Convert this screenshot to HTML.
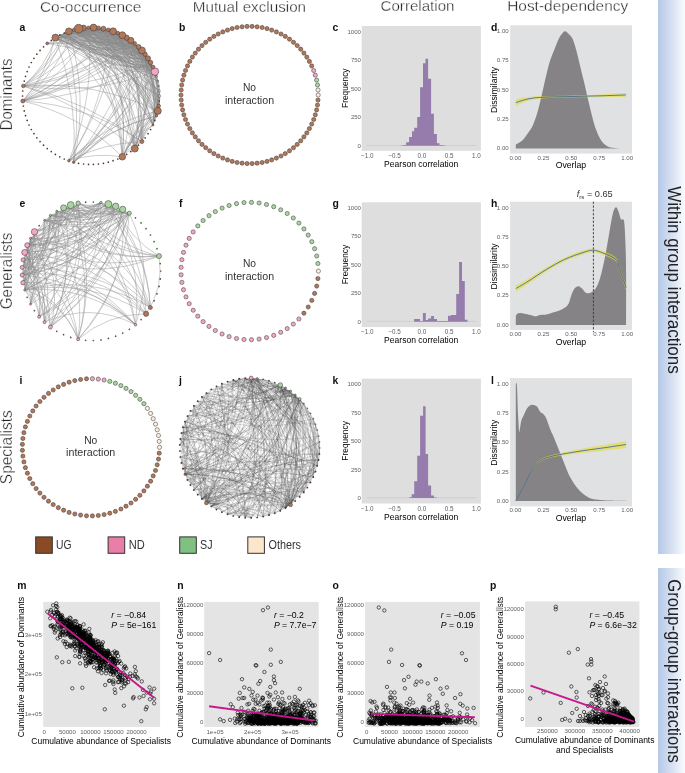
<!DOCTYPE html>
<html><head><meta charset="utf-8"><title>Figure</title><style>html,body{margin:0;padding:0;background:#fff;width:685px;height:773px;overflow:hidden}svg{display:block}text{font-family:"Liberation Sans",Arial,sans-serif}</style></head><body>
<svg width="685" height="773" viewBox="0 0 685 773">
<defs><linearGradient id="bg" x1="0" x2="1" y1="0" y2="0"><stop offset="0" stop-color="#b5c9e8"/><stop offset="0.5" stop-color="#d6e0f2"/><stop offset="1" stop-color="#f9fbfe"/></linearGradient></defs>
<rect x="658" y="0" width="27" height="554" fill="url(#bg)"/>
<rect x="658" y="568" width="27" height="205" fill="url(#bg)"/>
<text x="668" y="280" font-size="17.5" text-anchor="middle" fill="#222" textLength="187.6" lengthAdjust="spacingAndGlyphs" transform="rotate(90 668 280)">Within group interactions</text>
<text x="668" y="671" font-size="17.5" text-anchor="middle" fill="#222" textLength="183.4" lengthAdjust="spacingAndGlyphs" transform="rotate(90 668 671)">Group-group interactions</text>
<text x="90.7" y="11.6" font-size="15.3" text-anchor="middle" fill="#222" textLength="101.6" lengthAdjust="spacingAndGlyphs" stroke="#fff" stroke-width="0.35">Co-occurrence</text>
<text x="249.4" y="11.6" font-size="15.3" text-anchor="middle" fill="#222" textLength="113.3" lengthAdjust="spacingAndGlyphs" stroke="#fff" stroke-width="0.35">Mutual exclusion</text>
<text x="417.5" y="11.4" font-size="15.3" text-anchor="middle" fill="#222" textLength="73.9" lengthAdjust="spacingAndGlyphs" stroke="#fff" stroke-width="0.35">Correlation</text>
<text x="567.7" y="11.3" font-size="15.3" text-anchor="middle" fill="#222" textLength="121.1" lengthAdjust="spacingAndGlyphs" stroke="#fff" stroke-width="0.35">Host-dependency</text>
<text x="11.8" y="94.5" font-size="16.3" text-anchor="middle" fill="#222" textLength="72" lengthAdjust="spacingAndGlyphs" transform="rotate(-90 11.8 94.5)" stroke="#fff" stroke-width="0.35">Dominants</text>
<text x="11.8" y="271" font-size="16.3" text-anchor="middle" fill="#222" textLength="76.5" lengthAdjust="spacingAndGlyphs" transform="rotate(-90 11.8 271)" stroke="#fff" stroke-width="0.35">Generalists</text>
<text x="11.8" y="447.2" font-size="16.3" text-anchor="middle" fill="#222" textLength="74" lengthAdjust="spacingAndGlyphs" transform="rotate(-90 11.8 447.2)" stroke="#fff" stroke-width="0.35">Specialists</text>
<text x="19.4" y="30.8" font-size="10.4" fill="#111" font-weight="bold">a</text>
<text x="178.9" y="30.8" font-size="10.4" fill="#111" font-weight="bold">b</text>
<text x="332.4" y="30.8" font-size="10.4" fill="#111" font-weight="bold">c</text>
<text x="491" y="30.8" font-size="10.4" fill="#111" font-weight="bold">d</text>
<text x="19.4" y="207.2" font-size="10.4" fill="#111" font-weight="bold">e</text>
<text x="178.9" y="207.2" font-size="10.4" fill="#111" font-weight="bold">f</text>
<text x="332.4" y="207.2" font-size="10.4" fill="#111" font-weight="bold">g</text>
<text x="491" y="207.2" font-size="10.4" fill="#111" font-weight="bold">h</text>
<text x="19.4" y="383.6" font-size="10.4" fill="#111" font-weight="bold">i</text>
<text x="178.9" y="383.6" font-size="10.4" fill="#111" font-weight="bold">j</text>
<text x="332.4" y="383.6" font-size="10.4" fill="#111" font-weight="bold">k</text>
<text x="491" y="383.6" font-size="10.4" fill="#111" font-weight="bold">l</text>
<text x="17.2" y="589.3" font-size="10.4" fill="#111" font-weight="bold">m</text>
<text x="177.3" y="589.3" font-size="10.4" fill="#111" font-weight="bold">n</text>
<text x="332.4" y="589.3" font-size="10.4" fill="#111" font-weight="bold">o</text>
<text x="490" y="589.3" font-size="10.4" fill="#111" font-weight="bold">p</text>
<rect x="35.7" y="536.9" width="16.6" height="16.4" fill="#8b4a26" stroke="#333" stroke-width="1"/>
<rect x="108.1" y="536.9" width="16.6" height="16.4" fill="#e97fa8" stroke="#333" stroke-width="1"/>
<rect x="179.7" y="536.9" width="16.6" height="16.4" fill="#80c080" stroke="#333" stroke-width="1"/>
<rect x="247.8" y="536.9" width="16.6" height="16.4" fill="#fce6cc" stroke="#333" stroke-width="1"/>
<text x="56.1" y="549.3" font-size="12" fill="#333" textLength="15.5" lengthAdjust="spacingAndGlyphs">UG</text>
<text x="128.8" y="549.3" font-size="12" fill="#333" textLength="16" lengthAdjust="spacingAndGlyphs">ND</text>
<text x="200" y="549.3" font-size="12" fill="#333" textLength="12.5" lengthAdjust="spacingAndGlyphs">SJ</text>
<text x="268.5" y="549.3" font-size="12" fill="#333" textLength="32.5" lengthAdjust="spacingAndGlyphs">Others</text>
<rect x="361.7" y="26" width="119.2" height="124.8" fill="#dedede"/>
<line x1="367" y1="145.5" x2="476.5" y2="145.5" stroke="#c4b8d0" stroke-width="0.5"/>
<path d="M402.8 145.8V145.1H406.1V145.8ZM406.1 145.8V142.2H409.1V145.8ZM409.1 145.8V137.1H412V145.8ZM412 145.8V131.2H414.2V145.8ZM414.2 145.8V127.7H417.2V145.8ZM417.2 145.8V116.9H420.1V145.8ZM420.1 145.8V87.2H423V145.8ZM423 145.8V63.2H425.5V145.8ZM425.5 145.8V58.8H428.1V145.8ZM428.1 145.8V78.7H431.1V145.8ZM431.1 145.8V113.8H433.9V145.8ZM433.9 145.8V134.1H436.9V145.8ZM436.9 145.8V143.2H439.5V145.8ZM439.5 145.8V144.9H442.3V145.8ZM442.3 145.8V145.3H445.1V145.8ZM400 145.8V145.5H402.8V145.8Z" fill="#967cad"/>
<text x="360.9" y="33.8" font-size="6.0" text-anchor="end" fill="#606060">1000</text>
<text x="360.9" y="62.3" font-size="6.0" text-anchor="end" fill="#606060">750</text>
<text x="360.9" y="90.9" font-size="6.0" text-anchor="end" fill="#606060">500</text>
<text x="360.9" y="119.4" font-size="6.0" text-anchor="end" fill="#606060">250</text>
<text x="360.9" y="147.9" font-size="6.0" text-anchor="end" fill="#606060">0</text>
<text x="367.2" y="158" font-size="6.3" text-anchor="middle" fill="#606060">−1.0</text>
<text x="394.6" y="158" font-size="6.3" text-anchor="middle" fill="#606060">−0.5</text>
<text x="422" y="158" font-size="6.3" text-anchor="middle" fill="#606060">0.0</text>
<text x="449.2" y="158" font-size="6.3" text-anchor="middle" fill="#606060">0.5</text>
<text x="476.3" y="158" font-size="6.3" text-anchor="middle" fill="#606060">1.0</text>
<text x="348.1" y="88.2" font-size="9.2" text-anchor="middle" textLength="39.5" lengthAdjust="spacingAndGlyphs" transform="rotate(-90 348.1 88.2)">Frequency</text>
<text x="421.2" y="166.8" font-size="9.2" text-anchor="middle" textLength="74.2" lengthAdjust="spacingAndGlyphs">Pearson correlation</text>
<rect x="361.7" y="202.3" width="119.2" height="124.8" fill="#dedede"/>
<line x1="367" y1="321.4" x2="476.5" y2="321.4" stroke="#c4b8d0" stroke-width="0.5"/>
<path d="M414.1 321.7V319H420V321.7ZM420 321.7V321.1H422.9V321.7ZM422.9 321.7V313.1H425.8V321.7ZM425.8 321.7V320H428.1V321.7ZM428.1 321.7V318.6H431.1V321.7ZM431.1 321.7V315.9H434V321.7ZM434 321.7V319.1H437V321.7ZM437 321.7V321.1H445.1V321.7ZM445.1 321.7V320.9H448V321.7ZM448 321.7V315.8H451V321.7ZM451 321.7V315H456.2V321.7ZM456.2 321.7V293.9H459.1V321.7ZM459.1 321.7V262H462V321.7ZM462 321.7V281.1H464.8V321.7ZM464.8 321.7V319.7H467.5V321.7Z" fill="#967cad"/>
<text x="360.9" y="209.7" font-size="6.0" text-anchor="end" fill="#606060">1000</text>
<text x="360.9" y="238.2" font-size="6.0" text-anchor="end" fill="#606060">750</text>
<text x="360.9" y="266.8" font-size="6.0" text-anchor="end" fill="#606060">500</text>
<text x="360.9" y="295.3" font-size="6.0" text-anchor="end" fill="#606060">250</text>
<text x="360.9" y="323.8" font-size="6.0" text-anchor="end" fill="#606060">0</text>
<text x="367.2" y="334.3" font-size="6.3" text-anchor="middle" fill="#606060">−1.0</text>
<text x="394.6" y="334.3" font-size="6.3" text-anchor="middle" fill="#606060">−0.5</text>
<text x="422" y="334.3" font-size="6.3" text-anchor="middle" fill="#606060">0.0</text>
<text x="449.2" y="334.3" font-size="6.3" text-anchor="middle" fill="#606060">0.5</text>
<text x="476.3" y="334.3" font-size="6.3" text-anchor="middle" fill="#606060">1.0</text>
<text x="348.1" y="264.5" font-size="9.2" text-anchor="middle" textLength="39.5" lengthAdjust="spacingAndGlyphs" transform="rotate(-90 348.1 264.5)">Frequency</text>
<text x="421.2" y="343.1" font-size="9.2" text-anchor="middle" textLength="74.2" lengthAdjust="spacingAndGlyphs">Pearson correlation</text>
<rect x="361.7" y="378.7" width="119.2" height="124.8" fill="#dedede"/>
<line x1="367" y1="497.8" x2="476.5" y2="497.8" stroke="#c4b8d0" stroke-width="0.5"/>
<path d="M409.2 498.1V497.3H411.7V498.1ZM411.7 498.1V494.2H414.2V498.1ZM414.2 498.1V481.2H417.2V498.1ZM417.2 498.1V455.7H420.1V498.1ZM420.1 498.1V415.8H423.1V498.1ZM423.1 498.1V406.2H425.6V498.1ZM425.6 498.1V454.1H428.1V498.1ZM428.1 498.1V485.5H431.1V498.1ZM431.1 498.1V495.5H433.9V498.1ZM433.9 498.1V497.4H436.7V498.1Z" fill="#967cad"/>
<text x="360.9" y="386.1" font-size="6.0" text-anchor="end" fill="#606060">1000</text>
<text x="360.9" y="414.6" font-size="6.0" text-anchor="end" fill="#606060">750</text>
<text x="360.9" y="443.2" font-size="6.0" text-anchor="end" fill="#606060">500</text>
<text x="360.9" y="471.7" font-size="6.0" text-anchor="end" fill="#606060">250</text>
<text x="360.9" y="500.2" font-size="6.0" text-anchor="end" fill="#606060">0</text>
<text x="367.2" y="510.7" font-size="6.3" text-anchor="middle" fill="#606060">−1.0</text>
<text x="394.6" y="510.7" font-size="6.3" text-anchor="middle" fill="#606060">−0.5</text>
<text x="422" y="510.7" font-size="6.3" text-anchor="middle" fill="#606060">0.0</text>
<text x="449.2" y="510.7" font-size="6.3" text-anchor="middle" fill="#606060">0.5</text>
<text x="476.3" y="510.7" font-size="6.3" text-anchor="middle" fill="#606060">1.0</text>
<text x="348.1" y="440.9" font-size="9.2" text-anchor="middle" textLength="39.5" lengthAdjust="spacingAndGlyphs" transform="rotate(-90 348.1 440.9)">Frequency</text>
<text x="421.2" y="519.5" font-size="9.2" text-anchor="middle" textLength="74.2" lengthAdjust="spacingAndGlyphs">Pearson correlation</text>
<rect x="510.1" y="25.3" width="121.9" height="128.3" fill="#e0e1e3"/>
<path d="M515.8 144.5C516.3 144.2 517.8 143.6 519.1 142.7C520.4 141.8 522.2 140.7 523.7 139C525.2 137.3 526.7 135 528.2 132.7C529.7 130.4 531.3 128.8 532.8 125.4C534.3 122.1 535.9 117.8 537.4 112.6C538.9 107.4 540.4 100.7 541.9 94.3C543.4 87.9 545.1 79.9 546.5 74.3C547.9 68.7 548.7 64.9 550.1 60.6C551.5 56.3 553.2 52.5 554.7 48.7C556.2 44.9 557.9 40.5 559.3 37.8C560.7 35.1 561.8 33.8 562.9 32.7C564 31.6 564.8 31.2 565.7 31.4C566.6 31.6 567.4 32.7 568.4 33.8C569.4 34.9 570.9 35.9 572 37.8C573.1 39.7 573.9 42.2 574.8 45.1C575.7 48 576.4 50.9 577.5 55.1C578.6 59.4 580 65.6 581.2 70.6C582.4 75.6 583.6 80 584.8 85.2C586 90.4 587.3 96.4 588.5 101.6C589.7 106.8 590.9 111.6 592.1 116.2C593.3 120.8 594.4 125.2 595.8 129C597.2 132.8 598.8 136.4 600.3 139C601.8 141.6 603.2 143.1 604.9 144.5C606.6 145.9 608 146.9 610.4 147.6C612.8 148.2 616.9 148.2 619.5 148.4C622.1 148.6 624.8 148.5 625.9 148.5L625.9 148.6L515.8 148.6Z" fill="#858385"/>
<path d="M515.8 99.4C517.3 99.1 521.6 98.1 524.6 97.6C527.6 97.1 530.1 96.8 533.7 96.5C537.4 96.2 541.3 96.1 546.5 96C551.7 95.9 558.6 95.8 564.7 95.7C570.8 95.6 576.9 95.3 583 95.1C589.1 94.9 594.1 94.8 601.2 94.4C608.4 94 621.8 93.2 625.9 93L625.9 96.8C621.8 96.9 608.4 97.1 601.2 97.2C594.1 97.3 589.1 97.2 583 97.3C576.9 97.4 570.8 97.6 564.7 97.7C558.6 97.8 551.7 97.9 546.5 98.2C541.3 98.5 537.4 98.9 533.7 99.5C530.1 100.1 527.6 101 524.6 102C521.6 103 517.3 105.2 515.8 105.8Z" fill="#e4da30" fill-opacity="0.6"/>
<path d="M515.8 102.6C517.3 102.1 521.6 100.6 524.6 99.8C527.6 99 530.1 98.5 533.7 98C537.4 97.5 541.3 97.3 546.5 97.1C551.7 96.9 558.6 96.8 564.7 96.7C570.8 96.6 576.9 96.4 583 96.2C589.1 96 594.1 96 601.2 95.8C608.4 95.6 621.8 95.1 625.9 94.9" fill="none" stroke="#36609c" stroke-width="0.8"/>
<text x="508.7" y="33.1" font-size="6.1" text-anchor="end" fill="#606060">1.00</text>
<text x="508.7" y="62.4" font-size="6.1" text-anchor="end" fill="#606060">0.75</text>
<text x="508.7" y="91.6" font-size="6.1" text-anchor="end" fill="#606060">0.50</text>
<text x="508.7" y="120.8" font-size="6.1" text-anchor="end" fill="#606060">0.25</text>
<text x="508.7" y="150.1" font-size="6.1" text-anchor="end" fill="#606060">0.00</text>
<text x="515.4" y="159.5" font-size="6.1" text-anchor="middle" fill="#606060">0.00</text>
<text x="543.4" y="159.5" font-size="6.1" text-anchor="middle" fill="#606060">0.25</text>
<text x="571.3" y="159.5" font-size="6.1" text-anchor="middle" fill="#606060">0.50</text>
<text x="599.2" y="159.5" font-size="6.1" text-anchor="middle" fill="#606060">0.75</text>
<text x="627.2" y="159.5" font-size="6.1" text-anchor="middle" fill="#606060">1.00</text>
<text x="497.3" y="90" font-size="9.2" text-anchor="middle" textLength="46" lengthAdjust="spacingAndGlyphs" transform="rotate(-90 497.3 90)">Dissimilarity</text>
<text x="570.9" y="168.3" font-size="9.2" text-anchor="middle" textLength="30.5" lengthAdjust="spacingAndGlyphs">Overlap</text>
<rect x="510.1" y="201.7" width="121.9" height="128.3" fill="#e0e1e3"/>
<path d="M515.8 316C516 315.6 516.6 314.3 517.3 313.8C518 313.3 518.8 312.9 520 312.9C521.2 312.9 522.9 313.4 524.6 313.8C526.3 314.2 528.3 314.6 530.1 315C531.9 315.4 533.8 316.3 535.5 316.3C537.2 316.3 538.3 315.3 540.1 315C541.9 314.7 544.2 314.9 546.5 314.5C548.8 314.1 551.7 313 553.8 312.3C555.9 311.6 557.5 311.2 559.3 310.5C561.1 309.8 563.2 308.9 564.7 307.8C566.2 306.7 567.3 306.1 568.4 304.1C569.5 302.1 570.2 298.3 571.1 295.9C572 293.5 573 291 573.9 289.5C574.8 288 575.7 287.3 576.6 286.8C577.5 286.3 578.4 286.1 579.3 286.4C580.2 286.7 581.2 287.7 582.1 288.6C583 289.5 583.9 291.1 584.8 291.9C585.7 292.7 586.7 293 587.6 293.2C588.5 293.4 589.2 293.3 590.3 292.8C591.4 292.3 592.8 291.7 594 290.4C595.2 289.1 596.4 287.6 597.6 284.9C598.8 282.2 600 278.6 601.2 274C602.4 269.4 603.7 263.7 604.9 257.6C606.1 251.5 607.4 243.6 608.5 237.5C609.6 231.4 610.4 225.7 611.3 221.1C612.2 216.5 613 212.4 613.9 210.1C614.8 207.8 615.6 207.1 616.4 207.4C617.2 207.7 617.9 210 618.6 212C619.4 214 620.1 217.9 620.9 219.2C621.7 220.5 622.9 218.4 623.5 219.6C624.1 220.8 624.3 222.3 624.6 226.5C624.9 230.7 625.2 236.9 625.5 244.8C625.8 252.7 626 260.7 626.1 274C626.2 287.3 626.1 316.1 626.1 324.5L626.1 324.9L515.8 324.9Z" fill="#858385"/>
<path d="M515.8 285.6C517.9 284.5 523.1 281.9 528.2 278.8C533.3 275.8 540.4 270.8 546.5 267.3C552.6 263.7 558.6 260.3 564.7 257.5C570.8 254.7 578.3 252.1 583 250.6C587.7 249.1 589.6 248.3 593 248.4C596.4 248.5 599.3 249.6 603.1 251.1C606.9 252.6 613.1 254.9 615.8 257.4C618.5 259.9 617.8 261.7 619.5 266.3C621.2 270.9 625 281.8 626.1 284.9L626.1 290.5C625 287.2 621.2 275.6 619.5 270.7C617.8 265.8 618.5 264 615.8 261.4C613.1 258.8 606.9 256.4 603.1 254.9C599.3 253.4 596.4 252.3 593 252.2C589.6 252.1 587.7 252.9 583 254.4C578.3 255.9 570.8 258.4 564.7 261.3C558.6 264.1 552.6 267.8 546.5 271.5C540.4 275.2 533.3 280.4 528.2 283.8C523.1 287.2 517.9 290.3 515.8 291.6Z" fill="#e4da30" fill-opacity="0.6"/>
<path d="M515.8 288.6C517.9 287.4 523.1 284.5 528.2 281.3C533.3 278.1 540.4 273 546.5 269.4C552.6 265.8 558.6 262.2 564.7 259.4C570.8 256.6 578.3 254 583 252.5C587.7 251 589.6 250.2 593 250.3C596.4 250.4 599.3 251.5 603.1 253C606.9 254.5 613.1 256.8 615.8 259.4C618.5 262 617.8 263.8 619.5 268.5C621.2 273.2 625 284.5 626.1 287.7" fill="none" stroke="#36609c" stroke-width="0.8"/>
<line x1="593.4" y1="201.7" x2="593.4" y2="332" stroke="#333" stroke-width="0.9" stroke-dasharray="2.2 1.6"/>
<text x="508.7" y="209.5" font-size="6.1" text-anchor="end" fill="#606060">1.00</text>
<text x="508.7" y="238.8" font-size="6.1" text-anchor="end" fill="#606060">0.75</text>
<text x="508.7" y="268" font-size="6.1" text-anchor="end" fill="#606060">0.50</text>
<text x="508.7" y="297.2" font-size="6.1" text-anchor="end" fill="#606060">0.25</text>
<text x="508.7" y="326.5" font-size="6.1" text-anchor="end" fill="#606060">0.00</text>
<text x="515.4" y="335.9" font-size="6.1" text-anchor="middle" fill="#606060">0.00</text>
<text x="543.4" y="335.9" font-size="6.1" text-anchor="middle" fill="#606060">0.25</text>
<text x="571.3" y="335.9" font-size="6.1" text-anchor="middle" fill="#606060">0.50</text>
<text x="599.2" y="335.9" font-size="6.1" text-anchor="middle" fill="#606060">0.75</text>
<text x="627.2" y="335.9" font-size="6.1" text-anchor="middle" fill="#606060">1.00</text>
<text x="497.3" y="266.4" font-size="9.2" text-anchor="middle" textLength="46" lengthAdjust="spacingAndGlyphs" transform="rotate(-90 497.3 266.4)">Dissimilarity</text>
<text x="570.9" y="344.7" font-size="9.2" text-anchor="middle" textLength="30.5" lengthAdjust="spacingAndGlyphs">Overlap</text>
<text x="576.8" y="197.3" font-size="9.2" fill="#333"><tspan font-style="italic">f</tspan><tspan font-size="6" dy="2">rs</tspan><tspan dy="-2"> = 0.65</tspan></text>
<rect x="510.1" y="378.1" width="121.9" height="128.3" fill="#e0e1e3"/>
<path d="M515.8 384.3C516 384.4 516.5 380.3 516.9 385.2C517.3 390.1 517.6 405.8 518 413.5C518.4 421.2 518.8 429.3 519.1 431.7C519.4 434.1 519.6 429.9 520 428.1C520.4 426.3 520.7 422.9 521.3 420.8C521.9 418.7 522.7 417.4 523.7 415.3C524.7 413.2 526.1 409.7 527.3 408C528.5 406.3 529.8 405.3 531 404.9C532.2 404.4 533.5 404.9 534.6 405.3C535.7 405.7 536.5 406 537.4 407.1C538.3 408.2 539 410.5 540.1 411.7C541.2 412.9 542.7 413.2 543.8 414.4C544.9 415.6 545.5 416.6 546.5 419C547.5 421.4 548.9 426 550.1 429C551.3 432 552.6 434.3 553.8 437.2C555 440.1 556.2 443.2 557.4 446.3C558.6 449.4 559.9 452.4 561.1 455.5C562.3 458.6 563.5 461.6 564.7 464.6C565.9 467.6 567 470.8 568.4 473.7C569.8 476.6 571.5 479.5 573 481.9C574.5 484.3 575.8 486.3 577.5 488.3C579.2 490.3 581.2 492.3 583 493.8C584.8 495.3 586.4 496.4 588.5 497.4C590.6 498.4 592.8 499.1 595.8 499.6C598.8 500.1 601.7 500.3 606.7 500.5C611.8 500.7 622.9 500.7 626.1 500.7L626.1 501L515.8 501Z" fill="#858385"/>
<path d="M515.8 500.6C516.6 499 519.4 493.8 520.9 491C522.4 488.2 523.4 486.5 524.6 484C525.8 481.5 527 478.7 528.2 476.2C529.4 473.7 530.7 471.2 531.9 469.2C533.1 467.2 534.3 465.4 535.5 464C536.7 462.6 538 461.5 539.2 460.5C540.4 459.5 541.3 458.7 542.8 458C544.3 457.3 546.5 456.7 548.3 456.1C550.1 455.5 551.4 455.1 553.8 454.5C556.2 453.9 558 453.5 562.9 452.5C567.8 451.5 576.6 449.8 583 448.6C589.4 447.4 594 446.8 601.2 445.5C608.4 444.2 622 441.7 626.1 440.9L626.1 448.1C622 448.6 608.4 450.1 601.2 450.9C594 451.7 589.4 452 583 452.8C576.6 453.6 567.8 454.8 562.9 455.5C558 456.2 556.2 456.6 553.8 457.1C551.4 457.6 550.1 458 548.3 458.5C546.5 459 544.3 459.5 542.8 460.2C541.3 460.9 540.4 461.5 539.2 462.5C538 463.5 536.7 464.6 535.5 466C534.3 467.4 533.1 469 531.9 471C530.7 473 529.4 475.4 528.2 477.8C527 480.2 525.8 483 524.6 485.4C523.4 487.8 522.4 489.5 520.9 492.2C519.4 494.9 516.6 500 515.8 501.6Z" fill="#e4da30" fill-opacity="0.6"/>
<path d="M515.8 501.1C516.6 499.5 519.4 494.3 520.9 491.6C522.4 488.9 523.4 487.1 524.6 484.7C525.8 482.3 527 479.4 528.2 477C529.4 474.6 530.7 472.1 531.9 470.1C533.1 468.1 534.3 466.4 535.5 465C536.7 463.6 538 462.5 539.2 461.5C540.4 460.5 541.3 459.8 542.8 459.1C544.3 458.4 546.5 457.9 548.3 457.3C550.1 456.8 551.4 456.4 553.8 455.8C556.2 455.2 558 454.9 562.9 454C567.8 453.1 576.6 451.7 583 450.7C589.4 449.7 594 449.2 601.2 448.2C608.4 447.2 622 445.1 626.1 444.5" fill="none" stroke="#36609c" stroke-width="0.8"/>
<text x="508.7" y="385.9" font-size="6.1" text-anchor="end" fill="#606060">1.00</text>
<text x="508.7" y="415.2" font-size="6.1" text-anchor="end" fill="#606060">0.75</text>
<text x="508.7" y="444.4" font-size="6.1" text-anchor="end" fill="#606060">0.50</text>
<text x="508.7" y="473.7" font-size="6.1" text-anchor="end" fill="#606060">0.25</text>
<text x="508.7" y="502.9" font-size="6.1" text-anchor="end" fill="#606060">0.00</text>
<text x="515.4" y="512.3" font-size="6.1" text-anchor="middle" fill="#606060">0.00</text>
<text x="543.4" y="512.3" font-size="6.1" text-anchor="middle" fill="#606060">0.25</text>
<text x="571.3" y="512.3" font-size="6.1" text-anchor="middle" fill="#606060">0.50</text>
<text x="599.2" y="512.3" font-size="6.1" text-anchor="middle" fill="#606060">0.75</text>
<text x="627.2" y="512.3" font-size="6.1" text-anchor="middle" fill="#606060">1.00</text>
<text x="497.3" y="442.8" font-size="9.2" text-anchor="middle" textLength="46" lengthAdjust="spacingAndGlyphs" transform="rotate(-90 497.3 442.8)">Dissimilarity</text>
<text x="570.9" y="521.1" font-size="9.2" text-anchor="middle" textLength="30.5" lengthAdjust="spacingAndGlyphs">Overlap</text>
<rect x="43.2" y="601.9" width="116.9" height="125" fill="#e4e4e4"/>
<path d="M61 622a1.7 1.7 0 1 0 3.4 0a1.7 1.7 0 1 0 -3.4 0M62.2 622.4a1.7 1.7 0 1 0 3.4 0a1.7 1.7 0 1 0 -3.4 0M93.4 650.6a1.7 1.7 0 1 0 3.4 0a1.7 1.7 0 1 0 -3.4 0M86.6 662.4a1.7 1.7 0 1 0 3.4 0a1.7 1.7 0 1 0 -3.4 0M103 653.2a1.7 1.7 0 1 0 3.4 0a1.7 1.7 0 1 0 -3.4 0M79.1 640.7a1.7 1.7 0 1 0 3.4 0a1.7 1.7 0 1 0 -3.4 0M78.2 634.4a1.7 1.7 0 1 0 3.4 0a1.7 1.7 0 1 0 -3.4 0M87.1 651.2a1.7 1.7 0 1 0 3.4 0a1.7 1.7 0 1 0 -3.4 0M105.1 656.2a1.7 1.7 0 1 0 3.4 0a1.7 1.7 0 1 0 -3.4 0M96.9 644.6a1.7 1.7 0 1 0 3.4 0a1.7 1.7 0 1 0 -3.4 0M56.3 616.7a1.7 1.7 0 1 0 3.4 0a1.7 1.7 0 1 0 -3.4 0M72.7 644a1.7 1.7 0 1 0 3.4 0a1.7 1.7 0 1 0 -3.4 0M100.3 660.5a1.7 1.7 0 1 0 3.4 0a1.7 1.7 0 1 0 -3.4 0M99.9 657.6a1.7 1.7 0 1 0 3.4 0a1.7 1.7 0 1 0 -3.4 0M98.1 652.2a1.7 1.7 0 1 0 3.4 0a1.7 1.7 0 1 0 -3.4 0M68.9 634.4a1.7 1.7 0 1 0 3.4 0a1.7 1.7 0 1 0 -3.4 0M102.4 650.6a1.7 1.7 0 1 0 3.4 0a1.7 1.7 0 1 0 -3.4 0M78.4 635.1a1.7 1.7 0 1 0 3.4 0a1.7 1.7 0 1 0 -3.4 0M87 654.5a1.7 1.7 0 1 0 3.4 0a1.7 1.7 0 1 0 -3.4 0M126.9 679a1.7 1.7 0 1 0 3.4 0a1.7 1.7 0 1 0 -3.4 0M89.7 644a1.7 1.7 0 1 0 3.4 0a1.7 1.7 0 1 0 -3.4 0M95 652.1a1.7 1.7 0 1 0 3.4 0a1.7 1.7 0 1 0 -3.4 0M95.5 652.9a1.7 1.7 0 1 0 3.4 0a1.7 1.7 0 1 0 -3.4 0M76.9 643.9a1.7 1.7 0 1 0 3.4 0a1.7 1.7 0 1 0 -3.4 0M118 678.2a1.7 1.7 0 1 0 3.4 0a1.7 1.7 0 1 0 -3.4 0M75.6 625.5a1.7 1.7 0 1 0 3.4 0a1.7 1.7 0 1 0 -3.4 0M107.3 681a1.7 1.7 0 1 0 3.4 0a1.7 1.7 0 1 0 -3.4 0M82.6 644.5a1.7 1.7 0 1 0 3.4 0a1.7 1.7 0 1 0 -3.4 0M91.4 658.8a1.7 1.7 0 1 0 3.4 0a1.7 1.7 0 1 0 -3.4 0M69.6 624.8a1.7 1.7 0 1 0 3.4 0a1.7 1.7 0 1 0 -3.4 0M105.4 654.3a1.7 1.7 0 1 0 3.4 0a1.7 1.7 0 1 0 -3.4 0M92.4 667.2a1.7 1.7 0 1 0 3.4 0a1.7 1.7 0 1 0 -3.4 0M65.2 623.7a1.7 1.7 0 1 0 3.4 0a1.7 1.7 0 1 0 -3.4 0M96.6 651.2a1.7 1.7 0 1 0 3.4 0a1.7 1.7 0 1 0 -3.4 0M79.7 639.4a1.7 1.7 0 1 0 3.4 0a1.7 1.7 0 1 0 -3.4 0M66.9 626a1.7 1.7 0 1 0 3.4 0a1.7 1.7 0 1 0 -3.4 0M87.5 663.4a1.7 1.7 0 1 0 3.4 0a1.7 1.7 0 1 0 -3.4 0M95.7 662.4a1.7 1.7 0 1 0 3.4 0a1.7 1.7 0 1 0 -3.4 0M111.4 663a1.7 1.7 0 1 0 3.4 0a1.7 1.7 0 1 0 -3.4 0M90 655.3a1.7 1.7 0 1 0 3.4 0a1.7 1.7 0 1 0 -3.4 0M95.4 654.5a1.7 1.7 0 1 0 3.4 0a1.7 1.7 0 1 0 -3.4 0M104.8 657.5a1.7 1.7 0 1 0 3.4 0a1.7 1.7 0 1 0 -3.4 0M88.7 640.3a1.7 1.7 0 1 0 3.4 0a1.7 1.7 0 1 0 -3.4 0M79.9 644.5a1.7 1.7 0 1 0 3.4 0a1.7 1.7 0 1 0 -3.4 0M50.6 625.2a1.7 1.7 0 1 0 3.4 0a1.7 1.7 0 1 0 -3.4 0M87.8 641.8a1.7 1.7 0 1 0 3.4 0a1.7 1.7 0 1 0 -3.4 0M69.5 635.9a1.7 1.7 0 1 0 3.4 0a1.7 1.7 0 1 0 -3.4 0M67.8 625.3a1.7 1.7 0 1 0 3.4 0a1.7 1.7 0 1 0 -3.4 0M67.8 630.4a1.7 1.7 0 1 0 3.4 0a1.7 1.7 0 1 0 -3.4 0M95.2 653a1.7 1.7 0 1 0 3.4 0a1.7 1.7 0 1 0 -3.4 0M66.1 626.9a1.7 1.7 0 1 0 3.4 0a1.7 1.7 0 1 0 -3.4 0M68.1 617.7a1.7 1.7 0 1 0 3.4 0a1.7 1.7 0 1 0 -3.4 0M55.2 619.4a1.7 1.7 0 1 0 3.4 0a1.7 1.7 0 1 0 -3.4 0M60.4 617.3a1.7 1.7 0 1 0 3.4 0a1.7 1.7 0 1 0 -3.4 0M61.7 641.2a1.7 1.7 0 1 0 3.4 0a1.7 1.7 0 1 0 -3.4 0M106.6 651.9a1.7 1.7 0 1 0 3.4 0a1.7 1.7 0 1 0 -3.4 0M81.9 631.5a1.7 1.7 0 1 0 3.4 0a1.7 1.7 0 1 0 -3.4 0M88.5 640.7a1.7 1.7 0 1 0 3.4 0a1.7 1.7 0 1 0 -3.4 0M109.6 659.9a1.7 1.7 0 1 0 3.4 0a1.7 1.7 0 1 0 -3.4 0M87.9 648.2a1.7 1.7 0 1 0 3.4 0a1.7 1.7 0 1 0 -3.4 0M52.1 629a1.7 1.7 0 1 0 3.4 0a1.7 1.7 0 1 0 -3.4 0M85.4 647.2a1.7 1.7 0 1 0 3.4 0a1.7 1.7 0 1 0 -3.4 0M107.5 653.7a1.7 1.7 0 1 0 3.4 0a1.7 1.7 0 1 0 -3.4 0M97.4 646.9a1.7 1.7 0 1 0 3.4 0a1.7 1.7 0 1 0 -3.4 0M90.7 648.1a1.7 1.7 0 1 0 3.4 0a1.7 1.7 0 1 0 -3.4 0M117.9 661a1.7 1.7 0 1 0 3.4 0a1.7 1.7 0 1 0 -3.4 0M69.9 646.6a1.7 1.7 0 1 0 3.4 0a1.7 1.7 0 1 0 -3.4 0M85.1 643.3a1.7 1.7 0 1 0 3.4 0a1.7 1.7 0 1 0 -3.4 0M59.9 619.1a1.7 1.7 0 1 0 3.4 0a1.7 1.7 0 1 0 -3.4 0M95.7 647.4a1.7 1.7 0 1 0 3.4 0a1.7 1.7 0 1 0 -3.4 0M97.3 658.6a1.7 1.7 0 1 0 3.4 0a1.7 1.7 0 1 0 -3.4 0M112.9 651.4a1.7 1.7 0 1 0 3.4 0a1.7 1.7 0 1 0 -3.4 0M88.6 642.7a1.7 1.7 0 1 0 3.4 0a1.7 1.7 0 1 0 -3.4 0M113.1 663.4a1.7 1.7 0 1 0 3.4 0a1.7 1.7 0 1 0 -3.4 0M72.1 643.7a1.7 1.7 0 1 0 3.4 0a1.7 1.7 0 1 0 -3.4 0M100.1 661.9a1.7 1.7 0 1 0 3.4 0a1.7 1.7 0 1 0 -3.4 0M88 642.8a1.7 1.7 0 1 0 3.4 0a1.7 1.7 0 1 0 -3.4 0M59 620.8a1.7 1.7 0 1 0 3.4 0a1.7 1.7 0 1 0 -3.4 0M101.2 642.3a1.7 1.7 0 1 0 3.4 0a1.7 1.7 0 1 0 -3.4 0M91.1 662.3a1.7 1.7 0 1 0 3.4 0a1.7 1.7 0 1 0 -3.4 0M85.8 647.5a1.7 1.7 0 1 0 3.4 0a1.7 1.7 0 1 0 -3.4 0M67.7 631a1.7 1.7 0 1 0 3.4 0a1.7 1.7 0 1 0 -3.4 0M60.3 615.2a1.7 1.7 0 1 0 3.4 0a1.7 1.7 0 1 0 -3.4 0M95.1 668.5a1.7 1.7 0 1 0 3.4 0a1.7 1.7 0 1 0 -3.4 0M71.8 632.1a1.7 1.7 0 1 0 3.4 0a1.7 1.7 0 1 0 -3.4 0M99.5 654.3a1.7 1.7 0 1 0 3.4 0a1.7 1.7 0 1 0 -3.4 0M74.4 636.4a1.7 1.7 0 1 0 3.4 0a1.7 1.7 0 1 0 -3.4 0M61 631.3a1.7 1.7 0 1 0 3.4 0a1.7 1.7 0 1 0 -3.4 0M78.1 626.3a1.7 1.7 0 1 0 3.4 0a1.7 1.7 0 1 0 -3.4 0M81.6 633.9a1.7 1.7 0 1 0 3.4 0a1.7 1.7 0 1 0 -3.4 0M136.2 678.5a1.7 1.7 0 1 0 3.4 0a1.7 1.7 0 1 0 -3.4 0M88.5 638.6a1.7 1.7 0 1 0 3.4 0a1.7 1.7 0 1 0 -3.4 0M95.1 660a1.7 1.7 0 1 0 3.4 0a1.7 1.7 0 1 0 -3.4 0M93 658.1a1.7 1.7 0 1 0 3.4 0a1.7 1.7 0 1 0 -3.4 0M86.8 639.4a1.7 1.7 0 1 0 3.4 0a1.7 1.7 0 1 0 -3.4 0M92.3 648.5a1.7 1.7 0 1 0 3.4 0a1.7 1.7 0 1 0 -3.4 0M91.1 646.1a1.7 1.7 0 1 0 3.4 0a1.7 1.7 0 1 0 -3.4 0M78.3 626.1a1.7 1.7 0 1 0 3.4 0a1.7 1.7 0 1 0 -3.4 0M105.2 653.7a1.7 1.7 0 1 0 3.4 0a1.7 1.7 0 1 0 -3.4 0M95.8 649.5a1.7 1.7 0 1 0 3.4 0a1.7 1.7 0 1 0 -3.4 0M76.6 639.3a1.7 1.7 0 1 0 3.4 0a1.7 1.7 0 1 0 -3.4 0M79.1 631.3a1.7 1.7 0 1 0 3.4 0a1.7 1.7 0 1 0 -3.4 0M78.3 652a1.7 1.7 0 1 0 3.4 0a1.7 1.7 0 1 0 -3.4 0M113.9 653.3a1.7 1.7 0 1 0 3.4 0a1.7 1.7 0 1 0 -3.4 0M72.9 628.5a1.7 1.7 0 1 0 3.4 0a1.7 1.7 0 1 0 -3.4 0M58.4 637a1.7 1.7 0 1 0 3.4 0a1.7 1.7 0 1 0 -3.4 0M79.9 629.2a1.7 1.7 0 1 0 3.4 0a1.7 1.7 0 1 0 -3.4 0M104.3 663.4a1.7 1.7 0 1 0 3.4 0a1.7 1.7 0 1 0 -3.4 0M65.2 622.7a1.7 1.7 0 1 0 3.4 0a1.7 1.7 0 1 0 -3.4 0M97.6 647.9a1.7 1.7 0 1 0 3.4 0a1.7 1.7 0 1 0 -3.4 0M98.4 653.2a1.7 1.7 0 1 0 3.4 0a1.7 1.7 0 1 0 -3.4 0M101.8 665.2a1.7 1.7 0 1 0 3.4 0a1.7 1.7 0 1 0 -3.4 0M108.9 660.3a1.7 1.7 0 1 0 3.4 0a1.7 1.7 0 1 0 -3.4 0M79.8 644.1a1.7 1.7 0 1 0 3.4 0a1.7 1.7 0 1 0 -3.4 0M77.8 630.3a1.7 1.7 0 1 0 3.4 0a1.7 1.7 0 1 0 -3.4 0M77.8 632.3a1.7 1.7 0 1 0 3.4 0a1.7 1.7 0 1 0 -3.4 0M100.6 663.3a1.7 1.7 0 1 0 3.4 0a1.7 1.7 0 1 0 -3.4 0M106.4 652.6a1.7 1.7 0 1 0 3.4 0a1.7 1.7 0 1 0 -3.4 0M91.4 651.5a1.7 1.7 0 1 0 3.4 0a1.7 1.7 0 1 0 -3.4 0M65.9 619.9a1.7 1.7 0 1 0 3.4 0a1.7 1.7 0 1 0 -3.4 0M99.8 646.5a1.7 1.7 0 1 0 3.4 0a1.7 1.7 0 1 0 -3.4 0M87.7 648.4a1.7 1.7 0 1 0 3.4 0a1.7 1.7 0 1 0 -3.4 0M97.9 663.2a1.7 1.7 0 1 0 3.4 0a1.7 1.7 0 1 0 -3.4 0M78.1 641.7a1.7 1.7 0 1 0 3.4 0a1.7 1.7 0 1 0 -3.4 0M86.3 662.4a1.7 1.7 0 1 0 3.4 0a1.7 1.7 0 1 0 -3.4 0M104.9 670.6a1.7 1.7 0 1 0 3.4 0a1.7 1.7 0 1 0 -3.4 0M60.6 632.2a1.7 1.7 0 1 0 3.4 0a1.7 1.7 0 1 0 -3.4 0M111.7 675a1.7 1.7 0 1 0 3.4 0a1.7 1.7 0 1 0 -3.4 0M52.3 613.2a1.7 1.7 0 1 0 3.4 0a1.7 1.7 0 1 0 -3.4 0M79.5 645a1.7 1.7 0 1 0 3.4 0a1.7 1.7 0 1 0 -3.4 0M87.5 636.6a1.7 1.7 0 1 0 3.4 0a1.7 1.7 0 1 0 -3.4 0M77 645.6a1.7 1.7 0 1 0 3.4 0a1.7 1.7 0 1 0 -3.4 0M115.4 652.6a1.7 1.7 0 1 0 3.4 0a1.7 1.7 0 1 0 -3.4 0M89.9 644.1a1.7 1.7 0 1 0 3.4 0a1.7 1.7 0 1 0 -3.4 0M52.9 626.6a1.7 1.7 0 1 0 3.4 0a1.7 1.7 0 1 0 -3.4 0M89 655.8a1.7 1.7 0 1 0 3.4 0a1.7 1.7 0 1 0 -3.4 0M73.2 646.2a1.7 1.7 0 1 0 3.4 0a1.7 1.7 0 1 0 -3.4 0M93.2 657.2a1.7 1.7 0 1 0 3.4 0a1.7 1.7 0 1 0 -3.4 0M81 636.1a1.7 1.7 0 1 0 3.4 0a1.7 1.7 0 1 0 -3.4 0M93.8 640.1a1.7 1.7 0 1 0 3.4 0a1.7 1.7 0 1 0 -3.4 0M71 625.2a1.7 1.7 0 1 0 3.4 0a1.7 1.7 0 1 0 -3.4 0M82.8 638.8a1.7 1.7 0 1 0 3.4 0a1.7 1.7 0 1 0 -3.4 0M70.5 627.6a1.7 1.7 0 1 0 3.4 0a1.7 1.7 0 1 0 -3.4 0M51.4 605.3a1.7 1.7 0 1 0 3.4 0a1.7 1.7 0 1 0 -3.4 0M106.9 654.3a1.7 1.7 0 1 0 3.4 0a1.7 1.7 0 1 0 -3.4 0M53.8 630.7a1.7 1.7 0 1 0 3.4 0a1.7 1.7 0 1 0 -3.4 0M72.7 639.5a1.7 1.7 0 1 0 3.4 0a1.7 1.7 0 1 0 -3.4 0M105.7 653.6a1.7 1.7 0 1 0 3.4 0a1.7 1.7 0 1 0 -3.4 0M74.6 629.2a1.7 1.7 0 1 0 3.4 0a1.7 1.7 0 1 0 -3.4 0M69.4 622.3a1.7 1.7 0 1 0 3.4 0a1.7 1.7 0 1 0 -3.4 0M74.4 637a1.7 1.7 0 1 0 3.4 0a1.7 1.7 0 1 0 -3.4 0M84.3 665.9a1.7 1.7 0 1 0 3.4 0a1.7 1.7 0 1 0 -3.4 0M61 626a1.7 1.7 0 1 0 3.4 0a1.7 1.7 0 1 0 -3.4 0M87.8 657.9a1.7 1.7 0 1 0 3.4 0a1.7 1.7 0 1 0 -3.4 0M84.1 647.8a1.7 1.7 0 1 0 3.4 0a1.7 1.7 0 1 0 -3.4 0M81.9 624.4a1.7 1.7 0 1 0 3.4 0a1.7 1.7 0 1 0 -3.4 0M58.6 619.1a1.7 1.7 0 1 0 3.4 0a1.7 1.7 0 1 0 -3.4 0M77.3 633.3a1.7 1.7 0 1 0 3.4 0a1.7 1.7 0 1 0 -3.4 0M78.5 650.8a1.7 1.7 0 1 0 3.4 0a1.7 1.7 0 1 0 -3.4 0M58.2 635a1.7 1.7 0 1 0 3.4 0a1.7 1.7 0 1 0 -3.4 0M77.6 627.9a1.7 1.7 0 1 0 3.4 0a1.7 1.7 0 1 0 -3.4 0M80 634.1a1.7 1.7 0 1 0 3.4 0a1.7 1.7 0 1 0 -3.4 0M111.3 682.2a1.7 1.7 0 1 0 3.4 0a1.7 1.7 0 1 0 -3.4 0M98.5 666.4a1.7 1.7 0 1 0 3.4 0a1.7 1.7 0 1 0 -3.4 0M110.8 652.9a1.7 1.7 0 1 0 3.4 0a1.7 1.7 0 1 0 -3.4 0M110.2 671.3a1.7 1.7 0 1 0 3.4 0a1.7 1.7 0 1 0 -3.4 0M101.9 661a1.7 1.7 0 1 0 3.4 0a1.7 1.7 0 1 0 -3.4 0M102.7 664.8a1.7 1.7 0 1 0 3.4 0a1.7 1.7 0 1 0 -3.4 0M77.8 632.8a1.7 1.7 0 1 0 3.4 0a1.7 1.7 0 1 0 -3.4 0M63.3 635.3a1.7 1.7 0 1 0 3.4 0a1.7 1.7 0 1 0 -3.4 0M69.4 645.5a1.7 1.7 0 1 0 3.4 0a1.7 1.7 0 1 0 -3.4 0M91.8 648a1.7 1.7 0 1 0 3.4 0a1.7 1.7 0 1 0 -3.4 0M98.8 647.1a1.7 1.7 0 1 0 3.4 0a1.7 1.7 0 1 0 -3.4 0M88.4 635.7a1.7 1.7 0 1 0 3.4 0a1.7 1.7 0 1 0 -3.4 0M100.3 661.8a1.7 1.7 0 1 0 3.4 0a1.7 1.7 0 1 0 -3.4 0M83.6 638.4a1.7 1.7 0 1 0 3.4 0a1.7 1.7 0 1 0 -3.4 0M93.6 647.5a1.7 1.7 0 1 0 3.4 0a1.7 1.7 0 1 0 -3.4 0M58.3 617.4a1.7 1.7 0 1 0 3.4 0a1.7 1.7 0 1 0 -3.4 0M112.9 656.5a1.7 1.7 0 1 0 3.4 0a1.7 1.7 0 1 0 -3.4 0M69.6 628.4a1.7 1.7 0 1 0 3.4 0a1.7 1.7 0 1 0 -3.4 0M97.7 660.8a1.7 1.7 0 1 0 3.4 0a1.7 1.7 0 1 0 -3.4 0M98.3 651.2a1.7 1.7 0 1 0 3.4 0a1.7 1.7 0 1 0 -3.4 0M78 632.5a1.7 1.7 0 1 0 3.4 0a1.7 1.7 0 1 0 -3.4 0M91.6 645.4a1.7 1.7 0 1 0 3.4 0a1.7 1.7 0 1 0 -3.4 0M58.8 616.8a1.7 1.7 0 1 0 3.4 0a1.7 1.7 0 1 0 -3.4 0M71.4 629a1.7 1.7 0 1 0 3.4 0a1.7 1.7 0 1 0 -3.4 0M83.1 657.9a1.7 1.7 0 1 0 3.4 0a1.7 1.7 0 1 0 -3.4 0M107.9 670.4a1.7 1.7 0 1 0 3.4 0a1.7 1.7 0 1 0 -3.4 0M71.2 630a1.7 1.7 0 1 0 3.4 0a1.7 1.7 0 1 0 -3.4 0M65.5 628.4a1.7 1.7 0 1 0 3.4 0a1.7 1.7 0 1 0 -3.4 0M73.4 634.9a1.7 1.7 0 1 0 3.4 0a1.7 1.7 0 1 0 -3.4 0M101.9 650.7a1.7 1.7 0 1 0 3.4 0a1.7 1.7 0 1 0 -3.4 0M116.1 682.1a1.7 1.7 0 1 0 3.4 0a1.7 1.7 0 1 0 -3.4 0M96.5 657.8a1.7 1.7 0 1 0 3.4 0a1.7 1.7 0 1 0 -3.4 0M85.5 645.8a1.7 1.7 0 1 0 3.4 0a1.7 1.7 0 1 0 -3.4 0M77.6 631.3a1.7 1.7 0 1 0 3.4 0a1.7 1.7 0 1 0 -3.4 0M113.1 661.2a1.7 1.7 0 1 0 3.4 0a1.7 1.7 0 1 0 -3.4 0M94.6 657.5a1.7 1.7 0 1 0 3.4 0a1.7 1.7 0 1 0 -3.4 0M78.1 628.6a1.7 1.7 0 1 0 3.4 0a1.7 1.7 0 1 0 -3.4 0M123.4 666.3a1.7 1.7 0 1 0 3.4 0a1.7 1.7 0 1 0 -3.4 0M89.6 662a1.7 1.7 0 1 0 3.4 0a1.7 1.7 0 1 0 -3.4 0M110.5 662.1a1.7 1.7 0 1 0 3.4 0a1.7 1.7 0 1 0 -3.4 0M75.5 629.2a1.7 1.7 0 1 0 3.4 0a1.7 1.7 0 1 0 -3.4 0M97.8 647.4a1.7 1.7 0 1 0 3.4 0a1.7 1.7 0 1 0 -3.4 0M92.4 646.8a1.7 1.7 0 1 0 3.4 0a1.7 1.7 0 1 0 -3.4 0M61.6 618.5a1.7 1.7 0 1 0 3.4 0a1.7 1.7 0 1 0 -3.4 0M79.7 642.2a1.7 1.7 0 1 0 3.4 0a1.7 1.7 0 1 0 -3.4 0M60.6 619.5a1.7 1.7 0 1 0 3.4 0a1.7 1.7 0 1 0 -3.4 0M111.3 658.9a1.7 1.7 0 1 0 3.4 0a1.7 1.7 0 1 0 -3.4 0M106.3 658.3a1.7 1.7 0 1 0 3.4 0a1.7 1.7 0 1 0 -3.4 0M91.1 645.1a1.7 1.7 0 1 0 3.4 0a1.7 1.7 0 1 0 -3.4 0M90.7 642.9a1.7 1.7 0 1 0 3.4 0a1.7 1.7 0 1 0 -3.4 0M103.7 659.7a1.7 1.7 0 1 0 3.4 0a1.7 1.7 0 1 0 -3.4 0M84.7 642.1a1.7 1.7 0 1 0 3.4 0a1.7 1.7 0 1 0 -3.4 0M52.3 612.5a1.7 1.7 0 1 0 3.4 0a1.7 1.7 0 1 0 -3.4 0M58.1 627.5a1.7 1.7 0 1 0 3.4 0a1.7 1.7 0 1 0 -3.4 0M60.7 620.4a1.7 1.7 0 1 0 3.4 0a1.7 1.7 0 1 0 -3.4 0M73.3 621.1a1.7 1.7 0 1 0 3.4 0a1.7 1.7 0 1 0 -3.4 0M97.3 643.6a1.7 1.7 0 1 0 3.4 0a1.7 1.7 0 1 0 -3.4 0M96.7 641.2a1.7 1.7 0 1 0 3.4 0a1.7 1.7 0 1 0 -3.4 0M110.5 658a1.7 1.7 0 1 0 3.4 0a1.7 1.7 0 1 0 -3.4 0M75.8 624.8a1.7 1.7 0 1 0 3.4 0a1.7 1.7 0 1 0 -3.4 0M74.9 632.5a1.7 1.7 0 1 0 3.4 0a1.7 1.7 0 1 0 -3.4 0M102.7 664.1a1.7 1.7 0 1 0 3.4 0a1.7 1.7 0 1 0 -3.4 0M103.5 685a1.7 1.7 0 1 0 3.4 0a1.7 1.7 0 1 0 -3.4 0M80.9 638.1a1.7 1.7 0 1 0 3.4 0a1.7 1.7 0 1 0 -3.4 0M86.2 653.9a1.7 1.7 0 1 0 3.4 0a1.7 1.7 0 1 0 -3.4 0M90.7 650.6a1.7 1.7 0 1 0 3.4 0a1.7 1.7 0 1 0 -3.4 0M89.6 648.6a1.7 1.7 0 1 0 3.4 0a1.7 1.7 0 1 0 -3.4 0M59.3 632.7a1.7 1.7 0 1 0 3.4 0a1.7 1.7 0 1 0 -3.4 0M99.3 668.5a1.7 1.7 0 1 0 3.4 0a1.7 1.7 0 1 0 -3.4 0M73.8 627.3a1.7 1.7 0 1 0 3.4 0a1.7 1.7 0 1 0 -3.4 0M86.2 643.6a1.7 1.7 0 1 0 3.4 0a1.7 1.7 0 1 0 -3.4 0M75.4 637a1.7 1.7 0 1 0 3.4 0a1.7 1.7 0 1 0 -3.4 0M128.2 676.7a1.7 1.7 0 1 0 3.4 0a1.7 1.7 0 1 0 -3.4 0M66.8 628.4a1.7 1.7 0 1 0 3.4 0a1.7 1.7 0 1 0 -3.4 0M75.4 644.4a1.7 1.7 0 1 0 3.4 0a1.7 1.7 0 1 0 -3.4 0M84.5 639.6a1.7 1.7 0 1 0 3.4 0a1.7 1.7 0 1 0 -3.4 0M60.8 625.7a1.7 1.7 0 1 0 3.4 0a1.7 1.7 0 1 0 -3.4 0M75.6 637a1.7 1.7 0 1 0 3.4 0a1.7 1.7 0 1 0 -3.4 0M97.6 652.8a1.7 1.7 0 1 0 3.4 0a1.7 1.7 0 1 0 -3.4 0M67.5 628.9a1.7 1.7 0 1 0 3.4 0a1.7 1.7 0 1 0 -3.4 0M83.7 658.8a1.7 1.7 0 1 0 3.4 0a1.7 1.7 0 1 0 -3.4 0M100.2 644.1a1.7 1.7 0 1 0 3.4 0a1.7 1.7 0 1 0 -3.4 0M97.4 650.9a1.7 1.7 0 1 0 3.4 0a1.7 1.7 0 1 0 -3.4 0M102.1 655.7a1.7 1.7 0 1 0 3.4 0a1.7 1.7 0 1 0 -3.4 0M108.6 656.5a1.7 1.7 0 1 0 3.4 0a1.7 1.7 0 1 0 -3.4 0M73.2 637.1a1.7 1.7 0 1 0 3.4 0a1.7 1.7 0 1 0 -3.4 0M91.5 643.6a1.7 1.7 0 1 0 3.4 0a1.7 1.7 0 1 0 -3.4 0M90.4 648.8a1.7 1.7 0 1 0 3.4 0a1.7 1.7 0 1 0 -3.4 0M104 661.1a1.7 1.7 0 1 0 3.4 0a1.7 1.7 0 1 0 -3.4 0M91.3 642.8a1.7 1.7 0 1 0 3.4 0a1.7 1.7 0 1 0 -3.4 0M104.3 673.3a1.7 1.7 0 1 0 3.4 0a1.7 1.7 0 1 0 -3.4 0M67.7 628.5a1.7 1.7 0 1 0 3.4 0a1.7 1.7 0 1 0 -3.4 0M97.6 661.5a1.7 1.7 0 1 0 3.4 0a1.7 1.7 0 1 0 -3.4 0M105.2 655.8a1.7 1.7 0 1 0 3.4 0a1.7 1.7 0 1 0 -3.4 0M108.7 671.1a1.7 1.7 0 1 0 3.4 0a1.7 1.7 0 1 0 -3.4 0M88.2 661.9a1.7 1.7 0 1 0 3.4 0a1.7 1.7 0 1 0 -3.4 0M67.5 632.2a1.7 1.7 0 1 0 3.4 0a1.7 1.7 0 1 0 -3.4 0M100.5 659.6a1.7 1.7 0 1 0 3.4 0a1.7 1.7 0 1 0 -3.4 0M82.3 633.5a1.7 1.7 0 1 0 3.4 0a1.7 1.7 0 1 0 -3.4 0M56.2 614a1.7 1.7 0 1 0 3.4 0a1.7 1.7 0 1 0 -3.4 0M88.2 661.1a1.7 1.7 0 1 0 3.4 0a1.7 1.7 0 1 0 -3.4 0M100.3 650.8a1.7 1.7 0 1 0 3.4 0a1.7 1.7 0 1 0 -3.4 0M72.7 642a1.7 1.7 0 1 0 3.4 0a1.7 1.7 0 1 0 -3.4 0M85.9 645.2a1.7 1.7 0 1 0 3.4 0a1.7 1.7 0 1 0 -3.4 0M88.4 646a1.7 1.7 0 1 0 3.4 0a1.7 1.7 0 1 0 -3.4 0M74.7 626.9a1.7 1.7 0 1 0 3.4 0a1.7 1.7 0 1 0 -3.4 0M58.4 615.5a1.7 1.7 0 1 0 3.4 0a1.7 1.7 0 1 0 -3.4 0M95.5 651.9a1.7 1.7 0 1 0 3.4 0a1.7 1.7 0 1 0 -3.4 0M86.2 647.7a1.7 1.7 0 1 0 3.4 0a1.7 1.7 0 1 0 -3.4 0M80.5 635.2a1.7 1.7 0 1 0 3.4 0a1.7 1.7 0 1 0 -3.4 0M82 655.9a1.7 1.7 0 1 0 3.4 0a1.7 1.7 0 1 0 -3.4 0M68 629.4a1.7 1.7 0 1 0 3.4 0a1.7 1.7 0 1 0 -3.4 0M96.2 658.3a1.7 1.7 0 1 0 3.4 0a1.7 1.7 0 1 0 -3.4 0M67.4 624.3a1.7 1.7 0 1 0 3.4 0a1.7 1.7 0 1 0 -3.4 0M103.2 659a1.7 1.7 0 1 0 3.4 0a1.7 1.7 0 1 0 -3.4 0M54.3 614.4a1.7 1.7 0 1 0 3.4 0a1.7 1.7 0 1 0 -3.4 0M99.2 660.2a1.7 1.7 0 1 0 3.4 0a1.7 1.7 0 1 0 -3.4 0M86.8 655.2a1.7 1.7 0 1 0 3.4 0a1.7 1.7 0 1 0 -3.4 0M70.7 623.5a1.7 1.7 0 1 0 3.4 0a1.7 1.7 0 1 0 -3.4 0M122.7 667.1a1.7 1.7 0 1 0 3.4 0a1.7 1.7 0 1 0 -3.4 0M86.6 646.6a1.7 1.7 0 1 0 3.4 0a1.7 1.7 0 1 0 -3.4 0M115.3 669.6a1.7 1.7 0 1 0 3.4 0a1.7 1.7 0 1 0 -3.4 0M134.1 671.2a1.7 1.7 0 1 0 3.4 0a1.7 1.7 0 1 0 -3.4 0M76.5 631.4a1.7 1.7 0 1 0 3.4 0a1.7 1.7 0 1 0 -3.4 0M74.6 648.3a1.7 1.7 0 1 0 3.4 0a1.7 1.7 0 1 0 -3.4 0M68.3 644.6a1.7 1.7 0 1 0 3.4 0a1.7 1.7 0 1 0 -3.4 0M96 648.7a1.7 1.7 0 1 0 3.4 0a1.7 1.7 0 1 0 -3.4 0M110.2 668.3a1.7 1.7 0 1 0 3.4 0a1.7 1.7 0 1 0 -3.4 0M56.9 613a1.7 1.7 0 1 0 3.4 0a1.7 1.7 0 1 0 -3.4 0M101.5 655.3a1.7 1.7 0 1 0 3.4 0a1.7 1.7 0 1 0 -3.4 0M85.6 642.4a1.7 1.7 0 1 0 3.4 0a1.7 1.7 0 1 0 -3.4 0M99 668.1a1.7 1.7 0 1 0 3.4 0a1.7 1.7 0 1 0 -3.4 0M68.8 625a1.7 1.7 0 1 0 3.4 0a1.7 1.7 0 1 0 -3.4 0M111.8 680.4a1.7 1.7 0 1 0 3.4 0a1.7 1.7 0 1 0 -3.4 0M77.8 629.4a1.7 1.7 0 1 0 3.4 0a1.7 1.7 0 1 0 -3.4 0M88 639.1a1.7 1.7 0 1 0 3.4 0a1.7 1.7 0 1 0 -3.4 0M54.6 603.4a1.7 1.7 0 1 0 3.4 0a1.7 1.7 0 1 0 -3.4 0M89.8 645.8a1.7 1.7 0 1 0 3.4 0a1.7 1.7 0 1 0 -3.4 0M68.9 618.3a1.7 1.7 0 1 0 3.4 0a1.7 1.7 0 1 0 -3.4 0M67.7 621.3a1.7 1.7 0 1 0 3.4 0a1.7 1.7 0 1 0 -3.4 0M81.1 635.7a1.7 1.7 0 1 0 3.4 0a1.7 1.7 0 1 0 -3.4 0M90.1 648.9a1.7 1.7 0 1 0 3.4 0a1.7 1.7 0 1 0 -3.4 0M66.2 624.5a1.7 1.7 0 1 0 3.4 0a1.7 1.7 0 1 0 -3.4 0M68.1 628a1.7 1.7 0 1 0 3.4 0a1.7 1.7 0 1 0 -3.4 0M88.5 650a1.7 1.7 0 1 0 3.4 0a1.7 1.7 0 1 0 -3.4 0M76.4 637.7a1.7 1.7 0 1 0 3.4 0a1.7 1.7 0 1 0 -3.4 0M102.2 653.1a1.7 1.7 0 1 0 3.4 0a1.7 1.7 0 1 0 -3.4 0M91.4 650.6a1.7 1.7 0 1 0 3.4 0a1.7 1.7 0 1 0 -3.4 0M78.4 649.9a1.7 1.7 0 1 0 3.4 0a1.7 1.7 0 1 0 -3.4 0M83.8 633a1.7 1.7 0 1 0 3.4 0a1.7 1.7 0 1 0 -3.4 0M111.7 684a1.7 1.7 0 1 0 3.4 0a1.7 1.7 0 1 0 -3.4 0M73.4 638.2a1.7 1.7 0 1 0 3.4 0a1.7 1.7 0 1 0 -3.4 0M81.2 637.7a1.7 1.7 0 1 0 3.4 0a1.7 1.7 0 1 0 -3.4 0M91.9 641a1.7 1.7 0 1 0 3.4 0a1.7 1.7 0 1 0 -3.4 0M79.3 649.1a1.7 1.7 0 1 0 3.4 0a1.7 1.7 0 1 0 -3.4 0M74.6 621.4a1.7 1.7 0 1 0 3.4 0a1.7 1.7 0 1 0 -3.4 0M84.7 648.2a1.7 1.7 0 1 0 3.4 0a1.7 1.7 0 1 0 -3.4 0M120.1 679.6a1.7 1.7 0 1 0 3.4 0a1.7 1.7 0 1 0 -3.4 0M69.2 624.3a1.7 1.7 0 1 0 3.4 0a1.7 1.7 0 1 0 -3.4 0M86.3 643.2a1.7 1.7 0 1 0 3.4 0a1.7 1.7 0 1 0 -3.4 0M83.9 663.8a1.7 1.7 0 1 0 3.4 0a1.7 1.7 0 1 0 -3.4 0M108.3 680.6a1.7 1.7 0 1 0 3.4 0a1.7 1.7 0 1 0 -3.4 0M61.8 620.5a1.7 1.7 0 1 0 3.4 0a1.7 1.7 0 1 0 -3.4 0M74.3 636.7a1.7 1.7 0 1 0 3.4 0a1.7 1.7 0 1 0 -3.4 0M87 644.5a1.7 1.7 0 1 0 3.4 0a1.7 1.7 0 1 0 -3.4 0M88.3 652.1a1.7 1.7 0 1 0 3.4 0a1.7 1.7 0 1 0 -3.4 0M55.4 611.7a1.7 1.7 0 1 0 3.4 0a1.7 1.7 0 1 0 -3.4 0M104.4 660.2a1.7 1.7 0 1 0 3.4 0a1.7 1.7 0 1 0 -3.4 0M109.5 664.3a1.7 1.7 0 1 0 3.4 0a1.7 1.7 0 1 0 -3.4 0M77.9 638.3a1.7 1.7 0 1 0 3.4 0a1.7 1.7 0 1 0 -3.4 0M82.1 635.9a1.7 1.7 0 1 0 3.4 0a1.7 1.7 0 1 0 -3.4 0M83.2 637.3a1.7 1.7 0 1 0 3.4 0a1.7 1.7 0 1 0 -3.4 0M98.4 652.9a1.7 1.7 0 1 0 3.4 0a1.7 1.7 0 1 0 -3.4 0M92.4 645.3a1.7 1.7 0 1 0 3.4 0a1.7 1.7 0 1 0 -3.4 0M99.7 654.5a1.7 1.7 0 1 0 3.4 0a1.7 1.7 0 1 0 -3.4 0M121.6 673a1.7 1.7 0 1 0 3.4 0a1.7 1.7 0 1 0 -3.4 0M88.7 635.1a1.7 1.7 0 1 0 3.4 0a1.7 1.7 0 1 0 -3.4 0M113.3 664.1a1.7 1.7 0 1 0 3.4 0a1.7 1.7 0 1 0 -3.4 0M106.2 652.3a1.7 1.7 0 1 0 3.4 0a1.7 1.7 0 1 0 -3.4 0M105.8 650.9a1.7 1.7 0 1 0 3.4 0a1.7 1.7 0 1 0 -3.4 0M81.9 634.9a1.7 1.7 0 1 0 3.4 0a1.7 1.7 0 1 0 -3.4 0M63.2 644a1.7 1.7 0 1 0 3.4 0a1.7 1.7 0 1 0 -3.4 0M73.5 628.3a1.7 1.7 0 1 0 3.4 0a1.7 1.7 0 1 0 -3.4 0M89.1 635.3a1.7 1.7 0 1 0 3.4 0a1.7 1.7 0 1 0 -3.4 0M86.2 651.6a1.7 1.7 0 1 0 3.4 0a1.7 1.7 0 1 0 -3.4 0M73.5 635.8a1.7 1.7 0 1 0 3.4 0a1.7 1.7 0 1 0 -3.4 0M89.9 653.4a1.7 1.7 0 1 0 3.4 0a1.7 1.7 0 1 0 -3.4 0M86.4 641.1a1.7 1.7 0 1 0 3.4 0a1.7 1.7 0 1 0 -3.4 0M65.5 633a1.7 1.7 0 1 0 3.4 0a1.7 1.7 0 1 0 -3.4 0M77.3 637.8a1.7 1.7 0 1 0 3.4 0a1.7 1.7 0 1 0 -3.4 0M70.7 636.5a1.7 1.7 0 1 0 3.4 0a1.7 1.7 0 1 0 -3.4 0M82.2 647.1a1.7 1.7 0 1 0 3.4 0a1.7 1.7 0 1 0 -3.4 0M68.3 646.1a1.7 1.7 0 1 0 3.4 0a1.7 1.7 0 1 0 -3.4 0M89.3 658.2a1.7 1.7 0 1 0 3.4 0a1.7 1.7 0 1 0 -3.4 0M108.9 674.1a1.7 1.7 0 1 0 3.4 0a1.7 1.7 0 1 0 -3.4 0M69 637.3a1.7 1.7 0 1 0 3.4 0a1.7 1.7 0 1 0 -3.4 0M83.3 630.9a1.7 1.7 0 1 0 3.4 0a1.7 1.7 0 1 0 -3.4 0M86.4 643.4a1.7 1.7 0 1 0 3.4 0a1.7 1.7 0 1 0 -3.4 0M100.8 654.9a1.7 1.7 0 1 0 3.4 0a1.7 1.7 0 1 0 -3.4 0M87.7 656.5a1.7 1.7 0 1 0 3.4 0a1.7 1.7 0 1 0 -3.4 0M77.6 656.8a1.7 1.7 0 1 0 3.4 0a1.7 1.7 0 1 0 -3.4 0M83.5 646.7a1.7 1.7 0 1 0 3.4 0a1.7 1.7 0 1 0 -3.4 0M70.9 627.2a1.7 1.7 0 1 0 3.4 0a1.7 1.7 0 1 0 -3.4 0M100.8 650.2a1.7 1.7 0 1 0 3.4 0a1.7 1.7 0 1 0 -3.4 0M110.2 672.1a1.7 1.7 0 1 0 3.4 0a1.7 1.7 0 1 0 -3.4 0M100 654.9a1.7 1.7 0 1 0 3.4 0a1.7 1.7 0 1 0 -3.4 0M90.6 647.5a1.7 1.7 0 1 0 3.4 0a1.7 1.7 0 1 0 -3.4 0M65.2 619.6a1.7 1.7 0 1 0 3.4 0a1.7 1.7 0 1 0 -3.4 0M88.7 661a1.7 1.7 0 1 0 3.4 0a1.7 1.7 0 1 0 -3.4 0M77.3 635.5a1.7 1.7 0 1 0 3.4 0a1.7 1.7 0 1 0 -3.4 0M90.9 653.6a1.7 1.7 0 1 0 3.4 0a1.7 1.7 0 1 0 -3.4 0M87.6 628.9a1.7 1.7 0 1 0 3.4 0a1.7 1.7 0 1 0 -3.4 0M103.9 656.2a1.7 1.7 0 1 0 3.4 0a1.7 1.7 0 1 0 -3.4 0M74.5 636.9a1.7 1.7 0 1 0 3.4 0a1.7 1.7 0 1 0 -3.4 0M97.2 658.7a1.7 1.7 0 1 0 3.4 0a1.7 1.7 0 1 0 -3.4 0M82.8 641.9a1.7 1.7 0 1 0 3.4 0a1.7 1.7 0 1 0 -3.4 0M81 633a1.7 1.7 0 1 0 3.4 0a1.7 1.7 0 1 0 -3.4 0M109.7 667.1a1.7 1.7 0 1 0 3.4 0a1.7 1.7 0 1 0 -3.4 0M87.3 634.5a1.7 1.7 0 1 0 3.4 0a1.7 1.7 0 1 0 -3.4 0M100.9 652.5a1.7 1.7 0 1 0 3.4 0a1.7 1.7 0 1 0 -3.4 0M118.4 675.2a1.7 1.7 0 1 0 3.4 0a1.7 1.7 0 1 0 -3.4 0M61.5 631.8a1.7 1.7 0 1 0 3.4 0a1.7 1.7 0 1 0 -3.4 0M94.8 647.8a1.7 1.7 0 1 0 3.4 0a1.7 1.7 0 1 0 -3.4 0M100.4 652.3a1.7 1.7 0 1 0 3.4 0a1.7 1.7 0 1 0 -3.4 0M74.4 630.4a1.7 1.7 0 1 0 3.4 0a1.7 1.7 0 1 0 -3.4 0M82.3 644a1.7 1.7 0 1 0 3.4 0a1.7 1.7 0 1 0 -3.4 0M92 650.8a1.7 1.7 0 1 0 3.4 0a1.7 1.7 0 1 0 -3.4 0M65.5 643.7a1.7 1.7 0 1 0 3.4 0a1.7 1.7 0 1 0 -3.4 0M79.7 645.2a1.7 1.7 0 1 0 3.4 0a1.7 1.7 0 1 0 -3.4 0M85.4 636a1.7 1.7 0 1 0 3.4 0a1.7 1.7 0 1 0 -3.4 0M66.4 628.1a1.7 1.7 0 1 0 3.4 0a1.7 1.7 0 1 0 -3.4 0M81.9 639.5a1.7 1.7 0 1 0 3.4 0a1.7 1.7 0 1 0 -3.4 0M77.8 628.5a1.7 1.7 0 1 0 3.4 0a1.7 1.7 0 1 0 -3.4 0M86.9 651a1.7 1.7 0 1 0 3.4 0a1.7 1.7 0 1 0 -3.4 0M92.6 656.7a1.7 1.7 0 1 0 3.4 0a1.7 1.7 0 1 0 -3.4 0M68.9 637a1.7 1.7 0 1 0 3.4 0a1.7 1.7 0 1 0 -3.4 0M96.7 668.2a1.7 1.7 0 1 0 3.4 0a1.7 1.7 0 1 0 -3.4 0M98.8 652.4a1.7 1.7 0 1 0 3.4 0a1.7 1.7 0 1 0 -3.4 0M99 655a1.7 1.7 0 1 0 3.4 0a1.7 1.7 0 1 0 -3.4 0M56.4 625.4a1.7 1.7 0 1 0 3.4 0a1.7 1.7 0 1 0 -3.4 0M95.7 659.4a1.7 1.7 0 1 0 3.4 0a1.7 1.7 0 1 0 -3.4 0M59.1 619a1.7 1.7 0 1 0 3.4 0a1.7 1.7 0 1 0 -3.4 0M77.7 646.4a1.7 1.7 0 1 0 3.4 0a1.7 1.7 0 1 0 -3.4 0M117.1 661.8a1.7 1.7 0 1 0 3.4 0a1.7 1.7 0 1 0 -3.4 0M78.4 636a1.7 1.7 0 1 0 3.4 0a1.7 1.7 0 1 0 -3.4 0M104 658.2a1.7 1.7 0 1 0 3.4 0a1.7 1.7 0 1 0 -3.4 0M79.2 641.6a1.7 1.7 0 1 0 3.4 0a1.7 1.7 0 1 0 -3.4 0M72.7 626.5a1.7 1.7 0 1 0 3.4 0a1.7 1.7 0 1 0 -3.4 0M70.8 626.9a1.7 1.7 0 1 0 3.4 0a1.7 1.7 0 1 0 -3.4 0M119.6 688.1a1.7 1.7 0 1 0 3.4 0a1.7 1.7 0 1 0 -3.4 0M99.2 668.4a1.7 1.7 0 1 0 3.4 0a1.7 1.7 0 1 0 -3.4 0M124.4 683.4a1.7 1.7 0 1 0 3.4 0a1.7 1.7 0 1 0 -3.4 0M78.4 644.8a1.7 1.7 0 1 0 3.4 0a1.7 1.7 0 1 0 -3.4 0M79.1 635.1a1.7 1.7 0 1 0 3.4 0a1.7 1.7 0 1 0 -3.4 0M106.4 650.7a1.7 1.7 0 1 0 3.4 0a1.7 1.7 0 1 0 -3.4 0M76.4 638a1.7 1.7 0 1 0 3.4 0a1.7 1.7 0 1 0 -3.4 0M61.7 626a1.7 1.7 0 1 0 3.4 0a1.7 1.7 0 1 0 -3.4 0M55.7 612a1.7 1.7 0 1 0 3.4 0a1.7 1.7 0 1 0 -3.4 0M98.6 655.1a1.7 1.7 0 1 0 3.4 0a1.7 1.7 0 1 0 -3.4 0M67.5 633.5a1.7 1.7 0 1 0 3.4 0a1.7 1.7 0 1 0 -3.4 0M60.8 635a1.7 1.7 0 1 0 3.4 0a1.7 1.7 0 1 0 -3.4 0M94.3 657.9a1.7 1.7 0 1 0 3.4 0a1.7 1.7 0 1 0 -3.4 0M87.1 657.4a1.7 1.7 0 1 0 3.4 0a1.7 1.7 0 1 0 -3.4 0M53.1 616.3a1.7 1.7 0 1 0 3.4 0a1.7 1.7 0 1 0 -3.4 0M104.2 661.8a1.7 1.7 0 1 0 3.4 0a1.7 1.7 0 1 0 -3.4 0M98 650.8a1.7 1.7 0 1 0 3.4 0a1.7 1.7 0 1 0 -3.4 0M89.8 639.1a1.7 1.7 0 1 0 3.4 0a1.7 1.7 0 1 0 -3.4 0M84 648.2a1.7 1.7 0 1 0 3.4 0a1.7 1.7 0 1 0 -3.4 0M112 665.1a1.7 1.7 0 1 0 3.4 0a1.7 1.7 0 1 0 -3.4 0M54.5 609.5a1.7 1.7 0 1 0 3.4 0a1.7 1.7 0 1 0 -3.4 0M98.5 666.2a1.7 1.7 0 1 0 3.4 0a1.7 1.7 0 1 0 -3.4 0M64.1 631.4a1.7 1.7 0 1 0 3.4 0a1.7 1.7 0 1 0 -3.4 0M87.2 632.5a1.7 1.7 0 1 0 3.4 0a1.7 1.7 0 1 0 -3.4 0M61.2 624.8a1.7 1.7 0 1 0 3.4 0a1.7 1.7 0 1 0 -3.4 0M105.9 653.1a1.7 1.7 0 1 0 3.4 0a1.7 1.7 0 1 0 -3.4 0M70.3 629a1.7 1.7 0 1 0 3.4 0a1.7 1.7 0 1 0 -3.4 0M83.9 648.3a1.7 1.7 0 1 0 3.4 0a1.7 1.7 0 1 0 -3.4 0M77.2 640.2a1.7 1.7 0 1 0 3.4 0a1.7 1.7 0 1 0 -3.4 0M88.2 637.2a1.7 1.7 0 1 0 3.4 0a1.7 1.7 0 1 0 -3.4 0M78.5 631.5a1.7 1.7 0 1 0 3.4 0a1.7 1.7 0 1 0 -3.4 0M116.1 663.1a1.7 1.7 0 1 0 3.4 0a1.7 1.7 0 1 0 -3.4 0M102.8 654.6a1.7 1.7 0 1 0 3.4 0a1.7 1.7 0 1 0 -3.4 0M76.1 627.4a1.7 1.7 0 1 0 3.4 0a1.7 1.7 0 1 0 -3.4 0M91.4 658.7a1.7 1.7 0 1 0 3.4 0a1.7 1.7 0 1 0 -3.4 0M78.4 642.5a1.7 1.7 0 1 0 3.4 0a1.7 1.7 0 1 0 -3.4 0M108.7 665.2a1.7 1.7 0 1 0 3.4 0a1.7 1.7 0 1 0 -3.4 0M73.5 631a1.7 1.7 0 1 0 3.4 0a1.7 1.7 0 1 0 -3.4 0M105.9 666.8a1.7 1.7 0 1 0 3.4 0a1.7 1.7 0 1 0 -3.4 0M97.1 661.2a1.7 1.7 0 1 0 3.4 0a1.7 1.7 0 1 0 -3.4 0M104.2 657.4a1.7 1.7 0 1 0 3.4 0a1.7 1.7 0 1 0 -3.4 0M84.1 634.3a1.7 1.7 0 1 0 3.4 0a1.7 1.7 0 1 0 -3.4 0M86.2 639.2a1.7 1.7 0 1 0 3.4 0a1.7 1.7 0 1 0 -3.4 0M88.3 654.5a1.7 1.7 0 1 0 3.4 0a1.7 1.7 0 1 0 -3.4 0M119.5 663.6a1.7 1.7 0 1 0 3.4 0a1.7 1.7 0 1 0 -3.4 0M50.6 614.9a1.7 1.7 0 1 0 3.4 0a1.7 1.7 0 1 0 -3.4 0M86.3 651a1.7 1.7 0 1 0 3.4 0a1.7 1.7 0 1 0 -3.4 0M89.4 662.5a1.7 1.7 0 1 0 3.4 0a1.7 1.7 0 1 0 -3.4 0M81.6 646a1.7 1.7 0 1 0 3.4 0a1.7 1.7 0 1 0 -3.4 0M83.6 630.7a1.7 1.7 0 1 0 3.4 0a1.7 1.7 0 1 0 -3.4 0M78.4 633.8a1.7 1.7 0 1 0 3.4 0a1.7 1.7 0 1 0 -3.4 0M65.2 627.1a1.7 1.7 0 1 0 3.4 0a1.7 1.7 0 1 0 -3.4 0M55.6 624.4a1.7 1.7 0 1 0 3.4 0a1.7 1.7 0 1 0 -3.4 0M111.9 659.8a1.7 1.7 0 1 0 3.4 0a1.7 1.7 0 1 0 -3.4 0M70.4 637.6a1.7 1.7 0 1 0 3.4 0a1.7 1.7 0 1 0 -3.4 0M70.4 630.4a1.7 1.7 0 1 0 3.4 0a1.7 1.7 0 1 0 -3.4 0M91 640.5a1.7 1.7 0 1 0 3.4 0a1.7 1.7 0 1 0 -3.4 0M74.9 634.1a1.7 1.7 0 1 0 3.4 0a1.7 1.7 0 1 0 -3.4 0M80.6 637.6a1.7 1.7 0 1 0 3.4 0a1.7 1.7 0 1 0 -3.4 0M83.6 635.4a1.7 1.7 0 1 0 3.4 0a1.7 1.7 0 1 0 -3.4 0M56.8 629a1.7 1.7 0 1 0 3.4 0a1.7 1.7 0 1 0 -3.4 0M90.8 659.7a1.7 1.7 0 1 0 3.4 0a1.7 1.7 0 1 0 -3.4 0M65 647.1a1.7 1.7 0 1 0 3.4 0a1.7 1.7 0 1 0 -3.4 0M73.5 656.1a1.7 1.7 0 1 0 3.4 0a1.7 1.7 0 1 0 -3.4 0M84.5 637a1.7 1.7 0 1 0 3.4 0a1.7 1.7 0 1 0 -3.4 0M105 656.1a1.7 1.7 0 1 0 3.4 0a1.7 1.7 0 1 0 -3.4 0M103.4 655.4a1.7 1.7 0 1 0 3.4 0a1.7 1.7 0 1 0 -3.4 0M97.9 655.1a1.7 1.7 0 1 0 3.4 0a1.7 1.7 0 1 0 -3.4 0M48.5 618.3a1.7 1.7 0 1 0 3.4 0a1.7 1.7 0 1 0 -3.4 0M70.4 626.1a1.7 1.7 0 1 0 3.4 0a1.7 1.7 0 1 0 -3.4 0M74 637a1.7 1.7 0 1 0 3.4 0a1.7 1.7 0 1 0 -3.4 0M60 627.2a1.7 1.7 0 1 0 3.4 0a1.7 1.7 0 1 0 -3.4 0M99.5 645.4a1.7 1.7 0 1 0 3.4 0a1.7 1.7 0 1 0 -3.4 0M74.3 627.1a1.7 1.7 0 1 0 3.4 0a1.7 1.7 0 1 0 -3.4 0M87.5 647a1.7 1.7 0 1 0 3.4 0a1.7 1.7 0 1 0 -3.4 0M79.5 634.9a1.7 1.7 0 1 0 3.4 0a1.7 1.7 0 1 0 -3.4 0M60.2 621.6a1.7 1.7 0 1 0 3.4 0a1.7 1.7 0 1 0 -3.4 0M94.2 645.7a1.7 1.7 0 1 0 3.4 0a1.7 1.7 0 1 0 -3.4 0M115.4 669.2a1.7 1.7 0 1 0 3.4 0a1.7 1.7 0 1 0 -3.4 0M53.1 632.6a1.7 1.7 0 1 0 3.4 0a1.7 1.7 0 1 0 -3.4 0M82.9 638.5a1.7 1.7 0 1 0 3.4 0a1.7 1.7 0 1 0 -3.4 0M120.5 674.8a1.7 1.7 0 1 0 3.4 0a1.7 1.7 0 1 0 -3.4 0M70.7 634a1.7 1.7 0 1 0 3.4 0a1.7 1.7 0 1 0 -3.4 0M104.8 666.6a1.7 1.7 0 1 0 3.4 0a1.7 1.7 0 1 0 -3.4 0M64.7 629.4a1.7 1.7 0 1 0 3.4 0a1.7 1.7 0 1 0 -3.4 0M79.2 651.7a1.7 1.7 0 1 0 3.4 0a1.7 1.7 0 1 0 -3.4 0M73 626.7a1.7 1.7 0 1 0 3.4 0a1.7 1.7 0 1 0 -3.4 0M85.1 643.9a1.7 1.7 0 1 0 3.4 0a1.7 1.7 0 1 0 -3.4 0M58.5 629.4a1.7 1.7 0 1 0 3.4 0a1.7 1.7 0 1 0 -3.4 0M78.5 646.4a1.7 1.7 0 1 0 3.4 0a1.7 1.7 0 1 0 -3.4 0M115.6 669.5a1.7 1.7 0 1 0 3.4 0a1.7 1.7 0 1 0 -3.4 0M56 621.7a1.7 1.7 0 1 0 3.4 0a1.7 1.7 0 1 0 -3.4 0M90.3 642.6a1.7 1.7 0 1 0 3.4 0a1.7 1.7 0 1 0 -3.4 0M91.5 650.2a1.7 1.7 0 1 0 3.4 0a1.7 1.7 0 1 0 -3.4 0M82.5 634.7a1.7 1.7 0 1 0 3.4 0a1.7 1.7 0 1 0 -3.4 0M81.3 636.7a1.7 1.7 0 1 0 3.4 0a1.7 1.7 0 1 0 -3.4 0M73.6 643.4a1.7 1.7 0 1 0 3.4 0a1.7 1.7 0 1 0 -3.4 0M66.6 625.8a1.7 1.7 0 1 0 3.4 0a1.7 1.7 0 1 0 -3.4 0M93.3 655a1.7 1.7 0 1 0 3.4 0a1.7 1.7 0 1 0 -3.4 0M108.6 656a1.7 1.7 0 1 0 3.4 0a1.7 1.7 0 1 0 -3.4 0M104.8 667.9a1.7 1.7 0 1 0 3.4 0a1.7 1.7 0 1 0 -3.4 0M82.8 643.8a1.7 1.7 0 1 0 3.4 0a1.7 1.7 0 1 0 -3.4 0M90.1 640.4a1.7 1.7 0 1 0 3.4 0a1.7 1.7 0 1 0 -3.4 0M69.6 623.3a1.7 1.7 0 1 0 3.4 0a1.7 1.7 0 1 0 -3.4 0M95.7 651.4a1.7 1.7 0 1 0 3.4 0a1.7 1.7 0 1 0 -3.4 0M78 653.6a1.7 1.7 0 1 0 3.4 0a1.7 1.7 0 1 0 -3.4 0M95.2 645a1.7 1.7 0 1 0 3.4 0a1.7 1.7 0 1 0 -3.4 0M75 627.3a1.7 1.7 0 1 0 3.4 0a1.7 1.7 0 1 0 -3.4 0M60.5 624.4a1.7 1.7 0 1 0 3.4 0a1.7 1.7 0 1 0 -3.4 0M77.7 634.1a1.7 1.7 0 1 0 3.4 0a1.7 1.7 0 1 0 -3.4 0M80.3 640.1a1.7 1.7 0 1 0 3.4 0a1.7 1.7 0 1 0 -3.4 0M76.5 638.9a1.7 1.7 0 1 0 3.4 0a1.7 1.7 0 1 0 -3.4 0M84.9 652.8a1.7 1.7 0 1 0 3.4 0a1.7 1.7 0 1 0 -3.4 0M75.5 628.5a1.7 1.7 0 1 0 3.4 0a1.7 1.7 0 1 0 -3.4 0M92.6 648.7a1.7 1.7 0 1 0 3.4 0a1.7 1.7 0 1 0 -3.4 0M63.8 641.8a1.7 1.7 0 1 0 3.4 0a1.7 1.7 0 1 0 -3.4 0M72.3 632.4a1.7 1.7 0 1 0 3.4 0a1.7 1.7 0 1 0 -3.4 0M75.8 628.7a1.7 1.7 0 1 0 3.4 0a1.7 1.7 0 1 0 -3.4 0M88.2 641.6a1.7 1.7 0 1 0 3.4 0a1.7 1.7 0 1 0 -3.4 0M66.6 625.6a1.7 1.7 0 1 0 3.4 0a1.7 1.7 0 1 0 -3.4 0M72.9 635.5a1.7 1.7 0 1 0 3.4 0a1.7 1.7 0 1 0 -3.4 0M135.4 677.2a1.7 1.7 0 1 0 3.4 0a1.7 1.7 0 1 0 -3.4 0M56.1 621.3a1.7 1.7 0 1 0 3.4 0a1.7 1.7 0 1 0 -3.4 0M64.3 633.9a1.7 1.7 0 1 0 3.4 0a1.7 1.7 0 1 0 -3.4 0M88.8 640.8a1.7 1.7 0 1 0 3.4 0a1.7 1.7 0 1 0 -3.4 0M73.2 646.4a1.7 1.7 0 1 0 3.4 0a1.7 1.7 0 1 0 -3.4 0M59.6 633.8a1.7 1.7 0 1 0 3.4 0a1.7 1.7 0 1 0 -3.4 0M108.1 670a1.7 1.7 0 1 0 3.4 0a1.7 1.7 0 1 0 -3.4 0M95.9 641.7a1.7 1.7 0 1 0 3.4 0a1.7 1.7 0 1 0 -3.4 0M99.9 673a1.7 1.7 0 1 0 3.4 0a1.7 1.7 0 1 0 -3.4 0M49 611.6a1.7 1.7 0 1 0 3.4 0a1.7 1.7 0 1 0 -3.4 0M81.7 642.3a1.7 1.7 0 1 0 3.4 0a1.7 1.7 0 1 0 -3.4 0M88.2 638.5a1.7 1.7 0 1 0 3.4 0a1.7 1.7 0 1 0 -3.4 0M101.7 669.8a1.7 1.7 0 1 0 3.4 0a1.7 1.7 0 1 0 -3.4 0M96.3 671.3a1.7 1.7 0 1 0 3.4 0a1.7 1.7 0 1 0 -3.4 0M78.9 647.5a1.7 1.7 0 1 0 3.4 0a1.7 1.7 0 1 0 -3.4 0M91.6 657a1.7 1.7 0 1 0 3.4 0a1.7 1.7 0 1 0 -3.4 0M90.8 642a1.7 1.7 0 1 0 3.4 0a1.7 1.7 0 1 0 -3.4 0M65.1 623a1.7 1.7 0 1 0 3.4 0a1.7 1.7 0 1 0 -3.4 0M116.4 656.1a1.7 1.7 0 1 0 3.4 0a1.7 1.7 0 1 0 -3.4 0M95.3 647.7a1.7 1.7 0 1 0 3.4 0a1.7 1.7 0 1 0 -3.4 0M81.4 642.4a1.7 1.7 0 1 0 3.4 0a1.7 1.7 0 1 0 -3.4 0M83.4 640.9a1.7 1.7 0 1 0 3.4 0a1.7 1.7 0 1 0 -3.4 0M94.6 662.6a1.7 1.7 0 1 0 3.4 0a1.7 1.7 0 1 0 -3.4 0M77.7 657a1.7 1.7 0 1 0 3.4 0a1.7 1.7 0 1 0 -3.4 0M111.8 658.3a1.7 1.7 0 1 0 3.4 0a1.7 1.7 0 1 0 -3.4 0M103.7 661.9a1.7 1.7 0 1 0 3.4 0a1.7 1.7 0 1 0 -3.4 0M54.3 606a1.7 1.7 0 1 0 3.4 0a1.7 1.7 0 1 0 -3.4 0M84.1 660.7a1.7 1.7 0 1 0 3.4 0a1.7 1.7 0 1 0 -3.4 0M70.7 631.4a1.7 1.7 0 1 0 3.4 0a1.7 1.7 0 1 0 -3.4 0M71.6 632.2a1.7 1.7 0 1 0 3.4 0a1.7 1.7 0 1 0 -3.4 0M118.7 679.2a1.7 1.7 0 1 0 3.4 0a1.7 1.7 0 1 0 -3.4 0M80.1 647.3a1.7 1.7 0 1 0 3.4 0a1.7 1.7 0 1 0 -3.4 0M72.9 632.4a1.7 1.7 0 1 0 3.4 0a1.7 1.7 0 1 0 -3.4 0M88.2 648.9a1.7 1.7 0 1 0 3.4 0a1.7 1.7 0 1 0 -3.4 0M103.7 654.4a1.7 1.7 0 1 0 3.4 0a1.7 1.7 0 1 0 -3.4 0M109.8 659.2a1.7 1.7 0 1 0 3.4 0a1.7 1.7 0 1 0 -3.4 0M67.3 629.6a1.7 1.7 0 1 0 3.4 0a1.7 1.7 0 1 0 -3.4 0M76.1 637.8a1.7 1.7 0 1 0 3.4 0a1.7 1.7 0 1 0 -3.4 0M75.4 636.3a1.7 1.7 0 1 0 3.4 0a1.7 1.7 0 1 0 -3.4 0M84.4 646.9a1.7 1.7 0 1 0 3.4 0a1.7 1.7 0 1 0 -3.4 0M99.4 652a1.7 1.7 0 1 0 3.4 0a1.7 1.7 0 1 0 -3.4 0M65.1 620.8a1.7 1.7 0 1 0 3.4 0a1.7 1.7 0 1 0 -3.4 0M93.3 656.3a1.7 1.7 0 1 0 3.4 0a1.7 1.7 0 1 0 -3.4 0M112.3 659.3a1.7 1.7 0 1 0 3.4 0a1.7 1.7 0 1 0 -3.4 0M98.9 665a1.7 1.7 0 1 0 3.4 0a1.7 1.7 0 1 0 -3.4 0M84.8 637.9a1.7 1.7 0 1 0 3.4 0a1.7 1.7 0 1 0 -3.4 0M70.3 627.2a1.7 1.7 0 1 0 3.4 0a1.7 1.7 0 1 0 -3.4 0M81.2 650.2a1.7 1.7 0 1 0 3.4 0a1.7 1.7 0 1 0 -3.4 0M82.7 633.2a1.7 1.7 0 1 0 3.4 0a1.7 1.7 0 1 0 -3.4 0M126.4 682.1a1.7 1.7 0 1 0 3.4 0a1.7 1.7 0 1 0 -3.4 0M64.2 623a1.7 1.7 0 1 0 3.4 0a1.7 1.7 0 1 0 -3.4 0M65.8 633.9a1.7 1.7 0 1 0 3.4 0a1.7 1.7 0 1 0 -3.4 0M83.6 653a1.7 1.7 0 1 0 3.4 0a1.7 1.7 0 1 0 -3.4 0M60 626.3a1.7 1.7 0 1 0 3.4 0a1.7 1.7 0 1 0 -3.4 0M66.9 634.8a1.7 1.7 0 1 0 3.4 0a1.7 1.7 0 1 0 -3.4 0M95.9 646.6a1.7 1.7 0 1 0 3.4 0a1.7 1.7 0 1 0 -3.4 0M48.9 625.9a1.7 1.7 0 1 0 3.4 0a1.7 1.7 0 1 0 -3.4 0M69 631.1a1.7 1.7 0 1 0 3.4 0a1.7 1.7 0 1 0 -3.4 0M88.3 637.6a1.7 1.7 0 1 0 3.4 0a1.7 1.7 0 1 0 -3.4 0M77.3 629.4a1.7 1.7 0 1 0 3.4 0a1.7 1.7 0 1 0 -3.4 0M109 665.6a1.7 1.7 0 1 0 3.4 0a1.7 1.7 0 1 0 -3.4 0M77.7 632.2a1.7 1.7 0 1 0 3.4 0a1.7 1.7 0 1 0 -3.4 0M93.7 642a1.7 1.7 0 1 0 3.4 0a1.7 1.7 0 1 0 -3.4 0M71.8 621.7a1.7 1.7 0 1 0 3.4 0a1.7 1.7 0 1 0 -3.4 0M67.9 621.7a1.7 1.7 0 1 0 3.4 0a1.7 1.7 0 1 0 -3.4 0M73.4 650.5a1.7 1.7 0 1 0 3.4 0a1.7 1.7 0 1 0 -3.4 0M82.1 643.9a1.7 1.7 0 1 0 3.4 0a1.7 1.7 0 1 0 -3.4 0M84 640.1a1.7 1.7 0 1 0 3.4 0a1.7 1.7 0 1 0 -3.4 0M62.6 626.3a1.7 1.7 0 1 0 3.4 0a1.7 1.7 0 1 0 -3.4 0M66.3 621a1.7 1.7 0 1 0 3.4 0a1.7 1.7 0 1 0 -3.4 0M102 650.3a1.7 1.7 0 1 0 3.4 0a1.7 1.7 0 1 0 -3.4 0M88 649.8a1.7 1.7 0 1 0 3.4 0a1.7 1.7 0 1 0 -3.4 0M118.8 672.5a1.7 1.7 0 1 0 3.4 0a1.7 1.7 0 1 0 -3.4 0M90.7 649.3a1.7 1.7 0 1 0 3.4 0a1.7 1.7 0 1 0 -3.4 0M115.1 661a1.7 1.7 0 1 0 3.4 0a1.7 1.7 0 1 0 -3.4 0M111.5 671.9a1.7 1.7 0 1 0 3.4 0a1.7 1.7 0 1 0 -3.4 0M106.6 654.9a1.7 1.7 0 1 0 3.4 0a1.7 1.7 0 1 0 -3.4 0M78.2 626.2a1.7 1.7 0 1 0 3.4 0a1.7 1.7 0 1 0 -3.4 0M64.1 621.4a1.7 1.7 0 1 0 3.4 0a1.7 1.7 0 1 0 -3.4 0M67.5 624.9a1.7 1.7 0 1 0 3.4 0a1.7 1.7 0 1 0 -3.4 0M68.9 635.6a1.7 1.7 0 1 0 3.4 0a1.7 1.7 0 1 0 -3.4 0M107.7 663.5a1.7 1.7 0 1 0 3.4 0a1.7 1.7 0 1 0 -3.4 0M98.3 665.5a1.7 1.7 0 1 0 3.4 0a1.7 1.7 0 1 0 -3.4 0M81 639.5a1.7 1.7 0 1 0 3.4 0a1.7 1.7 0 1 0 -3.4 0M92.2 643.3a1.7 1.7 0 1 0 3.4 0a1.7 1.7 0 1 0 -3.4 0M100.2 646.9a1.7 1.7 0 1 0 3.4 0a1.7 1.7 0 1 0 -3.4 0M81.9 631.8a1.7 1.7 0 1 0 3.4 0a1.7 1.7 0 1 0 -3.4 0M113 689.5a1.7 1.7 0 1 0 3.4 0a1.7 1.7 0 1 0 -3.4 0M134 676.3a1.7 1.7 0 1 0 3.4 0a1.7 1.7 0 1 0 -3.4 0M145 692.6a1.7 1.7 0 1 0 3.4 0a1.7 1.7 0 1 0 -3.4 0M140.1 681.4a1.7 1.7 0 1 0 3.4 0a1.7 1.7 0 1 0 -3.4 0M141.8 696a1.7 1.7 0 1 0 3.4 0a1.7 1.7 0 1 0 -3.4 0M110.1 659.2a1.7 1.7 0 1 0 3.4 0a1.7 1.7 0 1 0 -3.4 0M110.8 666.5a1.7 1.7 0 1 0 3.4 0a1.7 1.7 0 1 0 -3.4 0M148.6 693.5a1.7 1.7 0 1 0 3.4 0a1.7 1.7 0 1 0 -3.4 0M111.9 667.9a1.7 1.7 0 1 0 3.4 0a1.7 1.7 0 1 0 -3.4 0M112.9 663.7a1.7 1.7 0 1 0 3.4 0a1.7 1.7 0 1 0 -3.4 0M114.3 672.7a1.7 1.7 0 1 0 3.4 0a1.7 1.7 0 1 0 -3.4 0M117.1 671.3a1.7 1.7 0 1 0 3.4 0a1.7 1.7 0 1 0 -3.4 0M113.2 665.6a1.7 1.7 0 1 0 3.4 0a1.7 1.7 0 1 0 -3.4 0M111.8 673.3a1.7 1.7 0 1 0 3.4 0a1.7 1.7 0 1 0 -3.4 0M123.1 683.6a1.7 1.7 0 1 0 3.4 0a1.7 1.7 0 1 0 -3.4 0M115 674.6a1.7 1.7 0 1 0 3.4 0a1.7 1.7 0 1 0 -3.4 0M110.4 664.1a1.7 1.7 0 1 0 3.4 0a1.7 1.7 0 1 0 -3.4 0M105.7 660.1a1.7 1.7 0 1 0 3.4 0a1.7 1.7 0 1 0 -3.4 0M99.9 655.2a1.7 1.7 0 1 0 3.4 0a1.7 1.7 0 1 0 -3.4 0M105 660.3a1.7 1.7 0 1 0 3.4 0a1.7 1.7 0 1 0 -3.4 0M112.5 660.2a1.7 1.7 0 1 0 3.4 0a1.7 1.7 0 1 0 -3.4 0M110.2 664.6a1.7 1.7 0 1 0 3.4 0a1.7 1.7 0 1 0 -3.4 0M120.4 680a1.7 1.7 0 1 0 3.4 0a1.7 1.7 0 1 0 -3.4 0M113.9 670.6a1.7 1.7 0 1 0 3.4 0a1.7 1.7 0 1 0 -3.4 0M131 676a1.7 1.7 0 1 0 3.4 0a1.7 1.7 0 1 0 -3.4 0M145 707.1a1.7 1.7 0 1 0 3.4 0a1.7 1.7 0 1 0 -3.4 0M97.8 667.5a1.7 1.7 0 1 0 3.4 0a1.7 1.7 0 1 0 -3.4 0M104.2 668.4a1.7 1.7 0 1 0 3.4 0a1.7 1.7 0 1 0 -3.4 0M141.3 689.9a1.7 1.7 0 1 0 3.4 0a1.7 1.7 0 1 0 -3.4 0M101.9 651.5a1.7 1.7 0 1 0 3.4 0a1.7 1.7 0 1 0 -3.4 0M100.4 658.9a1.7 1.7 0 1 0 3.4 0a1.7 1.7 0 1 0 -3.4 0M114.8 652.9a1.7 1.7 0 1 0 3.4 0a1.7 1.7 0 1 0 -3.4 0M112.2 668.8a1.7 1.7 0 1 0 3.4 0a1.7 1.7 0 1 0 -3.4 0M120.2 682.5a1.7 1.7 0 1 0 3.4 0a1.7 1.7 0 1 0 -3.4 0M123.3 675a1.7 1.7 0 1 0 3.4 0a1.7 1.7 0 1 0 -3.4 0M133 674.3a1.7 1.7 0 1 0 3.4 0a1.7 1.7 0 1 0 -3.4 0M115 668.7a1.7 1.7 0 1 0 3.4 0a1.7 1.7 0 1 0 -3.4 0M125.8 676.7a1.7 1.7 0 1 0 3.4 0a1.7 1.7 0 1 0 -3.4 0M133.2 666.9a1.7 1.7 0 1 0 3.4 0a1.7 1.7 0 1 0 -3.4 0M128.5 673.5a1.7 1.7 0 1 0 3.4 0a1.7 1.7 0 1 0 -3.4 0M108.9 668a1.7 1.7 0 1 0 3.4 0a1.7 1.7 0 1 0 -3.4 0M152.4 698.8a1.7 1.7 0 1 0 3.4 0a1.7 1.7 0 1 0 -3.4 0M116.3 677.1a1.7 1.7 0 1 0 3.4 0a1.7 1.7 0 1 0 -3.4 0M100.5 655.7a1.7 1.7 0 1 0 3.4 0a1.7 1.7 0 1 0 -3.4 0M108.3 656.9a1.7 1.7 0 1 0 3.4 0a1.7 1.7 0 1 0 -3.4 0M122.3 686.3a1.7 1.7 0 1 0 3.4 0a1.7 1.7 0 1 0 -3.4 0M123.4 677.9a1.7 1.7 0 1 0 3.4 0a1.7 1.7 0 1 0 -3.4 0M117.8 677.2a1.7 1.7 0 1 0 3.4 0a1.7 1.7 0 1 0 -3.4 0M122.1 668.5a1.7 1.7 0 1 0 3.4 0a1.7 1.7 0 1 0 -3.4 0M120.5 681.2a1.7 1.7 0 1 0 3.4 0a1.7 1.7 0 1 0 -3.4 0M116.7 676.8a1.7 1.7 0 1 0 3.4 0a1.7 1.7 0 1 0 -3.4 0M117 682a1.7 1.7 0 1 0 3.4 0a1.7 1.7 0 1 0 -3.4 0M124.1 679.4a1.7 1.7 0 1 0 3.4 0a1.7 1.7 0 1 0 -3.4 0M112.6 671.3a1.7 1.7 0 1 0 3.4 0a1.7 1.7 0 1 0 -3.4 0M113.9 658.4a1.7 1.7 0 1 0 3.4 0a1.7 1.7 0 1 0 -3.4 0M124.5 668.5a1.7 1.7 0 1 0 3.4 0a1.7 1.7 0 1 0 -3.4 0M148.2 699.3a1.7 1.7 0 1 0 3.4 0a1.7 1.7 0 1 0 -3.4 0M118.8 675.3a1.7 1.7 0 1 0 3.4 0a1.7 1.7 0 1 0 -3.4 0M149.3 691.5a1.7 1.7 0 1 0 3.4 0a1.7 1.7 0 1 0 -3.4 0M131.9 697.1a1.7 1.7 0 1 0 3.4 0a1.7 1.7 0 1 0 -3.4 0M110.1 666.4a1.7 1.7 0 1 0 3.4 0a1.7 1.7 0 1 0 -3.4 0M49.3 626.3a1.7 1.7 0 1 0 3.4 0a1.7 1.7 0 1 0 -3.4 0M52 627.2a1.7 1.7 0 1 0 3.4 0a1.7 1.7 0 1 0 -3.4 0M56 638.5a1.7 1.7 0 1 0 3.4 0a1.7 1.7 0 1 0 -3.4 0M55.1 657.3a1.7 1.7 0 1 0 3.4 0a1.7 1.7 0 1 0 -3.4 0M60.6 662.2a1.7 1.7 0 1 0 3.4 0a1.7 1.7 0 1 0 -3.4 0M67.1 661.9a1.7 1.7 0 1 0 3.4 0a1.7 1.7 0 1 0 -3.4 0M78.4 663.3a1.7 1.7 0 1 0 3.4 0a1.7 1.7 0 1 0 -3.4 0M70.6 688.3a1.7 1.7 0 1 0 3.4 0a1.7 1.7 0 1 0 -3.4 0M80.6 687.8a1.7 1.7 0 1 0 3.4 0a1.7 1.7 0 1 0 -3.4 0M103.1 709.3a1.7 1.7 0 1 0 3.4 0a1.7 1.7 0 1 0 -3.4 0M122.2 705.7a1.7 1.7 0 1 0 3.4 0a1.7 1.7 0 1 0 -3.4 0M113.5 692.9a1.7 1.7 0 1 0 3.4 0a1.7 1.7 0 1 0 -3.4 0M131.4 698.4a1.7 1.7 0 1 0 3.4 0a1.7 1.7 0 1 0 -3.4 0M137.8 697.5a1.7 1.7 0 1 0 3.4 0a1.7 1.7 0 1 0 -3.4 0M144.1 709.3a1.7 1.7 0 1 0 3.4 0a1.7 1.7 0 1 0 -3.4 0M139.6 721.2a1.7 1.7 0 1 0 3.4 0a1.7 1.7 0 1 0 -3.4 0M152.4 703.3a1.7 1.7 0 1 0 3.4 0a1.7 1.7 0 1 0 -3.4 0M152.4 688.7a1.7 1.7 0 1 0 3.4 0a1.7 1.7 0 1 0 -3.4 0M147.8 687.4a1.7 1.7 0 1 0 3.4 0a1.7 1.7 0 1 0 -3.4 0M45.6 611.7a1.7 1.7 0 1 0 3.4 0a1.7 1.7 0 1 0 -3.4 0M49.3 609.9a1.7 1.7 0 1 0 3.4 0a1.7 1.7 0 1 0 -3.4 0M55.6 607.1a1.7 1.7 0 1 0 3.4 0a1.7 1.7 0 1 0 -3.4 0M56.3 613a1.7 1.7 0 1 0 3.4 0a1.7 1.7 0 1 0 -3.4 0M59.3 616a1.7 1.7 0 1 0 3.4 0a1.7 1.7 0 1 0 -3.4 0" fill="none" stroke="#000" stroke-width="0.6"/>
<line x1="47.7" y1="613.5" x2="154.4" y2="698" stroke="#c8168c" stroke-width="1.9"/>
<text x="111.3" y="618.1" font-size="8.7"><tspan font-style="italic">r</tspan> = −0.84</text>
<text x="111.3" y="628.3" font-size="8.7"><tspan font-style="italic">P</tspan> = 5e−161</text>
<text x="41.9" y="636.8" font-size="6.1" text-anchor="end" fill="#606060">3e+05</text>
<text x="41.9" y="676.4" font-size="6.1" text-anchor="end" fill="#606060">2e+05</text>
<text x="41.9" y="715.9" font-size="6.1" text-anchor="end" fill="#606060">1e+05</text>
<text x="44.3" y="733.9" font-size="6.1" text-anchor="middle" fill="#606060">0</text>
<text x="67.4" y="733.9" font-size="6.1" text-anchor="middle" fill="#606060">50000</text>
<text x="90.4" y="733.9" font-size="6.1" text-anchor="middle" fill="#606060">100000</text>
<text x="113.5" y="733.9" font-size="6.1" text-anchor="middle" fill="#606060">150000</text>
<text x="136.6" y="733.9" font-size="6.1" text-anchor="middle" fill="#606060">200000</text>
<text x="24" y="667.1" font-size="9.2" text-anchor="middle" textLength="140.2" lengthAdjust="spacingAndGlyphs" transform="rotate(-90 24 667.1)">Cumulative abundance of Dominants</text>
<text x="101.1" y="744.2" font-size="9.2" text-anchor="middle" textLength="139.7" lengthAdjust="spacingAndGlyphs">Cumulative abundance of Specialists</text>
<rect x="204.2" y="601.9" width="114.5" height="125" fill="#e4e4e4"/>
<path d="M286.5 716.2a1.7 1.7 0 1 0 3.4 0a1.7 1.7 0 1 0 -3.4 0M283 719.5a1.7 1.7 0 1 0 3.4 0a1.7 1.7 0 1 0 -3.4 0M252.3 719.7a1.7 1.7 0 1 0 3.4 0a1.7 1.7 0 1 0 -3.4 0M279.6 723.1a1.7 1.7 0 1 0 3.4 0a1.7 1.7 0 1 0 -3.4 0M273.2 722.7a1.7 1.7 0 1 0 3.4 0a1.7 1.7 0 1 0 -3.4 0M286.3 721.4a1.7 1.7 0 1 0 3.4 0a1.7 1.7 0 1 0 -3.4 0M267.5 702.6a1.7 1.7 0 1 0 3.4 0a1.7 1.7 0 1 0 -3.4 0M268.2 705.3a1.7 1.7 0 1 0 3.4 0a1.7 1.7 0 1 0 -3.4 0M299.8 718.4a1.7 1.7 0 1 0 3.4 0a1.7 1.7 0 1 0 -3.4 0M257.7 717.4a1.7 1.7 0 1 0 3.4 0a1.7 1.7 0 1 0 -3.4 0M271.8 710.3a1.7 1.7 0 1 0 3.4 0a1.7 1.7 0 1 0 -3.4 0M294.4 718a1.7 1.7 0 1 0 3.4 0a1.7 1.7 0 1 0 -3.4 0M295 720a1.7 1.7 0 1 0 3.4 0a1.7 1.7 0 1 0 -3.4 0M249 720.7a1.7 1.7 0 1 0 3.4 0a1.7 1.7 0 1 0 -3.4 0M285.7 717.1a1.7 1.7 0 1 0 3.4 0a1.7 1.7 0 1 0 -3.4 0M285.9 723.1a1.7 1.7 0 1 0 3.4 0a1.7 1.7 0 1 0 -3.4 0M235.2 721.6a1.7 1.7 0 1 0 3.4 0a1.7 1.7 0 1 0 -3.4 0M292.7 721.6a1.7 1.7 0 1 0 3.4 0a1.7 1.7 0 1 0 -3.4 0M310.7 717.9a1.7 1.7 0 1 0 3.4 0a1.7 1.7 0 1 0 -3.4 0M284.8 720.9a1.7 1.7 0 1 0 3.4 0a1.7 1.7 0 1 0 -3.4 0M281 722.8a1.7 1.7 0 1 0 3.4 0a1.7 1.7 0 1 0 -3.4 0M277.7 721.1a1.7 1.7 0 1 0 3.4 0a1.7 1.7 0 1 0 -3.4 0M292.7 711.7a1.7 1.7 0 1 0 3.4 0a1.7 1.7 0 1 0 -3.4 0M279.9 722.2a1.7 1.7 0 1 0 3.4 0a1.7 1.7 0 1 0 -3.4 0M257 719.9a1.7 1.7 0 1 0 3.4 0a1.7 1.7 0 1 0 -3.4 0M276.4 716.9a1.7 1.7 0 1 0 3.4 0a1.7 1.7 0 1 0 -3.4 0M265.9 717.6a1.7 1.7 0 1 0 3.4 0a1.7 1.7 0 1 0 -3.4 0M282.8 718a1.7 1.7 0 1 0 3.4 0a1.7 1.7 0 1 0 -3.4 0M309.2 718.9a1.7 1.7 0 1 0 3.4 0a1.7 1.7 0 1 0 -3.4 0M290.1 703.5a1.7 1.7 0 1 0 3.4 0a1.7 1.7 0 1 0 -3.4 0M312.5 720.3a1.7 1.7 0 1 0 3.4 0a1.7 1.7 0 1 0 -3.4 0M290.1 719.2a1.7 1.7 0 1 0 3.4 0a1.7 1.7 0 1 0 -3.4 0M275.5 721.1a1.7 1.7 0 1 0 3.4 0a1.7 1.7 0 1 0 -3.4 0M280.6 711.7a1.7 1.7 0 1 0 3.4 0a1.7 1.7 0 1 0 -3.4 0M273.3 718.2a1.7 1.7 0 1 0 3.4 0a1.7 1.7 0 1 0 -3.4 0M294.9 718.9a1.7 1.7 0 1 0 3.4 0a1.7 1.7 0 1 0 -3.4 0M270.2 718.7a1.7 1.7 0 1 0 3.4 0a1.7 1.7 0 1 0 -3.4 0M263.3 723.7a1.7 1.7 0 1 0 3.4 0a1.7 1.7 0 1 0 -3.4 0M264 710.9a1.7 1.7 0 1 0 3.4 0a1.7 1.7 0 1 0 -3.4 0M278.6 716.3a1.7 1.7 0 1 0 3.4 0a1.7 1.7 0 1 0 -3.4 0M239.2 722a1.7 1.7 0 1 0 3.4 0a1.7 1.7 0 1 0 -3.4 0M281.1 723a1.7 1.7 0 1 0 3.4 0a1.7 1.7 0 1 0 -3.4 0M313.8 723.5a1.7 1.7 0 1 0 3.4 0a1.7 1.7 0 1 0 -3.4 0M256.7 721.2a1.7 1.7 0 1 0 3.4 0a1.7 1.7 0 1 0 -3.4 0M256.5 723.5a1.7 1.7 0 1 0 3.4 0a1.7 1.7 0 1 0 -3.4 0M290.5 719.3a1.7 1.7 0 1 0 3.4 0a1.7 1.7 0 1 0 -3.4 0M282.7 720.8a1.7 1.7 0 1 0 3.4 0a1.7 1.7 0 1 0 -3.4 0M295.7 712a1.7 1.7 0 1 0 3.4 0a1.7 1.7 0 1 0 -3.4 0M264.8 716.4a1.7 1.7 0 1 0 3.4 0a1.7 1.7 0 1 0 -3.4 0M290.8 713.6a1.7 1.7 0 1 0 3.4 0a1.7 1.7 0 1 0 -3.4 0M263.5 705.5a1.7 1.7 0 1 0 3.4 0a1.7 1.7 0 1 0 -3.4 0M260.9 723.5a1.7 1.7 0 1 0 3.4 0a1.7 1.7 0 1 0 -3.4 0M246.2 717.5a1.7 1.7 0 1 0 3.4 0a1.7 1.7 0 1 0 -3.4 0M274 722.5a1.7 1.7 0 1 0 3.4 0a1.7 1.7 0 1 0 -3.4 0M312.5 716.1a1.7 1.7 0 1 0 3.4 0a1.7 1.7 0 1 0 -3.4 0M267.3 716.7a1.7 1.7 0 1 0 3.4 0a1.7 1.7 0 1 0 -3.4 0M271.3 722.2a1.7 1.7 0 1 0 3.4 0a1.7 1.7 0 1 0 -3.4 0M314 720.5a1.7 1.7 0 1 0 3.4 0a1.7 1.7 0 1 0 -3.4 0M286.8 714.9a1.7 1.7 0 1 0 3.4 0a1.7 1.7 0 1 0 -3.4 0M303.7 721.6a1.7 1.7 0 1 0 3.4 0a1.7 1.7 0 1 0 -3.4 0M265 713.4a1.7 1.7 0 1 0 3.4 0a1.7 1.7 0 1 0 -3.4 0M307 722.9a1.7 1.7 0 1 0 3.4 0a1.7 1.7 0 1 0 -3.4 0M305.7 721.9a1.7 1.7 0 1 0 3.4 0a1.7 1.7 0 1 0 -3.4 0M256.8 723.4a1.7 1.7 0 1 0 3.4 0a1.7 1.7 0 1 0 -3.4 0M290.4 719.6a1.7 1.7 0 1 0 3.4 0a1.7 1.7 0 1 0 -3.4 0M236.5 714.9a1.7 1.7 0 1 0 3.4 0a1.7 1.7 0 1 0 -3.4 0M259.8 717.8a1.7 1.7 0 1 0 3.4 0a1.7 1.7 0 1 0 -3.4 0M270.5 716.1a1.7 1.7 0 1 0 3.4 0a1.7 1.7 0 1 0 -3.4 0M256.5 716.6a1.7 1.7 0 1 0 3.4 0a1.7 1.7 0 1 0 -3.4 0M260.4 714.2a1.7 1.7 0 1 0 3.4 0a1.7 1.7 0 1 0 -3.4 0M286.2 716.7a1.7 1.7 0 1 0 3.4 0a1.7 1.7 0 1 0 -3.4 0M284.7 719.8a1.7 1.7 0 1 0 3.4 0a1.7 1.7 0 1 0 -3.4 0M284 717.7a1.7 1.7 0 1 0 3.4 0a1.7 1.7 0 1 0 -3.4 0M269.7 721.1a1.7 1.7 0 1 0 3.4 0a1.7 1.7 0 1 0 -3.4 0M286 721.6a1.7 1.7 0 1 0 3.4 0a1.7 1.7 0 1 0 -3.4 0M275.8 720.8a1.7 1.7 0 1 0 3.4 0a1.7 1.7 0 1 0 -3.4 0M248.7 717.1a1.7 1.7 0 1 0 3.4 0a1.7 1.7 0 1 0 -3.4 0M243.5 723.8a1.7 1.7 0 1 0 3.4 0a1.7 1.7 0 1 0 -3.4 0M302 720.9a1.7 1.7 0 1 0 3.4 0a1.7 1.7 0 1 0 -3.4 0M276.2 721.4a1.7 1.7 0 1 0 3.4 0a1.7 1.7 0 1 0 -3.4 0M282.1 722.8a1.7 1.7 0 1 0 3.4 0a1.7 1.7 0 1 0 -3.4 0M308.3 720.6a1.7 1.7 0 1 0 3.4 0a1.7 1.7 0 1 0 -3.4 0M307.7 722.4a1.7 1.7 0 1 0 3.4 0a1.7 1.7 0 1 0 -3.4 0M258.1 719.8a1.7 1.7 0 1 0 3.4 0a1.7 1.7 0 1 0 -3.4 0M291.7 720.9a1.7 1.7 0 1 0 3.4 0a1.7 1.7 0 1 0 -3.4 0M274.7 716.9a1.7 1.7 0 1 0 3.4 0a1.7 1.7 0 1 0 -3.4 0M292.2 720.4a1.7 1.7 0 1 0 3.4 0a1.7 1.7 0 1 0 -3.4 0M277.6 719.2a1.7 1.7 0 1 0 3.4 0a1.7 1.7 0 1 0 -3.4 0M267.3 717.1a1.7 1.7 0 1 0 3.4 0a1.7 1.7 0 1 0 -3.4 0M268.6 715.9a1.7 1.7 0 1 0 3.4 0a1.7 1.7 0 1 0 -3.4 0M295.3 721.8a1.7 1.7 0 1 0 3.4 0a1.7 1.7 0 1 0 -3.4 0M307.3 720.7a1.7 1.7 0 1 0 3.4 0a1.7 1.7 0 1 0 -3.4 0M260.7 697.6a1.7 1.7 0 1 0 3.4 0a1.7 1.7 0 1 0 -3.4 0M273.8 720.8a1.7 1.7 0 1 0 3.4 0a1.7 1.7 0 1 0 -3.4 0M258.8 723.5a1.7 1.7 0 1 0 3.4 0a1.7 1.7 0 1 0 -3.4 0M289.4 721.5a1.7 1.7 0 1 0 3.4 0a1.7 1.7 0 1 0 -3.4 0M272.9 719.1a1.7 1.7 0 1 0 3.4 0a1.7 1.7 0 1 0 -3.4 0M259 721.9a1.7 1.7 0 1 0 3.4 0a1.7 1.7 0 1 0 -3.4 0M264.4 720.5a1.7 1.7 0 1 0 3.4 0a1.7 1.7 0 1 0 -3.4 0M281.3 718.9a1.7 1.7 0 1 0 3.4 0a1.7 1.7 0 1 0 -3.4 0M293.5 720.4a1.7 1.7 0 1 0 3.4 0a1.7 1.7 0 1 0 -3.4 0M247.2 722.8a1.7 1.7 0 1 0 3.4 0a1.7 1.7 0 1 0 -3.4 0M259.5 723.6a1.7 1.7 0 1 0 3.4 0a1.7 1.7 0 1 0 -3.4 0M262.4 717.6a1.7 1.7 0 1 0 3.4 0a1.7 1.7 0 1 0 -3.4 0M269.7 713.2a1.7 1.7 0 1 0 3.4 0a1.7 1.7 0 1 0 -3.4 0M281.3 718.2a1.7 1.7 0 1 0 3.4 0a1.7 1.7 0 1 0 -3.4 0M262 706.1a1.7 1.7 0 1 0 3.4 0a1.7 1.7 0 1 0 -3.4 0M294.6 712.4a1.7 1.7 0 1 0 3.4 0a1.7 1.7 0 1 0 -3.4 0M292.1 701.5a1.7 1.7 0 1 0 3.4 0a1.7 1.7 0 1 0 -3.4 0M260.7 721.5a1.7 1.7 0 1 0 3.4 0a1.7 1.7 0 1 0 -3.4 0M262.1 722a1.7 1.7 0 1 0 3.4 0a1.7 1.7 0 1 0 -3.4 0M247 720.8a1.7 1.7 0 1 0 3.4 0a1.7 1.7 0 1 0 -3.4 0M271.4 718.6a1.7 1.7 0 1 0 3.4 0a1.7 1.7 0 1 0 -3.4 0M269.4 718.7a1.7 1.7 0 1 0 3.4 0a1.7 1.7 0 1 0 -3.4 0M303.3 702.8a1.7 1.7 0 1 0 3.4 0a1.7 1.7 0 1 0 -3.4 0M257.1 721.5a1.7 1.7 0 1 0 3.4 0a1.7 1.7 0 1 0 -3.4 0M291.6 718.3a1.7 1.7 0 1 0 3.4 0a1.7 1.7 0 1 0 -3.4 0M270.2 720.6a1.7 1.7 0 1 0 3.4 0a1.7 1.7 0 1 0 -3.4 0M269 722.6a1.7 1.7 0 1 0 3.4 0a1.7 1.7 0 1 0 -3.4 0M255.7 722.4a1.7 1.7 0 1 0 3.4 0a1.7 1.7 0 1 0 -3.4 0M235.6 719.1a1.7 1.7 0 1 0 3.4 0a1.7 1.7 0 1 0 -3.4 0M278.7 722a1.7 1.7 0 1 0 3.4 0a1.7 1.7 0 1 0 -3.4 0M267.9 717.4a1.7 1.7 0 1 0 3.4 0a1.7 1.7 0 1 0 -3.4 0M267.2 721.3a1.7 1.7 0 1 0 3.4 0a1.7 1.7 0 1 0 -3.4 0M274.2 723.6a1.7 1.7 0 1 0 3.4 0a1.7 1.7 0 1 0 -3.4 0M272.4 721.7a1.7 1.7 0 1 0 3.4 0a1.7 1.7 0 1 0 -3.4 0M309.1 714.5a1.7 1.7 0 1 0 3.4 0a1.7 1.7 0 1 0 -3.4 0M286.9 716.9a1.7 1.7 0 1 0 3.4 0a1.7 1.7 0 1 0 -3.4 0M295.6 723.3a1.7 1.7 0 1 0 3.4 0a1.7 1.7 0 1 0 -3.4 0M300.2 715.6a1.7 1.7 0 1 0 3.4 0a1.7 1.7 0 1 0 -3.4 0M284.5 722.1a1.7 1.7 0 1 0 3.4 0a1.7 1.7 0 1 0 -3.4 0M307.1 705a1.7 1.7 0 1 0 3.4 0a1.7 1.7 0 1 0 -3.4 0M262 723.2a1.7 1.7 0 1 0 3.4 0a1.7 1.7 0 1 0 -3.4 0M287.7 718.4a1.7 1.7 0 1 0 3.4 0a1.7 1.7 0 1 0 -3.4 0M291.8 720.2a1.7 1.7 0 1 0 3.4 0a1.7 1.7 0 1 0 -3.4 0M270.9 719.8a1.7 1.7 0 1 0 3.4 0a1.7 1.7 0 1 0 -3.4 0M274.4 716.1a1.7 1.7 0 1 0 3.4 0a1.7 1.7 0 1 0 -3.4 0M293.2 722.6a1.7 1.7 0 1 0 3.4 0a1.7 1.7 0 1 0 -3.4 0M267.9 723a1.7 1.7 0 1 0 3.4 0a1.7 1.7 0 1 0 -3.4 0M265.5 721.6a1.7 1.7 0 1 0 3.4 0a1.7 1.7 0 1 0 -3.4 0M268.5 710.2a1.7 1.7 0 1 0 3.4 0a1.7 1.7 0 1 0 -3.4 0M276 722.3a1.7 1.7 0 1 0 3.4 0a1.7 1.7 0 1 0 -3.4 0M254.1 715a1.7 1.7 0 1 0 3.4 0a1.7 1.7 0 1 0 -3.4 0M283.2 717.7a1.7 1.7 0 1 0 3.4 0a1.7 1.7 0 1 0 -3.4 0M275.8 720.5a1.7 1.7 0 1 0 3.4 0a1.7 1.7 0 1 0 -3.4 0M274.4 715a1.7 1.7 0 1 0 3.4 0a1.7 1.7 0 1 0 -3.4 0M252.9 721.6a1.7 1.7 0 1 0 3.4 0a1.7 1.7 0 1 0 -3.4 0M297.5 719.9a1.7 1.7 0 1 0 3.4 0a1.7 1.7 0 1 0 -3.4 0M271.6 717.1a1.7 1.7 0 1 0 3.4 0a1.7 1.7 0 1 0 -3.4 0M294.6 723.4a1.7 1.7 0 1 0 3.4 0a1.7 1.7 0 1 0 -3.4 0M277.2 721.6a1.7 1.7 0 1 0 3.4 0a1.7 1.7 0 1 0 -3.4 0M256 722.8a1.7 1.7 0 1 0 3.4 0a1.7 1.7 0 1 0 -3.4 0M302.4 718.9a1.7 1.7 0 1 0 3.4 0a1.7 1.7 0 1 0 -3.4 0M262.6 718a1.7 1.7 0 1 0 3.4 0a1.7 1.7 0 1 0 -3.4 0M262.2 721.5a1.7 1.7 0 1 0 3.4 0a1.7 1.7 0 1 0 -3.4 0M255.4 722.7a1.7 1.7 0 1 0 3.4 0a1.7 1.7 0 1 0 -3.4 0M287.9 707.9a1.7 1.7 0 1 0 3.4 0a1.7 1.7 0 1 0 -3.4 0M280.5 715.9a1.7 1.7 0 1 0 3.4 0a1.7 1.7 0 1 0 -3.4 0M285 723.2a1.7 1.7 0 1 0 3.4 0a1.7 1.7 0 1 0 -3.4 0M290.4 720.3a1.7 1.7 0 1 0 3.4 0a1.7 1.7 0 1 0 -3.4 0M253.6 723.6a1.7 1.7 0 1 0 3.4 0a1.7 1.7 0 1 0 -3.4 0M257.4 715a1.7 1.7 0 1 0 3.4 0a1.7 1.7 0 1 0 -3.4 0M265.5 708.8a1.7 1.7 0 1 0 3.4 0a1.7 1.7 0 1 0 -3.4 0M279.3 711.8a1.7 1.7 0 1 0 3.4 0a1.7 1.7 0 1 0 -3.4 0M262 723.4a1.7 1.7 0 1 0 3.4 0a1.7 1.7 0 1 0 -3.4 0M272.2 699.6a1.7 1.7 0 1 0 3.4 0a1.7 1.7 0 1 0 -3.4 0M289.6 720.2a1.7 1.7 0 1 0 3.4 0a1.7 1.7 0 1 0 -3.4 0M297.1 720.1a1.7 1.7 0 1 0 3.4 0a1.7 1.7 0 1 0 -3.4 0M248.7 720.8a1.7 1.7 0 1 0 3.4 0a1.7 1.7 0 1 0 -3.4 0M268.1 722.4a1.7 1.7 0 1 0 3.4 0a1.7 1.7 0 1 0 -3.4 0M301.4 710.4a1.7 1.7 0 1 0 3.4 0a1.7 1.7 0 1 0 -3.4 0M286.1 720.7a1.7 1.7 0 1 0 3.4 0a1.7 1.7 0 1 0 -3.4 0M299.6 720.6a1.7 1.7 0 1 0 3.4 0a1.7 1.7 0 1 0 -3.4 0M279.8 723.4a1.7 1.7 0 1 0 3.4 0a1.7 1.7 0 1 0 -3.4 0M285.5 718.1a1.7 1.7 0 1 0 3.4 0a1.7 1.7 0 1 0 -3.4 0M300 714.9a1.7 1.7 0 1 0 3.4 0a1.7 1.7 0 1 0 -3.4 0M250.3 721a1.7 1.7 0 1 0 3.4 0a1.7 1.7 0 1 0 -3.4 0M281.4 716.7a1.7 1.7 0 1 0 3.4 0a1.7 1.7 0 1 0 -3.4 0M280.4 712.6a1.7 1.7 0 1 0 3.4 0a1.7 1.7 0 1 0 -3.4 0M286.2 708.3a1.7 1.7 0 1 0 3.4 0a1.7 1.7 0 1 0 -3.4 0M261 719.1a1.7 1.7 0 1 0 3.4 0a1.7 1.7 0 1 0 -3.4 0M301.8 722.2a1.7 1.7 0 1 0 3.4 0a1.7 1.7 0 1 0 -3.4 0M284.8 720.7a1.7 1.7 0 1 0 3.4 0a1.7 1.7 0 1 0 -3.4 0M287.1 719a1.7 1.7 0 1 0 3.4 0a1.7 1.7 0 1 0 -3.4 0M279.3 720.2a1.7 1.7 0 1 0 3.4 0a1.7 1.7 0 1 0 -3.4 0M275.1 721.8a1.7 1.7 0 1 0 3.4 0a1.7 1.7 0 1 0 -3.4 0M294 719.9a1.7 1.7 0 1 0 3.4 0a1.7 1.7 0 1 0 -3.4 0M253.9 720.7a1.7 1.7 0 1 0 3.4 0a1.7 1.7 0 1 0 -3.4 0M254.9 713.6a1.7 1.7 0 1 0 3.4 0a1.7 1.7 0 1 0 -3.4 0M259.6 723.6a1.7 1.7 0 1 0 3.4 0a1.7 1.7 0 1 0 -3.4 0M282.6 723.5a1.7 1.7 0 1 0 3.4 0a1.7 1.7 0 1 0 -3.4 0M266.6 706a1.7 1.7 0 1 0 3.4 0a1.7 1.7 0 1 0 -3.4 0M255.2 721.6a1.7 1.7 0 1 0 3.4 0a1.7 1.7 0 1 0 -3.4 0M298.6 713a1.7 1.7 0 1 0 3.4 0a1.7 1.7 0 1 0 -3.4 0M289.6 715.7a1.7 1.7 0 1 0 3.4 0a1.7 1.7 0 1 0 -3.4 0M274.6 721.9a1.7 1.7 0 1 0 3.4 0a1.7 1.7 0 1 0 -3.4 0M298.1 718.4a1.7 1.7 0 1 0 3.4 0a1.7 1.7 0 1 0 -3.4 0M256.8 723.5a1.7 1.7 0 1 0 3.4 0a1.7 1.7 0 1 0 -3.4 0M272.2 718.4a1.7 1.7 0 1 0 3.4 0a1.7 1.7 0 1 0 -3.4 0M285.2 720.1a1.7 1.7 0 1 0 3.4 0a1.7 1.7 0 1 0 -3.4 0M293 718.8a1.7 1.7 0 1 0 3.4 0a1.7 1.7 0 1 0 -3.4 0M287.3 723.3a1.7 1.7 0 1 0 3.4 0a1.7 1.7 0 1 0 -3.4 0M281.7 718.7a1.7 1.7 0 1 0 3.4 0a1.7 1.7 0 1 0 -3.4 0M269.4 721.1a1.7 1.7 0 1 0 3.4 0a1.7 1.7 0 1 0 -3.4 0M298.8 720.4a1.7 1.7 0 1 0 3.4 0a1.7 1.7 0 1 0 -3.4 0M298.2 714a1.7 1.7 0 1 0 3.4 0a1.7 1.7 0 1 0 -3.4 0M269 721.8a1.7 1.7 0 1 0 3.4 0a1.7 1.7 0 1 0 -3.4 0M280.6 720a1.7 1.7 0 1 0 3.4 0a1.7 1.7 0 1 0 -3.4 0M268.4 721.6a1.7 1.7 0 1 0 3.4 0a1.7 1.7 0 1 0 -3.4 0M274.6 722.7a1.7 1.7 0 1 0 3.4 0a1.7 1.7 0 1 0 -3.4 0M260.6 722.7a1.7 1.7 0 1 0 3.4 0a1.7 1.7 0 1 0 -3.4 0M275.3 721.8a1.7 1.7 0 1 0 3.4 0a1.7 1.7 0 1 0 -3.4 0M308.8 703.3a1.7 1.7 0 1 0 3.4 0a1.7 1.7 0 1 0 -3.4 0M249.1 718.3a1.7 1.7 0 1 0 3.4 0a1.7 1.7 0 1 0 -3.4 0M312.8 723.3a1.7 1.7 0 1 0 3.4 0a1.7 1.7 0 1 0 -3.4 0M240.3 714.8a1.7 1.7 0 1 0 3.4 0a1.7 1.7 0 1 0 -3.4 0M248.8 715.4a1.7 1.7 0 1 0 3.4 0a1.7 1.7 0 1 0 -3.4 0M259.7 720.3a1.7 1.7 0 1 0 3.4 0a1.7 1.7 0 1 0 -3.4 0M254.8 721a1.7 1.7 0 1 0 3.4 0a1.7 1.7 0 1 0 -3.4 0M293.5 708.2a1.7 1.7 0 1 0 3.4 0a1.7 1.7 0 1 0 -3.4 0M267.7 721.2a1.7 1.7 0 1 0 3.4 0a1.7 1.7 0 1 0 -3.4 0M268.6 722a1.7 1.7 0 1 0 3.4 0a1.7 1.7 0 1 0 -3.4 0M313.2 705.3a1.7 1.7 0 1 0 3.4 0a1.7 1.7 0 1 0 -3.4 0M300.2 706.1a1.7 1.7 0 1 0 3.4 0a1.7 1.7 0 1 0 -3.4 0M262.1 721.9a1.7 1.7 0 1 0 3.4 0a1.7 1.7 0 1 0 -3.4 0M278.3 722.1a1.7 1.7 0 1 0 3.4 0a1.7 1.7 0 1 0 -3.4 0M291.7 722.7a1.7 1.7 0 1 0 3.4 0a1.7 1.7 0 1 0 -3.4 0M273 723.2a1.7 1.7 0 1 0 3.4 0a1.7 1.7 0 1 0 -3.4 0M299.9 717.3a1.7 1.7 0 1 0 3.4 0a1.7 1.7 0 1 0 -3.4 0M243.5 721.9a1.7 1.7 0 1 0 3.4 0a1.7 1.7 0 1 0 -3.4 0M295.7 723.5a1.7 1.7 0 1 0 3.4 0a1.7 1.7 0 1 0 -3.4 0M257.1 719.3a1.7 1.7 0 1 0 3.4 0a1.7 1.7 0 1 0 -3.4 0M305.4 711.4a1.7 1.7 0 1 0 3.4 0a1.7 1.7 0 1 0 -3.4 0M297.5 721.5a1.7 1.7 0 1 0 3.4 0a1.7 1.7 0 1 0 -3.4 0M253.7 699.7a1.7 1.7 0 1 0 3.4 0a1.7 1.7 0 1 0 -3.4 0M282.5 723.1a1.7 1.7 0 1 0 3.4 0a1.7 1.7 0 1 0 -3.4 0M291.3 717.7a1.7 1.7 0 1 0 3.4 0a1.7 1.7 0 1 0 -3.4 0M289.6 719.2a1.7 1.7 0 1 0 3.4 0a1.7 1.7 0 1 0 -3.4 0M274.9 721.7a1.7 1.7 0 1 0 3.4 0a1.7 1.7 0 1 0 -3.4 0M299.8 709.8a1.7 1.7 0 1 0 3.4 0a1.7 1.7 0 1 0 -3.4 0M256.9 722.5a1.7 1.7 0 1 0 3.4 0a1.7 1.7 0 1 0 -3.4 0M286.3 722.5a1.7 1.7 0 1 0 3.4 0a1.7 1.7 0 1 0 -3.4 0M239.2 716a1.7 1.7 0 1 0 3.4 0a1.7 1.7 0 1 0 -3.4 0M259.6 720.1a1.7 1.7 0 1 0 3.4 0a1.7 1.7 0 1 0 -3.4 0M275.8 713.7a1.7 1.7 0 1 0 3.4 0a1.7 1.7 0 1 0 -3.4 0M263.6 723.3a1.7 1.7 0 1 0 3.4 0a1.7 1.7 0 1 0 -3.4 0M255.6 716.1a1.7 1.7 0 1 0 3.4 0a1.7 1.7 0 1 0 -3.4 0M297.4 718.1a1.7 1.7 0 1 0 3.4 0a1.7 1.7 0 1 0 -3.4 0M273.1 719a1.7 1.7 0 1 0 3.4 0a1.7 1.7 0 1 0 -3.4 0M284.6 719.5a1.7 1.7 0 1 0 3.4 0a1.7 1.7 0 1 0 -3.4 0M259.3 723.3a1.7 1.7 0 1 0 3.4 0a1.7 1.7 0 1 0 -3.4 0M231.1 707.2a1.7 1.7 0 1 0 3.4 0a1.7 1.7 0 1 0 -3.4 0M282.9 718.6a1.7 1.7 0 1 0 3.4 0a1.7 1.7 0 1 0 -3.4 0M255.4 721a1.7 1.7 0 1 0 3.4 0a1.7 1.7 0 1 0 -3.4 0M263.4 722.5a1.7 1.7 0 1 0 3.4 0a1.7 1.7 0 1 0 -3.4 0M288.4 714.9a1.7 1.7 0 1 0 3.4 0a1.7 1.7 0 1 0 -3.4 0M264 722.2a1.7 1.7 0 1 0 3.4 0a1.7 1.7 0 1 0 -3.4 0M285.9 723.8a1.7 1.7 0 1 0 3.4 0a1.7 1.7 0 1 0 -3.4 0M271.4 722.7a1.7 1.7 0 1 0 3.4 0a1.7 1.7 0 1 0 -3.4 0M298.4 713.8a1.7 1.7 0 1 0 3.4 0a1.7 1.7 0 1 0 -3.4 0M292.3 708a1.7 1.7 0 1 0 3.4 0a1.7 1.7 0 1 0 -3.4 0M305.2 722.3a1.7 1.7 0 1 0 3.4 0a1.7 1.7 0 1 0 -3.4 0M305.6 708.7a1.7 1.7 0 1 0 3.4 0a1.7 1.7 0 1 0 -3.4 0M285.5 720.1a1.7 1.7 0 1 0 3.4 0a1.7 1.7 0 1 0 -3.4 0M281.3 711a1.7 1.7 0 1 0 3.4 0a1.7 1.7 0 1 0 -3.4 0M256.9 720.9a1.7 1.7 0 1 0 3.4 0a1.7 1.7 0 1 0 -3.4 0M267 709.1a1.7 1.7 0 1 0 3.4 0a1.7 1.7 0 1 0 -3.4 0M267.9 723.7a1.7 1.7 0 1 0 3.4 0a1.7 1.7 0 1 0 -3.4 0M266.6 723.8a1.7 1.7 0 1 0 3.4 0a1.7 1.7 0 1 0 -3.4 0M302.4 720.2a1.7 1.7 0 1 0 3.4 0a1.7 1.7 0 1 0 -3.4 0M305.6 721.4a1.7 1.7 0 1 0 3.4 0a1.7 1.7 0 1 0 -3.4 0M295.3 714.3a1.7 1.7 0 1 0 3.4 0a1.7 1.7 0 1 0 -3.4 0M287.9 722.2a1.7 1.7 0 1 0 3.4 0a1.7 1.7 0 1 0 -3.4 0M251 723.6a1.7 1.7 0 1 0 3.4 0a1.7 1.7 0 1 0 -3.4 0M270.3 721.7a1.7 1.7 0 1 0 3.4 0a1.7 1.7 0 1 0 -3.4 0M270.4 722.3a1.7 1.7 0 1 0 3.4 0a1.7 1.7 0 1 0 -3.4 0M256.9 720.2a1.7 1.7 0 1 0 3.4 0a1.7 1.7 0 1 0 -3.4 0M248.1 718a1.7 1.7 0 1 0 3.4 0a1.7 1.7 0 1 0 -3.4 0M255.4 720.2a1.7 1.7 0 1 0 3.4 0a1.7 1.7 0 1 0 -3.4 0M262.9 721.5a1.7 1.7 0 1 0 3.4 0a1.7 1.7 0 1 0 -3.4 0M267.7 720.4a1.7 1.7 0 1 0 3.4 0a1.7 1.7 0 1 0 -3.4 0M287.1 717.4a1.7 1.7 0 1 0 3.4 0a1.7 1.7 0 1 0 -3.4 0M257.7 718.1a1.7 1.7 0 1 0 3.4 0a1.7 1.7 0 1 0 -3.4 0M286.3 720.8a1.7 1.7 0 1 0 3.4 0a1.7 1.7 0 1 0 -3.4 0M237.4 719.4a1.7 1.7 0 1 0 3.4 0a1.7 1.7 0 1 0 -3.4 0M252.4 716.2a1.7 1.7 0 1 0 3.4 0a1.7 1.7 0 1 0 -3.4 0M310.3 722.4a1.7 1.7 0 1 0 3.4 0a1.7 1.7 0 1 0 -3.4 0M265.7 723.3a1.7 1.7 0 1 0 3.4 0a1.7 1.7 0 1 0 -3.4 0M264.7 722.1a1.7 1.7 0 1 0 3.4 0a1.7 1.7 0 1 0 -3.4 0M304.9 722.6a1.7 1.7 0 1 0 3.4 0a1.7 1.7 0 1 0 -3.4 0M272.6 708.7a1.7 1.7 0 1 0 3.4 0a1.7 1.7 0 1 0 -3.4 0M294 723.2a1.7 1.7 0 1 0 3.4 0a1.7 1.7 0 1 0 -3.4 0M276.3 716.5a1.7 1.7 0 1 0 3.4 0a1.7 1.7 0 1 0 -3.4 0M262.7 721.8a1.7 1.7 0 1 0 3.4 0a1.7 1.7 0 1 0 -3.4 0M251 715.9a1.7 1.7 0 1 0 3.4 0a1.7 1.7 0 1 0 -3.4 0M269.5 722.7a1.7 1.7 0 1 0 3.4 0a1.7 1.7 0 1 0 -3.4 0M298.8 713.8a1.7 1.7 0 1 0 3.4 0a1.7 1.7 0 1 0 -3.4 0M289 716a1.7 1.7 0 1 0 3.4 0a1.7 1.7 0 1 0 -3.4 0M249.6 723.5a1.7 1.7 0 1 0 3.4 0a1.7 1.7 0 1 0 -3.4 0M251 710.9a1.7 1.7 0 1 0 3.4 0a1.7 1.7 0 1 0 -3.4 0M259 722.9a1.7 1.7 0 1 0 3.4 0a1.7 1.7 0 1 0 -3.4 0M271.6 717.1a1.7 1.7 0 1 0 3.4 0a1.7 1.7 0 1 0 -3.4 0M286.9 714.1a1.7 1.7 0 1 0 3.4 0a1.7 1.7 0 1 0 -3.4 0M283 717.7a1.7 1.7 0 1 0 3.4 0a1.7 1.7 0 1 0 -3.4 0M258.6 721.9a1.7 1.7 0 1 0 3.4 0a1.7 1.7 0 1 0 -3.4 0M272.2 716.1a1.7 1.7 0 1 0 3.4 0a1.7 1.7 0 1 0 -3.4 0M297.7 713.7a1.7 1.7 0 1 0 3.4 0a1.7 1.7 0 1 0 -3.4 0M275.8 720.5a1.7 1.7 0 1 0 3.4 0a1.7 1.7 0 1 0 -3.4 0M281.3 717.8a1.7 1.7 0 1 0 3.4 0a1.7 1.7 0 1 0 -3.4 0M258.6 715a1.7 1.7 0 1 0 3.4 0a1.7 1.7 0 1 0 -3.4 0M281.7 719.4a1.7 1.7 0 1 0 3.4 0a1.7 1.7 0 1 0 -3.4 0M285.9 718.5a1.7 1.7 0 1 0 3.4 0a1.7 1.7 0 1 0 -3.4 0M279.4 714.8a1.7 1.7 0 1 0 3.4 0a1.7 1.7 0 1 0 -3.4 0M302.2 712.3a1.7 1.7 0 1 0 3.4 0a1.7 1.7 0 1 0 -3.4 0M243.3 718.9a1.7 1.7 0 1 0 3.4 0a1.7 1.7 0 1 0 -3.4 0M285.3 721a1.7 1.7 0 1 0 3.4 0a1.7 1.7 0 1 0 -3.4 0M296.5 717.5a1.7 1.7 0 1 0 3.4 0a1.7 1.7 0 1 0 -3.4 0M289.6 719.5a1.7 1.7 0 1 0 3.4 0a1.7 1.7 0 1 0 -3.4 0M254 719.2a1.7 1.7 0 1 0 3.4 0a1.7 1.7 0 1 0 -3.4 0M286.4 720.4a1.7 1.7 0 1 0 3.4 0a1.7 1.7 0 1 0 -3.4 0M293.5 722.8a1.7 1.7 0 1 0 3.4 0a1.7 1.7 0 1 0 -3.4 0M261.9 723a1.7 1.7 0 1 0 3.4 0a1.7 1.7 0 1 0 -3.4 0M282.9 721.5a1.7 1.7 0 1 0 3.4 0a1.7 1.7 0 1 0 -3.4 0M237.8 719a1.7 1.7 0 1 0 3.4 0a1.7 1.7 0 1 0 -3.4 0M294.6 723.1a1.7 1.7 0 1 0 3.4 0a1.7 1.7 0 1 0 -3.4 0M274.4 721.5a1.7 1.7 0 1 0 3.4 0a1.7 1.7 0 1 0 -3.4 0M288.2 719a1.7 1.7 0 1 0 3.4 0a1.7 1.7 0 1 0 -3.4 0M280.3 723.5a1.7 1.7 0 1 0 3.4 0a1.7 1.7 0 1 0 -3.4 0M264.6 720.1a1.7 1.7 0 1 0 3.4 0a1.7 1.7 0 1 0 -3.4 0M265.3 716.7a1.7 1.7 0 1 0 3.4 0a1.7 1.7 0 1 0 -3.4 0M271.5 719.1a1.7 1.7 0 1 0 3.4 0a1.7 1.7 0 1 0 -3.4 0M245.1 715.7a1.7 1.7 0 1 0 3.4 0a1.7 1.7 0 1 0 -3.4 0M238.6 714.6a1.7 1.7 0 1 0 3.4 0a1.7 1.7 0 1 0 -3.4 0M249.8 695.5a1.7 1.7 0 1 0 3.4 0a1.7 1.7 0 1 0 -3.4 0M281.6 721.6a1.7 1.7 0 1 0 3.4 0a1.7 1.7 0 1 0 -3.4 0M244.3 720.7a1.7 1.7 0 1 0 3.4 0a1.7 1.7 0 1 0 -3.4 0M289.9 714.6a1.7 1.7 0 1 0 3.4 0a1.7 1.7 0 1 0 -3.4 0M272.2 723.7a1.7 1.7 0 1 0 3.4 0a1.7 1.7 0 1 0 -3.4 0M273.1 719.3a1.7 1.7 0 1 0 3.4 0a1.7 1.7 0 1 0 -3.4 0M249.2 718.7a1.7 1.7 0 1 0 3.4 0a1.7 1.7 0 1 0 -3.4 0M309.1 717.2a1.7 1.7 0 1 0 3.4 0a1.7 1.7 0 1 0 -3.4 0M296.9 722.3a1.7 1.7 0 1 0 3.4 0a1.7 1.7 0 1 0 -3.4 0M258.5 720.4a1.7 1.7 0 1 0 3.4 0a1.7 1.7 0 1 0 -3.4 0M306.6 723.1a1.7 1.7 0 1 0 3.4 0a1.7 1.7 0 1 0 -3.4 0M259.8 717.2a1.7 1.7 0 1 0 3.4 0a1.7 1.7 0 1 0 -3.4 0M283.4 719.4a1.7 1.7 0 1 0 3.4 0a1.7 1.7 0 1 0 -3.4 0M274.6 723.7a1.7 1.7 0 1 0 3.4 0a1.7 1.7 0 1 0 -3.4 0M265.2 720a1.7 1.7 0 1 0 3.4 0a1.7 1.7 0 1 0 -3.4 0M287 723.5a1.7 1.7 0 1 0 3.4 0a1.7 1.7 0 1 0 -3.4 0M257.5 722a1.7 1.7 0 1 0 3.4 0a1.7 1.7 0 1 0 -3.4 0M278.5 718.5a1.7 1.7 0 1 0 3.4 0a1.7 1.7 0 1 0 -3.4 0M298.9 715.6a1.7 1.7 0 1 0 3.4 0a1.7 1.7 0 1 0 -3.4 0M268.6 719.4a1.7 1.7 0 1 0 3.4 0a1.7 1.7 0 1 0 -3.4 0M257.9 721.2a1.7 1.7 0 1 0 3.4 0a1.7 1.7 0 1 0 -3.4 0M282.2 722.7a1.7 1.7 0 1 0 3.4 0a1.7 1.7 0 1 0 -3.4 0M259.2 719.7a1.7 1.7 0 1 0 3.4 0a1.7 1.7 0 1 0 -3.4 0M298.8 722.2a1.7 1.7 0 1 0 3.4 0a1.7 1.7 0 1 0 -3.4 0M289.1 722.9a1.7 1.7 0 1 0 3.4 0a1.7 1.7 0 1 0 -3.4 0M297.9 717.9a1.7 1.7 0 1 0 3.4 0a1.7 1.7 0 1 0 -3.4 0M276.8 720a1.7 1.7 0 1 0 3.4 0a1.7 1.7 0 1 0 -3.4 0M291.8 723.7a1.7 1.7 0 1 0 3.4 0a1.7 1.7 0 1 0 -3.4 0M302.1 707.4a1.7 1.7 0 1 0 3.4 0a1.7 1.7 0 1 0 -3.4 0M292.8 723.6a1.7 1.7 0 1 0 3.4 0a1.7 1.7 0 1 0 -3.4 0M271.6 722.6a1.7 1.7 0 1 0 3.4 0a1.7 1.7 0 1 0 -3.4 0M277.4 722.7a1.7 1.7 0 1 0 3.4 0a1.7 1.7 0 1 0 -3.4 0M285.9 721.7a1.7 1.7 0 1 0 3.4 0a1.7 1.7 0 1 0 -3.4 0M274.4 711a1.7 1.7 0 1 0 3.4 0a1.7 1.7 0 1 0 -3.4 0M268.5 719.8a1.7 1.7 0 1 0 3.4 0a1.7 1.7 0 1 0 -3.4 0M254.8 721.4a1.7 1.7 0 1 0 3.4 0a1.7 1.7 0 1 0 -3.4 0M261 717.2a1.7 1.7 0 1 0 3.4 0a1.7 1.7 0 1 0 -3.4 0M251.9 722.2a1.7 1.7 0 1 0 3.4 0a1.7 1.7 0 1 0 -3.4 0M243.8 712.5a1.7 1.7 0 1 0 3.4 0a1.7 1.7 0 1 0 -3.4 0M286.5 721.7a1.7 1.7 0 1 0 3.4 0a1.7 1.7 0 1 0 -3.4 0M242.1 719.1a1.7 1.7 0 1 0 3.4 0a1.7 1.7 0 1 0 -3.4 0M287.5 697.7a1.7 1.7 0 1 0 3.4 0a1.7 1.7 0 1 0 -3.4 0M308 716.8a1.7 1.7 0 1 0 3.4 0a1.7 1.7 0 1 0 -3.4 0M272.9 723.6a1.7 1.7 0 1 0 3.4 0a1.7 1.7 0 1 0 -3.4 0M245.9 723.1a1.7 1.7 0 1 0 3.4 0a1.7 1.7 0 1 0 -3.4 0M301.3 710.7a1.7 1.7 0 1 0 3.4 0a1.7 1.7 0 1 0 -3.4 0M291.2 704.3a1.7 1.7 0 1 0 3.4 0a1.7 1.7 0 1 0 -3.4 0M266.8 716.1a1.7 1.7 0 1 0 3.4 0a1.7 1.7 0 1 0 -3.4 0M261.8 712a1.7 1.7 0 1 0 3.4 0a1.7 1.7 0 1 0 -3.4 0M274.2 715.3a1.7 1.7 0 1 0 3.4 0a1.7 1.7 0 1 0 -3.4 0M284.8 723.4a1.7 1.7 0 1 0 3.4 0a1.7 1.7 0 1 0 -3.4 0M238.2 723.1a1.7 1.7 0 1 0 3.4 0a1.7 1.7 0 1 0 -3.4 0M251.4 721.6a1.7 1.7 0 1 0 3.4 0a1.7 1.7 0 1 0 -3.4 0M272 719.8a1.7 1.7 0 1 0 3.4 0a1.7 1.7 0 1 0 -3.4 0M295.2 722.5a1.7 1.7 0 1 0 3.4 0a1.7 1.7 0 1 0 -3.4 0M244.5 722.4a1.7 1.7 0 1 0 3.4 0a1.7 1.7 0 1 0 -3.4 0M298.3 720.6a1.7 1.7 0 1 0 3.4 0a1.7 1.7 0 1 0 -3.4 0M266.9 720.3a1.7 1.7 0 1 0 3.4 0a1.7 1.7 0 1 0 -3.4 0M297.7 720.4a1.7 1.7 0 1 0 3.4 0a1.7 1.7 0 1 0 -3.4 0M238.8 714.8a1.7 1.7 0 1 0 3.4 0a1.7 1.7 0 1 0 -3.4 0M283.3 723.1a1.7 1.7 0 1 0 3.4 0a1.7 1.7 0 1 0 -3.4 0M252.3 722.9a1.7 1.7 0 1 0 3.4 0a1.7 1.7 0 1 0 -3.4 0M284.5 717.4a1.7 1.7 0 1 0 3.4 0a1.7 1.7 0 1 0 -3.4 0M287.9 720.8a1.7 1.7 0 1 0 3.4 0a1.7 1.7 0 1 0 -3.4 0M255.7 715.8a1.7 1.7 0 1 0 3.4 0a1.7 1.7 0 1 0 -3.4 0M269.6 723.1a1.7 1.7 0 1 0 3.4 0a1.7 1.7 0 1 0 -3.4 0M279.1 718a1.7 1.7 0 1 0 3.4 0a1.7 1.7 0 1 0 -3.4 0M249.3 723.5a1.7 1.7 0 1 0 3.4 0a1.7 1.7 0 1 0 -3.4 0M279.7 714.5a1.7 1.7 0 1 0 3.4 0a1.7 1.7 0 1 0 -3.4 0M239.3 719.1a1.7 1.7 0 1 0 3.4 0a1.7 1.7 0 1 0 -3.4 0M252.2 714.5a1.7 1.7 0 1 0 3.4 0a1.7 1.7 0 1 0 -3.4 0M287.8 719.8a1.7 1.7 0 1 0 3.4 0a1.7 1.7 0 1 0 -3.4 0M279.5 718.9a1.7 1.7 0 1 0 3.4 0a1.7 1.7 0 1 0 -3.4 0M275.2 721.9a1.7 1.7 0 1 0 3.4 0a1.7 1.7 0 1 0 -3.4 0M270.6 722.4a1.7 1.7 0 1 0 3.4 0a1.7 1.7 0 1 0 -3.4 0M248 720a1.7 1.7 0 1 0 3.4 0a1.7 1.7 0 1 0 -3.4 0M290.7 723.4a1.7 1.7 0 1 0 3.4 0a1.7 1.7 0 1 0 -3.4 0M278.8 723a1.7 1.7 0 1 0 3.4 0a1.7 1.7 0 1 0 -3.4 0M290.8 721.5a1.7 1.7 0 1 0 3.4 0a1.7 1.7 0 1 0 -3.4 0M263.5 723.3a1.7 1.7 0 1 0 3.4 0a1.7 1.7 0 1 0 -3.4 0M294.4 722.1a1.7 1.7 0 1 0 3.4 0a1.7 1.7 0 1 0 -3.4 0M291.3 716.7a1.7 1.7 0 1 0 3.4 0a1.7 1.7 0 1 0 -3.4 0M246.8 718.7a1.7 1.7 0 1 0 3.4 0a1.7 1.7 0 1 0 -3.4 0M287.7 723a1.7 1.7 0 1 0 3.4 0a1.7 1.7 0 1 0 -3.4 0M308.9 712.3a1.7 1.7 0 1 0 3.4 0a1.7 1.7 0 1 0 -3.4 0M291.8 718.9a1.7 1.7 0 1 0 3.4 0a1.7 1.7 0 1 0 -3.4 0M270.2 722.3a1.7 1.7 0 1 0 3.4 0a1.7 1.7 0 1 0 -3.4 0M263.3 723.6a1.7 1.7 0 1 0 3.4 0a1.7 1.7 0 1 0 -3.4 0M272.9 722.7a1.7 1.7 0 1 0 3.4 0a1.7 1.7 0 1 0 -3.4 0M277.5 720.6a1.7 1.7 0 1 0 3.4 0a1.7 1.7 0 1 0 -3.4 0M265.3 721.3a1.7 1.7 0 1 0 3.4 0a1.7 1.7 0 1 0 -3.4 0M245.7 704.4a1.7 1.7 0 1 0 3.4 0a1.7 1.7 0 1 0 -3.4 0M282 722.1a1.7 1.7 0 1 0 3.4 0a1.7 1.7 0 1 0 -3.4 0M286 722.9a1.7 1.7 0 1 0 3.4 0a1.7 1.7 0 1 0 -3.4 0M299.4 718.7a1.7 1.7 0 1 0 3.4 0a1.7 1.7 0 1 0 -3.4 0M312 712.6a1.7 1.7 0 1 0 3.4 0a1.7 1.7 0 1 0 -3.4 0M255.4 718.7a1.7 1.7 0 1 0 3.4 0a1.7 1.7 0 1 0 -3.4 0M276.6 722.6a1.7 1.7 0 1 0 3.4 0a1.7 1.7 0 1 0 -3.4 0M303.8 718.5a1.7 1.7 0 1 0 3.4 0a1.7 1.7 0 1 0 -3.4 0M249.2 720.1a1.7 1.7 0 1 0 3.4 0a1.7 1.7 0 1 0 -3.4 0M307 714a1.7 1.7 0 1 0 3.4 0a1.7 1.7 0 1 0 -3.4 0M269.1 714.6a1.7 1.7 0 1 0 3.4 0a1.7 1.7 0 1 0 -3.4 0M280.7 699a1.7 1.7 0 1 0 3.4 0a1.7 1.7 0 1 0 -3.4 0M278.7 723.7a1.7 1.7 0 1 0 3.4 0a1.7 1.7 0 1 0 -3.4 0M288.8 714.3a1.7 1.7 0 1 0 3.4 0a1.7 1.7 0 1 0 -3.4 0M261.1 718.3a1.7 1.7 0 1 0 3.4 0a1.7 1.7 0 1 0 -3.4 0M280.2 713a1.7 1.7 0 1 0 3.4 0a1.7 1.7 0 1 0 -3.4 0M279.1 716.3a1.7 1.7 0 1 0 3.4 0a1.7 1.7 0 1 0 -3.4 0M312.7 712.5a1.7 1.7 0 1 0 3.4 0a1.7 1.7 0 1 0 -3.4 0M303.9 722.7a1.7 1.7 0 1 0 3.4 0a1.7 1.7 0 1 0 -3.4 0M306.4 715.8a1.7 1.7 0 1 0 3.4 0a1.7 1.7 0 1 0 -3.4 0M245.1 717.4a1.7 1.7 0 1 0 3.4 0a1.7 1.7 0 1 0 -3.4 0M269.6 714.2a1.7 1.7 0 1 0 3.4 0a1.7 1.7 0 1 0 -3.4 0M250 715.9a1.7 1.7 0 1 0 3.4 0a1.7 1.7 0 1 0 -3.4 0M283.7 715.6a1.7 1.7 0 1 0 3.4 0a1.7 1.7 0 1 0 -3.4 0M270.4 721.4a1.7 1.7 0 1 0 3.4 0a1.7 1.7 0 1 0 -3.4 0M257.6 716.8a1.7 1.7 0 1 0 3.4 0a1.7 1.7 0 1 0 -3.4 0M276.9 711a1.7 1.7 0 1 0 3.4 0a1.7 1.7 0 1 0 -3.4 0M284.6 720.8a1.7 1.7 0 1 0 3.4 0a1.7 1.7 0 1 0 -3.4 0M278.7 723.4a1.7 1.7 0 1 0 3.4 0a1.7 1.7 0 1 0 -3.4 0M249 722.2a1.7 1.7 0 1 0 3.4 0a1.7 1.7 0 1 0 -3.4 0M273.7 714.3a1.7 1.7 0 1 0 3.4 0a1.7 1.7 0 1 0 -3.4 0M280.1 722a1.7 1.7 0 1 0 3.4 0a1.7 1.7 0 1 0 -3.4 0M275.6 721.3a1.7 1.7 0 1 0 3.4 0a1.7 1.7 0 1 0 -3.4 0M312.2 720.3a1.7 1.7 0 1 0 3.4 0a1.7 1.7 0 1 0 -3.4 0M236.1 712.6a1.7 1.7 0 1 0 3.4 0a1.7 1.7 0 1 0 -3.4 0M233.5 723a1.7 1.7 0 1 0 3.4 0a1.7 1.7 0 1 0 -3.4 0M308 719.7a1.7 1.7 0 1 0 3.4 0a1.7 1.7 0 1 0 -3.4 0M269 723.5a1.7 1.7 0 1 0 3.4 0a1.7 1.7 0 1 0 -3.4 0M284.9 722a1.7 1.7 0 1 0 3.4 0a1.7 1.7 0 1 0 -3.4 0M257.1 717.5a1.7 1.7 0 1 0 3.4 0a1.7 1.7 0 1 0 -3.4 0M288.8 719a1.7 1.7 0 1 0 3.4 0a1.7 1.7 0 1 0 -3.4 0M278.6 719.2a1.7 1.7 0 1 0 3.4 0a1.7 1.7 0 1 0 -3.4 0M257.1 713.9a1.7 1.7 0 1 0 3.4 0a1.7 1.7 0 1 0 -3.4 0M281.4 707.2a1.7 1.7 0 1 0 3.4 0a1.7 1.7 0 1 0 -3.4 0M274.7 722.5a1.7 1.7 0 1 0 3.4 0a1.7 1.7 0 1 0 -3.4 0M287.6 722.6a1.7 1.7 0 1 0 3.4 0a1.7 1.7 0 1 0 -3.4 0M297.9 716.4a1.7 1.7 0 1 0 3.4 0a1.7 1.7 0 1 0 -3.4 0M272.1 720.6a1.7 1.7 0 1 0 3.4 0a1.7 1.7 0 1 0 -3.4 0M271.3 717.6a1.7 1.7 0 1 0 3.4 0a1.7 1.7 0 1 0 -3.4 0M289.4 721.3a1.7 1.7 0 1 0 3.4 0a1.7 1.7 0 1 0 -3.4 0M277.9 715.7a1.7 1.7 0 1 0 3.4 0a1.7 1.7 0 1 0 -3.4 0M247.9 719.7a1.7 1.7 0 1 0 3.4 0a1.7 1.7 0 1 0 -3.4 0M291 719.8a1.7 1.7 0 1 0 3.4 0a1.7 1.7 0 1 0 -3.4 0M309.8 721.1a1.7 1.7 0 1 0 3.4 0a1.7 1.7 0 1 0 -3.4 0M269.4 722.4a1.7 1.7 0 1 0 3.4 0a1.7 1.7 0 1 0 -3.4 0M287.2 719.1a1.7 1.7 0 1 0 3.4 0a1.7 1.7 0 1 0 -3.4 0M283 720.9a1.7 1.7 0 1 0 3.4 0a1.7 1.7 0 1 0 -3.4 0M255.2 719.7a1.7 1.7 0 1 0 3.4 0a1.7 1.7 0 1 0 -3.4 0M291.7 718.8a1.7 1.7 0 1 0 3.4 0a1.7 1.7 0 1 0 -3.4 0M274.3 708.7a1.7 1.7 0 1 0 3.4 0a1.7 1.7 0 1 0 -3.4 0M293.6 714.4a1.7 1.7 0 1 0 3.4 0a1.7 1.7 0 1 0 -3.4 0M301.6 722.1a1.7 1.7 0 1 0 3.4 0a1.7 1.7 0 1 0 -3.4 0M290 720.6a1.7 1.7 0 1 0 3.4 0a1.7 1.7 0 1 0 -3.4 0M278.8 705.4a1.7 1.7 0 1 0 3.4 0a1.7 1.7 0 1 0 -3.4 0M303.1 710a1.7 1.7 0 1 0 3.4 0a1.7 1.7 0 1 0 -3.4 0M250.7 723.7a1.7 1.7 0 1 0 3.4 0a1.7 1.7 0 1 0 -3.4 0M262.9 708.8a1.7 1.7 0 1 0 3.4 0a1.7 1.7 0 1 0 -3.4 0M297.8 718.8a1.7 1.7 0 1 0 3.4 0a1.7 1.7 0 1 0 -3.4 0M251.6 714.6a1.7 1.7 0 1 0 3.4 0a1.7 1.7 0 1 0 -3.4 0M277 717.3a1.7 1.7 0 1 0 3.4 0a1.7 1.7 0 1 0 -3.4 0M282.4 723a1.7 1.7 0 1 0 3.4 0a1.7 1.7 0 1 0 -3.4 0M278.7 721.7a1.7 1.7 0 1 0 3.4 0a1.7 1.7 0 1 0 -3.4 0M298.3 705.8a1.7 1.7 0 1 0 3.4 0a1.7 1.7 0 1 0 -3.4 0M311.7 719.8a1.7 1.7 0 1 0 3.4 0a1.7 1.7 0 1 0 -3.4 0M246.6 715.4a1.7 1.7 0 1 0 3.4 0a1.7 1.7 0 1 0 -3.4 0M251.4 720.3a1.7 1.7 0 1 0 3.4 0a1.7 1.7 0 1 0 -3.4 0M270 720.7a1.7 1.7 0 1 0 3.4 0a1.7 1.7 0 1 0 -3.4 0M272.2 709.5a1.7 1.7 0 1 0 3.4 0a1.7 1.7 0 1 0 -3.4 0M296.2 723.1a1.7 1.7 0 1 0 3.4 0a1.7 1.7 0 1 0 -3.4 0M291.9 719.1a1.7 1.7 0 1 0 3.4 0a1.7 1.7 0 1 0 -3.4 0M259.3 720.3a1.7 1.7 0 1 0 3.4 0a1.7 1.7 0 1 0 -3.4 0M255.8 715.6a1.7 1.7 0 1 0 3.4 0a1.7 1.7 0 1 0 -3.4 0M292.6 715.6a1.7 1.7 0 1 0 3.4 0a1.7 1.7 0 1 0 -3.4 0M248.2 718.9a1.7 1.7 0 1 0 3.4 0a1.7 1.7 0 1 0 -3.4 0M267.9 707.6a1.7 1.7 0 1 0 3.4 0a1.7 1.7 0 1 0 -3.4 0M280.4 719.1a1.7 1.7 0 1 0 3.4 0a1.7 1.7 0 1 0 -3.4 0M285.6 721.1a1.7 1.7 0 1 0 3.4 0a1.7 1.7 0 1 0 -3.4 0M276.6 718.7a1.7 1.7 0 1 0 3.4 0a1.7 1.7 0 1 0 -3.4 0M262.6 720.9a1.7 1.7 0 1 0 3.4 0a1.7 1.7 0 1 0 -3.4 0M268 722.6a1.7 1.7 0 1 0 3.4 0a1.7 1.7 0 1 0 -3.4 0M266 713.3a1.7 1.7 0 1 0 3.4 0a1.7 1.7 0 1 0 -3.4 0M251.9 716.5a1.7 1.7 0 1 0 3.4 0a1.7 1.7 0 1 0 -3.4 0M268.5 720.5a1.7 1.7 0 1 0 3.4 0a1.7 1.7 0 1 0 -3.4 0M292.8 723.2a1.7 1.7 0 1 0 3.4 0a1.7 1.7 0 1 0 -3.4 0M266.4 718.6a1.7 1.7 0 1 0 3.4 0a1.7 1.7 0 1 0 -3.4 0M275.8 715.1a1.7 1.7 0 1 0 3.4 0a1.7 1.7 0 1 0 -3.4 0M303.6 723.1a1.7 1.7 0 1 0 3.4 0a1.7 1.7 0 1 0 -3.4 0M253.5 718.6a1.7 1.7 0 1 0 3.4 0a1.7 1.7 0 1 0 -3.4 0M277 717.7a1.7 1.7 0 1 0 3.4 0a1.7 1.7 0 1 0 -3.4 0M251.4 721.8a1.7 1.7 0 1 0 3.4 0a1.7 1.7 0 1 0 -3.4 0M302.3 720.2a1.7 1.7 0 1 0 3.4 0a1.7 1.7 0 1 0 -3.4 0M233.1 718.6a1.7 1.7 0 1 0 3.4 0a1.7 1.7 0 1 0 -3.4 0M289.7 719.1a1.7 1.7 0 1 0 3.4 0a1.7 1.7 0 1 0 -3.4 0M298.5 714.5a1.7 1.7 0 1 0 3.4 0a1.7 1.7 0 1 0 -3.4 0M267 705.7a1.7 1.7 0 1 0 3.4 0a1.7 1.7 0 1 0 -3.4 0M279.6 723.4a1.7 1.7 0 1 0 3.4 0a1.7 1.7 0 1 0 -3.4 0M295.7 721.1a1.7 1.7 0 1 0 3.4 0a1.7 1.7 0 1 0 -3.4 0M267.3 723.1a1.7 1.7 0 1 0 3.4 0a1.7 1.7 0 1 0 -3.4 0M242.5 711.8a1.7 1.7 0 1 0 3.4 0a1.7 1.7 0 1 0 -3.4 0M273.1 716.3a1.7 1.7 0 1 0 3.4 0a1.7 1.7 0 1 0 -3.4 0M267.3 718.8a1.7 1.7 0 1 0 3.4 0a1.7 1.7 0 1 0 -3.4 0M275.1 718.2a1.7 1.7 0 1 0 3.4 0a1.7 1.7 0 1 0 -3.4 0M304.6 721.9a1.7 1.7 0 1 0 3.4 0a1.7 1.7 0 1 0 -3.4 0M275.7 713.5a1.7 1.7 0 1 0 3.4 0a1.7 1.7 0 1 0 -3.4 0M285.9 720.9a1.7 1.7 0 1 0 3.4 0a1.7 1.7 0 1 0 -3.4 0M269.3 715.9a1.7 1.7 0 1 0 3.4 0a1.7 1.7 0 1 0 -3.4 0M283.9 722.8a1.7 1.7 0 1 0 3.4 0a1.7 1.7 0 1 0 -3.4 0M270.9 720.8a1.7 1.7 0 1 0 3.4 0a1.7 1.7 0 1 0 -3.4 0M251.7 717.2a1.7 1.7 0 1 0 3.4 0a1.7 1.7 0 1 0 -3.4 0M266.8 720.5a1.7 1.7 0 1 0 3.4 0a1.7 1.7 0 1 0 -3.4 0M263.4 719a1.7 1.7 0 1 0 3.4 0a1.7 1.7 0 1 0 -3.4 0M267.5 713.6a1.7 1.7 0 1 0 3.4 0a1.7 1.7 0 1 0 -3.4 0M261 699.6a1.7 1.7 0 1 0 3.4 0a1.7 1.7 0 1 0 -3.4 0M311.5 716.2a1.7 1.7 0 1 0 3.4 0a1.7 1.7 0 1 0 -3.4 0M280.5 714.7a1.7 1.7 0 1 0 3.4 0a1.7 1.7 0 1 0 -3.4 0M279.8 719.5a1.7 1.7 0 1 0 3.4 0a1.7 1.7 0 1 0 -3.4 0M298.6 717.4a1.7 1.7 0 1 0 3.4 0a1.7 1.7 0 1 0 -3.4 0M272.9 715.5a1.7 1.7 0 1 0 3.4 0a1.7 1.7 0 1 0 -3.4 0M255.8 723.5a1.7 1.7 0 1 0 3.4 0a1.7 1.7 0 1 0 -3.4 0M296.6 715.9a1.7 1.7 0 1 0 3.4 0a1.7 1.7 0 1 0 -3.4 0M305.8 722.2a1.7 1.7 0 1 0 3.4 0a1.7 1.7 0 1 0 -3.4 0M299.3 712.4a1.7 1.7 0 1 0 3.4 0a1.7 1.7 0 1 0 -3.4 0M279 720.9a1.7 1.7 0 1 0 3.4 0a1.7 1.7 0 1 0 -3.4 0M273.1 720.8a1.7 1.7 0 1 0 3.4 0a1.7 1.7 0 1 0 -3.4 0M251.1 719.9a1.7 1.7 0 1 0 3.4 0a1.7 1.7 0 1 0 -3.4 0M246.4 710.7a1.7 1.7 0 1 0 3.4 0a1.7 1.7 0 1 0 -3.4 0M266.4 721.4a1.7 1.7 0 1 0 3.4 0a1.7 1.7 0 1 0 -3.4 0M271.3 722a1.7 1.7 0 1 0 3.4 0a1.7 1.7 0 1 0 -3.4 0M280 722.6a1.7 1.7 0 1 0 3.4 0a1.7 1.7 0 1 0 -3.4 0M292.3 721.4a1.7 1.7 0 1 0 3.4 0a1.7 1.7 0 1 0 -3.4 0M281.8 717.5a1.7 1.7 0 1 0 3.4 0a1.7 1.7 0 1 0 -3.4 0M277.4 717a1.7 1.7 0 1 0 3.4 0a1.7 1.7 0 1 0 -3.4 0M271.3 723a1.7 1.7 0 1 0 3.4 0a1.7 1.7 0 1 0 -3.4 0M264.3 721.9a1.7 1.7 0 1 0 3.4 0a1.7 1.7 0 1 0 -3.4 0M284.3 721.5a1.7 1.7 0 1 0 3.4 0a1.7 1.7 0 1 0 -3.4 0M300.7 719.3a1.7 1.7 0 1 0 3.4 0a1.7 1.7 0 1 0 -3.4 0M271.3 719.2a1.7 1.7 0 1 0 3.4 0a1.7 1.7 0 1 0 -3.4 0M271.2 718.9a1.7 1.7 0 1 0 3.4 0a1.7 1.7 0 1 0 -3.4 0M255 715.3a1.7 1.7 0 1 0 3.4 0a1.7 1.7 0 1 0 -3.4 0M268.8 718.8a1.7 1.7 0 1 0 3.4 0a1.7 1.7 0 1 0 -3.4 0M252.9 709.4a1.7 1.7 0 1 0 3.4 0a1.7 1.7 0 1 0 -3.4 0M280.9 709a1.7 1.7 0 1 0 3.4 0a1.7 1.7 0 1 0 -3.4 0M266.5 721.9a1.7 1.7 0 1 0 3.4 0a1.7 1.7 0 1 0 -3.4 0M252.2 720.9a1.7 1.7 0 1 0 3.4 0a1.7 1.7 0 1 0 -3.4 0M283.3 712.1a1.7 1.7 0 1 0 3.4 0a1.7 1.7 0 1 0 -3.4 0M279 720.6a1.7 1.7 0 1 0 3.4 0a1.7 1.7 0 1 0 -3.4 0M277.5 721.2a1.7 1.7 0 1 0 3.4 0a1.7 1.7 0 1 0 -3.4 0M288.2 704.4a1.7 1.7 0 1 0 3.4 0a1.7 1.7 0 1 0 -3.4 0M284.7 717.9a1.7 1.7 0 1 0 3.4 0a1.7 1.7 0 1 0 -3.4 0M275.5 716.9a1.7 1.7 0 1 0 3.4 0a1.7 1.7 0 1 0 -3.4 0M271.2 723a1.7 1.7 0 1 0 3.4 0a1.7 1.7 0 1 0 -3.4 0M311.1 723.3a1.7 1.7 0 1 0 3.4 0a1.7 1.7 0 1 0 -3.4 0M300.8 713.5a1.7 1.7 0 1 0 3.4 0a1.7 1.7 0 1 0 -3.4 0M289.5 722.6a1.7 1.7 0 1 0 3.4 0a1.7 1.7 0 1 0 -3.4 0M260.9 721a1.7 1.7 0 1 0 3.4 0a1.7 1.7 0 1 0 -3.4 0M253.1 721.3a1.7 1.7 0 1 0 3.4 0a1.7 1.7 0 1 0 -3.4 0M291.1 719.2a1.7 1.7 0 1 0 3.4 0a1.7 1.7 0 1 0 -3.4 0M313.8 723.1a1.7 1.7 0 1 0 3.4 0a1.7 1.7 0 1 0 -3.4 0M269.4 709.1a1.7 1.7 0 1 0 3.4 0a1.7 1.7 0 1 0 -3.4 0M295.1 723.7a1.7 1.7 0 1 0 3.4 0a1.7 1.7 0 1 0 -3.4 0M304.5 714.8a1.7 1.7 0 1 0 3.4 0a1.7 1.7 0 1 0 -3.4 0M268.6 717.2a1.7 1.7 0 1 0 3.4 0a1.7 1.7 0 1 0 -3.4 0M271.4 720.3a1.7 1.7 0 1 0 3.4 0a1.7 1.7 0 1 0 -3.4 0M254 721.1a1.7 1.7 0 1 0 3.4 0a1.7 1.7 0 1 0 -3.4 0M282.1 715.7a1.7 1.7 0 1 0 3.4 0a1.7 1.7 0 1 0 -3.4 0M298.7 722.9a1.7 1.7 0 1 0 3.4 0a1.7 1.7 0 1 0 -3.4 0M268.7 720.6a1.7 1.7 0 1 0 3.4 0a1.7 1.7 0 1 0 -3.4 0M257.2 721a1.7 1.7 0 1 0 3.4 0a1.7 1.7 0 1 0 -3.4 0M276.5 703.9a1.7 1.7 0 1 0 3.4 0a1.7 1.7 0 1 0 -3.4 0M285.3 717.5a1.7 1.7 0 1 0 3.4 0a1.7 1.7 0 1 0 -3.4 0M309.4 716.6a1.7 1.7 0 1 0 3.4 0a1.7 1.7 0 1 0 -3.4 0M283.5 722.6a1.7 1.7 0 1 0 3.4 0a1.7 1.7 0 1 0 -3.4 0M304.7 721.3a1.7 1.7 0 1 0 3.4 0a1.7 1.7 0 1 0 -3.4 0M284.3 721.4a1.7 1.7 0 1 0 3.4 0a1.7 1.7 0 1 0 -3.4 0M293.7 721.3a1.7 1.7 0 1 0 3.4 0a1.7 1.7 0 1 0 -3.4 0M284.7 720.4a1.7 1.7 0 1 0 3.4 0a1.7 1.7 0 1 0 -3.4 0M287.6 711.8a1.7 1.7 0 1 0 3.4 0a1.7 1.7 0 1 0 -3.4 0M266 722.7a1.7 1.7 0 1 0 3.4 0a1.7 1.7 0 1 0 -3.4 0M259 722.8a1.7 1.7 0 1 0 3.4 0a1.7 1.7 0 1 0 -3.4 0M254 722.2a1.7 1.7 0 1 0 3.4 0a1.7 1.7 0 1 0 -3.4 0M292.6 714.7a1.7 1.7 0 1 0 3.4 0a1.7 1.7 0 1 0 -3.4 0M250.6 713.4a1.7 1.7 0 1 0 3.4 0a1.7 1.7 0 1 0 -3.4 0M291.5 721.7a1.7 1.7 0 1 0 3.4 0a1.7 1.7 0 1 0 -3.4 0M309.3 712.3a1.7 1.7 0 1 0 3.4 0a1.7 1.7 0 1 0 -3.4 0M257.4 722.9a1.7 1.7 0 1 0 3.4 0a1.7 1.7 0 1 0 -3.4 0M268.9 721.2a1.7 1.7 0 1 0 3.4 0a1.7 1.7 0 1 0 -3.4 0M276.2 697.2a1.7 1.7 0 1 0 3.4 0a1.7 1.7 0 1 0 -3.4 0M268.6 694.8a1.7 1.7 0 1 0 3.4 0a1.7 1.7 0 1 0 -3.4 0M295.6 704.8a1.7 1.7 0 1 0 3.4 0a1.7 1.7 0 1 0 -3.4 0M256.7 715.3a1.7 1.7 0 1 0 3.4 0a1.7 1.7 0 1 0 -3.4 0M310.8 705.2a1.7 1.7 0 1 0 3.4 0a1.7 1.7 0 1 0 -3.4 0M301.7 721.5a1.7 1.7 0 1 0 3.4 0a1.7 1.7 0 1 0 -3.4 0M268.7 713.8a1.7 1.7 0 1 0 3.4 0a1.7 1.7 0 1 0 -3.4 0M272.1 713.8a1.7 1.7 0 1 0 3.4 0a1.7 1.7 0 1 0 -3.4 0M260.1 712.7a1.7 1.7 0 1 0 3.4 0a1.7 1.7 0 1 0 -3.4 0M264.6 709.9a1.7 1.7 0 1 0 3.4 0a1.7 1.7 0 1 0 -3.4 0M283 709.3a1.7 1.7 0 1 0 3.4 0a1.7 1.7 0 1 0 -3.4 0M300 707.2a1.7 1.7 0 1 0 3.4 0a1.7 1.7 0 1 0 -3.4 0M256.1 702.9a1.7 1.7 0 1 0 3.4 0a1.7 1.7 0 1 0 -3.4 0M294.6 704.8a1.7 1.7 0 1 0 3.4 0a1.7 1.7 0 1 0 -3.4 0M254 703.8a1.7 1.7 0 1 0 3.4 0a1.7 1.7 0 1 0 -3.4 0M239.8 708a1.7 1.7 0 1 0 3.4 0a1.7 1.7 0 1 0 -3.4 0M265.4 717.9a1.7 1.7 0 1 0 3.4 0a1.7 1.7 0 1 0 -3.4 0M269.5 713.6a1.7 1.7 0 1 0 3.4 0a1.7 1.7 0 1 0 -3.4 0M285.4 721.6a1.7 1.7 0 1 0 3.4 0a1.7 1.7 0 1 0 -3.4 0M271.8 722.8a1.7 1.7 0 1 0 3.4 0a1.7 1.7 0 1 0 -3.4 0M266.2 706.7a1.7 1.7 0 1 0 3.4 0a1.7 1.7 0 1 0 -3.4 0M283 710.6a1.7 1.7 0 1 0 3.4 0a1.7 1.7 0 1 0 -3.4 0M252 708.8a1.7 1.7 0 1 0 3.4 0a1.7 1.7 0 1 0 -3.4 0M294.6 720.9a1.7 1.7 0 1 0 3.4 0a1.7 1.7 0 1 0 -3.4 0M298.1 688.8a1.7 1.7 0 1 0 3.4 0a1.7 1.7 0 1 0 -3.4 0M296.6 710.9a1.7 1.7 0 1 0 3.4 0a1.7 1.7 0 1 0 -3.4 0M277.8 708.2a1.7 1.7 0 1 0 3.4 0a1.7 1.7 0 1 0 -3.4 0M265.5 713.3a1.7 1.7 0 1 0 3.4 0a1.7 1.7 0 1 0 -3.4 0M247.1 717.8a1.7 1.7 0 1 0 3.4 0a1.7 1.7 0 1 0 -3.4 0M280.1 720.6a1.7 1.7 0 1 0 3.4 0a1.7 1.7 0 1 0 -3.4 0M259.5 700.5a1.7 1.7 0 1 0 3.4 0a1.7 1.7 0 1 0 -3.4 0M245.7 722.3a1.7 1.7 0 1 0 3.4 0a1.7 1.7 0 1 0 -3.4 0M269.7 716.7a1.7 1.7 0 1 0 3.4 0a1.7 1.7 0 1 0 -3.4 0M284 719.9a1.7 1.7 0 1 0 3.4 0a1.7 1.7 0 1 0 -3.4 0M269.5 713.4a1.7 1.7 0 1 0 3.4 0a1.7 1.7 0 1 0 -3.4 0M271.3 715.3a1.7 1.7 0 1 0 3.4 0a1.7 1.7 0 1 0 -3.4 0M295 719.8a1.7 1.7 0 1 0 3.4 0a1.7 1.7 0 1 0 -3.4 0M273.8 713.6a1.7 1.7 0 1 0 3.4 0a1.7 1.7 0 1 0 -3.4 0M297.4 708.6a1.7 1.7 0 1 0 3.4 0a1.7 1.7 0 1 0 -3.4 0M282 718.8a1.7 1.7 0 1 0 3.4 0a1.7 1.7 0 1 0 -3.4 0M258.2 722.2a1.7 1.7 0 1 0 3.4 0a1.7 1.7 0 1 0 -3.4 0M278 704.4a1.7 1.7 0 1 0 3.4 0a1.7 1.7 0 1 0 -3.4 0M256.1 720.7a1.7 1.7 0 1 0 3.4 0a1.7 1.7 0 1 0 -3.4 0M306.2 717.9a1.7 1.7 0 1 0 3.4 0a1.7 1.7 0 1 0 -3.4 0M247.4 703.8a1.7 1.7 0 1 0 3.4 0a1.7 1.7 0 1 0 -3.4 0M288.4 712.5a1.7 1.7 0 1 0 3.4 0a1.7 1.7 0 1 0 -3.4 0M263.2 720.7a1.7 1.7 0 1 0 3.4 0a1.7 1.7 0 1 0 -3.4 0M310.9 706.1a1.7 1.7 0 1 0 3.4 0a1.7 1.7 0 1 0 -3.4 0M240.9 698a1.7 1.7 0 1 0 3.4 0a1.7 1.7 0 1 0 -3.4 0M265.2 708.3a1.7 1.7 0 1 0 3.4 0a1.7 1.7 0 1 0 -3.4 0M261.1 712.2a1.7 1.7 0 1 0 3.4 0a1.7 1.7 0 1 0 -3.4 0M296.1 700.4a1.7 1.7 0 1 0 3.4 0a1.7 1.7 0 1 0 -3.4 0M282.8 710.1a1.7 1.7 0 1 0 3.4 0a1.7 1.7 0 1 0 -3.4 0M277.2 702.4a1.7 1.7 0 1 0 3.4 0a1.7 1.7 0 1 0 -3.4 0M293.2 710a1.7 1.7 0 1 0 3.4 0a1.7 1.7 0 1 0 -3.4 0M275.2 719.2a1.7 1.7 0 1 0 3.4 0a1.7 1.7 0 1 0 -3.4 0M251.9 719a1.7 1.7 0 1 0 3.4 0a1.7 1.7 0 1 0 -3.4 0M290.7 717.3a1.7 1.7 0 1 0 3.4 0a1.7 1.7 0 1 0 -3.4 0M273.4 683.2a1.7 1.7 0 1 0 3.4 0a1.7 1.7 0 1 0 -3.4 0M283.8 708.5a1.7 1.7 0 1 0 3.4 0a1.7 1.7 0 1 0 -3.4 0M257.7 704.4a1.7 1.7 0 1 0 3.4 0a1.7 1.7 0 1 0 -3.4 0M265.2 719.9a1.7 1.7 0 1 0 3.4 0a1.7 1.7 0 1 0 -3.4 0M265.6 702.7a1.7 1.7 0 1 0 3.4 0a1.7 1.7 0 1 0 -3.4 0M282.9 703.4a1.7 1.7 0 1 0 3.4 0a1.7 1.7 0 1 0 -3.4 0M287.5 710.1a1.7 1.7 0 1 0 3.4 0a1.7 1.7 0 1 0 -3.4 0M295.2 718.2a1.7 1.7 0 1 0 3.4 0a1.7 1.7 0 1 0 -3.4 0M293.5 705.4a1.7 1.7 0 1 0 3.4 0a1.7 1.7 0 1 0 -3.4 0M282.9 711.8a1.7 1.7 0 1 0 3.4 0a1.7 1.7 0 1 0 -3.4 0M277.8 720.9a1.7 1.7 0 1 0 3.4 0a1.7 1.7 0 1 0 -3.4 0M262.7 672a1.7 1.7 0 1 0 3.4 0a1.7 1.7 0 1 0 -3.4 0M281.8 702.9a1.7 1.7 0 1 0 3.4 0a1.7 1.7 0 1 0 -3.4 0M254.7 717.5a1.7 1.7 0 1 0 3.4 0a1.7 1.7 0 1 0 -3.4 0M259.6 712.6a1.7 1.7 0 1 0 3.4 0a1.7 1.7 0 1 0 -3.4 0M273.4 719.4a1.7 1.7 0 1 0 3.4 0a1.7 1.7 0 1 0 -3.4 0M259.2 720.5a1.7 1.7 0 1 0 3.4 0a1.7 1.7 0 1 0 -3.4 0M245.9 713.9a1.7 1.7 0 1 0 3.4 0a1.7 1.7 0 1 0 -3.4 0M287.1 708.4a1.7 1.7 0 1 0 3.4 0a1.7 1.7 0 1 0 -3.4 0M270.7 716.9a1.7 1.7 0 1 0 3.4 0a1.7 1.7 0 1 0 -3.4 0M251 691.9a1.7 1.7 0 1 0 3.4 0a1.7 1.7 0 1 0 -3.4 0M257.7 710.7a1.7 1.7 0 1 0 3.4 0a1.7 1.7 0 1 0 -3.4 0M261.3 610.2a1.7 1.7 0 1 0 3.4 0a1.7 1.7 0 1 0 -3.4 0M266.2 607.5a1.7 1.7 0 1 0 3.4 0a1.7 1.7 0 1 0 -3.4 0M207.4 653.1a1.7 1.7 0 1 0 3.4 0a1.7 1.7 0 1 0 -3.4 0M218.4 660a1.7 1.7 0 1 0 3.4 0a1.7 1.7 0 1 0 -3.4 0M269.1 649.6a1.7 1.7 0 1 0 3.4 0a1.7 1.7 0 1 0 -3.4 0M254 665.2a1.7 1.7 0 1 0 3.4 0a1.7 1.7 0 1 0 -3.4 0M269.1 664.8a1.7 1.7 0 1 0 3.4 0a1.7 1.7 0 1 0 -3.4 0M279.1 661.9a1.7 1.7 0 1 0 3.4 0a1.7 1.7 0 1 0 -3.4 0M240.3 679.2a1.7 1.7 0 1 0 3.4 0a1.7 1.7 0 1 0 -3.4 0M272.2 676.5a1.7 1.7 0 1 0 3.4 0a1.7 1.7 0 1 0 -3.4 0M272.2 680.1a1.7 1.7 0 1 0 3.4 0a1.7 1.7 0 1 0 -3.4 0M258.5 681a1.7 1.7 0 1 0 3.4 0a1.7 1.7 0 1 0 -3.4 0M256.7 683.8a1.7 1.7 0 1 0 3.4 0a1.7 1.7 0 1 0 -3.4 0M242.5 687.4a1.7 1.7 0 1 0 3.4 0a1.7 1.7 0 1 0 -3.4 0M247.6 688.9a1.7 1.7 0 1 0 3.4 0a1.7 1.7 0 1 0 -3.4 0M268.6 687a1.7 1.7 0 1 0 3.4 0a1.7 1.7 0 1 0 -3.4 0M238.1 692.9a1.7 1.7 0 1 0 3.4 0a1.7 1.7 0 1 0 -3.4 0M237 698.7a1.7 1.7 0 1 0 3.4 0a1.7 1.7 0 1 0 -3.4 0M242.5 698a1.7 1.7 0 1 0 3.4 0a1.7 1.7 0 1 0 -3.4 0M251.6 699.8a1.7 1.7 0 1 0 3.4 0a1.7 1.7 0 1 0 -3.4 0M255.8 695.6a1.7 1.7 0 1 0 3.4 0a1.7 1.7 0 1 0 -3.4 0M229 704.2a1.7 1.7 0 1 0 3.4 0a1.7 1.7 0 1 0 -3.4 0M293.2 696.9a1.7 1.7 0 1 0 3.4 0a1.7 1.7 0 1 0 -3.4 0M296.8 701.6a1.7 1.7 0 1 0 3.4 0a1.7 1.7 0 1 0 -3.4 0M301.4 704.8a1.7 1.7 0 1 0 3.4 0a1.7 1.7 0 1 0 -3.4 0M307.4 700.7a1.7 1.7 0 1 0 3.4 0a1.7 1.7 0 1 0 -3.4 0M218.4 719.4a1.7 1.7 0 1 0 3.4 0a1.7 1.7 0 1 0 -3.4 0M222 721.1a1.7 1.7 0 1 0 3.4 0a1.7 1.7 0 1 0 -3.4 0M228.4 719.9a1.7 1.7 0 1 0 3.4 0a1.7 1.7 0 1 0 -3.4 0M280.4 692.5a1.7 1.7 0 1 0 3.4 0a1.7 1.7 0 1 0 -3.4 0M274 692.5a1.7 1.7 0 1 0 3.4 0a1.7 1.7 0 1 0 -3.4 0M265.8 692.9a1.7 1.7 0 1 0 3.4 0a1.7 1.7 0 1 0 -3.4 0M261.3 698a1.7 1.7 0 1 0 3.4 0a1.7 1.7 0 1 0 -3.4 0M267.6 696.5a1.7 1.7 0 1 0 3.4 0a1.7 1.7 0 1 0 -3.4 0M254.6 665.5a1.7 1.7 0 1 0 3.4 0a1.7 1.7 0 1 0 -3.4 0" fill="none" stroke="#000" stroke-width="0.6"/>
<line x1="209.1" y1="706.2" x2="313.6" y2="720.5" stroke="#c8168c" stroke-width="1.9"/>
<text x="273.9" y="618.1" font-size="8.7"><tspan font-style="italic">r</tspan> = −0.2</text>
<text x="273.9" y="628.3" font-size="8.7"><tspan font-style="italic">P</tspan> = 7.7e−7</text>
<text x="203.4" y="607.2" font-size="6.1" text-anchor="end" fill="#606060">120000</text>
<text x="203.4" y="636.4" font-size="6.1" text-anchor="end" fill="#606060">90000</text>
<text x="203.4" y="665.4" font-size="6.1" text-anchor="end" fill="#606060">60000</text>
<text x="203.4" y="694.9" font-size="6.1" text-anchor="end" fill="#606060">30000</text>
<text x="203.4" y="723.8" font-size="6.1" text-anchor="end" fill="#606060">0</text>
<text x="215" y="733.9" font-size="6.1" text-anchor="middle" fill="#606060">1e+05</text>
<text x="252.6" y="733.9" font-size="6.1" text-anchor="middle" fill="#606060">2e+05</text>
<text x="290" y="733.9" font-size="6.1" text-anchor="middle" fill="#606060">3e+05</text>
<text x="182.7" y="667.2" font-size="9.2" text-anchor="middle" textLength="140.9" lengthAdjust="spacingAndGlyphs" transform="rotate(-90 182.7 667.2)">Cumulative abundance of Generalists</text>
<text x="261.2" y="744.2" font-size="9.2" text-anchor="middle" textLength="139.6" lengthAdjust="spacingAndGlyphs">Cumulative abundance of Dominants</text>
<rect x="365.1" y="601.9" width="114.8" height="125" fill="#e4e4e4"/>
<path d="M381.6 718.3a1.7 1.7 0 1 0 3.4 0a1.7 1.7 0 1 0 -3.4 0M446.7 722.6a1.7 1.7 0 1 0 3.4 0a1.7 1.7 0 1 0 -3.4 0M405.6 709.4a1.7 1.7 0 1 0 3.4 0a1.7 1.7 0 1 0 -3.4 0M420.8 723a1.7 1.7 0 1 0 3.4 0a1.7 1.7 0 1 0 -3.4 0M392.3 723.2a1.7 1.7 0 1 0 3.4 0a1.7 1.7 0 1 0 -3.4 0M412 713.3a1.7 1.7 0 1 0 3.4 0a1.7 1.7 0 1 0 -3.4 0M378.1 723.7a1.7 1.7 0 1 0 3.4 0a1.7 1.7 0 1 0 -3.4 0M465.4 714.5a1.7 1.7 0 1 0 3.4 0a1.7 1.7 0 1 0 -3.4 0M421.2 717a1.7 1.7 0 1 0 3.4 0a1.7 1.7 0 1 0 -3.4 0M414.8 723.2a1.7 1.7 0 1 0 3.4 0a1.7 1.7 0 1 0 -3.4 0M414.8 711.5a1.7 1.7 0 1 0 3.4 0a1.7 1.7 0 1 0 -3.4 0M405.8 721.2a1.7 1.7 0 1 0 3.4 0a1.7 1.7 0 1 0 -3.4 0M381.7 710a1.7 1.7 0 1 0 3.4 0a1.7 1.7 0 1 0 -3.4 0M435.6 722.9a1.7 1.7 0 1 0 3.4 0a1.7 1.7 0 1 0 -3.4 0M410.6 710.1a1.7 1.7 0 1 0 3.4 0a1.7 1.7 0 1 0 -3.4 0M446.1 719.9a1.7 1.7 0 1 0 3.4 0a1.7 1.7 0 1 0 -3.4 0M401.4 721.1a1.7 1.7 0 1 0 3.4 0a1.7 1.7 0 1 0 -3.4 0M421 723.6a1.7 1.7 0 1 0 3.4 0a1.7 1.7 0 1 0 -3.4 0M412.5 722a1.7 1.7 0 1 0 3.4 0a1.7 1.7 0 1 0 -3.4 0M405.2 722.1a1.7 1.7 0 1 0 3.4 0a1.7 1.7 0 1 0 -3.4 0M457.9 722.1a1.7 1.7 0 1 0 3.4 0a1.7 1.7 0 1 0 -3.4 0M440.2 720.3a1.7 1.7 0 1 0 3.4 0a1.7 1.7 0 1 0 -3.4 0M426.2 717.6a1.7 1.7 0 1 0 3.4 0a1.7 1.7 0 1 0 -3.4 0M432.7 723.1a1.7 1.7 0 1 0 3.4 0a1.7 1.7 0 1 0 -3.4 0M378.8 718.2a1.7 1.7 0 1 0 3.4 0a1.7 1.7 0 1 0 -3.4 0M424.1 722.6a1.7 1.7 0 1 0 3.4 0a1.7 1.7 0 1 0 -3.4 0M422.3 711.1a1.7 1.7 0 1 0 3.4 0a1.7 1.7 0 1 0 -3.4 0M386.5 718.6a1.7 1.7 0 1 0 3.4 0a1.7 1.7 0 1 0 -3.4 0M398.6 723.6a1.7 1.7 0 1 0 3.4 0a1.7 1.7 0 1 0 -3.4 0M391.7 721.1a1.7 1.7 0 1 0 3.4 0a1.7 1.7 0 1 0 -3.4 0M412.6 719.4a1.7 1.7 0 1 0 3.4 0a1.7 1.7 0 1 0 -3.4 0M436 723.2a1.7 1.7 0 1 0 3.4 0a1.7 1.7 0 1 0 -3.4 0M413.6 723.6a1.7 1.7 0 1 0 3.4 0a1.7 1.7 0 1 0 -3.4 0M424.3 722.5a1.7 1.7 0 1 0 3.4 0a1.7 1.7 0 1 0 -3.4 0M393.3 706.5a1.7 1.7 0 1 0 3.4 0a1.7 1.7 0 1 0 -3.4 0M408.7 722.8a1.7 1.7 0 1 0 3.4 0a1.7 1.7 0 1 0 -3.4 0M408.1 712.8a1.7 1.7 0 1 0 3.4 0a1.7 1.7 0 1 0 -3.4 0M379.2 721.9a1.7 1.7 0 1 0 3.4 0a1.7 1.7 0 1 0 -3.4 0M408.6 721.4a1.7 1.7 0 1 0 3.4 0a1.7 1.7 0 1 0 -3.4 0M385 719.7a1.7 1.7 0 1 0 3.4 0a1.7 1.7 0 1 0 -3.4 0M400.9 718.1a1.7 1.7 0 1 0 3.4 0a1.7 1.7 0 1 0 -3.4 0M405.9 721a1.7 1.7 0 1 0 3.4 0a1.7 1.7 0 1 0 -3.4 0M402.6 716.3a1.7 1.7 0 1 0 3.4 0a1.7 1.7 0 1 0 -3.4 0M466.1 717.3a1.7 1.7 0 1 0 3.4 0a1.7 1.7 0 1 0 -3.4 0M394.4 721.2a1.7 1.7 0 1 0 3.4 0a1.7 1.7 0 1 0 -3.4 0M416.7 716.7a1.7 1.7 0 1 0 3.4 0a1.7 1.7 0 1 0 -3.4 0M387 717.1a1.7 1.7 0 1 0 3.4 0a1.7 1.7 0 1 0 -3.4 0M385.7 715.1a1.7 1.7 0 1 0 3.4 0a1.7 1.7 0 1 0 -3.4 0M443.6 718.3a1.7 1.7 0 1 0 3.4 0a1.7 1.7 0 1 0 -3.4 0M473.4 723.2a1.7 1.7 0 1 0 3.4 0a1.7 1.7 0 1 0 -3.4 0M410.4 719.2a1.7 1.7 0 1 0 3.4 0a1.7 1.7 0 1 0 -3.4 0M430.1 721.5a1.7 1.7 0 1 0 3.4 0a1.7 1.7 0 1 0 -3.4 0M459.3 722.4a1.7 1.7 0 1 0 3.4 0a1.7 1.7 0 1 0 -3.4 0M402 708.7a1.7 1.7 0 1 0 3.4 0a1.7 1.7 0 1 0 -3.4 0M428.2 715.1a1.7 1.7 0 1 0 3.4 0a1.7 1.7 0 1 0 -3.4 0M387.3 717.7a1.7 1.7 0 1 0 3.4 0a1.7 1.7 0 1 0 -3.4 0M428.9 722.6a1.7 1.7 0 1 0 3.4 0a1.7 1.7 0 1 0 -3.4 0M373 718.3a1.7 1.7 0 1 0 3.4 0a1.7 1.7 0 1 0 -3.4 0M388.3 722.4a1.7 1.7 0 1 0 3.4 0a1.7 1.7 0 1 0 -3.4 0M444.9 705.4a1.7 1.7 0 1 0 3.4 0a1.7 1.7 0 1 0 -3.4 0M439.1 722.7a1.7 1.7 0 1 0 3.4 0a1.7 1.7 0 1 0 -3.4 0M438 715.7a1.7 1.7 0 1 0 3.4 0a1.7 1.7 0 1 0 -3.4 0M398.6 720a1.7 1.7 0 1 0 3.4 0a1.7 1.7 0 1 0 -3.4 0M410.3 722.3a1.7 1.7 0 1 0 3.4 0a1.7 1.7 0 1 0 -3.4 0M372.8 716a1.7 1.7 0 1 0 3.4 0a1.7 1.7 0 1 0 -3.4 0M415 716a1.7 1.7 0 1 0 3.4 0a1.7 1.7 0 1 0 -3.4 0M405.5 720.6a1.7 1.7 0 1 0 3.4 0a1.7 1.7 0 1 0 -3.4 0M428.1 722.5a1.7 1.7 0 1 0 3.4 0a1.7 1.7 0 1 0 -3.4 0M437.2 723.4a1.7 1.7 0 1 0 3.4 0a1.7 1.7 0 1 0 -3.4 0M398.8 721.3a1.7 1.7 0 1 0 3.4 0a1.7 1.7 0 1 0 -3.4 0M411 722.5a1.7 1.7 0 1 0 3.4 0a1.7 1.7 0 1 0 -3.4 0M398.6 713.9a1.7 1.7 0 1 0 3.4 0a1.7 1.7 0 1 0 -3.4 0M422.9 722.8a1.7 1.7 0 1 0 3.4 0a1.7 1.7 0 1 0 -3.4 0M420.2 718.5a1.7 1.7 0 1 0 3.4 0a1.7 1.7 0 1 0 -3.4 0M392.2 715.7a1.7 1.7 0 1 0 3.4 0a1.7 1.7 0 1 0 -3.4 0M422.6 711.6a1.7 1.7 0 1 0 3.4 0a1.7 1.7 0 1 0 -3.4 0M436.5 719.4a1.7 1.7 0 1 0 3.4 0a1.7 1.7 0 1 0 -3.4 0M383.9 716.9a1.7 1.7 0 1 0 3.4 0a1.7 1.7 0 1 0 -3.4 0M435.9 705.6a1.7 1.7 0 1 0 3.4 0a1.7 1.7 0 1 0 -3.4 0M444.1 715.1a1.7 1.7 0 1 0 3.4 0a1.7 1.7 0 1 0 -3.4 0M429.9 723.7a1.7 1.7 0 1 0 3.4 0a1.7 1.7 0 1 0 -3.4 0M403.1 712.6a1.7 1.7 0 1 0 3.4 0a1.7 1.7 0 1 0 -3.4 0M409.1 720.8a1.7 1.7 0 1 0 3.4 0a1.7 1.7 0 1 0 -3.4 0M408.3 720.1a1.7 1.7 0 1 0 3.4 0a1.7 1.7 0 1 0 -3.4 0M387.7 719.6a1.7 1.7 0 1 0 3.4 0a1.7 1.7 0 1 0 -3.4 0M438.3 719.7a1.7 1.7 0 1 0 3.4 0a1.7 1.7 0 1 0 -3.4 0M437.9 713.5a1.7 1.7 0 1 0 3.4 0a1.7 1.7 0 1 0 -3.4 0M402.7 720.7a1.7 1.7 0 1 0 3.4 0a1.7 1.7 0 1 0 -3.4 0M418 718.5a1.7 1.7 0 1 0 3.4 0a1.7 1.7 0 1 0 -3.4 0M400.7 717.4a1.7 1.7 0 1 0 3.4 0a1.7 1.7 0 1 0 -3.4 0M386.7 715a1.7 1.7 0 1 0 3.4 0a1.7 1.7 0 1 0 -3.4 0M390.2 719.3a1.7 1.7 0 1 0 3.4 0a1.7 1.7 0 1 0 -3.4 0M425.2 714.7a1.7 1.7 0 1 0 3.4 0a1.7 1.7 0 1 0 -3.4 0M406.2 710a1.7 1.7 0 1 0 3.4 0a1.7 1.7 0 1 0 -3.4 0M414.8 718.2a1.7 1.7 0 1 0 3.4 0a1.7 1.7 0 1 0 -3.4 0M394.8 710.5a1.7 1.7 0 1 0 3.4 0a1.7 1.7 0 1 0 -3.4 0M434.1 720.6a1.7 1.7 0 1 0 3.4 0a1.7 1.7 0 1 0 -3.4 0M384.7 720.6a1.7 1.7 0 1 0 3.4 0a1.7 1.7 0 1 0 -3.4 0M454.9 723.2a1.7 1.7 0 1 0 3.4 0a1.7 1.7 0 1 0 -3.4 0M420.1 718.1a1.7 1.7 0 1 0 3.4 0a1.7 1.7 0 1 0 -3.4 0M415.5 721.9a1.7 1.7 0 1 0 3.4 0a1.7 1.7 0 1 0 -3.4 0M450.4 721.1a1.7 1.7 0 1 0 3.4 0a1.7 1.7 0 1 0 -3.4 0M398.4 718.6a1.7 1.7 0 1 0 3.4 0a1.7 1.7 0 1 0 -3.4 0M381.7 703.6a1.7 1.7 0 1 0 3.4 0a1.7 1.7 0 1 0 -3.4 0M425.8 723.1a1.7 1.7 0 1 0 3.4 0a1.7 1.7 0 1 0 -3.4 0M406.7 720.3a1.7 1.7 0 1 0 3.4 0a1.7 1.7 0 1 0 -3.4 0M441.5 719.6a1.7 1.7 0 1 0 3.4 0a1.7 1.7 0 1 0 -3.4 0M434.3 720.5a1.7 1.7 0 1 0 3.4 0a1.7 1.7 0 1 0 -3.4 0M443.5 722a1.7 1.7 0 1 0 3.4 0a1.7 1.7 0 1 0 -3.4 0M418.2 722.3a1.7 1.7 0 1 0 3.4 0a1.7 1.7 0 1 0 -3.4 0M387.2 710.5a1.7 1.7 0 1 0 3.4 0a1.7 1.7 0 1 0 -3.4 0M425.2 722.9a1.7 1.7 0 1 0 3.4 0a1.7 1.7 0 1 0 -3.4 0M395 719.9a1.7 1.7 0 1 0 3.4 0a1.7 1.7 0 1 0 -3.4 0M403.5 723.5a1.7 1.7 0 1 0 3.4 0a1.7 1.7 0 1 0 -3.4 0M401.4 722.8a1.7 1.7 0 1 0 3.4 0a1.7 1.7 0 1 0 -3.4 0M367.6 712.7a1.7 1.7 0 1 0 3.4 0a1.7 1.7 0 1 0 -3.4 0M436.1 720.8a1.7 1.7 0 1 0 3.4 0a1.7 1.7 0 1 0 -3.4 0M415.5 721.6a1.7 1.7 0 1 0 3.4 0a1.7 1.7 0 1 0 -3.4 0M413.8 718.6a1.7 1.7 0 1 0 3.4 0a1.7 1.7 0 1 0 -3.4 0M421.5 722.9a1.7 1.7 0 1 0 3.4 0a1.7 1.7 0 1 0 -3.4 0M404.6 718.3a1.7 1.7 0 1 0 3.4 0a1.7 1.7 0 1 0 -3.4 0M429.1 717.8a1.7 1.7 0 1 0 3.4 0a1.7 1.7 0 1 0 -3.4 0M370 715.6a1.7 1.7 0 1 0 3.4 0a1.7 1.7 0 1 0 -3.4 0M417.2 722.7a1.7 1.7 0 1 0 3.4 0a1.7 1.7 0 1 0 -3.4 0M375.6 717.7a1.7 1.7 0 1 0 3.4 0a1.7 1.7 0 1 0 -3.4 0M371.4 721.6a1.7 1.7 0 1 0 3.4 0a1.7 1.7 0 1 0 -3.4 0M402.7 713.3a1.7 1.7 0 1 0 3.4 0a1.7 1.7 0 1 0 -3.4 0M399.2 716.5a1.7 1.7 0 1 0 3.4 0a1.7 1.7 0 1 0 -3.4 0M398.2 712.4a1.7 1.7 0 1 0 3.4 0a1.7 1.7 0 1 0 -3.4 0M411.6 713.8a1.7 1.7 0 1 0 3.4 0a1.7 1.7 0 1 0 -3.4 0M397.6 722a1.7 1.7 0 1 0 3.4 0a1.7 1.7 0 1 0 -3.4 0M404.3 718.8a1.7 1.7 0 1 0 3.4 0a1.7 1.7 0 1 0 -3.4 0M415.6 720.4a1.7 1.7 0 1 0 3.4 0a1.7 1.7 0 1 0 -3.4 0M396.7 722.1a1.7 1.7 0 1 0 3.4 0a1.7 1.7 0 1 0 -3.4 0M444.3 723.1a1.7 1.7 0 1 0 3.4 0a1.7 1.7 0 1 0 -3.4 0M421.5 721.5a1.7 1.7 0 1 0 3.4 0a1.7 1.7 0 1 0 -3.4 0M384.2 718.3a1.7 1.7 0 1 0 3.4 0a1.7 1.7 0 1 0 -3.4 0M411.9 710.3a1.7 1.7 0 1 0 3.4 0a1.7 1.7 0 1 0 -3.4 0M388.7 722.9a1.7 1.7 0 1 0 3.4 0a1.7 1.7 0 1 0 -3.4 0M397.9 721.4a1.7 1.7 0 1 0 3.4 0a1.7 1.7 0 1 0 -3.4 0M423.4 723a1.7 1.7 0 1 0 3.4 0a1.7 1.7 0 1 0 -3.4 0M425.4 716.6a1.7 1.7 0 1 0 3.4 0a1.7 1.7 0 1 0 -3.4 0M416.1 718.2a1.7 1.7 0 1 0 3.4 0a1.7 1.7 0 1 0 -3.4 0M432.7 719.8a1.7 1.7 0 1 0 3.4 0a1.7 1.7 0 1 0 -3.4 0M367 722.8a1.7 1.7 0 1 0 3.4 0a1.7 1.7 0 1 0 -3.4 0M406.9 723.4a1.7 1.7 0 1 0 3.4 0a1.7 1.7 0 1 0 -3.4 0M407.5 704.7a1.7 1.7 0 1 0 3.4 0a1.7 1.7 0 1 0 -3.4 0M400.1 721.4a1.7 1.7 0 1 0 3.4 0a1.7 1.7 0 1 0 -3.4 0M425.9 720.2a1.7 1.7 0 1 0 3.4 0a1.7 1.7 0 1 0 -3.4 0M397.6 717.1a1.7 1.7 0 1 0 3.4 0a1.7 1.7 0 1 0 -3.4 0M467.9 722.3a1.7 1.7 0 1 0 3.4 0a1.7 1.7 0 1 0 -3.4 0M407.4 722.5a1.7 1.7 0 1 0 3.4 0a1.7 1.7 0 1 0 -3.4 0M410.4 715.9a1.7 1.7 0 1 0 3.4 0a1.7 1.7 0 1 0 -3.4 0M439.2 717.3a1.7 1.7 0 1 0 3.4 0a1.7 1.7 0 1 0 -3.4 0M464.8 721.8a1.7 1.7 0 1 0 3.4 0a1.7 1.7 0 1 0 -3.4 0M368.5 714a1.7 1.7 0 1 0 3.4 0a1.7 1.7 0 1 0 -3.4 0M414.5 723.1a1.7 1.7 0 1 0 3.4 0a1.7 1.7 0 1 0 -3.4 0M376.7 714.5a1.7 1.7 0 1 0 3.4 0a1.7 1.7 0 1 0 -3.4 0M397.5 706.5a1.7 1.7 0 1 0 3.4 0a1.7 1.7 0 1 0 -3.4 0M394 720.3a1.7 1.7 0 1 0 3.4 0a1.7 1.7 0 1 0 -3.4 0M407.2 716.2a1.7 1.7 0 1 0 3.4 0a1.7 1.7 0 1 0 -3.4 0M397.6 720.8a1.7 1.7 0 1 0 3.4 0a1.7 1.7 0 1 0 -3.4 0M413.4 723.3a1.7 1.7 0 1 0 3.4 0a1.7 1.7 0 1 0 -3.4 0M416.6 721.9a1.7 1.7 0 1 0 3.4 0a1.7 1.7 0 1 0 -3.4 0M400.4 717.3a1.7 1.7 0 1 0 3.4 0a1.7 1.7 0 1 0 -3.4 0M392.5 720.6a1.7 1.7 0 1 0 3.4 0a1.7 1.7 0 1 0 -3.4 0M405.3 715.6a1.7 1.7 0 1 0 3.4 0a1.7 1.7 0 1 0 -3.4 0M431.8 720.2a1.7 1.7 0 1 0 3.4 0a1.7 1.7 0 1 0 -3.4 0M445.3 717.8a1.7 1.7 0 1 0 3.4 0a1.7 1.7 0 1 0 -3.4 0M442.5 719.2a1.7 1.7 0 1 0 3.4 0a1.7 1.7 0 1 0 -3.4 0M439.7 720a1.7 1.7 0 1 0 3.4 0a1.7 1.7 0 1 0 -3.4 0M396.6 720.8a1.7 1.7 0 1 0 3.4 0a1.7 1.7 0 1 0 -3.4 0M367.9 718.8a1.7 1.7 0 1 0 3.4 0a1.7 1.7 0 1 0 -3.4 0M419.3 723.6a1.7 1.7 0 1 0 3.4 0a1.7 1.7 0 1 0 -3.4 0M411.1 722.5a1.7 1.7 0 1 0 3.4 0a1.7 1.7 0 1 0 -3.4 0M369.1 710.5a1.7 1.7 0 1 0 3.4 0a1.7 1.7 0 1 0 -3.4 0M399.9 717.3a1.7 1.7 0 1 0 3.4 0a1.7 1.7 0 1 0 -3.4 0M438.7 722.1a1.7 1.7 0 1 0 3.4 0a1.7 1.7 0 1 0 -3.4 0M414.7 719.8a1.7 1.7 0 1 0 3.4 0a1.7 1.7 0 1 0 -3.4 0M406.7 714.6a1.7 1.7 0 1 0 3.4 0a1.7 1.7 0 1 0 -3.4 0M403.5 717a1.7 1.7 0 1 0 3.4 0a1.7 1.7 0 1 0 -3.4 0M400.3 720.2a1.7 1.7 0 1 0 3.4 0a1.7 1.7 0 1 0 -3.4 0M419.6 716.7a1.7 1.7 0 1 0 3.4 0a1.7 1.7 0 1 0 -3.4 0M438 723.7a1.7 1.7 0 1 0 3.4 0a1.7 1.7 0 1 0 -3.4 0M416.2 718.5a1.7 1.7 0 1 0 3.4 0a1.7 1.7 0 1 0 -3.4 0M456.3 719.3a1.7 1.7 0 1 0 3.4 0a1.7 1.7 0 1 0 -3.4 0M393.8 718.5a1.7 1.7 0 1 0 3.4 0a1.7 1.7 0 1 0 -3.4 0M381.6 723.6a1.7 1.7 0 1 0 3.4 0a1.7 1.7 0 1 0 -3.4 0M422.7 722.8a1.7 1.7 0 1 0 3.4 0a1.7 1.7 0 1 0 -3.4 0M397.7 720.3a1.7 1.7 0 1 0 3.4 0a1.7 1.7 0 1 0 -3.4 0M394.8 703.6a1.7 1.7 0 1 0 3.4 0a1.7 1.7 0 1 0 -3.4 0M393.3 720a1.7 1.7 0 1 0 3.4 0a1.7 1.7 0 1 0 -3.4 0M438.6 722.4a1.7 1.7 0 1 0 3.4 0a1.7 1.7 0 1 0 -3.4 0M398.5 718.4a1.7 1.7 0 1 0 3.4 0a1.7 1.7 0 1 0 -3.4 0M394 718.7a1.7 1.7 0 1 0 3.4 0a1.7 1.7 0 1 0 -3.4 0M413.2 723.4a1.7 1.7 0 1 0 3.4 0a1.7 1.7 0 1 0 -3.4 0M422.5 719.4a1.7 1.7 0 1 0 3.4 0a1.7 1.7 0 1 0 -3.4 0M371.2 717.7a1.7 1.7 0 1 0 3.4 0a1.7 1.7 0 1 0 -3.4 0M380.2 721.9a1.7 1.7 0 1 0 3.4 0a1.7 1.7 0 1 0 -3.4 0M390.8 713.9a1.7 1.7 0 1 0 3.4 0a1.7 1.7 0 1 0 -3.4 0M396.9 715.2a1.7 1.7 0 1 0 3.4 0a1.7 1.7 0 1 0 -3.4 0M398 721.1a1.7 1.7 0 1 0 3.4 0a1.7 1.7 0 1 0 -3.4 0M387.4 718.9a1.7 1.7 0 1 0 3.4 0a1.7 1.7 0 1 0 -3.4 0M422.6 710.2a1.7 1.7 0 1 0 3.4 0a1.7 1.7 0 1 0 -3.4 0M445.1 713.2a1.7 1.7 0 1 0 3.4 0a1.7 1.7 0 1 0 -3.4 0M380.1 717.8a1.7 1.7 0 1 0 3.4 0a1.7 1.7 0 1 0 -3.4 0M402.3 718.2a1.7 1.7 0 1 0 3.4 0a1.7 1.7 0 1 0 -3.4 0M428.6 723.1a1.7 1.7 0 1 0 3.4 0a1.7 1.7 0 1 0 -3.4 0M392.6 721.4a1.7 1.7 0 1 0 3.4 0a1.7 1.7 0 1 0 -3.4 0M375 720.3a1.7 1.7 0 1 0 3.4 0a1.7 1.7 0 1 0 -3.4 0M389.3 720.9a1.7 1.7 0 1 0 3.4 0a1.7 1.7 0 1 0 -3.4 0M401.9 720.9a1.7 1.7 0 1 0 3.4 0a1.7 1.7 0 1 0 -3.4 0M416.5 722.7a1.7 1.7 0 1 0 3.4 0a1.7 1.7 0 1 0 -3.4 0M448.1 723.3a1.7 1.7 0 1 0 3.4 0a1.7 1.7 0 1 0 -3.4 0M405.4 720.9a1.7 1.7 0 1 0 3.4 0a1.7 1.7 0 1 0 -3.4 0M435.2 719.8a1.7 1.7 0 1 0 3.4 0a1.7 1.7 0 1 0 -3.4 0M414.4 712.7a1.7 1.7 0 1 0 3.4 0a1.7 1.7 0 1 0 -3.4 0M417.1 722.8a1.7 1.7 0 1 0 3.4 0a1.7 1.7 0 1 0 -3.4 0M459.2 717.4a1.7 1.7 0 1 0 3.4 0a1.7 1.7 0 1 0 -3.4 0M453.4 721.4a1.7 1.7 0 1 0 3.4 0a1.7 1.7 0 1 0 -3.4 0M407.6 714.5a1.7 1.7 0 1 0 3.4 0a1.7 1.7 0 1 0 -3.4 0M394.1 721a1.7 1.7 0 1 0 3.4 0a1.7 1.7 0 1 0 -3.4 0M441.9 714.8a1.7 1.7 0 1 0 3.4 0a1.7 1.7 0 1 0 -3.4 0M368.7 722.3a1.7 1.7 0 1 0 3.4 0a1.7 1.7 0 1 0 -3.4 0M369.9 715.1a1.7 1.7 0 1 0 3.4 0a1.7 1.7 0 1 0 -3.4 0M381.8 719.3a1.7 1.7 0 1 0 3.4 0a1.7 1.7 0 1 0 -3.4 0M410.5 722.6a1.7 1.7 0 1 0 3.4 0a1.7 1.7 0 1 0 -3.4 0M379.7 723.7a1.7 1.7 0 1 0 3.4 0a1.7 1.7 0 1 0 -3.4 0M389.2 723.5a1.7 1.7 0 1 0 3.4 0a1.7 1.7 0 1 0 -3.4 0M404.3 709.1a1.7 1.7 0 1 0 3.4 0a1.7 1.7 0 1 0 -3.4 0M397.6 711.8a1.7 1.7 0 1 0 3.4 0a1.7 1.7 0 1 0 -3.4 0M370.5 702.4a1.7 1.7 0 1 0 3.4 0a1.7 1.7 0 1 0 -3.4 0M400.7 719.7a1.7 1.7 0 1 0 3.4 0a1.7 1.7 0 1 0 -3.4 0M400.9 711a1.7 1.7 0 1 0 3.4 0a1.7 1.7 0 1 0 -3.4 0M367.6 722.5a1.7 1.7 0 1 0 3.4 0a1.7 1.7 0 1 0 -3.4 0M370.4 723a1.7 1.7 0 1 0 3.4 0a1.7 1.7 0 1 0 -3.4 0M413.2 717.2a1.7 1.7 0 1 0 3.4 0a1.7 1.7 0 1 0 -3.4 0M423.7 716.2a1.7 1.7 0 1 0 3.4 0a1.7 1.7 0 1 0 -3.4 0M413.4 721.7a1.7 1.7 0 1 0 3.4 0a1.7 1.7 0 1 0 -3.4 0M396.2 722.1a1.7 1.7 0 1 0 3.4 0a1.7 1.7 0 1 0 -3.4 0M416.1 716a1.7 1.7 0 1 0 3.4 0a1.7 1.7 0 1 0 -3.4 0M433.4 719.3a1.7 1.7 0 1 0 3.4 0a1.7 1.7 0 1 0 -3.4 0M428.7 721.5a1.7 1.7 0 1 0 3.4 0a1.7 1.7 0 1 0 -3.4 0M411.2 715.7a1.7 1.7 0 1 0 3.4 0a1.7 1.7 0 1 0 -3.4 0M411.7 723.2a1.7 1.7 0 1 0 3.4 0a1.7 1.7 0 1 0 -3.4 0M444.5 723a1.7 1.7 0 1 0 3.4 0a1.7 1.7 0 1 0 -3.4 0M392.4 718.7a1.7 1.7 0 1 0 3.4 0a1.7 1.7 0 1 0 -3.4 0M448.4 720.6a1.7 1.7 0 1 0 3.4 0a1.7 1.7 0 1 0 -3.4 0M408.4 720.6a1.7 1.7 0 1 0 3.4 0a1.7 1.7 0 1 0 -3.4 0M450.1 722.9a1.7 1.7 0 1 0 3.4 0a1.7 1.7 0 1 0 -3.4 0M407 717.6a1.7 1.7 0 1 0 3.4 0a1.7 1.7 0 1 0 -3.4 0M436.7 723.4a1.7 1.7 0 1 0 3.4 0a1.7 1.7 0 1 0 -3.4 0M445.7 710a1.7 1.7 0 1 0 3.4 0a1.7 1.7 0 1 0 -3.4 0M381.6 723a1.7 1.7 0 1 0 3.4 0a1.7 1.7 0 1 0 -3.4 0M371.7 721.6a1.7 1.7 0 1 0 3.4 0a1.7 1.7 0 1 0 -3.4 0M400.8 717.3a1.7 1.7 0 1 0 3.4 0a1.7 1.7 0 1 0 -3.4 0M398.3 713.6a1.7 1.7 0 1 0 3.4 0a1.7 1.7 0 1 0 -3.4 0M451.4 716.3a1.7 1.7 0 1 0 3.4 0a1.7 1.7 0 1 0 -3.4 0M379.3 718.7a1.7 1.7 0 1 0 3.4 0a1.7 1.7 0 1 0 -3.4 0M433.4 722.3a1.7 1.7 0 1 0 3.4 0a1.7 1.7 0 1 0 -3.4 0M392.8 709.7a1.7 1.7 0 1 0 3.4 0a1.7 1.7 0 1 0 -3.4 0M395.7 706.7a1.7 1.7 0 1 0 3.4 0a1.7 1.7 0 1 0 -3.4 0M393.7 721.4a1.7 1.7 0 1 0 3.4 0a1.7 1.7 0 1 0 -3.4 0M380.1 723.5a1.7 1.7 0 1 0 3.4 0a1.7 1.7 0 1 0 -3.4 0M416 715.7a1.7 1.7 0 1 0 3.4 0a1.7 1.7 0 1 0 -3.4 0M422.5 712.9a1.7 1.7 0 1 0 3.4 0a1.7 1.7 0 1 0 -3.4 0M421.7 712.3a1.7 1.7 0 1 0 3.4 0a1.7 1.7 0 1 0 -3.4 0M414.8 722.5a1.7 1.7 0 1 0 3.4 0a1.7 1.7 0 1 0 -3.4 0M419.3 719.5a1.7 1.7 0 1 0 3.4 0a1.7 1.7 0 1 0 -3.4 0M403.8 718.5a1.7 1.7 0 1 0 3.4 0a1.7 1.7 0 1 0 -3.4 0M425.7 719.1a1.7 1.7 0 1 0 3.4 0a1.7 1.7 0 1 0 -3.4 0M414.7 719.7a1.7 1.7 0 1 0 3.4 0a1.7 1.7 0 1 0 -3.4 0M393 717.1a1.7 1.7 0 1 0 3.4 0a1.7 1.7 0 1 0 -3.4 0M397.6 721.7a1.7 1.7 0 1 0 3.4 0a1.7 1.7 0 1 0 -3.4 0M405.7 722.5a1.7 1.7 0 1 0 3.4 0a1.7 1.7 0 1 0 -3.4 0M428.5 723a1.7 1.7 0 1 0 3.4 0a1.7 1.7 0 1 0 -3.4 0M454 722.9a1.7 1.7 0 1 0 3.4 0a1.7 1.7 0 1 0 -3.4 0M405.4 721.4a1.7 1.7 0 1 0 3.4 0a1.7 1.7 0 1 0 -3.4 0M434.5 715.4a1.7 1.7 0 1 0 3.4 0a1.7 1.7 0 1 0 -3.4 0M375.5 719a1.7 1.7 0 1 0 3.4 0a1.7 1.7 0 1 0 -3.4 0M435.3 702.5a1.7 1.7 0 1 0 3.4 0a1.7 1.7 0 1 0 -3.4 0M432.9 721.4a1.7 1.7 0 1 0 3.4 0a1.7 1.7 0 1 0 -3.4 0M433.3 717.7a1.7 1.7 0 1 0 3.4 0a1.7 1.7 0 1 0 -3.4 0M386.5 707.6a1.7 1.7 0 1 0 3.4 0a1.7 1.7 0 1 0 -3.4 0M422.2 712.6a1.7 1.7 0 1 0 3.4 0a1.7 1.7 0 1 0 -3.4 0M383.7 718.4a1.7 1.7 0 1 0 3.4 0a1.7 1.7 0 1 0 -3.4 0M397.6 707.8a1.7 1.7 0 1 0 3.4 0a1.7 1.7 0 1 0 -3.4 0M435.7 720.1a1.7 1.7 0 1 0 3.4 0a1.7 1.7 0 1 0 -3.4 0M405.5 719.4a1.7 1.7 0 1 0 3.4 0a1.7 1.7 0 1 0 -3.4 0M372.4 723.6a1.7 1.7 0 1 0 3.4 0a1.7 1.7 0 1 0 -3.4 0M427.5 720.7a1.7 1.7 0 1 0 3.4 0a1.7 1.7 0 1 0 -3.4 0M398.5 710.4a1.7 1.7 0 1 0 3.4 0a1.7 1.7 0 1 0 -3.4 0M405.1 722.3a1.7 1.7 0 1 0 3.4 0a1.7 1.7 0 1 0 -3.4 0M394.7 723.8a1.7 1.7 0 1 0 3.4 0a1.7 1.7 0 1 0 -3.4 0M425.8 719.9a1.7 1.7 0 1 0 3.4 0a1.7 1.7 0 1 0 -3.4 0M380.3 723.5a1.7 1.7 0 1 0 3.4 0a1.7 1.7 0 1 0 -3.4 0M382.5 722.1a1.7 1.7 0 1 0 3.4 0a1.7 1.7 0 1 0 -3.4 0M393 707.3a1.7 1.7 0 1 0 3.4 0a1.7 1.7 0 1 0 -3.4 0M421 716.1a1.7 1.7 0 1 0 3.4 0a1.7 1.7 0 1 0 -3.4 0M391.4 721.3a1.7 1.7 0 1 0 3.4 0a1.7 1.7 0 1 0 -3.4 0M436 718.9a1.7 1.7 0 1 0 3.4 0a1.7 1.7 0 1 0 -3.4 0M399.7 722.7a1.7 1.7 0 1 0 3.4 0a1.7 1.7 0 1 0 -3.4 0M368.5 721.6a1.7 1.7 0 1 0 3.4 0a1.7 1.7 0 1 0 -3.4 0M382.4 722.5a1.7 1.7 0 1 0 3.4 0a1.7 1.7 0 1 0 -3.4 0M412.7 722.5a1.7 1.7 0 1 0 3.4 0a1.7 1.7 0 1 0 -3.4 0M390.4 722.6a1.7 1.7 0 1 0 3.4 0a1.7 1.7 0 1 0 -3.4 0M433.4 721.4a1.7 1.7 0 1 0 3.4 0a1.7 1.7 0 1 0 -3.4 0M403.8 721.1a1.7 1.7 0 1 0 3.4 0a1.7 1.7 0 1 0 -3.4 0M389.3 717.5a1.7 1.7 0 1 0 3.4 0a1.7 1.7 0 1 0 -3.4 0M445.7 721a1.7 1.7 0 1 0 3.4 0a1.7 1.7 0 1 0 -3.4 0M397.8 710.1a1.7 1.7 0 1 0 3.4 0a1.7 1.7 0 1 0 -3.4 0M385.4 723.1a1.7 1.7 0 1 0 3.4 0a1.7 1.7 0 1 0 -3.4 0M423.5 720.8a1.7 1.7 0 1 0 3.4 0a1.7 1.7 0 1 0 -3.4 0M409.5 723a1.7 1.7 0 1 0 3.4 0a1.7 1.7 0 1 0 -3.4 0M411.2 720.5a1.7 1.7 0 1 0 3.4 0a1.7 1.7 0 1 0 -3.4 0M428.6 722.2a1.7 1.7 0 1 0 3.4 0a1.7 1.7 0 1 0 -3.4 0M431.9 721.7a1.7 1.7 0 1 0 3.4 0a1.7 1.7 0 1 0 -3.4 0M432.8 717.6a1.7 1.7 0 1 0 3.4 0a1.7 1.7 0 1 0 -3.4 0M388.7 700.5a1.7 1.7 0 1 0 3.4 0a1.7 1.7 0 1 0 -3.4 0M398 719.7a1.7 1.7 0 1 0 3.4 0a1.7 1.7 0 1 0 -3.4 0M417.9 715.7a1.7 1.7 0 1 0 3.4 0a1.7 1.7 0 1 0 -3.4 0M374.8 717.8a1.7 1.7 0 1 0 3.4 0a1.7 1.7 0 1 0 -3.4 0M411.7 717.2a1.7 1.7 0 1 0 3.4 0a1.7 1.7 0 1 0 -3.4 0M396.1 721.9a1.7 1.7 0 1 0 3.4 0a1.7 1.7 0 1 0 -3.4 0M401.9 721.8a1.7 1.7 0 1 0 3.4 0a1.7 1.7 0 1 0 -3.4 0M386.2 714.7a1.7 1.7 0 1 0 3.4 0a1.7 1.7 0 1 0 -3.4 0M377.9 719.6a1.7 1.7 0 1 0 3.4 0a1.7 1.7 0 1 0 -3.4 0M407.7 723.5a1.7 1.7 0 1 0 3.4 0a1.7 1.7 0 1 0 -3.4 0M381.6 721.8a1.7 1.7 0 1 0 3.4 0a1.7 1.7 0 1 0 -3.4 0M405.1 703.1a1.7 1.7 0 1 0 3.4 0a1.7 1.7 0 1 0 -3.4 0M407.4 722.6a1.7 1.7 0 1 0 3.4 0a1.7 1.7 0 1 0 -3.4 0M397.1 719.1a1.7 1.7 0 1 0 3.4 0a1.7 1.7 0 1 0 -3.4 0M382 722.4a1.7 1.7 0 1 0 3.4 0a1.7 1.7 0 1 0 -3.4 0M395.7 720.3a1.7 1.7 0 1 0 3.4 0a1.7 1.7 0 1 0 -3.4 0M427.6 719.4a1.7 1.7 0 1 0 3.4 0a1.7 1.7 0 1 0 -3.4 0M419.2 720.6a1.7 1.7 0 1 0 3.4 0a1.7 1.7 0 1 0 -3.4 0M404.2 723.3a1.7 1.7 0 1 0 3.4 0a1.7 1.7 0 1 0 -3.4 0M406 718.3a1.7 1.7 0 1 0 3.4 0a1.7 1.7 0 1 0 -3.4 0M413.8 714.3a1.7 1.7 0 1 0 3.4 0a1.7 1.7 0 1 0 -3.4 0M455.6 721.4a1.7 1.7 0 1 0 3.4 0a1.7 1.7 0 1 0 -3.4 0M403.3 716.9a1.7 1.7 0 1 0 3.4 0a1.7 1.7 0 1 0 -3.4 0M416.9 712.1a1.7 1.7 0 1 0 3.4 0a1.7 1.7 0 1 0 -3.4 0M393.5 722.9a1.7 1.7 0 1 0 3.4 0a1.7 1.7 0 1 0 -3.4 0M386.3 719.5a1.7 1.7 0 1 0 3.4 0a1.7 1.7 0 1 0 -3.4 0M379.2 722.5a1.7 1.7 0 1 0 3.4 0a1.7 1.7 0 1 0 -3.4 0M436.3 720.1a1.7 1.7 0 1 0 3.4 0a1.7 1.7 0 1 0 -3.4 0M408.3 723.6a1.7 1.7 0 1 0 3.4 0a1.7 1.7 0 1 0 -3.4 0M447.5 719.4a1.7 1.7 0 1 0 3.4 0a1.7 1.7 0 1 0 -3.4 0M434.3 723a1.7 1.7 0 1 0 3.4 0a1.7 1.7 0 1 0 -3.4 0M408.2 719.9a1.7 1.7 0 1 0 3.4 0a1.7 1.7 0 1 0 -3.4 0M385.7 719.3a1.7 1.7 0 1 0 3.4 0a1.7 1.7 0 1 0 -3.4 0M423.5 718.1a1.7 1.7 0 1 0 3.4 0a1.7 1.7 0 1 0 -3.4 0M383.4 718.5a1.7 1.7 0 1 0 3.4 0a1.7 1.7 0 1 0 -3.4 0M378.8 722.7a1.7 1.7 0 1 0 3.4 0a1.7 1.7 0 1 0 -3.4 0M425.5 722.8a1.7 1.7 0 1 0 3.4 0a1.7 1.7 0 1 0 -3.4 0M399.2 718.7a1.7 1.7 0 1 0 3.4 0a1.7 1.7 0 1 0 -3.4 0M420.6 719.8a1.7 1.7 0 1 0 3.4 0a1.7 1.7 0 1 0 -3.4 0M390.8 723.3a1.7 1.7 0 1 0 3.4 0a1.7 1.7 0 1 0 -3.4 0M456.4 719.5a1.7 1.7 0 1 0 3.4 0a1.7 1.7 0 1 0 -3.4 0M399.1 719a1.7 1.7 0 1 0 3.4 0a1.7 1.7 0 1 0 -3.4 0M394.9 720.6a1.7 1.7 0 1 0 3.4 0a1.7 1.7 0 1 0 -3.4 0M411.3 723.7a1.7 1.7 0 1 0 3.4 0a1.7 1.7 0 1 0 -3.4 0M415.9 715.4a1.7 1.7 0 1 0 3.4 0a1.7 1.7 0 1 0 -3.4 0M423.6 721.7a1.7 1.7 0 1 0 3.4 0a1.7 1.7 0 1 0 -3.4 0M387.3 722.7a1.7 1.7 0 1 0 3.4 0a1.7 1.7 0 1 0 -3.4 0M388.3 697.4a1.7 1.7 0 1 0 3.4 0a1.7 1.7 0 1 0 -3.4 0M423.6 722.6a1.7 1.7 0 1 0 3.4 0a1.7 1.7 0 1 0 -3.4 0M388.9 720.6a1.7 1.7 0 1 0 3.4 0a1.7 1.7 0 1 0 -3.4 0M428.3 717.9a1.7 1.7 0 1 0 3.4 0a1.7 1.7 0 1 0 -3.4 0M397.7 723.6a1.7 1.7 0 1 0 3.4 0a1.7 1.7 0 1 0 -3.4 0M437.5 720.4a1.7 1.7 0 1 0 3.4 0a1.7 1.7 0 1 0 -3.4 0M386.8 720a1.7 1.7 0 1 0 3.4 0a1.7 1.7 0 1 0 -3.4 0M395.1 718.4a1.7 1.7 0 1 0 3.4 0a1.7 1.7 0 1 0 -3.4 0M400.2 722.8a1.7 1.7 0 1 0 3.4 0a1.7 1.7 0 1 0 -3.4 0M374.1 722a1.7 1.7 0 1 0 3.4 0a1.7 1.7 0 1 0 -3.4 0M390.6 717.1a1.7 1.7 0 1 0 3.4 0a1.7 1.7 0 1 0 -3.4 0M408.4 722.8a1.7 1.7 0 1 0 3.4 0a1.7 1.7 0 1 0 -3.4 0M422.8 721.5a1.7 1.7 0 1 0 3.4 0a1.7 1.7 0 1 0 -3.4 0M444.7 718.4a1.7 1.7 0 1 0 3.4 0a1.7 1.7 0 1 0 -3.4 0M416.2 721.5a1.7 1.7 0 1 0 3.4 0a1.7 1.7 0 1 0 -3.4 0M402.9 723a1.7 1.7 0 1 0 3.4 0a1.7 1.7 0 1 0 -3.4 0M424.2 716.1a1.7 1.7 0 1 0 3.4 0a1.7 1.7 0 1 0 -3.4 0M430.3 707.8a1.7 1.7 0 1 0 3.4 0a1.7 1.7 0 1 0 -3.4 0M378.4 723.7a1.7 1.7 0 1 0 3.4 0a1.7 1.7 0 1 0 -3.4 0M404.7 723.3a1.7 1.7 0 1 0 3.4 0a1.7 1.7 0 1 0 -3.4 0M441 720.2a1.7 1.7 0 1 0 3.4 0a1.7 1.7 0 1 0 -3.4 0M404.8 721.7a1.7 1.7 0 1 0 3.4 0a1.7 1.7 0 1 0 -3.4 0M428.7 717.1a1.7 1.7 0 1 0 3.4 0a1.7 1.7 0 1 0 -3.4 0M388.3 722.8a1.7 1.7 0 1 0 3.4 0a1.7 1.7 0 1 0 -3.4 0M384.1 722.6a1.7 1.7 0 1 0 3.4 0a1.7 1.7 0 1 0 -3.4 0M392.9 721.8a1.7 1.7 0 1 0 3.4 0a1.7 1.7 0 1 0 -3.4 0M410.4 710.3a1.7 1.7 0 1 0 3.4 0a1.7 1.7 0 1 0 -3.4 0M470.4 720.2a1.7 1.7 0 1 0 3.4 0a1.7 1.7 0 1 0 -3.4 0M430.4 719.3a1.7 1.7 0 1 0 3.4 0a1.7 1.7 0 1 0 -3.4 0M389.7 716.4a1.7 1.7 0 1 0 3.4 0a1.7 1.7 0 1 0 -3.4 0M379.3 723.7a1.7 1.7 0 1 0 3.4 0a1.7 1.7 0 1 0 -3.4 0M367 720.4a1.7 1.7 0 1 0 3.4 0a1.7 1.7 0 1 0 -3.4 0M400 717.1a1.7 1.7 0 1 0 3.4 0a1.7 1.7 0 1 0 -3.4 0M424 720a1.7 1.7 0 1 0 3.4 0a1.7 1.7 0 1 0 -3.4 0M407.3 723a1.7 1.7 0 1 0 3.4 0a1.7 1.7 0 1 0 -3.4 0M370.2 713.8a1.7 1.7 0 1 0 3.4 0a1.7 1.7 0 1 0 -3.4 0M405.3 714.5a1.7 1.7 0 1 0 3.4 0a1.7 1.7 0 1 0 -3.4 0M389 712a1.7 1.7 0 1 0 3.4 0a1.7 1.7 0 1 0 -3.4 0M432.8 721.3a1.7 1.7 0 1 0 3.4 0a1.7 1.7 0 1 0 -3.4 0M408.9 720a1.7 1.7 0 1 0 3.4 0a1.7 1.7 0 1 0 -3.4 0M401.9 719.5a1.7 1.7 0 1 0 3.4 0a1.7 1.7 0 1 0 -3.4 0M406 719.4a1.7 1.7 0 1 0 3.4 0a1.7 1.7 0 1 0 -3.4 0M419.4 720a1.7 1.7 0 1 0 3.4 0a1.7 1.7 0 1 0 -3.4 0M401.6 721.4a1.7 1.7 0 1 0 3.4 0a1.7 1.7 0 1 0 -3.4 0M387 716.9a1.7 1.7 0 1 0 3.4 0a1.7 1.7 0 1 0 -3.4 0M431.8 722.6a1.7 1.7 0 1 0 3.4 0a1.7 1.7 0 1 0 -3.4 0M380 717.8a1.7 1.7 0 1 0 3.4 0a1.7 1.7 0 1 0 -3.4 0M416.1 718a1.7 1.7 0 1 0 3.4 0a1.7 1.7 0 1 0 -3.4 0M427.8 716.6a1.7 1.7 0 1 0 3.4 0a1.7 1.7 0 1 0 -3.4 0M405.8 720.1a1.7 1.7 0 1 0 3.4 0a1.7 1.7 0 1 0 -3.4 0M426.3 721.4a1.7 1.7 0 1 0 3.4 0a1.7 1.7 0 1 0 -3.4 0M429.2 715.5a1.7 1.7 0 1 0 3.4 0a1.7 1.7 0 1 0 -3.4 0M410.3 719.6a1.7 1.7 0 1 0 3.4 0a1.7 1.7 0 1 0 -3.4 0M434.5 723.2a1.7 1.7 0 1 0 3.4 0a1.7 1.7 0 1 0 -3.4 0M419.9 713.3a1.7 1.7 0 1 0 3.4 0a1.7 1.7 0 1 0 -3.4 0M394.1 717.8a1.7 1.7 0 1 0 3.4 0a1.7 1.7 0 1 0 -3.4 0M413.4 721.8a1.7 1.7 0 1 0 3.4 0a1.7 1.7 0 1 0 -3.4 0M435.3 723.2a1.7 1.7 0 1 0 3.4 0a1.7 1.7 0 1 0 -3.4 0M435.6 711.6a1.7 1.7 0 1 0 3.4 0a1.7 1.7 0 1 0 -3.4 0M417 719.3a1.7 1.7 0 1 0 3.4 0a1.7 1.7 0 1 0 -3.4 0M397.7 720.1a1.7 1.7 0 1 0 3.4 0a1.7 1.7 0 1 0 -3.4 0M414.9 717.5a1.7 1.7 0 1 0 3.4 0a1.7 1.7 0 1 0 -3.4 0M451.1 720.6a1.7 1.7 0 1 0 3.4 0a1.7 1.7 0 1 0 -3.4 0M395.3 720.3a1.7 1.7 0 1 0 3.4 0a1.7 1.7 0 1 0 -3.4 0M456 718.2a1.7 1.7 0 1 0 3.4 0a1.7 1.7 0 1 0 -3.4 0M401.2 721.9a1.7 1.7 0 1 0 3.4 0a1.7 1.7 0 1 0 -3.4 0M425.8 717.8a1.7 1.7 0 1 0 3.4 0a1.7 1.7 0 1 0 -3.4 0M440.5 722.4a1.7 1.7 0 1 0 3.4 0a1.7 1.7 0 1 0 -3.4 0M417.8 722.1a1.7 1.7 0 1 0 3.4 0a1.7 1.7 0 1 0 -3.4 0M399.4 723.3a1.7 1.7 0 1 0 3.4 0a1.7 1.7 0 1 0 -3.4 0M391.2 717a1.7 1.7 0 1 0 3.4 0a1.7 1.7 0 1 0 -3.4 0M419.6 717.3a1.7 1.7 0 1 0 3.4 0a1.7 1.7 0 1 0 -3.4 0M421.4 707.4a1.7 1.7 0 1 0 3.4 0a1.7 1.7 0 1 0 -3.4 0M393.8 723.3a1.7 1.7 0 1 0 3.4 0a1.7 1.7 0 1 0 -3.4 0M399.3 719.3a1.7 1.7 0 1 0 3.4 0a1.7 1.7 0 1 0 -3.4 0M404.1 719.4a1.7 1.7 0 1 0 3.4 0a1.7 1.7 0 1 0 -3.4 0M406 721.1a1.7 1.7 0 1 0 3.4 0a1.7 1.7 0 1 0 -3.4 0M411.1 717.1a1.7 1.7 0 1 0 3.4 0a1.7 1.7 0 1 0 -3.4 0M402.6 720.1a1.7 1.7 0 1 0 3.4 0a1.7 1.7 0 1 0 -3.4 0M403.7 716.3a1.7 1.7 0 1 0 3.4 0a1.7 1.7 0 1 0 -3.4 0M429.8 721.5a1.7 1.7 0 1 0 3.4 0a1.7 1.7 0 1 0 -3.4 0M426.8 721.7a1.7 1.7 0 1 0 3.4 0a1.7 1.7 0 1 0 -3.4 0M432.6 716.1a1.7 1.7 0 1 0 3.4 0a1.7 1.7 0 1 0 -3.4 0M392.1 721.1a1.7 1.7 0 1 0 3.4 0a1.7 1.7 0 1 0 -3.4 0M440.4 722.1a1.7 1.7 0 1 0 3.4 0a1.7 1.7 0 1 0 -3.4 0M413 717.1a1.7 1.7 0 1 0 3.4 0a1.7 1.7 0 1 0 -3.4 0M403.6 720.6a1.7 1.7 0 1 0 3.4 0a1.7 1.7 0 1 0 -3.4 0M416.8 720.3a1.7 1.7 0 1 0 3.4 0a1.7 1.7 0 1 0 -3.4 0M418.3 720.7a1.7 1.7 0 1 0 3.4 0a1.7 1.7 0 1 0 -3.4 0M435.4 714.1a1.7 1.7 0 1 0 3.4 0a1.7 1.7 0 1 0 -3.4 0M413.4 721.2a1.7 1.7 0 1 0 3.4 0a1.7 1.7 0 1 0 -3.4 0M407.7 718.4a1.7 1.7 0 1 0 3.4 0a1.7 1.7 0 1 0 -3.4 0M392.5 721.7a1.7 1.7 0 1 0 3.4 0a1.7 1.7 0 1 0 -3.4 0M378.9 714.3a1.7 1.7 0 1 0 3.4 0a1.7 1.7 0 1 0 -3.4 0M419.4 723.3a1.7 1.7 0 1 0 3.4 0a1.7 1.7 0 1 0 -3.4 0M400.2 715.8a1.7 1.7 0 1 0 3.4 0a1.7 1.7 0 1 0 -3.4 0M400.9 720.9a1.7 1.7 0 1 0 3.4 0a1.7 1.7 0 1 0 -3.4 0M394.1 715.3a1.7 1.7 0 1 0 3.4 0a1.7 1.7 0 1 0 -3.4 0M412.5 719.5a1.7 1.7 0 1 0 3.4 0a1.7 1.7 0 1 0 -3.4 0M417.1 723.1a1.7 1.7 0 1 0 3.4 0a1.7 1.7 0 1 0 -3.4 0M419.4 720.8a1.7 1.7 0 1 0 3.4 0a1.7 1.7 0 1 0 -3.4 0M427.5 712.1a1.7 1.7 0 1 0 3.4 0a1.7 1.7 0 1 0 -3.4 0M411.5 720.5a1.7 1.7 0 1 0 3.4 0a1.7 1.7 0 1 0 -3.4 0M398 718.9a1.7 1.7 0 1 0 3.4 0a1.7 1.7 0 1 0 -3.4 0M405.9 721.7a1.7 1.7 0 1 0 3.4 0a1.7 1.7 0 1 0 -3.4 0M448.8 722a1.7 1.7 0 1 0 3.4 0a1.7 1.7 0 1 0 -3.4 0M411.2 715.9a1.7 1.7 0 1 0 3.4 0a1.7 1.7 0 1 0 -3.4 0M384.9 715a1.7 1.7 0 1 0 3.4 0a1.7 1.7 0 1 0 -3.4 0M398.7 711.1a1.7 1.7 0 1 0 3.4 0a1.7 1.7 0 1 0 -3.4 0M389.6 722.7a1.7 1.7 0 1 0 3.4 0a1.7 1.7 0 1 0 -3.4 0M383.7 708a1.7 1.7 0 1 0 3.4 0a1.7 1.7 0 1 0 -3.4 0M399.4 720.7a1.7 1.7 0 1 0 3.4 0a1.7 1.7 0 1 0 -3.4 0M392.7 722a1.7 1.7 0 1 0 3.4 0a1.7 1.7 0 1 0 -3.4 0M412.4 722a1.7 1.7 0 1 0 3.4 0a1.7 1.7 0 1 0 -3.4 0M426.6 715.6a1.7 1.7 0 1 0 3.4 0a1.7 1.7 0 1 0 -3.4 0M405.4 721.8a1.7 1.7 0 1 0 3.4 0a1.7 1.7 0 1 0 -3.4 0M414.8 720.9a1.7 1.7 0 1 0 3.4 0a1.7 1.7 0 1 0 -3.4 0M371.5 722.8a1.7 1.7 0 1 0 3.4 0a1.7 1.7 0 1 0 -3.4 0M426.4 715.1a1.7 1.7 0 1 0 3.4 0a1.7 1.7 0 1 0 -3.4 0M425.5 719a1.7 1.7 0 1 0 3.4 0a1.7 1.7 0 1 0 -3.4 0M398.8 705.5a1.7 1.7 0 1 0 3.4 0a1.7 1.7 0 1 0 -3.4 0M426.4 723a1.7 1.7 0 1 0 3.4 0a1.7 1.7 0 1 0 -3.4 0M405.2 721.8a1.7 1.7 0 1 0 3.4 0a1.7 1.7 0 1 0 -3.4 0M393.9 718.7a1.7 1.7 0 1 0 3.4 0a1.7 1.7 0 1 0 -3.4 0M407.2 719.1a1.7 1.7 0 1 0 3.4 0a1.7 1.7 0 1 0 -3.4 0M471.9 707.9a1.7 1.7 0 1 0 3.4 0a1.7 1.7 0 1 0 -3.4 0M387.4 716.5a1.7 1.7 0 1 0 3.4 0a1.7 1.7 0 1 0 -3.4 0M414.9 723.6a1.7 1.7 0 1 0 3.4 0a1.7 1.7 0 1 0 -3.4 0M417.2 721.1a1.7 1.7 0 1 0 3.4 0a1.7 1.7 0 1 0 -3.4 0M410.7 722a1.7 1.7 0 1 0 3.4 0a1.7 1.7 0 1 0 -3.4 0M427.5 720.9a1.7 1.7 0 1 0 3.4 0a1.7 1.7 0 1 0 -3.4 0M433.7 706.7a1.7 1.7 0 1 0 3.4 0a1.7 1.7 0 1 0 -3.4 0M397.1 720.2a1.7 1.7 0 1 0 3.4 0a1.7 1.7 0 1 0 -3.4 0M380.2 722a1.7 1.7 0 1 0 3.4 0a1.7 1.7 0 1 0 -3.4 0M382 718.2a1.7 1.7 0 1 0 3.4 0a1.7 1.7 0 1 0 -3.4 0M374.2 711.6a1.7 1.7 0 1 0 3.4 0a1.7 1.7 0 1 0 -3.4 0M422.5 723.7a1.7 1.7 0 1 0 3.4 0a1.7 1.7 0 1 0 -3.4 0M392 721.6a1.7 1.7 0 1 0 3.4 0a1.7 1.7 0 1 0 -3.4 0M392.7 717.8a1.7 1.7 0 1 0 3.4 0a1.7 1.7 0 1 0 -3.4 0M404.2 722.8a1.7 1.7 0 1 0 3.4 0a1.7 1.7 0 1 0 -3.4 0M447.2 718.6a1.7 1.7 0 1 0 3.4 0a1.7 1.7 0 1 0 -3.4 0M414.2 721a1.7 1.7 0 1 0 3.4 0a1.7 1.7 0 1 0 -3.4 0M372.6 722.9a1.7 1.7 0 1 0 3.4 0a1.7 1.7 0 1 0 -3.4 0M404.7 721.3a1.7 1.7 0 1 0 3.4 0a1.7 1.7 0 1 0 -3.4 0M415.9 721a1.7 1.7 0 1 0 3.4 0a1.7 1.7 0 1 0 -3.4 0M401.8 711.2a1.7 1.7 0 1 0 3.4 0a1.7 1.7 0 1 0 -3.4 0M411.6 721a1.7 1.7 0 1 0 3.4 0a1.7 1.7 0 1 0 -3.4 0M437.8 713.7a1.7 1.7 0 1 0 3.4 0a1.7 1.7 0 1 0 -3.4 0M392.6 719.5a1.7 1.7 0 1 0 3.4 0a1.7 1.7 0 1 0 -3.4 0M421.7 723.5a1.7 1.7 0 1 0 3.4 0a1.7 1.7 0 1 0 -3.4 0M415.7 715.9a1.7 1.7 0 1 0 3.4 0a1.7 1.7 0 1 0 -3.4 0M436.7 723.5a1.7 1.7 0 1 0 3.4 0a1.7 1.7 0 1 0 -3.4 0M407.8 713.8a1.7 1.7 0 1 0 3.4 0a1.7 1.7 0 1 0 -3.4 0M394.6 723.7a1.7 1.7 0 1 0 3.4 0a1.7 1.7 0 1 0 -3.4 0M422.6 723.4a1.7 1.7 0 1 0 3.4 0a1.7 1.7 0 1 0 -3.4 0M418.8 722a1.7 1.7 0 1 0 3.4 0a1.7 1.7 0 1 0 -3.4 0M420.4 723.3a1.7 1.7 0 1 0 3.4 0a1.7 1.7 0 1 0 -3.4 0M399.1 723.5a1.7 1.7 0 1 0 3.4 0a1.7 1.7 0 1 0 -3.4 0M425.4 722.2a1.7 1.7 0 1 0 3.4 0a1.7 1.7 0 1 0 -3.4 0M432.1 723.7a1.7 1.7 0 1 0 3.4 0a1.7 1.7 0 1 0 -3.4 0M396.6 715.1a1.7 1.7 0 1 0 3.4 0a1.7 1.7 0 1 0 -3.4 0M440 716.8a1.7 1.7 0 1 0 3.4 0a1.7 1.7 0 1 0 -3.4 0M411 720.4a1.7 1.7 0 1 0 3.4 0a1.7 1.7 0 1 0 -3.4 0M442.9 714.8a1.7 1.7 0 1 0 3.4 0a1.7 1.7 0 1 0 -3.4 0M447.7 720.4a1.7 1.7 0 1 0 3.4 0a1.7 1.7 0 1 0 -3.4 0M426 723.4a1.7 1.7 0 1 0 3.4 0a1.7 1.7 0 1 0 -3.4 0M391.5 723.4a1.7 1.7 0 1 0 3.4 0a1.7 1.7 0 1 0 -3.4 0M409.9 721.2a1.7 1.7 0 1 0 3.4 0a1.7 1.7 0 1 0 -3.4 0M443.8 717.1a1.7 1.7 0 1 0 3.4 0a1.7 1.7 0 1 0 -3.4 0M408.4 698.8a1.7 1.7 0 1 0 3.4 0a1.7 1.7 0 1 0 -3.4 0M388.6 711.9a1.7 1.7 0 1 0 3.4 0a1.7 1.7 0 1 0 -3.4 0M394.4 718.6a1.7 1.7 0 1 0 3.4 0a1.7 1.7 0 1 0 -3.4 0M436.5 722.8a1.7 1.7 0 1 0 3.4 0a1.7 1.7 0 1 0 -3.4 0M400.4 719.2a1.7 1.7 0 1 0 3.4 0a1.7 1.7 0 1 0 -3.4 0M442.4 720.2a1.7 1.7 0 1 0 3.4 0a1.7 1.7 0 1 0 -3.4 0M378.5 720.6a1.7 1.7 0 1 0 3.4 0a1.7 1.7 0 1 0 -3.4 0M372.8 701.8a1.7 1.7 0 1 0 3.4 0a1.7 1.7 0 1 0 -3.4 0M437.4 722.3a1.7 1.7 0 1 0 3.4 0a1.7 1.7 0 1 0 -3.4 0M390.8 718.3a1.7 1.7 0 1 0 3.4 0a1.7 1.7 0 1 0 -3.4 0M425.6 721.9a1.7 1.7 0 1 0 3.4 0a1.7 1.7 0 1 0 -3.4 0M421.7 712.1a1.7 1.7 0 1 0 3.4 0a1.7 1.7 0 1 0 -3.4 0M401.6 721.4a1.7 1.7 0 1 0 3.4 0a1.7 1.7 0 1 0 -3.4 0M385.4 723.8a1.7 1.7 0 1 0 3.4 0a1.7 1.7 0 1 0 -3.4 0M414.5 716.4a1.7 1.7 0 1 0 3.4 0a1.7 1.7 0 1 0 -3.4 0M399.7 714.7a1.7 1.7 0 1 0 3.4 0a1.7 1.7 0 1 0 -3.4 0M408.7 717.6a1.7 1.7 0 1 0 3.4 0a1.7 1.7 0 1 0 -3.4 0M415.1 709.4a1.7 1.7 0 1 0 3.4 0a1.7 1.7 0 1 0 -3.4 0M420.5 708.9a1.7 1.7 0 1 0 3.4 0a1.7 1.7 0 1 0 -3.4 0M393.9 721.2a1.7 1.7 0 1 0 3.4 0a1.7 1.7 0 1 0 -3.4 0M374.7 706.5a1.7 1.7 0 1 0 3.4 0a1.7 1.7 0 1 0 -3.4 0M422.7 707.8a1.7 1.7 0 1 0 3.4 0a1.7 1.7 0 1 0 -3.4 0M413.5 717.3a1.7 1.7 0 1 0 3.4 0a1.7 1.7 0 1 0 -3.4 0M434.1 723.1a1.7 1.7 0 1 0 3.4 0a1.7 1.7 0 1 0 -3.4 0M419.9 721.5a1.7 1.7 0 1 0 3.4 0a1.7 1.7 0 1 0 -3.4 0M390.4 720.5a1.7 1.7 0 1 0 3.4 0a1.7 1.7 0 1 0 -3.4 0M406.9 721.1a1.7 1.7 0 1 0 3.4 0a1.7 1.7 0 1 0 -3.4 0M430.5 723.5a1.7 1.7 0 1 0 3.4 0a1.7 1.7 0 1 0 -3.4 0M385 718.2a1.7 1.7 0 1 0 3.4 0a1.7 1.7 0 1 0 -3.4 0M395.3 722a1.7 1.7 0 1 0 3.4 0a1.7 1.7 0 1 0 -3.4 0M385.9 717a1.7 1.7 0 1 0 3.4 0a1.7 1.7 0 1 0 -3.4 0M392.1 718.5a1.7 1.7 0 1 0 3.4 0a1.7 1.7 0 1 0 -3.4 0M373.5 717.8a1.7 1.7 0 1 0 3.4 0a1.7 1.7 0 1 0 -3.4 0M449.4 711.3a1.7 1.7 0 1 0 3.4 0a1.7 1.7 0 1 0 -3.4 0M408 718.7a1.7 1.7 0 1 0 3.4 0a1.7 1.7 0 1 0 -3.4 0M414.9 722.6a1.7 1.7 0 1 0 3.4 0a1.7 1.7 0 1 0 -3.4 0M395.3 716.6a1.7 1.7 0 1 0 3.4 0a1.7 1.7 0 1 0 -3.4 0M407.4 721.1a1.7 1.7 0 1 0 3.4 0a1.7 1.7 0 1 0 -3.4 0M388.5 722.9a1.7 1.7 0 1 0 3.4 0a1.7 1.7 0 1 0 -3.4 0M413.3 722.8a1.7 1.7 0 1 0 3.4 0a1.7 1.7 0 1 0 -3.4 0M381.9 720.6a1.7 1.7 0 1 0 3.4 0a1.7 1.7 0 1 0 -3.4 0M405.9 723.5a1.7 1.7 0 1 0 3.4 0a1.7 1.7 0 1 0 -3.4 0M399.3 719.2a1.7 1.7 0 1 0 3.4 0a1.7 1.7 0 1 0 -3.4 0M408.6 711.9a1.7 1.7 0 1 0 3.4 0a1.7 1.7 0 1 0 -3.4 0M401.1 720.6a1.7 1.7 0 1 0 3.4 0a1.7 1.7 0 1 0 -3.4 0M396.3 720a1.7 1.7 0 1 0 3.4 0a1.7 1.7 0 1 0 -3.4 0M409.3 717.3a1.7 1.7 0 1 0 3.4 0a1.7 1.7 0 1 0 -3.4 0M417 718.3a1.7 1.7 0 1 0 3.4 0a1.7 1.7 0 1 0 -3.4 0M397.3 716.4a1.7 1.7 0 1 0 3.4 0a1.7 1.7 0 1 0 -3.4 0M403.8 713.5a1.7 1.7 0 1 0 3.4 0a1.7 1.7 0 1 0 -3.4 0M393.5 723.2a1.7 1.7 0 1 0 3.4 0a1.7 1.7 0 1 0 -3.4 0M378.7 720.7a1.7 1.7 0 1 0 3.4 0a1.7 1.7 0 1 0 -3.4 0M429 722.9a1.7 1.7 0 1 0 3.4 0a1.7 1.7 0 1 0 -3.4 0M405.8 720.2a1.7 1.7 0 1 0 3.4 0a1.7 1.7 0 1 0 -3.4 0M424.5 716.6a1.7 1.7 0 1 0 3.4 0a1.7 1.7 0 1 0 -3.4 0M380.5 720.5a1.7 1.7 0 1 0 3.4 0a1.7 1.7 0 1 0 -3.4 0M413.1 714.8a1.7 1.7 0 1 0 3.4 0a1.7 1.7 0 1 0 -3.4 0M421.5 717.4a1.7 1.7 0 1 0 3.4 0a1.7 1.7 0 1 0 -3.4 0M424.2 716.4a1.7 1.7 0 1 0 3.4 0a1.7 1.7 0 1 0 -3.4 0M381.3 722.5a1.7 1.7 0 1 0 3.4 0a1.7 1.7 0 1 0 -3.4 0M416.2 720.2a1.7 1.7 0 1 0 3.4 0a1.7 1.7 0 1 0 -3.4 0M395.9 715.6a1.7 1.7 0 1 0 3.4 0a1.7 1.7 0 1 0 -3.4 0M428.4 720.5a1.7 1.7 0 1 0 3.4 0a1.7 1.7 0 1 0 -3.4 0M419.7 720.6a1.7 1.7 0 1 0 3.4 0a1.7 1.7 0 1 0 -3.4 0M375.8 715.8a1.7 1.7 0 1 0 3.4 0a1.7 1.7 0 1 0 -3.4 0M369.7 722.9a1.7 1.7 0 1 0 3.4 0a1.7 1.7 0 1 0 -3.4 0M413.1 721a1.7 1.7 0 1 0 3.4 0a1.7 1.7 0 1 0 -3.4 0M439.1 722.7a1.7 1.7 0 1 0 3.4 0a1.7 1.7 0 1 0 -3.4 0M411.4 702.6a1.7 1.7 0 1 0 3.4 0a1.7 1.7 0 1 0 -3.4 0M395.6 718.1a1.7 1.7 0 1 0 3.4 0a1.7 1.7 0 1 0 -3.4 0M451.5 722.8a1.7 1.7 0 1 0 3.4 0a1.7 1.7 0 1 0 -3.4 0M407.9 716.5a1.7 1.7 0 1 0 3.4 0a1.7 1.7 0 1 0 -3.4 0M406.3 723.6a1.7 1.7 0 1 0 3.4 0a1.7 1.7 0 1 0 -3.4 0M410.3 719.9a1.7 1.7 0 1 0 3.4 0a1.7 1.7 0 1 0 -3.4 0M396.2 713.9a1.7 1.7 0 1 0 3.4 0a1.7 1.7 0 1 0 -3.4 0M410.4 717.4a1.7 1.7 0 1 0 3.4 0a1.7 1.7 0 1 0 -3.4 0M401.2 721.6a1.7 1.7 0 1 0 3.4 0a1.7 1.7 0 1 0 -3.4 0M432.4 716.3a1.7 1.7 0 1 0 3.4 0a1.7 1.7 0 1 0 -3.4 0M417 721.3a1.7 1.7 0 1 0 3.4 0a1.7 1.7 0 1 0 -3.4 0M416.4 723.4a1.7 1.7 0 1 0 3.4 0a1.7 1.7 0 1 0 -3.4 0M423.4 721a1.7 1.7 0 1 0 3.4 0a1.7 1.7 0 1 0 -3.4 0M399.6 720.9a1.7 1.7 0 1 0 3.4 0a1.7 1.7 0 1 0 -3.4 0M389.2 719.3a1.7 1.7 0 1 0 3.4 0a1.7 1.7 0 1 0 -3.4 0M380.4 718.2a1.7 1.7 0 1 0 3.4 0a1.7 1.7 0 1 0 -3.4 0M392.6 702.7a1.7 1.7 0 1 0 3.4 0a1.7 1.7 0 1 0 -3.4 0M406 722.7a1.7 1.7 0 1 0 3.4 0a1.7 1.7 0 1 0 -3.4 0M443 719.6a1.7 1.7 0 1 0 3.4 0a1.7 1.7 0 1 0 -3.4 0M445 717.6a1.7 1.7 0 1 0 3.4 0a1.7 1.7 0 1 0 -3.4 0M382.8 712.9a1.7 1.7 0 1 0 3.4 0a1.7 1.7 0 1 0 -3.4 0M428 722.8a1.7 1.7 0 1 0 3.4 0a1.7 1.7 0 1 0 -3.4 0M390.9 715.1a1.7 1.7 0 1 0 3.4 0a1.7 1.7 0 1 0 -3.4 0M442.8 720.4a1.7 1.7 0 1 0 3.4 0a1.7 1.7 0 1 0 -3.4 0M458.5 717.8a1.7 1.7 0 1 0 3.4 0a1.7 1.7 0 1 0 -3.4 0M425.7 718.3a1.7 1.7 0 1 0 3.4 0a1.7 1.7 0 1 0 -3.4 0M461.5 719.3a1.7 1.7 0 1 0 3.4 0a1.7 1.7 0 1 0 -3.4 0M408.2 715.6a1.7 1.7 0 1 0 3.4 0a1.7 1.7 0 1 0 -3.4 0M448.5 720.7a1.7 1.7 0 1 0 3.4 0a1.7 1.7 0 1 0 -3.4 0M424.5 715.1a1.7 1.7 0 1 0 3.4 0a1.7 1.7 0 1 0 -3.4 0M405.6 716.1a1.7 1.7 0 1 0 3.4 0a1.7 1.7 0 1 0 -3.4 0M414.3 722a1.7 1.7 0 1 0 3.4 0a1.7 1.7 0 1 0 -3.4 0M423.4 721a1.7 1.7 0 1 0 3.4 0a1.7 1.7 0 1 0 -3.4 0M468.2 718.4a1.7 1.7 0 1 0 3.4 0a1.7 1.7 0 1 0 -3.4 0M458 712.8a1.7 1.7 0 1 0 3.4 0a1.7 1.7 0 1 0 -3.4 0M424.5 718a1.7 1.7 0 1 0 3.4 0a1.7 1.7 0 1 0 -3.4 0M396.8 722.7a1.7 1.7 0 1 0 3.4 0a1.7 1.7 0 1 0 -3.4 0M423.8 721.8a1.7 1.7 0 1 0 3.4 0a1.7 1.7 0 1 0 -3.4 0M402.5 719.3a1.7 1.7 0 1 0 3.4 0a1.7 1.7 0 1 0 -3.4 0M436.4 714.9a1.7 1.7 0 1 0 3.4 0a1.7 1.7 0 1 0 -3.4 0M457.7 716.5a1.7 1.7 0 1 0 3.4 0a1.7 1.7 0 1 0 -3.4 0M425.3 712.8a1.7 1.7 0 1 0 3.4 0a1.7 1.7 0 1 0 -3.4 0M417.2 711.8a1.7 1.7 0 1 0 3.4 0a1.7 1.7 0 1 0 -3.4 0M461 705.6a1.7 1.7 0 1 0 3.4 0a1.7 1.7 0 1 0 -3.4 0M445.9 721.7a1.7 1.7 0 1 0 3.4 0a1.7 1.7 0 1 0 -3.4 0M385.5 716.5a1.7 1.7 0 1 0 3.4 0a1.7 1.7 0 1 0 -3.4 0M465.6 708.5a1.7 1.7 0 1 0 3.4 0a1.7 1.7 0 1 0 -3.4 0M421.7 716.7a1.7 1.7 0 1 0 3.4 0a1.7 1.7 0 1 0 -3.4 0M434.5 711.2a1.7 1.7 0 1 0 3.4 0a1.7 1.7 0 1 0 -3.4 0M428.8 713.8a1.7 1.7 0 1 0 3.4 0a1.7 1.7 0 1 0 -3.4 0M400.4 717.8a1.7 1.7 0 1 0 3.4 0a1.7 1.7 0 1 0 -3.4 0M398.3 721.7a1.7 1.7 0 1 0 3.4 0a1.7 1.7 0 1 0 -3.4 0M393.4 721.6a1.7 1.7 0 1 0 3.4 0a1.7 1.7 0 1 0 -3.4 0M412.8 711.9a1.7 1.7 0 1 0 3.4 0a1.7 1.7 0 1 0 -3.4 0M435.6 713.7a1.7 1.7 0 1 0 3.4 0a1.7 1.7 0 1 0 -3.4 0M443.3 720.1a1.7 1.7 0 1 0 3.4 0a1.7 1.7 0 1 0 -3.4 0M422.2 721.7a1.7 1.7 0 1 0 3.4 0a1.7 1.7 0 1 0 -3.4 0M383.9 707a1.7 1.7 0 1 0 3.4 0a1.7 1.7 0 1 0 -3.4 0M381.7 716a1.7 1.7 0 1 0 3.4 0a1.7 1.7 0 1 0 -3.4 0M399.6 714.5a1.7 1.7 0 1 0 3.4 0a1.7 1.7 0 1 0 -3.4 0M433.1 717.2a1.7 1.7 0 1 0 3.4 0a1.7 1.7 0 1 0 -3.4 0M413.1 720a1.7 1.7 0 1 0 3.4 0a1.7 1.7 0 1 0 -3.4 0M394.7 714.2a1.7 1.7 0 1 0 3.4 0a1.7 1.7 0 1 0 -3.4 0M441.7 719.1a1.7 1.7 0 1 0 3.4 0a1.7 1.7 0 1 0 -3.4 0M376.8 718a1.7 1.7 0 1 0 3.4 0a1.7 1.7 0 1 0 -3.4 0M387.9 723a1.7 1.7 0 1 0 3.4 0a1.7 1.7 0 1 0 -3.4 0M429 720.6a1.7 1.7 0 1 0 3.4 0a1.7 1.7 0 1 0 -3.4 0M436.4 719.8a1.7 1.7 0 1 0 3.4 0a1.7 1.7 0 1 0 -3.4 0M427.8 709.8a1.7 1.7 0 1 0 3.4 0a1.7 1.7 0 1 0 -3.4 0M436.1 707.9a1.7 1.7 0 1 0 3.4 0a1.7 1.7 0 1 0 -3.4 0M449.1 717.1a1.7 1.7 0 1 0 3.4 0a1.7 1.7 0 1 0 -3.4 0M453.2 722.6a1.7 1.7 0 1 0 3.4 0a1.7 1.7 0 1 0 -3.4 0M443.1 719.4a1.7 1.7 0 1 0 3.4 0a1.7 1.7 0 1 0 -3.4 0M421.5 719a1.7 1.7 0 1 0 3.4 0a1.7 1.7 0 1 0 -3.4 0M446.9 720a1.7 1.7 0 1 0 3.4 0a1.7 1.7 0 1 0 -3.4 0M432.6 717.2a1.7 1.7 0 1 0 3.4 0a1.7 1.7 0 1 0 -3.4 0M464.5 721a1.7 1.7 0 1 0 3.4 0a1.7 1.7 0 1 0 -3.4 0M458.7 694.2a1.7 1.7 0 1 0 3.4 0a1.7 1.7 0 1 0 -3.4 0M377.1 607.5a1.7 1.7 0 1 0 3.4 0a1.7 1.7 0 1 0 -3.4 0M382.6 610.4a1.7 1.7 0 1 0 3.4 0a1.7 1.7 0 1 0 -3.4 0M389.5 649.6a1.7 1.7 0 1 0 3.4 0a1.7 1.7 0 1 0 -3.4 0M387.3 661.9a1.7 1.7 0 1 0 3.4 0a1.7 1.7 0 1 0 -3.4 0M400.4 665a1.7 1.7 0 1 0 3.4 0a1.7 1.7 0 1 0 -3.4 0M417.8 665.2a1.7 1.7 0 1 0 3.4 0a1.7 1.7 0 1 0 -3.4 0M460.3 653.3a1.7 1.7 0 1 0 3.4 0a1.7 1.7 0 1 0 -3.4 0M464.3 660a1.7 1.7 0 1 0 3.4 0a1.7 1.7 0 1 0 -3.4 0M402.3 680.1a1.7 1.7 0 1 0 3.4 0a1.7 1.7 0 1 0 -3.4 0M406.8 676.8a1.7 1.7 0 1 0 3.4 0a1.7 1.7 0 1 0 -3.4 0M434.2 679.2a1.7 1.7 0 1 0 3.4 0a1.7 1.7 0 1 0 -3.4 0M415 681.6a1.7 1.7 0 1 0 3.4 0a1.7 1.7 0 1 0 -3.4 0M419.6 681.6a1.7 1.7 0 1 0 3.4 0a1.7 1.7 0 1 0 -3.4 0M426 683.4a1.7 1.7 0 1 0 3.4 0a1.7 1.7 0 1 0 -3.4 0M413.8 684.7a1.7 1.7 0 1 0 3.4 0a1.7 1.7 0 1 0 -3.4 0M385.3 686.9a1.7 1.7 0 1 0 3.4 0a1.7 1.7 0 1 0 -3.4 0M438.8 688.7a1.7 1.7 0 1 0 3.4 0a1.7 1.7 0 1 0 -3.4 0M445.2 687.4a1.7 1.7 0 1 0 3.4 0a1.7 1.7 0 1 0 -3.4 0M441.1 693.8a1.7 1.7 0 1 0 3.4 0a1.7 1.7 0 1 0 -3.4 0M453.4 698a1.7 1.7 0 1 0 3.4 0a1.7 1.7 0 1 0 -3.4 0M458.5 703.8a1.7 1.7 0 1 0 3.4 0a1.7 1.7 0 1 0 -3.4 0M368.9 701.1a1.7 1.7 0 1 0 3.4 0a1.7 1.7 0 1 0 -3.4 0M375.3 707.9a1.7 1.7 0 1 0 3.4 0a1.7 1.7 0 1 0 -3.4 0M381.3 704.8a1.7 1.7 0 1 0 3.4 0a1.7 1.7 0 1 0 -3.4 0M389.1 692.5a1.7 1.7 0 1 0 3.4 0a1.7 1.7 0 1 0 -3.4 0M392.8 692.5a1.7 1.7 0 1 0 3.4 0a1.7 1.7 0 1 0 -3.4 0M403.2 688.3a1.7 1.7 0 1 0 3.4 0a1.7 1.7 0 1 0 -3.4 0M427.8 695.6a1.7 1.7 0 1 0 3.4 0a1.7 1.7 0 1 0 -3.4 0M427.5 699.8a1.7 1.7 0 1 0 3.4 0a1.7 1.7 0 1 0 -3.4 0M389.5 697.5a1.7 1.7 0 1 0 3.4 0a1.7 1.7 0 1 0 -3.4 0M393.1 698a1.7 1.7 0 1 0 3.4 0a1.7 1.7 0 1 0 -3.4 0M418.1 665.6a1.7 1.7 0 1 0 3.4 0a1.7 1.7 0 1 0 -3.4 0" fill="none" stroke="#000" stroke-width="0.6"/>
<line x1="371" y1="713.9" x2="474.8" y2="717.2" stroke="#c8168c" stroke-width="1.9"/>
<text x="440.7" y="618.1" font-size="8.7"><tspan font-style="italic">r</tspan> = −0.05</text>
<text x="440.7" y="628.3" font-size="8.7"><tspan font-style="italic">P</tspan> = 0.19</text>
<text x="364" y="607.2" font-size="6.1" text-anchor="end" fill="#606060">120000</text>
<text x="364" y="636.4" font-size="6.1" text-anchor="end" fill="#606060">90000</text>
<text x="364" y="665.4" font-size="6.1" text-anchor="end" fill="#606060">60000</text>
<text x="364" y="694.9" font-size="6.1" text-anchor="end" fill="#606060">30000</text>
<text x="364" y="723.8" font-size="6.1" text-anchor="end" fill="#606060">0</text>
<text x="366.6" y="733.9" font-size="6.1" text-anchor="middle" fill="#606060">0</text>
<text x="389.5" y="733.9" font-size="6.1" text-anchor="middle" fill="#606060">50000</text>
<text x="412.4" y="733.9" font-size="6.1" text-anchor="middle" fill="#606060">100000</text>
<text x="435.3" y="733.9" font-size="6.1" text-anchor="middle" fill="#606060">150000</text>
<text x="458.2" y="733.9" font-size="6.1" text-anchor="middle" fill="#606060">200000</text>
<text x="343" y="667.2" font-size="9.2" text-anchor="middle" textLength="140.9" lengthAdjust="spacingAndGlyphs" transform="rotate(-90 343 667.2)">Cumulative abundance of Generalists</text>
<rect x="336.2" y="606.2" width="6.4" height="5.2" fill="#c4c4c4" fill-opacity="0.8"/>
<text x="422.6" y="744.2" font-size="9.2" text-anchor="middle" textLength="139.2" lengthAdjust="spacingAndGlyphs">Cumulative abundance of Specialists</text>
<rect x="525.1" y="601.4" width="114.3" height="125.6" fill="#e4e4e4"/>
<path d="M625.4 718.4a1.7 1.7 0 1 0 3.4 0a1.7 1.7 0 1 0 -3.4 0M596.6 720.9a1.7 1.7 0 1 0 3.4 0a1.7 1.7 0 1 0 -3.4 0M587.7 722.2a1.7 1.7 0 1 0 3.4 0a1.7 1.7 0 1 0 -3.4 0M624.9 718.7a1.7 1.7 0 1 0 3.4 0a1.7 1.7 0 1 0 -3.4 0M618.1 721.6a1.7 1.7 0 1 0 3.4 0a1.7 1.7 0 1 0 -3.4 0M601.7 715.5a1.7 1.7 0 1 0 3.4 0a1.7 1.7 0 1 0 -3.4 0M627.2 719a1.7 1.7 0 1 0 3.4 0a1.7 1.7 0 1 0 -3.4 0M629.5 719.2a1.7 1.7 0 1 0 3.4 0a1.7 1.7 0 1 0 -3.4 0M617.7 718.2a1.7 1.7 0 1 0 3.4 0a1.7 1.7 0 1 0 -3.4 0M601.7 711.3a1.7 1.7 0 1 0 3.4 0a1.7 1.7 0 1 0 -3.4 0M630.3 720.4a1.7 1.7 0 1 0 3.4 0a1.7 1.7 0 1 0 -3.4 0M612.5 717a1.7 1.7 0 1 0 3.4 0a1.7 1.7 0 1 0 -3.4 0M619.4 712.5a1.7 1.7 0 1 0 3.4 0a1.7 1.7 0 1 0 -3.4 0M625.2 717.6a1.7 1.7 0 1 0 3.4 0a1.7 1.7 0 1 0 -3.4 0M617.8 712a1.7 1.7 0 1 0 3.4 0a1.7 1.7 0 1 0 -3.4 0M611.3 719.7a1.7 1.7 0 1 0 3.4 0a1.7 1.7 0 1 0 -3.4 0M608.8 707.1a1.7 1.7 0 1 0 3.4 0a1.7 1.7 0 1 0 -3.4 0M614.1 721.6a1.7 1.7 0 1 0 3.4 0a1.7 1.7 0 1 0 -3.4 0M624.4 719.6a1.7 1.7 0 1 0 3.4 0a1.7 1.7 0 1 0 -3.4 0M629.9 721.3a1.7 1.7 0 1 0 3.4 0a1.7 1.7 0 1 0 -3.4 0M625.6 714.9a1.7 1.7 0 1 0 3.4 0a1.7 1.7 0 1 0 -3.4 0M607.4 721a1.7 1.7 0 1 0 3.4 0a1.7 1.7 0 1 0 -3.4 0M619.8 720.1a1.7 1.7 0 1 0 3.4 0a1.7 1.7 0 1 0 -3.4 0M611.3 716.5a1.7 1.7 0 1 0 3.4 0a1.7 1.7 0 1 0 -3.4 0M610.8 720.8a1.7 1.7 0 1 0 3.4 0a1.7 1.7 0 1 0 -3.4 0M611.9 710.6a1.7 1.7 0 1 0 3.4 0a1.7 1.7 0 1 0 -3.4 0M627.4 717.4a1.7 1.7 0 1 0 3.4 0a1.7 1.7 0 1 0 -3.4 0M628.2 720.8a1.7 1.7 0 1 0 3.4 0a1.7 1.7 0 1 0 -3.4 0M612.7 722.1a1.7 1.7 0 1 0 3.4 0a1.7 1.7 0 1 0 -3.4 0M629.7 718.7a1.7 1.7 0 1 0 3.4 0a1.7 1.7 0 1 0 -3.4 0M628.1 722.5a1.7 1.7 0 1 0 3.4 0a1.7 1.7 0 1 0 -3.4 0M618.4 722.2a1.7 1.7 0 1 0 3.4 0a1.7 1.7 0 1 0 -3.4 0M622.9 719a1.7 1.7 0 1 0 3.4 0a1.7 1.7 0 1 0 -3.4 0M628 716a1.7 1.7 0 1 0 3.4 0a1.7 1.7 0 1 0 -3.4 0M614.7 717a1.7 1.7 0 1 0 3.4 0a1.7 1.7 0 1 0 -3.4 0M608 718.7a1.7 1.7 0 1 0 3.4 0a1.7 1.7 0 1 0 -3.4 0M626 721.6a1.7 1.7 0 1 0 3.4 0a1.7 1.7 0 1 0 -3.4 0M621.8 715.6a1.7 1.7 0 1 0 3.4 0a1.7 1.7 0 1 0 -3.4 0M605.1 719.9a1.7 1.7 0 1 0 3.4 0a1.7 1.7 0 1 0 -3.4 0M591.1 722.4a1.7 1.7 0 1 0 3.4 0a1.7 1.7 0 1 0 -3.4 0M615.7 718.8a1.7 1.7 0 1 0 3.4 0a1.7 1.7 0 1 0 -3.4 0M601.3 713.4a1.7 1.7 0 1 0 3.4 0a1.7 1.7 0 1 0 -3.4 0M607.1 718.1a1.7 1.7 0 1 0 3.4 0a1.7 1.7 0 1 0 -3.4 0M617.3 718.2a1.7 1.7 0 1 0 3.4 0a1.7 1.7 0 1 0 -3.4 0M625.9 714.5a1.7 1.7 0 1 0 3.4 0a1.7 1.7 0 1 0 -3.4 0M621.1 721.1a1.7 1.7 0 1 0 3.4 0a1.7 1.7 0 1 0 -3.4 0M629.7 717.6a1.7 1.7 0 1 0 3.4 0a1.7 1.7 0 1 0 -3.4 0M628.4 722.4a1.7 1.7 0 1 0 3.4 0a1.7 1.7 0 1 0 -3.4 0M630.1 718.2a1.7 1.7 0 1 0 3.4 0a1.7 1.7 0 1 0 -3.4 0M622.1 713.6a1.7 1.7 0 1 0 3.4 0a1.7 1.7 0 1 0 -3.4 0M629.4 719.6a1.7 1.7 0 1 0 3.4 0a1.7 1.7 0 1 0 -3.4 0M619.2 713a1.7 1.7 0 1 0 3.4 0a1.7 1.7 0 1 0 -3.4 0M615.3 714.5a1.7 1.7 0 1 0 3.4 0a1.7 1.7 0 1 0 -3.4 0M628.9 721.6a1.7 1.7 0 1 0 3.4 0a1.7 1.7 0 1 0 -3.4 0M622.7 709.9a1.7 1.7 0 1 0 3.4 0a1.7 1.7 0 1 0 -3.4 0M624 717a1.7 1.7 0 1 0 3.4 0a1.7 1.7 0 1 0 -3.4 0M586 720.7a1.7 1.7 0 1 0 3.4 0a1.7 1.7 0 1 0 -3.4 0M618.9 711.1a1.7 1.7 0 1 0 3.4 0a1.7 1.7 0 1 0 -3.4 0M613.2 711.4a1.7 1.7 0 1 0 3.4 0a1.7 1.7 0 1 0 -3.4 0M627.3 718.6a1.7 1.7 0 1 0 3.4 0a1.7 1.7 0 1 0 -3.4 0M605.8 716.2a1.7 1.7 0 1 0 3.4 0a1.7 1.7 0 1 0 -3.4 0M600.9 715.5a1.7 1.7 0 1 0 3.4 0a1.7 1.7 0 1 0 -3.4 0M623.7 720.3a1.7 1.7 0 1 0 3.4 0a1.7 1.7 0 1 0 -3.4 0M628.7 718.7a1.7 1.7 0 1 0 3.4 0a1.7 1.7 0 1 0 -3.4 0M615 713.1a1.7 1.7 0 1 0 3.4 0a1.7 1.7 0 1 0 -3.4 0M624 716.8a1.7 1.7 0 1 0 3.4 0a1.7 1.7 0 1 0 -3.4 0M609.9 717.3a1.7 1.7 0 1 0 3.4 0a1.7 1.7 0 1 0 -3.4 0M608.4 722.3a1.7 1.7 0 1 0 3.4 0a1.7 1.7 0 1 0 -3.4 0M625.1 718.5a1.7 1.7 0 1 0 3.4 0a1.7 1.7 0 1 0 -3.4 0M623.3 714.2a1.7 1.7 0 1 0 3.4 0a1.7 1.7 0 1 0 -3.4 0M630 718a1.7 1.7 0 1 0 3.4 0a1.7 1.7 0 1 0 -3.4 0M613.6 719a1.7 1.7 0 1 0 3.4 0a1.7 1.7 0 1 0 -3.4 0M629.8 721.9a1.7 1.7 0 1 0 3.4 0a1.7 1.7 0 1 0 -3.4 0M608 720.2a1.7 1.7 0 1 0 3.4 0a1.7 1.7 0 1 0 -3.4 0M597.6 711.2a1.7 1.7 0 1 0 3.4 0a1.7 1.7 0 1 0 -3.4 0M626.3 719.4a1.7 1.7 0 1 0 3.4 0a1.7 1.7 0 1 0 -3.4 0M621.2 717.3a1.7 1.7 0 1 0 3.4 0a1.7 1.7 0 1 0 -3.4 0M592.5 718.9a1.7 1.7 0 1 0 3.4 0a1.7 1.7 0 1 0 -3.4 0M627.6 721.4a1.7 1.7 0 1 0 3.4 0a1.7 1.7 0 1 0 -3.4 0M608 719.5a1.7 1.7 0 1 0 3.4 0a1.7 1.7 0 1 0 -3.4 0M608.6 722a1.7 1.7 0 1 0 3.4 0a1.7 1.7 0 1 0 -3.4 0M622 714.7a1.7 1.7 0 1 0 3.4 0a1.7 1.7 0 1 0 -3.4 0M622.7 720a1.7 1.7 0 1 0 3.4 0a1.7 1.7 0 1 0 -3.4 0M613.7 716.3a1.7 1.7 0 1 0 3.4 0a1.7 1.7 0 1 0 -3.4 0M592.7 720.9a1.7 1.7 0 1 0 3.4 0a1.7 1.7 0 1 0 -3.4 0M612.5 715.5a1.7 1.7 0 1 0 3.4 0a1.7 1.7 0 1 0 -3.4 0M622.4 722.3a1.7 1.7 0 1 0 3.4 0a1.7 1.7 0 1 0 -3.4 0M614.1 718.5a1.7 1.7 0 1 0 3.4 0a1.7 1.7 0 1 0 -3.4 0M630.1 721.1a1.7 1.7 0 1 0 3.4 0a1.7 1.7 0 1 0 -3.4 0M627.7 720.7a1.7 1.7 0 1 0 3.4 0a1.7 1.7 0 1 0 -3.4 0M603.2 721.6a1.7 1.7 0 1 0 3.4 0a1.7 1.7 0 1 0 -3.4 0M602.1 721.4a1.7 1.7 0 1 0 3.4 0a1.7 1.7 0 1 0 -3.4 0M629.4 717.1a1.7 1.7 0 1 0 3.4 0a1.7 1.7 0 1 0 -3.4 0M618.6 716.3a1.7 1.7 0 1 0 3.4 0a1.7 1.7 0 1 0 -3.4 0M609.4 722.2a1.7 1.7 0 1 0 3.4 0a1.7 1.7 0 1 0 -3.4 0M616.7 720.3a1.7 1.7 0 1 0 3.4 0a1.7 1.7 0 1 0 -3.4 0M593.9 720.2a1.7 1.7 0 1 0 3.4 0a1.7 1.7 0 1 0 -3.4 0M629.7 719.5a1.7 1.7 0 1 0 3.4 0a1.7 1.7 0 1 0 -3.4 0M612.4 722.3a1.7 1.7 0 1 0 3.4 0a1.7 1.7 0 1 0 -3.4 0M623 708.7a1.7 1.7 0 1 0 3.4 0a1.7 1.7 0 1 0 -3.4 0M631.5 721.6a1.7 1.7 0 1 0 3.4 0a1.7 1.7 0 1 0 -3.4 0M600.6 709.5a1.7 1.7 0 1 0 3.4 0a1.7 1.7 0 1 0 -3.4 0M620.2 715a1.7 1.7 0 1 0 3.4 0a1.7 1.7 0 1 0 -3.4 0M619.7 718.3a1.7 1.7 0 1 0 3.4 0a1.7 1.7 0 1 0 -3.4 0M615.3 714.9a1.7 1.7 0 1 0 3.4 0a1.7 1.7 0 1 0 -3.4 0M619.1 718.9a1.7 1.7 0 1 0 3.4 0a1.7 1.7 0 1 0 -3.4 0M613.7 722.2a1.7 1.7 0 1 0 3.4 0a1.7 1.7 0 1 0 -3.4 0M611.9 721.8a1.7 1.7 0 1 0 3.4 0a1.7 1.7 0 1 0 -3.4 0M593.4 714.1a1.7 1.7 0 1 0 3.4 0a1.7 1.7 0 1 0 -3.4 0M603.6 720.5a1.7 1.7 0 1 0 3.4 0a1.7 1.7 0 1 0 -3.4 0M617.1 717.6a1.7 1.7 0 1 0 3.4 0a1.7 1.7 0 1 0 -3.4 0M627.6 720.6a1.7 1.7 0 1 0 3.4 0a1.7 1.7 0 1 0 -3.4 0M609.3 717.8a1.7 1.7 0 1 0 3.4 0a1.7 1.7 0 1 0 -3.4 0M620.1 715.9a1.7 1.7 0 1 0 3.4 0a1.7 1.7 0 1 0 -3.4 0M624.5 720.2a1.7 1.7 0 1 0 3.4 0a1.7 1.7 0 1 0 -3.4 0M618.5 716.4a1.7 1.7 0 1 0 3.4 0a1.7 1.7 0 1 0 -3.4 0M621.3 710.9a1.7 1.7 0 1 0 3.4 0a1.7 1.7 0 1 0 -3.4 0M617.8 721.1a1.7 1.7 0 1 0 3.4 0a1.7 1.7 0 1 0 -3.4 0M596.8 716.7a1.7 1.7 0 1 0 3.4 0a1.7 1.7 0 1 0 -3.4 0M617.9 719.5a1.7 1.7 0 1 0 3.4 0a1.7 1.7 0 1 0 -3.4 0M623.5 718a1.7 1.7 0 1 0 3.4 0a1.7 1.7 0 1 0 -3.4 0M629.3 721.8a1.7 1.7 0 1 0 3.4 0a1.7 1.7 0 1 0 -3.4 0M621.4 716.8a1.7 1.7 0 1 0 3.4 0a1.7 1.7 0 1 0 -3.4 0M612.4 713.8a1.7 1.7 0 1 0 3.4 0a1.7 1.7 0 1 0 -3.4 0M607.3 715.2a1.7 1.7 0 1 0 3.4 0a1.7 1.7 0 1 0 -3.4 0M611.6 704a1.7 1.7 0 1 0 3.4 0a1.7 1.7 0 1 0 -3.4 0M614 720.4a1.7 1.7 0 1 0 3.4 0a1.7 1.7 0 1 0 -3.4 0M630.1 721.3a1.7 1.7 0 1 0 3.4 0a1.7 1.7 0 1 0 -3.4 0M616.6 702.7a1.7 1.7 0 1 0 3.4 0a1.7 1.7 0 1 0 -3.4 0M617 721.4a1.7 1.7 0 1 0 3.4 0a1.7 1.7 0 1 0 -3.4 0M604.5 722.5a1.7 1.7 0 1 0 3.4 0a1.7 1.7 0 1 0 -3.4 0M609.7 720.7a1.7 1.7 0 1 0 3.4 0a1.7 1.7 0 1 0 -3.4 0M628.5 717.5a1.7 1.7 0 1 0 3.4 0a1.7 1.7 0 1 0 -3.4 0M630 718.2a1.7 1.7 0 1 0 3.4 0a1.7 1.7 0 1 0 -3.4 0M631.2 721.9a1.7 1.7 0 1 0 3.4 0a1.7 1.7 0 1 0 -3.4 0M626 717.5a1.7 1.7 0 1 0 3.4 0a1.7 1.7 0 1 0 -3.4 0M626.5 720.6a1.7 1.7 0 1 0 3.4 0a1.7 1.7 0 1 0 -3.4 0M626.5 721a1.7 1.7 0 1 0 3.4 0a1.7 1.7 0 1 0 -3.4 0M620.2 720.5a1.7 1.7 0 1 0 3.4 0a1.7 1.7 0 1 0 -3.4 0M628.2 720.8a1.7 1.7 0 1 0 3.4 0a1.7 1.7 0 1 0 -3.4 0M628.1 718.6a1.7 1.7 0 1 0 3.4 0a1.7 1.7 0 1 0 -3.4 0M617.8 719.6a1.7 1.7 0 1 0 3.4 0a1.7 1.7 0 1 0 -3.4 0M599.9 714.9a1.7 1.7 0 1 0 3.4 0a1.7 1.7 0 1 0 -3.4 0M610.4 720.7a1.7 1.7 0 1 0 3.4 0a1.7 1.7 0 1 0 -3.4 0M599.4 716.3a1.7 1.7 0 1 0 3.4 0a1.7 1.7 0 1 0 -3.4 0M626.9 719.3a1.7 1.7 0 1 0 3.4 0a1.7 1.7 0 1 0 -3.4 0M618.4 721.9a1.7 1.7 0 1 0 3.4 0a1.7 1.7 0 1 0 -3.4 0M620.5 720.5a1.7 1.7 0 1 0 3.4 0a1.7 1.7 0 1 0 -3.4 0M619.7 721.2a1.7 1.7 0 1 0 3.4 0a1.7 1.7 0 1 0 -3.4 0M624 722.2a1.7 1.7 0 1 0 3.4 0a1.7 1.7 0 1 0 -3.4 0M627.8 715.6a1.7 1.7 0 1 0 3.4 0a1.7 1.7 0 1 0 -3.4 0M607.4 721.8a1.7 1.7 0 1 0 3.4 0a1.7 1.7 0 1 0 -3.4 0M608.5 716.6a1.7 1.7 0 1 0 3.4 0a1.7 1.7 0 1 0 -3.4 0M622.1 719.4a1.7 1.7 0 1 0 3.4 0a1.7 1.7 0 1 0 -3.4 0M609.3 719.5a1.7 1.7 0 1 0 3.4 0a1.7 1.7 0 1 0 -3.4 0M626.9 716.6a1.7 1.7 0 1 0 3.4 0a1.7 1.7 0 1 0 -3.4 0M608.7 717.6a1.7 1.7 0 1 0 3.4 0a1.7 1.7 0 1 0 -3.4 0M604.1 720.3a1.7 1.7 0 1 0 3.4 0a1.7 1.7 0 1 0 -3.4 0M623.8 715.4a1.7 1.7 0 1 0 3.4 0a1.7 1.7 0 1 0 -3.4 0M621.6 717.3a1.7 1.7 0 1 0 3.4 0a1.7 1.7 0 1 0 -3.4 0M629.1 721.4a1.7 1.7 0 1 0 3.4 0a1.7 1.7 0 1 0 -3.4 0M624.3 715a1.7 1.7 0 1 0 3.4 0a1.7 1.7 0 1 0 -3.4 0M618.1 714.2a1.7 1.7 0 1 0 3.4 0a1.7 1.7 0 1 0 -3.4 0M621.8 712.9a1.7 1.7 0 1 0 3.4 0a1.7 1.7 0 1 0 -3.4 0M624.5 720.2a1.7 1.7 0 1 0 3.4 0a1.7 1.7 0 1 0 -3.4 0M619 721.1a1.7 1.7 0 1 0 3.4 0a1.7 1.7 0 1 0 -3.4 0M612.1 722.2a1.7 1.7 0 1 0 3.4 0a1.7 1.7 0 1 0 -3.4 0M613.5 721.4a1.7 1.7 0 1 0 3.4 0a1.7 1.7 0 1 0 -3.4 0M611.4 720.6a1.7 1.7 0 1 0 3.4 0a1.7 1.7 0 1 0 -3.4 0M607.6 721.8a1.7 1.7 0 1 0 3.4 0a1.7 1.7 0 1 0 -3.4 0M621.4 709a1.7 1.7 0 1 0 3.4 0a1.7 1.7 0 1 0 -3.4 0M613.1 709.3a1.7 1.7 0 1 0 3.4 0a1.7 1.7 0 1 0 -3.4 0M619.3 715.5a1.7 1.7 0 1 0 3.4 0a1.7 1.7 0 1 0 -3.4 0M611.8 720.9a1.7 1.7 0 1 0 3.4 0a1.7 1.7 0 1 0 -3.4 0M618.2 711a1.7 1.7 0 1 0 3.4 0a1.7 1.7 0 1 0 -3.4 0M596.6 708.4a1.7 1.7 0 1 0 3.4 0a1.7 1.7 0 1 0 -3.4 0M622.6 716.6a1.7 1.7 0 1 0 3.4 0a1.7 1.7 0 1 0 -3.4 0M620.9 719a1.7 1.7 0 1 0 3.4 0a1.7 1.7 0 1 0 -3.4 0M627.9 721.1a1.7 1.7 0 1 0 3.4 0a1.7 1.7 0 1 0 -3.4 0M626.8 720.3a1.7 1.7 0 1 0 3.4 0a1.7 1.7 0 1 0 -3.4 0M608.8 713.3a1.7 1.7 0 1 0 3.4 0a1.7 1.7 0 1 0 -3.4 0M625.8 712a1.7 1.7 0 1 0 3.4 0a1.7 1.7 0 1 0 -3.4 0M623.8 714.7a1.7 1.7 0 1 0 3.4 0a1.7 1.7 0 1 0 -3.4 0M606.3 718.4a1.7 1.7 0 1 0 3.4 0a1.7 1.7 0 1 0 -3.4 0M629.5 718.2a1.7 1.7 0 1 0 3.4 0a1.7 1.7 0 1 0 -3.4 0M625.4 721.5a1.7 1.7 0 1 0 3.4 0a1.7 1.7 0 1 0 -3.4 0M619.3 713.8a1.7 1.7 0 1 0 3.4 0a1.7 1.7 0 1 0 -3.4 0M610.5 719.2a1.7 1.7 0 1 0 3.4 0a1.7 1.7 0 1 0 -3.4 0M624.6 719.7a1.7 1.7 0 1 0 3.4 0a1.7 1.7 0 1 0 -3.4 0M620.9 719.7a1.7 1.7 0 1 0 3.4 0a1.7 1.7 0 1 0 -3.4 0M625.2 722.2a1.7 1.7 0 1 0 3.4 0a1.7 1.7 0 1 0 -3.4 0M620.7 717.1a1.7 1.7 0 1 0 3.4 0a1.7 1.7 0 1 0 -3.4 0M605.1 716.5a1.7 1.7 0 1 0 3.4 0a1.7 1.7 0 1 0 -3.4 0M628.1 719.5a1.7 1.7 0 1 0 3.4 0a1.7 1.7 0 1 0 -3.4 0M617.9 722.4a1.7 1.7 0 1 0 3.4 0a1.7 1.7 0 1 0 -3.4 0M613 720.7a1.7 1.7 0 1 0 3.4 0a1.7 1.7 0 1 0 -3.4 0M626.2 721.2a1.7 1.7 0 1 0 3.4 0a1.7 1.7 0 1 0 -3.4 0M596.8 722.3a1.7 1.7 0 1 0 3.4 0a1.7 1.7 0 1 0 -3.4 0M608 717.8a1.7 1.7 0 1 0 3.4 0a1.7 1.7 0 1 0 -3.4 0M614.3 717.1a1.7 1.7 0 1 0 3.4 0a1.7 1.7 0 1 0 -3.4 0M627.4 714.9a1.7 1.7 0 1 0 3.4 0a1.7 1.7 0 1 0 -3.4 0M587.2 721a1.7 1.7 0 1 0 3.4 0a1.7 1.7 0 1 0 -3.4 0M628.3 716.6a1.7 1.7 0 1 0 3.4 0a1.7 1.7 0 1 0 -3.4 0M618.2 717.7a1.7 1.7 0 1 0 3.4 0a1.7 1.7 0 1 0 -3.4 0M604 716a1.7 1.7 0 1 0 3.4 0a1.7 1.7 0 1 0 -3.4 0M604.9 716.2a1.7 1.7 0 1 0 3.4 0a1.7 1.7 0 1 0 -3.4 0M617 720.9a1.7 1.7 0 1 0 3.4 0a1.7 1.7 0 1 0 -3.4 0M616.8 720.8a1.7 1.7 0 1 0 3.4 0a1.7 1.7 0 1 0 -3.4 0M618.5 713.2a1.7 1.7 0 1 0 3.4 0a1.7 1.7 0 1 0 -3.4 0M599.5 719.8a1.7 1.7 0 1 0 3.4 0a1.7 1.7 0 1 0 -3.4 0M603.6 719.7a1.7 1.7 0 1 0 3.4 0a1.7 1.7 0 1 0 -3.4 0M624.9 711.3a1.7 1.7 0 1 0 3.4 0a1.7 1.7 0 1 0 -3.4 0M625.2 721a1.7 1.7 0 1 0 3.4 0a1.7 1.7 0 1 0 -3.4 0M622.3 714.8a1.7 1.7 0 1 0 3.4 0a1.7 1.7 0 1 0 -3.4 0M603.4 721.5a1.7 1.7 0 1 0 3.4 0a1.7 1.7 0 1 0 -3.4 0M625.5 716.7a1.7 1.7 0 1 0 3.4 0a1.7 1.7 0 1 0 -3.4 0M607.8 712.3a1.7 1.7 0 1 0 3.4 0a1.7 1.7 0 1 0 -3.4 0M596.9 721.7a1.7 1.7 0 1 0 3.4 0a1.7 1.7 0 1 0 -3.4 0M613.6 721.4a1.7 1.7 0 1 0 3.4 0a1.7 1.7 0 1 0 -3.4 0M618 719.5a1.7 1.7 0 1 0 3.4 0a1.7 1.7 0 1 0 -3.4 0M617.3 719.8a1.7 1.7 0 1 0 3.4 0a1.7 1.7 0 1 0 -3.4 0M606.3 713.1a1.7 1.7 0 1 0 3.4 0a1.7 1.7 0 1 0 -3.4 0M594.5 721.2a1.7 1.7 0 1 0 3.4 0a1.7 1.7 0 1 0 -3.4 0M630 722.4a1.7 1.7 0 1 0 3.4 0a1.7 1.7 0 1 0 -3.4 0M596.8 713.8a1.7 1.7 0 1 0 3.4 0a1.7 1.7 0 1 0 -3.4 0M626.3 716.8a1.7 1.7 0 1 0 3.4 0a1.7 1.7 0 1 0 -3.4 0M612 711.5a1.7 1.7 0 1 0 3.4 0a1.7 1.7 0 1 0 -3.4 0M611.3 719.1a1.7 1.7 0 1 0 3.4 0a1.7 1.7 0 1 0 -3.4 0M602.5 714.6a1.7 1.7 0 1 0 3.4 0a1.7 1.7 0 1 0 -3.4 0M610.9 721.6a1.7 1.7 0 1 0 3.4 0a1.7 1.7 0 1 0 -3.4 0M617.8 720.6a1.7 1.7 0 1 0 3.4 0a1.7 1.7 0 1 0 -3.4 0M608.2 720.7a1.7 1.7 0 1 0 3.4 0a1.7 1.7 0 1 0 -3.4 0M624.9 722.4a1.7 1.7 0 1 0 3.4 0a1.7 1.7 0 1 0 -3.4 0M629 721a1.7 1.7 0 1 0 3.4 0a1.7 1.7 0 1 0 -3.4 0M620.8 721.7a1.7 1.7 0 1 0 3.4 0a1.7 1.7 0 1 0 -3.4 0M622.9 719.6a1.7 1.7 0 1 0 3.4 0a1.7 1.7 0 1 0 -3.4 0M622.9 719.1a1.7 1.7 0 1 0 3.4 0a1.7 1.7 0 1 0 -3.4 0M630.8 719.5a1.7 1.7 0 1 0 3.4 0a1.7 1.7 0 1 0 -3.4 0M622.3 717a1.7 1.7 0 1 0 3.4 0a1.7 1.7 0 1 0 -3.4 0M625.4 711.6a1.7 1.7 0 1 0 3.4 0a1.7 1.7 0 1 0 -3.4 0M620.7 718.1a1.7 1.7 0 1 0 3.4 0a1.7 1.7 0 1 0 -3.4 0M621.6 722.5a1.7 1.7 0 1 0 3.4 0a1.7 1.7 0 1 0 -3.4 0M614 719.6a1.7 1.7 0 1 0 3.4 0a1.7 1.7 0 1 0 -3.4 0M611.5 719.1a1.7 1.7 0 1 0 3.4 0a1.7 1.7 0 1 0 -3.4 0M624.1 720.5a1.7 1.7 0 1 0 3.4 0a1.7 1.7 0 1 0 -3.4 0M616.7 715.5a1.7 1.7 0 1 0 3.4 0a1.7 1.7 0 1 0 -3.4 0M618.1 710.7a1.7 1.7 0 1 0 3.4 0a1.7 1.7 0 1 0 -3.4 0M627.6 715.7a1.7 1.7 0 1 0 3.4 0a1.7 1.7 0 1 0 -3.4 0M629 717.5a1.7 1.7 0 1 0 3.4 0a1.7 1.7 0 1 0 -3.4 0M610.5 721.8a1.7 1.7 0 1 0 3.4 0a1.7 1.7 0 1 0 -3.4 0M613.8 720.7a1.7 1.7 0 1 0 3.4 0a1.7 1.7 0 1 0 -3.4 0M629.9 717.6a1.7 1.7 0 1 0 3.4 0a1.7 1.7 0 1 0 -3.4 0M608.9 718.6a1.7 1.7 0 1 0 3.4 0a1.7 1.7 0 1 0 -3.4 0M622.2 719.3a1.7 1.7 0 1 0 3.4 0a1.7 1.7 0 1 0 -3.4 0M620.6 716.7a1.7 1.7 0 1 0 3.4 0a1.7 1.7 0 1 0 -3.4 0M620.8 720.8a1.7 1.7 0 1 0 3.4 0a1.7 1.7 0 1 0 -3.4 0M614.9 710.6a1.7 1.7 0 1 0 3.4 0a1.7 1.7 0 1 0 -3.4 0M616.5 722.1a1.7 1.7 0 1 0 3.4 0a1.7 1.7 0 1 0 -3.4 0M616.5 717a1.7 1.7 0 1 0 3.4 0a1.7 1.7 0 1 0 -3.4 0M623 717.2a1.7 1.7 0 1 0 3.4 0a1.7 1.7 0 1 0 -3.4 0M620.3 715.5a1.7 1.7 0 1 0 3.4 0a1.7 1.7 0 1 0 -3.4 0M626.2 714a1.7 1.7 0 1 0 3.4 0a1.7 1.7 0 1 0 -3.4 0M619.2 714.2a1.7 1.7 0 1 0 3.4 0a1.7 1.7 0 1 0 -3.4 0M623.6 711.3a1.7 1.7 0 1 0 3.4 0a1.7 1.7 0 1 0 -3.4 0M631 719.2a1.7 1.7 0 1 0 3.4 0a1.7 1.7 0 1 0 -3.4 0M608.7 712.1a1.7 1.7 0 1 0 3.4 0a1.7 1.7 0 1 0 -3.4 0M626.7 721.7a1.7 1.7 0 1 0 3.4 0a1.7 1.7 0 1 0 -3.4 0M627.5 721.6a1.7 1.7 0 1 0 3.4 0a1.7 1.7 0 1 0 -3.4 0M617.7 721.1a1.7 1.7 0 1 0 3.4 0a1.7 1.7 0 1 0 -3.4 0M596.1 719.2a1.7 1.7 0 1 0 3.4 0a1.7 1.7 0 1 0 -3.4 0M617.9 720.1a1.7 1.7 0 1 0 3.4 0a1.7 1.7 0 1 0 -3.4 0M602.4 718.6a1.7 1.7 0 1 0 3.4 0a1.7 1.7 0 1 0 -3.4 0M610.7 718.1a1.7 1.7 0 1 0 3.4 0a1.7 1.7 0 1 0 -3.4 0M626.6 721.9a1.7 1.7 0 1 0 3.4 0a1.7 1.7 0 1 0 -3.4 0M611.6 718.9a1.7 1.7 0 1 0 3.4 0a1.7 1.7 0 1 0 -3.4 0M609.7 720.7a1.7 1.7 0 1 0 3.4 0a1.7 1.7 0 1 0 -3.4 0M622.7 721.2a1.7 1.7 0 1 0 3.4 0a1.7 1.7 0 1 0 -3.4 0M606.9 709.3a1.7 1.7 0 1 0 3.4 0a1.7 1.7 0 1 0 -3.4 0M627.6 718.5a1.7 1.7 0 1 0 3.4 0a1.7 1.7 0 1 0 -3.4 0M622.6 715.8a1.7 1.7 0 1 0 3.4 0a1.7 1.7 0 1 0 -3.4 0M619.6 719.3a1.7 1.7 0 1 0 3.4 0a1.7 1.7 0 1 0 -3.4 0M594.2 722a1.7 1.7 0 1 0 3.4 0a1.7 1.7 0 1 0 -3.4 0M626.6 716.6a1.7 1.7 0 1 0 3.4 0a1.7 1.7 0 1 0 -3.4 0M613.4 721.3a1.7 1.7 0 1 0 3.4 0a1.7 1.7 0 1 0 -3.4 0M610.4 717.1a1.7 1.7 0 1 0 3.4 0a1.7 1.7 0 1 0 -3.4 0M617.7 714.9a1.7 1.7 0 1 0 3.4 0a1.7 1.7 0 1 0 -3.4 0M624.5 716.5a1.7 1.7 0 1 0 3.4 0a1.7 1.7 0 1 0 -3.4 0M625.6 720.4a1.7 1.7 0 1 0 3.4 0a1.7 1.7 0 1 0 -3.4 0M628.8 717.2a1.7 1.7 0 1 0 3.4 0a1.7 1.7 0 1 0 -3.4 0M621.8 712.6a1.7 1.7 0 1 0 3.4 0a1.7 1.7 0 1 0 -3.4 0M623 721.5a1.7 1.7 0 1 0 3.4 0a1.7 1.7 0 1 0 -3.4 0M628.7 720.7a1.7 1.7 0 1 0 3.4 0a1.7 1.7 0 1 0 -3.4 0M613.4 722.3a1.7 1.7 0 1 0 3.4 0a1.7 1.7 0 1 0 -3.4 0M625.6 718.3a1.7 1.7 0 1 0 3.4 0a1.7 1.7 0 1 0 -3.4 0M630.8 718.9a1.7 1.7 0 1 0 3.4 0a1.7 1.7 0 1 0 -3.4 0M612.6 716.1a1.7 1.7 0 1 0 3.4 0a1.7 1.7 0 1 0 -3.4 0M618.1 720.7a1.7 1.7 0 1 0 3.4 0a1.7 1.7 0 1 0 -3.4 0M622.9 718.8a1.7 1.7 0 1 0 3.4 0a1.7 1.7 0 1 0 -3.4 0M631 718.5a1.7 1.7 0 1 0 3.4 0a1.7 1.7 0 1 0 -3.4 0M599.9 721.8a1.7 1.7 0 1 0 3.4 0a1.7 1.7 0 1 0 -3.4 0M631.7 722.1a1.7 1.7 0 1 0 3.4 0a1.7 1.7 0 1 0 -3.4 0M630 720.8a1.7 1.7 0 1 0 3.4 0a1.7 1.7 0 1 0 -3.4 0M622.6 715.8a1.7 1.7 0 1 0 3.4 0a1.7 1.7 0 1 0 -3.4 0M613.2 718a1.7 1.7 0 1 0 3.4 0a1.7 1.7 0 1 0 -3.4 0M604.2 721.3a1.7 1.7 0 1 0 3.4 0a1.7 1.7 0 1 0 -3.4 0M629.8 721a1.7 1.7 0 1 0 3.4 0a1.7 1.7 0 1 0 -3.4 0M629.2 719.1a1.7 1.7 0 1 0 3.4 0a1.7 1.7 0 1 0 -3.4 0M614.9 703.9a1.7 1.7 0 1 0 3.4 0a1.7 1.7 0 1 0 -3.4 0M621.2 722.2a1.7 1.7 0 1 0 3.4 0a1.7 1.7 0 1 0 -3.4 0M630.7 721.8a1.7 1.7 0 1 0 3.4 0a1.7 1.7 0 1 0 -3.4 0M621.1 718.6a1.7 1.7 0 1 0 3.4 0a1.7 1.7 0 1 0 -3.4 0M604.7 719.8a1.7 1.7 0 1 0 3.4 0a1.7 1.7 0 1 0 -3.4 0M625.1 716.6a1.7 1.7 0 1 0 3.4 0a1.7 1.7 0 1 0 -3.4 0M622.8 721.4a1.7 1.7 0 1 0 3.4 0a1.7 1.7 0 1 0 -3.4 0M622 721a1.7 1.7 0 1 0 3.4 0a1.7 1.7 0 1 0 -3.4 0M630.9 720.8a1.7 1.7 0 1 0 3.4 0a1.7 1.7 0 1 0 -3.4 0M587 719.7a1.7 1.7 0 1 0 3.4 0a1.7 1.7 0 1 0 -3.4 0M614.4 721.3a1.7 1.7 0 1 0 3.4 0a1.7 1.7 0 1 0 -3.4 0M601.9 718.4a1.7 1.7 0 1 0 3.4 0a1.7 1.7 0 1 0 -3.4 0M600 714.7a1.7 1.7 0 1 0 3.4 0a1.7 1.7 0 1 0 -3.4 0M619.1 721.1a1.7 1.7 0 1 0 3.4 0a1.7 1.7 0 1 0 -3.4 0M594.9 714.8a1.7 1.7 0 1 0 3.4 0a1.7 1.7 0 1 0 -3.4 0M614.7 703.5a1.7 1.7 0 1 0 3.4 0a1.7 1.7 0 1 0 -3.4 0M606.9 722.5a1.7 1.7 0 1 0 3.4 0a1.7 1.7 0 1 0 -3.4 0M618.2 718.8a1.7 1.7 0 1 0 3.4 0a1.7 1.7 0 1 0 -3.4 0M625.9 718.8a1.7 1.7 0 1 0 3.4 0a1.7 1.7 0 1 0 -3.4 0M615.5 721.3a1.7 1.7 0 1 0 3.4 0a1.7 1.7 0 1 0 -3.4 0M605.4 717.9a1.7 1.7 0 1 0 3.4 0a1.7 1.7 0 1 0 -3.4 0M622.2 713.2a1.7 1.7 0 1 0 3.4 0a1.7 1.7 0 1 0 -3.4 0M625.9 717.1a1.7 1.7 0 1 0 3.4 0a1.7 1.7 0 1 0 -3.4 0M609 718.2a1.7 1.7 0 1 0 3.4 0a1.7 1.7 0 1 0 -3.4 0M608 721a1.7 1.7 0 1 0 3.4 0a1.7 1.7 0 1 0 -3.4 0M618.8 720.8a1.7 1.7 0 1 0 3.4 0a1.7 1.7 0 1 0 -3.4 0M583.4 720.3a1.7 1.7 0 1 0 3.4 0a1.7 1.7 0 1 0 -3.4 0M605.3 720a1.7 1.7 0 1 0 3.4 0a1.7 1.7 0 1 0 -3.4 0M587.8 713.6a1.7 1.7 0 1 0 3.4 0a1.7 1.7 0 1 0 -3.4 0M601.4 722.1a1.7 1.7 0 1 0 3.4 0a1.7 1.7 0 1 0 -3.4 0M580.8 719.3a1.7 1.7 0 1 0 3.4 0a1.7 1.7 0 1 0 -3.4 0M589.2 721.5a1.7 1.7 0 1 0 3.4 0a1.7 1.7 0 1 0 -3.4 0M629.2 718.9a1.7 1.7 0 1 0 3.4 0a1.7 1.7 0 1 0 -3.4 0M585 721a1.7 1.7 0 1 0 3.4 0a1.7 1.7 0 1 0 -3.4 0M595 718.1a1.7 1.7 0 1 0 3.4 0a1.7 1.7 0 1 0 -3.4 0M592.9 718.7a1.7 1.7 0 1 0 3.4 0a1.7 1.7 0 1 0 -3.4 0M618.2 719.6a1.7 1.7 0 1 0 3.4 0a1.7 1.7 0 1 0 -3.4 0M597 716.9a1.7 1.7 0 1 0 3.4 0a1.7 1.7 0 1 0 -3.4 0M596.6 721.9a1.7 1.7 0 1 0 3.4 0a1.7 1.7 0 1 0 -3.4 0M596.8 722.2a1.7 1.7 0 1 0 3.4 0a1.7 1.7 0 1 0 -3.4 0M602.7 720.7a1.7 1.7 0 1 0 3.4 0a1.7 1.7 0 1 0 -3.4 0M606.2 722a1.7 1.7 0 1 0 3.4 0a1.7 1.7 0 1 0 -3.4 0M578 721a1.7 1.7 0 1 0 3.4 0a1.7 1.7 0 1 0 -3.4 0M627.1 718.4a1.7 1.7 0 1 0 3.4 0a1.7 1.7 0 1 0 -3.4 0M625.4 717.6a1.7 1.7 0 1 0 3.4 0a1.7 1.7 0 1 0 -3.4 0M592 719.4a1.7 1.7 0 1 0 3.4 0a1.7 1.7 0 1 0 -3.4 0M593.2 716.2a1.7 1.7 0 1 0 3.4 0a1.7 1.7 0 1 0 -3.4 0M604.4 717.2a1.7 1.7 0 1 0 3.4 0a1.7 1.7 0 1 0 -3.4 0M601 722.5a1.7 1.7 0 1 0 3.4 0a1.7 1.7 0 1 0 -3.4 0M588 719.3a1.7 1.7 0 1 0 3.4 0a1.7 1.7 0 1 0 -3.4 0M626.6 713.9a1.7 1.7 0 1 0 3.4 0a1.7 1.7 0 1 0 -3.4 0M593.7 721a1.7 1.7 0 1 0 3.4 0a1.7 1.7 0 1 0 -3.4 0M595.6 719.2a1.7 1.7 0 1 0 3.4 0a1.7 1.7 0 1 0 -3.4 0M597.8 721.8a1.7 1.7 0 1 0 3.4 0a1.7 1.7 0 1 0 -3.4 0M596.6 722.3a1.7 1.7 0 1 0 3.4 0a1.7 1.7 0 1 0 -3.4 0M607 719.7a1.7 1.7 0 1 0 3.4 0a1.7 1.7 0 1 0 -3.4 0M616.7 720.2a1.7 1.7 0 1 0 3.4 0a1.7 1.7 0 1 0 -3.4 0M600.3 717.3a1.7 1.7 0 1 0 3.4 0a1.7 1.7 0 1 0 -3.4 0M587.9 715.4a1.7 1.7 0 1 0 3.4 0a1.7 1.7 0 1 0 -3.4 0M615.7 720.3a1.7 1.7 0 1 0 3.4 0a1.7 1.7 0 1 0 -3.4 0M618.6 721.5a1.7 1.7 0 1 0 3.4 0a1.7 1.7 0 1 0 -3.4 0M619.9 717.4a1.7 1.7 0 1 0 3.4 0a1.7 1.7 0 1 0 -3.4 0M584.1 715.2a1.7 1.7 0 1 0 3.4 0a1.7 1.7 0 1 0 -3.4 0M605.4 717.7a1.7 1.7 0 1 0 3.4 0a1.7 1.7 0 1 0 -3.4 0M625.4 721.9a1.7 1.7 0 1 0 3.4 0a1.7 1.7 0 1 0 -3.4 0M598.8 719.7a1.7 1.7 0 1 0 3.4 0a1.7 1.7 0 1 0 -3.4 0M616.1 718.8a1.7 1.7 0 1 0 3.4 0a1.7 1.7 0 1 0 -3.4 0M617.4 721.2a1.7 1.7 0 1 0 3.4 0a1.7 1.7 0 1 0 -3.4 0M588.3 715.9a1.7 1.7 0 1 0 3.4 0a1.7 1.7 0 1 0 -3.4 0M612.9 720.7a1.7 1.7 0 1 0 3.4 0a1.7 1.7 0 1 0 -3.4 0M586.3 716.1a1.7 1.7 0 1 0 3.4 0a1.7 1.7 0 1 0 -3.4 0M607.1 711.9a1.7 1.7 0 1 0 3.4 0a1.7 1.7 0 1 0 -3.4 0M612.6 721.5a1.7 1.7 0 1 0 3.4 0a1.7 1.7 0 1 0 -3.4 0M590.1 719.7a1.7 1.7 0 1 0 3.4 0a1.7 1.7 0 1 0 -3.4 0M607.5 720.4a1.7 1.7 0 1 0 3.4 0a1.7 1.7 0 1 0 -3.4 0M620.4 715.4a1.7 1.7 0 1 0 3.4 0a1.7 1.7 0 1 0 -3.4 0M613.2 713.7a1.7 1.7 0 1 0 3.4 0a1.7 1.7 0 1 0 -3.4 0M606.4 720.2a1.7 1.7 0 1 0 3.4 0a1.7 1.7 0 1 0 -3.4 0M591.6 716.9a1.7 1.7 0 1 0 3.4 0a1.7 1.7 0 1 0 -3.4 0M627.3 720.9a1.7 1.7 0 1 0 3.4 0a1.7 1.7 0 1 0 -3.4 0M597.5 705.8a1.7 1.7 0 1 0 3.4 0a1.7 1.7 0 1 0 -3.4 0M597.7 692.9a1.7 1.7 0 1 0 3.4 0a1.7 1.7 0 1 0 -3.4 0M620.4 721a1.7 1.7 0 1 0 3.4 0a1.7 1.7 0 1 0 -3.4 0M590.8 711.9a1.7 1.7 0 1 0 3.4 0a1.7 1.7 0 1 0 -3.4 0M617.3 716.4a1.7 1.7 0 1 0 3.4 0a1.7 1.7 0 1 0 -3.4 0M595.9 692.6a1.7 1.7 0 1 0 3.4 0a1.7 1.7 0 1 0 -3.4 0M618.6 708.4a1.7 1.7 0 1 0 3.4 0a1.7 1.7 0 1 0 -3.4 0M596.8 699a1.7 1.7 0 1 0 3.4 0a1.7 1.7 0 1 0 -3.4 0M596.8 689.4a1.7 1.7 0 1 0 3.4 0a1.7 1.7 0 1 0 -3.4 0M596.3 686.7a1.7 1.7 0 1 0 3.4 0a1.7 1.7 0 1 0 -3.4 0M594.2 695a1.7 1.7 0 1 0 3.4 0a1.7 1.7 0 1 0 -3.4 0M603.2 690.8a1.7 1.7 0 1 0 3.4 0a1.7 1.7 0 1 0 -3.4 0M597.1 695.9a1.7 1.7 0 1 0 3.4 0a1.7 1.7 0 1 0 -3.4 0M593 689.7a1.7 1.7 0 1 0 3.4 0a1.7 1.7 0 1 0 -3.4 0M592 710a1.7 1.7 0 1 0 3.4 0a1.7 1.7 0 1 0 -3.4 0M594.9 697.6a1.7 1.7 0 1 0 3.4 0a1.7 1.7 0 1 0 -3.4 0M595.5 707.5a1.7 1.7 0 1 0 3.4 0a1.7 1.7 0 1 0 -3.4 0M627.3 720.2a1.7 1.7 0 1 0 3.4 0a1.7 1.7 0 1 0 -3.4 0M593.6 685a1.7 1.7 0 1 0 3.4 0a1.7 1.7 0 1 0 -3.4 0M596.6 716.9a1.7 1.7 0 1 0 3.4 0a1.7 1.7 0 1 0 -3.4 0M593.5 711.1a1.7 1.7 0 1 0 3.4 0a1.7 1.7 0 1 0 -3.4 0M619.6 719.4a1.7 1.7 0 1 0 3.4 0a1.7 1.7 0 1 0 -3.4 0M606.5 703.3a1.7 1.7 0 1 0 3.4 0a1.7 1.7 0 1 0 -3.4 0M603.7 709.6a1.7 1.7 0 1 0 3.4 0a1.7 1.7 0 1 0 -3.4 0M608.7 713.4a1.7 1.7 0 1 0 3.4 0a1.7 1.7 0 1 0 -3.4 0M606.9 717a1.7 1.7 0 1 0 3.4 0a1.7 1.7 0 1 0 -3.4 0M613.1 704.5a1.7 1.7 0 1 0 3.4 0a1.7 1.7 0 1 0 -3.4 0M606.3 697.2a1.7 1.7 0 1 0 3.4 0a1.7 1.7 0 1 0 -3.4 0M625.1 713.5a1.7 1.7 0 1 0 3.4 0a1.7 1.7 0 1 0 -3.4 0M605.6 703a1.7 1.7 0 1 0 3.4 0a1.7 1.7 0 1 0 -3.4 0M613.3 700.9a1.7 1.7 0 1 0 3.4 0a1.7 1.7 0 1 0 -3.4 0M615.8 704.2a1.7 1.7 0 1 0 3.4 0a1.7 1.7 0 1 0 -3.4 0M600.8 695.1a1.7 1.7 0 1 0 3.4 0a1.7 1.7 0 1 0 -3.4 0M593.1 721.9a1.7 1.7 0 1 0 3.4 0a1.7 1.7 0 1 0 -3.4 0M592.6 717.5a1.7 1.7 0 1 0 3.4 0a1.7 1.7 0 1 0 -3.4 0M616.4 720.6a1.7 1.7 0 1 0 3.4 0a1.7 1.7 0 1 0 -3.4 0M612.8 711a1.7 1.7 0 1 0 3.4 0a1.7 1.7 0 1 0 -3.4 0M607.2 708a1.7 1.7 0 1 0 3.4 0a1.7 1.7 0 1 0 -3.4 0M602.8 691.8a1.7 1.7 0 1 0 3.4 0a1.7 1.7 0 1 0 -3.4 0M612.5 716.9a1.7 1.7 0 1 0 3.4 0a1.7 1.7 0 1 0 -3.4 0M627.4 721.4a1.7 1.7 0 1 0 3.4 0a1.7 1.7 0 1 0 -3.4 0M613.3 703.2a1.7 1.7 0 1 0 3.4 0a1.7 1.7 0 1 0 -3.4 0M611.5 700.4a1.7 1.7 0 1 0 3.4 0a1.7 1.7 0 1 0 -3.4 0M623 719.2a1.7 1.7 0 1 0 3.4 0a1.7 1.7 0 1 0 -3.4 0M604.6 698.7a1.7 1.7 0 1 0 3.4 0a1.7 1.7 0 1 0 -3.4 0M624.1 716.2a1.7 1.7 0 1 0 3.4 0a1.7 1.7 0 1 0 -3.4 0M593.3 706.7a1.7 1.7 0 1 0 3.4 0a1.7 1.7 0 1 0 -3.4 0M606.3 693.5a1.7 1.7 0 1 0 3.4 0a1.7 1.7 0 1 0 -3.4 0M622.8 712.7a1.7 1.7 0 1 0 3.4 0a1.7 1.7 0 1 0 -3.4 0M597.6 701.6a1.7 1.7 0 1 0 3.4 0a1.7 1.7 0 1 0 -3.4 0M599.8 695a1.7 1.7 0 1 0 3.4 0a1.7 1.7 0 1 0 -3.4 0M607.4 719.8a1.7 1.7 0 1 0 3.4 0a1.7 1.7 0 1 0 -3.4 0M612.7 708.2a1.7 1.7 0 1 0 3.4 0a1.7 1.7 0 1 0 -3.4 0M621.9 721.1a1.7 1.7 0 1 0 3.4 0a1.7 1.7 0 1 0 -3.4 0M625.1 713.3a1.7 1.7 0 1 0 3.4 0a1.7 1.7 0 1 0 -3.4 0M620.9 718.8a1.7 1.7 0 1 0 3.4 0a1.7 1.7 0 1 0 -3.4 0M617.4 716.9a1.7 1.7 0 1 0 3.4 0a1.7 1.7 0 1 0 -3.4 0M615.3 705.3a1.7 1.7 0 1 0 3.4 0a1.7 1.7 0 1 0 -3.4 0M625.7 720.3a1.7 1.7 0 1 0 3.4 0a1.7 1.7 0 1 0 -3.4 0M599.4 702.9a1.7 1.7 0 1 0 3.4 0a1.7 1.7 0 1 0 -3.4 0M597.4 688.9a1.7 1.7 0 1 0 3.4 0a1.7 1.7 0 1 0 -3.4 0M614.1 702.5a1.7 1.7 0 1 0 3.4 0a1.7 1.7 0 1 0 -3.4 0M590.6 704.4a1.7 1.7 0 1 0 3.4 0a1.7 1.7 0 1 0 -3.4 0M613.7 719.9a1.7 1.7 0 1 0 3.4 0a1.7 1.7 0 1 0 -3.4 0M591.3 690.3a1.7 1.7 0 1 0 3.4 0a1.7 1.7 0 1 0 -3.4 0M594.9 718.1a1.7 1.7 0 1 0 3.4 0a1.7 1.7 0 1 0 -3.4 0M620.9 710a1.7 1.7 0 1 0 3.4 0a1.7 1.7 0 1 0 -3.4 0M608.2 712.7a1.7 1.7 0 1 0 3.4 0a1.7 1.7 0 1 0 -3.4 0M554.1 606.8a1.7 1.7 0 1 0 3.4 0a1.7 1.7 0 1 0 -3.4 0M554.1 609.3a1.7 1.7 0 1 0 3.4 0a1.7 1.7 0 1 0 -3.4 0M567.2 652.7a1.7 1.7 0 1 0 3.4 0a1.7 1.7 0 1 0 -3.4 0M576.1 649.1a1.7 1.7 0 1 0 3.4 0a1.7 1.7 0 1 0 -3.4 0M589.3 659.1a1.7 1.7 0 1 0 3.4 0a1.7 1.7 0 1 0 -3.4 0M586 664.6a1.7 1.7 0 1 0 3.4 0a1.7 1.7 0 1 0 -3.4 0M589.6 664.6a1.7 1.7 0 1 0 3.4 0a1.7 1.7 0 1 0 -3.4 0M589.6 661.5a1.7 1.7 0 1 0 3.4 0a1.7 1.7 0 1 0 -3.4 0M528.5 698.4a1.7 1.7 0 1 0 3.4 0a1.7 1.7 0 1 0 -3.4 0M541.8 692.5a1.7 1.7 0 1 0 3.4 0a1.7 1.7 0 1 0 -3.4 0M538.2 719a1.7 1.7 0 1 0 3.4 0a1.7 1.7 0 1 0 -3.4 0M559 702.9a1.7 1.7 0 1 0 3.4 0a1.7 1.7 0 1 0 -3.4 0M560.4 719.9a1.7 1.7 0 1 0 3.4 0a1.7 1.7 0 1 0 -3.4 0M563.5 718.8a1.7 1.7 0 1 0 3.4 0a1.7 1.7 0 1 0 -3.4 0M568.1 720.6a1.7 1.7 0 1 0 3.4 0a1.7 1.7 0 1 0 -3.4 0M569.6 686.5a1.7 1.7 0 1 0 3.4 0a1.7 1.7 0 1 0 -3.4 0M574.7 692a1.7 1.7 0 1 0 3.4 0a1.7 1.7 0 1 0 -3.4 0M575 697.5a1.7 1.7 0 1 0 3.4 0a1.7 1.7 0 1 0 -3.4 0M575 708.8a1.7 1.7 0 1 0 3.4 0a1.7 1.7 0 1 0 -3.4 0M570.5 713a1.7 1.7 0 1 0 3.4 0a1.7 1.7 0 1 0 -3.4 0M587.3 678.3a1.7 1.7 0 1 0 3.4 0a1.7 1.7 0 1 0 -3.4 0M603 676.5a1.7 1.7 0 1 0 3.4 0a1.7 1.7 0 1 0 -3.4 0M587.8 692.3a1.7 1.7 0 1 0 3.4 0a1.7 1.7 0 1 0 -3.4 0M589.6 703.5a1.7 1.7 0 1 0 3.4 0a1.7 1.7 0 1 0 -3.4 0M598.3 682a1.7 1.7 0 1 0 3.4 0a1.7 1.7 0 1 0 -3.4 0M595.3 686a1.7 1.7 0 1 0 3.4 0a1.7 1.7 0 1 0 -3.4 0M601.3 688a1.7 1.7 0 1 0 3.4 0a1.7 1.7 0 1 0 -3.4 0M592.3 690a1.7 1.7 0 1 0 3.4 0a1.7 1.7 0 1 0 -3.4 0M596.3 694a1.7 1.7 0 1 0 3.4 0a1.7 1.7 0 1 0 -3.4 0M604.3 684a1.7 1.7 0 1 0 3.4 0a1.7 1.7 0 1 0 -3.4 0M590.3 696a1.7 1.7 0 1 0 3.4 0a1.7 1.7 0 1 0 -3.4 0M594.3 700a1.7 1.7 0 1 0 3.4 0a1.7 1.7 0 1 0 -3.4 0M586.3 706a1.7 1.7 0 1 0 3.4 0a1.7 1.7 0 1 0 -3.4 0M582.3 712a1.7 1.7 0 1 0 3.4 0a1.7 1.7 0 1 0 -3.4 0M578.3 716a1.7 1.7 0 1 0 3.4 0a1.7 1.7 0 1 0 -3.4 0M584.3 718a1.7 1.7 0 1 0 3.4 0a1.7 1.7 0 1 0 -3.4 0M588.3 720a1.7 1.7 0 1 0 3.4 0a1.7 1.7 0 1 0 -3.4 0M576.3 721a1.7 1.7 0 1 0 3.4 0a1.7 1.7 0 1 0 -3.4 0M581.3 721a1.7 1.7 0 1 0 3.4 0a1.7 1.7 0 1 0 -3.4 0" fill="none" stroke="#000" stroke-width="0.6"/>
<line x1="530.5" y1="685.7" x2="634" y2="721.6" stroke="#c8168c" stroke-width="1.9"/>
<text x="589.4" y="618.1" font-size="8.7"><tspan font-style="italic">r</tspan> = −0.45</text>
<text x="589.4" y="628.3" font-size="8.7"><tspan font-style="italic">P</tspan> = 6.6e−32</text>
<text x="523.8" y="611.1" font-size="6.1" text-anchor="end" fill="#606060">120000</text>
<text x="523.8" y="638.5" font-size="6.1" text-anchor="end" fill="#606060">90000</text>
<text x="523.8" y="665.9" font-size="6.1" text-anchor="end" fill="#606060">60000</text>
<text x="523.8" y="693.1" font-size="6.1" text-anchor="end" fill="#606060">30000</text>
<text x="523.8" y="721" font-size="6.1" text-anchor="end" fill="#606060">0</text>
<text x="547.4" y="733.2" font-size="6.2" text-anchor="middle" fill="#606060">250000</text>
<text x="574.8" y="733.2" font-size="6.2" text-anchor="middle" fill="#606060">300000</text>
<text x="602.3" y="733.2" font-size="6.2" text-anchor="middle" fill="#606060">350000</text>
<text x="629.7" y="733.2" font-size="6.2" text-anchor="middle" fill="#606060">400000</text>
<text x="503" y="667.2" font-size="9.2" text-anchor="middle" textLength="140.9" lengthAdjust="spacingAndGlyphs" transform="rotate(-90 503 667.2)">Cumulative abundance of Generalists</text>
<rect x="495.9" y="606.4" width="6.6" height="4.8" fill="#c4c4c4" fill-opacity="0.8"/>
<text x="584.7" y="743.2" font-size="9.2" text-anchor="middle" textLength="139.6" lengthAdjust="spacingAndGlyphs">Cumulative abundance of Dominants</text>
<text x="584.6" y="752.6" font-size="9.2" text-anchor="middle" textLength="57.3" lengthAdjust="spacingAndGlyphs">and Specialists</text>
<path d="M154.9 71.6Q140.1 60.9 134.8 43.4M154.9 71.6Q129.9 58.5 117.8 33M154.9 71.6Q127 58.6 113.1 31.3M154.9 71.6Q122.7 57.9 103.4 28.7M154.9 71.6Q118 61 98.5 28M154.9 71.6Q113.3 62.2 88.5 27.6M154.9 71.6Q111.5 62.5 83.5 28M154.9 71.6Q110.9 60.5 78.6 28.7M154.9 71.6Q105.8 64.4 68.9 31.3M154.9 71.6Q98.3 74.6 55.4 37.6M152.9 67Q148.7 63.6 148 58.3M152.9 67Q140.1 58.1 134.8 43.4M152.9 67Q138 56.9 130.8 40.4M152.9 67Q135.2 56.4 126.6 37.6M152.9 67Q129.2 56.4 117.8 33M152.9 67Q127.4 55.4 113.1 31.3M152.9 67Q119.1 56.7 98.5 28M152.9 67Q112.8 60.3 88.5 27.6M152.9 67Q110.9 60.5 83.5 28M152.9 67Q106.3 63.4 73.7 29.8M152.9 67Q104.7 63.8 68.9 31.3M152.9 67Q103.9 62.4 64.2 33M152.9 67Q99.9 69.8 59.7 35.2M152.9 67Q98.6 70.6 55.4 37.6M150.6 62.5Q148.7 60.8 148 58.3M150.6 62.5Q141.6 56.9 138.5 46.8M150.6 62.5Q133.7 54.9 126.6 37.6M150.6 62.5Q132.1 53.4 122.3 35.2M150.6 62.5Q123 54.6 108.3 29.8M150.6 62.5Q119.1 53.5 98.5 28M150.6 62.5Q117.1 53.2 93.5 27.6M150.6 62.5Q113.2 56.4 88.5 27.6M150.6 62.5Q109.9 55.7 78.6 28.7M150.6 62.5Q103 60.9 64.2 33M148 58.3Q146 56.6 145.1 54.2M148 58.3Q141.3 54.1 138.5 46.8M148 58.3Q136.1 52.5 130.8 40.4M148 58.3Q126.1 50.5 113.1 31.3M148 58.3Q122.7 51.7 108.3 29.8M148 58.3Q120.8 50.9 103.4 28.7M148 58.3Q102 59.4 64.2 33M148 58.3Q100.2 61 59.7 35.2M145.1 54.2Q143 52.7 141.9 50.4M145.1 54.2Q140.4 51.7 138.5 46.8M145.1 54.2Q135.3 50 130.8 40.4M145.1 54.2Q122.2 48.8 108.3 29.8M145.1 54.2Q120 48.5 103.4 28.7M145.1 54.2Q111.5 52.3 88.5 27.6M145.1 54.2Q105.2 54.4 73.7 29.8M145.1 54.2Q102.9 56.6 68.9 31.3M152.9 67Q144.5 60.6 141.9 50.4M141.9 50.4Q139.5 49.2 138.5 46.8M141.9 50.4Q121.2 46.6 108.3 29.8M141.9 50.4Q106.2 51.5 78.6 28.7M141.9 50.4Q100 55.6 64.2 33M152.9 67Q142.7 59 138.5 46.8M138.5 46.8Q136 45.8 134.8 43.4M138.5 46.8Q133.5 45 130.8 40.4M138.5 46.8Q128.4 43.7 122.3 35.2M138.5 46.8Q126.2 42.8 117.8 33M138.5 46.8Q123.3 43 113.1 31.3M138.5 46.8Q120.9 42.8 108.3 29.8M138.5 46.8Q117.9 43.6 103.4 28.7M138.5 46.8Q115.1 44.5 98.5 28M138.5 46.8Q109.7 47.1 88.5 27.6M138.5 46.8Q107.9 46.4 83.5 28M138.5 46.8Q105.6 47.6 78.6 28.7M138.5 46.8Q102.8 50.8 73.7 29.8M138.5 46.8Q101.5 48.6 68.9 31.3M138.5 46.8Q97.1 54.6 59.7 35.2M138.5 46.8Q95.3 56.8 55.4 37.6M145.1 54.2Q137.9 50.8 134.8 43.4M134.8 43.4Q132.3 42.5 130.8 40.4M134.8 43.4Q116.2 42.2 103.4 28.7M134.8 43.4Q114.4 40.9 98.5 28M134.8 43.4Q106.4 44.9 83.5 28M134.8 43.4Q102 46.7 73.7 29.8M134.8 43.4Q99.9 47.6 68.9 31.3M134.8 43.4Q95.6 54.4 59.7 35.2M150.6 62.5Q136.2 55.5 130.8 40.4M130.8 40.4Q128.3 39.6 126.6 37.6M130.8 40.4Q120.4 38.8 113.1 31.3M130.8 40.4Q117.7 39.1 108.3 29.8M130.8 40.4Q115.3 38.8 103.4 28.7M130.8 40.4Q107.5 41.3 88.5 27.6M130.8 40.4Q104.7 43.6 83.5 28M130.8 40.4Q100.6 43.9 73.7 29.8M130.8 40.4Q98 48.4 68.9 31.3M130.8 40.4Q96.2 48.5 64.2 33M145.1 54.2Q132.8 49.4 126.6 37.6M141.9 50.4Q132.1 46.6 126.6 37.6M138.5 46.8Q131.1 44 126.6 37.6M126.6 37.6Q121.3 37 117.8 33M126.6 37.6Q116.3 36.5 108.3 29.8M126.6 37.6Q103.3 41 83.5 28M126.6 37.6Q101 41.6 78.6 28.7M126.6 37.6Q91 49.2 55.4 37.6M152.9 67Q132.6 55.9 122.3 35.2M145.1 54.2Q130 49.1 122.3 35.2M134.8 43.4Q127.2 41.2 122.3 35.2M122.3 35.2Q119.7 34.9 117.8 33M122.3 35.2Q111.9 34.7 103.4 28.7M122.3 35.2Q104.2 36.5 88.5 27.6M122.3 35.2Q94.9 43.1 68.9 31.3M150.6 62.5Q128.5 54.1 117.8 33M148 58.3Q128.4 51.1 117.8 33M134.8 43.4Q124.6 40.9 117.8 33M117.8 33Q115.1 33 113.1 31.3M117.8 33Q112.6 32.8 108.3 29.8M117.8 33Q107.4 33.3 98.5 28M117.8 33Q104.9 33.8 93.5 27.6M117.8 33Q102.2 35.5 88.5 27.6M117.8 33Q95.2 38.7 73.7 29.8M117.8 33Q93 40.8 68.9 31.3M117.8 33Q87.2 44.1 55.4 37.6M145.1 54.2Q125 48.5 113.1 31.3M113.1 31.3Q110.4 31.4 108.3 29.8M113.1 31.3Q107.8 31.8 103.4 28.7M113.1 31.3Q102.7 32.4 93.5 27.6M113.1 31.3Q100.1 34 88.5 27.6M113.1 31.3Q97.7 35.1 83.5 28M113.1 31.3Q93.1 37.7 73.7 29.8M113.1 31.3Q91 37.6 68.9 31.3M113.1 31.3Q87.2 43.7 59.7 35.2M154.9 71.6Q123.7 59.6 108.3 29.8M152.9 67Q123.7 56.7 108.3 29.8M134.8 43.4Q119.5 40.5 108.3 29.8M108.3 29.8Q103.1 30.3 98.5 28M108.3 29.8Q93.2 34.6 78.6 28.7M108.3 29.8Q91 35.1 73.7 29.8M108.3 29.8Q88.9 37.5 68.9 31.3M108.3 29.8Q86.8 38.6 64.2 33M108.3 29.8Q85 41.8 59.7 35.2M150.6 62.5Q120.5 54.8 103.4 28.7M103.4 28.7Q100.8 29.1 98.5 28M103.4 28.7Q98.3 29.7 93.5 27.6M103.4 28.7Q95.7 31.1 88.5 27.6M103.4 28.7Q88.7 34.3 73.7 29.8M103.4 28.7Q82.7 39.3 59.7 35.2M103.4 28.7Q80.7 40.2 55.4 37.6M148 58.3Q118.4 51.1 98.5 28M145.1 54.2Q116.7 50.2 98.5 28M141.9 50.4Q116.8 45.8 98.5 28M130.8 40.4Q112.8 38.9 98.5 28M126.6 37.6Q111.1 37.1 98.5 28M113.1 31.3Q105.1 32.5 98.5 28M98.5 28Q95.9 28.8 93.5 27.6M98.5 28Q84.3 35 68.9 31.3M98.5 28Q82.3 36.8 64.2 33M98.5 28Q78.4 39.3 55.4 37.6M154.9 71.6Q117.5 58.9 93.5 27.6M152.9 67Q116.8 57 93.5 27.6M145.1 54.2Q115.1 49 93.5 27.6M138.5 46.8Q112.4 45.6 93.5 27.6M130.8 40.4Q110.2 39.7 93.5 27.6M93.5 27.6Q91 28.7 88.5 27.6M93.5 27.6Q88.6 29.2 83.5 28M93.5 27.6Q83.9 31.5 73.7 29.8M93.5 27.6Q75.9 38.1 55.4 37.6M148 58.3Q112.2 54.7 88.5 27.6M126.6 37.6Q106 38.4 88.5 27.6M108.3 29.8Q98 32 88.5 27.6M98.5 28Q93.4 29.4 88.5 27.6M88.5 27.6Q86.1 28.6 83.5 28M88.5 27.6Q83.7 29.6 78.6 28.7M88.5 27.6Q79.3 32.8 68.9 31.3M88.5 27.6Q77.3 34.5 64.2 33M88.5 27.6Q75.3 35.9 59.7 35.2M88.5 27.6Q73.7 38.4 55.4 37.6M141.9 50.4Q109.7 47.2 83.5 28M103.4 28.7Q93.3 31.9 83.5 28M83.5 28Q78.9 30.6 73.7 29.8M83.5 28Q74.6 33.3 64.2 33M83.5 28Q72.6 35 59.7 35.2M148 58.3Q109 53.6 78.6 28.7M145.1 54.2Q108 51.6 78.6 28.7M134.8 43.4Q104.2 45.4 78.6 28.7M122.3 35.2Q99.5 38.1 78.6 28.7M113.1 31.3Q95.5 35.2 78.6 28.7M103.4 28.7Q91 32.7 78.6 28.7M98.5 28Q88.6 31.7 78.6 28.7M93.5 27.6Q86.2 31 78.6 28.7M78.6 28.7Q68.7 37.6 55.4 37.6M126.6 37.6Q98.7 43.8 73.7 29.8M122.3 35.2Q97.2 39.5 73.7 29.8M98.5 28Q86.4 32.6 73.7 29.8M88.5 27.6Q81.5 31.4 73.7 29.8M78.6 28.7Q76.3 30 73.7 29.8M73.7 29.8Q67.5 34.4 59.7 35.2M73.7 29.8Q65.8 36.7 55.4 37.6M126.6 37.6Q96.7 44 68.9 31.3M103.4 28.7Q86.6 35.5 68.9 31.3M93.5 27.6Q81.8 33.8 68.9 31.3M73.7 29.8Q71.6 31.4 68.9 31.3M68.9 31.3Q66.9 33 64.2 33M68.9 31.3Q65.1 35.1 59.7 35.2M154.9 71.6Q103.5 66.6 64.2 33M134.8 43.4Q97.8 49.9 64.2 33M93.5 27.6Q79.9 35.9 64.2 33M78.6 28.7Q72 32.9 64.2 33M64.2 33Q62.4 34.9 59.7 35.2M150.6 62.5Q101.1 62.5 59.7 35.2M145.1 54.2Q99.6 57.5 59.7 35.2M130.8 40.4Q94.3 51.1 59.7 35.2M126.6 37.6Q92.8 47.1 59.7 35.2M122.3 35.2Q91 47.9 59.7 35.2M78.6 28.7Q70.1 34.7 59.7 35.2M148 58.3Q98.7 61.6 55.4 37.6M145.1 54.2Q97.2 62.5 55.4 37.6M134.8 43.4Q94 55.6 55.4 37.6M130.8 40.4Q92.6 52.8 55.4 37.6M83.5 28Q70.8 36.7 55.4 37.6M59.7 35.2Q57.9 37.1 55.4 37.6M154.9 71.6Q149 118.2 122.3 156.8M152.9 67Q150.5 116.3 122.3 156.8M145.1 54.2Q152.1 109.6 122.3 156.8M117.8 33Q139.3 94.2 122.3 156.8M103.4 28.7Q128.8 90.4 122.3 156.8M98.5 28Q128.6 89.1 122.3 156.8M78.6 28.7Q122.9 85.1 122.3 156.8M73.7 29.8Q118.7 85.4 122.3 156.8M68.9 31.3Q116.3 85.2 122.3 156.8M145.1 54.2Q154.2 103 134.8 148.6M138.5 46.8Q154.8 98.3 134.8 148.6M130.8 40.4Q145.8 94 134.8 148.6M126.6 37.6Q145.2 92 134.8 148.6M103.4 28.7Q134.3 84.7 134.8 148.6M83.5 28Q130 79.4 134.8 148.6M78.6 28.7Q123.2 80.9 134.8 148.6M73.7 29.8Q122.9 79.6 134.8 148.6M64.2 33Q117.8 79.7 134.8 148.6M55.4 37.6Q108.8 83.3 134.8 148.6M130.8 40.4Q150.2 89.5 141.9 141.6M117.8 33Q143.1 84.4 141.9 141.6M113.1 31.3Q144.5 82 141.9 141.6M103.4 28.7Q137.5 80.1 141.9 141.6M78.6 28.7Q127.1 75.7 141.9 141.6M64.2 33Q121.7 74.1 141.9 141.6M154.9 71.6Q162.6 98.6 152.9 125M148 58.3Q159.3 91 152.9 125M145.1 54.2Q157.9 88.6 152.9 125M141.9 50.4Q159.2 86 152.9 125M138.5 46.8Q158.7 83.5 152.9 125M98.5 28Q137.9 69.7 152.9 125M93.5 27.6Q136.1 68.5 152.9 125M88.5 27.6Q135.1 66.8 152.9 125M73.7 29.8Q127 66 152.9 125M64.2 33Q120.3 67.8 152.9 125M55.4 37.6Q118.2 65.6 152.9 125M148 58.3Q161.8 85.6 156.5 115.7M141.9 50.4Q157.5 81.2 156.5 115.7M134.8 43.4Q157.5 76 156.5 115.7M126.6 37.6Q152.3 72.6 156.5 115.7M103.4 28.7Q142.2 64.8 156.5 115.7M88.5 27.6Q135.3 61.8 156.5 115.7M83.5 28Q134 60.2 156.5 115.7M78.6 28.7Q129.4 61.6 156.5 115.7M73.7 29.8Q127.9 60.5 156.5 115.7M59.7 35.2Q122.3 58.4 156.5 115.7M55.4 37.6Q117 62.4 156.5 115.7M152.9 67Q162.6 88.1 157.8 110.9M150.6 62.5Q160.1 85.8 157.8 110.9M148 58.3Q160.7 83.1 157.8 110.9M145.1 54.2Q160 80.6 157.8 110.9M141.9 50.4Q157.9 78.5 157.8 110.9M126.6 37.6Q152.2 70 157.8 110.9M108.3 29.8Q144.7 63.2 157.8 110.9M73.7 29.8Q125.6 60.1 157.8 110.9M152.9 67Q162.8 85.4 158.7 106M145.1 54.2Q160.5 77.8 158.7 106M130.8 40.4Q154.3 69.1 158.7 106M126.6 37.6Q152.8 67 158.7 106M122.3 35.2Q151.8 64.7 158.7 106M117.8 33Q147.7 64.2 158.7 106M108.3 29.8Q144.4 60.7 158.7 106M93.5 27.6Q135.6 58.9 158.7 106M73.7 29.8Q126.4 56.5 158.7 106M59.7 35.2Q118.5 57.6 158.7 106M122.3 156.8Q127.2 150.6 134.8 148.6M122.3 156.8Q129.6 146 141.9 141.6M122.3 156.8Q132.8 136.3 152.9 125M122.3 156.8Q134 126.8 158.7 106M134.8 148.6Q140.5 134.2 152.9 125M134.8 148.6Q140.5 128.8 156.5 115.7M134.8 148.6Q140.1 123.6 158.7 106M134.8 148.6Q137.3 144 141.9 141.6M141.9 141.6Q145.4 126.5 156.5 115.7M141.9 141.6Q144.4 121 158.7 106M141.9 141.6Q144.9 131.7 152.9 125M152.9 125Q152.9 114.6 158.7 106M122.3 156.8Q133.5 131.4 156.5 115.7M152.9 125Q153.6 119.9 156.5 115.7M156.5 115.7Q156.4 113.1 157.8 110.9M134.8 148.6Q140.5 126.2 157.8 110.9M157.8 110.9Q157.6 108.3 158.7 106M150.6 62.5Q89.7 88.8 23.3 86M130.8 40.4Q82.2 75.3 23.3 86M55.4 37.6Q45.9 66.2 23.3 86M68.9 31.3Q52.7 64.1 23.3 86M98.5 28Q66.9 64.8 23.3 86M23.3 86Q85.4 105.9 134.8 148.6M83.5 28Q59.7 63.5 23.3 86M23.3 86Q88 102.3 141.9 141.6M64.2 33Q49.5 64 23.3 86M122.3 35.2Q78.1 70.9 23.3 86M23.3 86Q93.9 80.5 157.8 110.9M154.9 71.6Q91 95.9 23.3 86M134.8 43.4Q84.3 78.6 23.3 86M64.2 33Q50.2 71.1 22.8 101M108.3 29.8Q74.8 76.6 22.8 101M150.6 62.5Q91 95.9 22.8 101M122.3 35.2Q80.5 80.1 22.8 101M55.4 37.6Q46.8 73.3 22.8 101M22.8 101Q87.9 105.1 141.9 141.6M22.8 101Q80.5 114.8 122.3 156.8M73.7 29.8Q57.4 72 22.8 101M134.8 43.4Q85 84.4 22.8 101M130.8 40.4Q83.8 83.2 22.8 101M113.1 31.3Q75.6 76.1 22.8 101M93.5 27.6Q66.8 72.6 22.8 101M138.5 46.8Q86.6 86.6 22.8 101M68.9 160.7Q106.3 123.3 157.8 110.9M68.9 160.7Q103.3 143 141.9 141.6M154.9 71.6Q120.5 124.5 68.9 160.7M148 58.3Q120.5 118.7 68.9 160.7M88.5 27.6Q95.1 96.6 68.9 160.7M68.9 160.7Q95.1 152.4 122.3 156.8M108.3 29.8Q107.2 100.9 68.9 160.7M117.8 33Q106.9 102.1 68.9 160.7M68.9 160.7Q107.9 128.8 156.5 115.7M145.1 54.2Q120.7 115.6 73.7 162.2M64.2 33Q83.4 96.6 73.7 162.2M68.9 31.3Q88.7 96.1 73.7 162.2M134.8 43.4Q116.2 109 73.7 162.2M150.6 62.5Q125.8 122.9 73.7 162.2M73.7 162.2Q108.7 127.5 156.5 115.7M154.9 71.6Q124.3 125.9 73.7 162.2M55.4 37.6Q78.2 97.9 73.7 162.2M141.9 50.4Q120.4 113.9 73.7 162.2M98.5 28Q74.9 42.5 47.2 43.4M138.5 46.8Q92.5 54.4 47.2 43.4M64.2 33Q57 40.3 47.2 43.4M117.8 33Q83.5 45.3 47.2 43.4M159.4 96Q110.1 73.1 78.6 28.7M159.4 96Q159.8 111.3 152.9 125M159.4 96Q114.5 69.8 83.5 28M159.4 96Q160 106.2 156.5 115.7M159.2 91Q130.5 67.7 117.8 33M159.2 91Q160.8 98.5 158.7 106M159.2 91Q126.1 66.8 108.3 29.8M159.2 91Q118.4 67.5 93.5 27.6M157.8 81.1Q115.1 62.3 83.5 28M157.8 81.1Q116.7 62.7 88.5 27.6M157.8 81.1Q160.6 93.5 158.7 106M157.8 81.1Q151.7 72.8 150.6 62.5M156.5 76.3Q110.1 61.9 73.7 29.8M156.5 76.3Q115.2 59.5 83.5 28M156.5 76.3Q160.7 101.1 152.9 125M156.5 76.3Q151.9 70.1 150.6 62.5" fill="none" stroke="#8a8a8a" stroke-opacity="1" stroke-width="0.42"/>
<path d="M63.4 33a0.85 0.85 0 1 0 1.7 0a0.85 0.85 0 1 0 -1.7 0M58.9 35.2a0.85 0.85 0 1 0 1.7 0a0.85 0.85 0 1 0 -1.7 0M50.4 40.4a0.85 0.85 0 1 0 1.7 0a0.85 0.85 0 1 0 -1.7 0M42.7 46.8a0.85 0.85 0 1 0 1.7 0a0.85 0.85 0 1 0 -1.7 0M39.2 50.4a0.85 0.85 0 1 0 1.7 0a0.85 0.85 0 1 0 -1.7 0M36 54.2a0.85 0.85 0 1 0 1.7 0a0.85 0.85 0 1 0 -1.7 0M33.1 58.3a0.85 0.85 0 1 0 1.7 0a0.85 0.85 0 1 0 -1.7 0M30.5 62.5a0.85 0.85 0 1 0 1.7 0a0.85 0.85 0 1 0 -1.7 0M28.2 67a0.85 0.85 0 1 0 1.7 0a0.85 0.85 0 1 0 -1.7 0M26.3 71.6a0.85 0.85 0 1 0 1.7 0a0.85 0.85 0 1 0 -1.7 0M24.7 76.3a0.85 0.85 0 1 0 1.7 0a0.85 0.85 0 1 0 -1.7 0M23.4 81.1a0.85 0.85 0 1 0 1.7 0a0.85 0.85 0 1 0 -1.7 0M21.9 91a0.85 0.85 0 1 0 1.7 0a0.85 0.85 0 1 0 -1.7 0M21.7 96a0.85 0.85 0 1 0 1.7 0a0.85 0.85 0 1 0 -1.7 0M22.5 106a0.85 0.85 0 1 0 1.7 0a0.85 0.85 0 1 0 -1.7 0M23.4 110.9a0.85 0.85 0 1 0 1.7 0a0.85 0.85 0 1 0 -1.7 0M24.7 115.7a0.85 0.85 0 1 0 1.7 0a0.85 0.85 0 1 0 -1.7 0M26.3 120.4a0.85 0.85 0 1 0 1.7 0a0.85 0.85 0 1 0 -1.7 0M28.2 125a0.85 0.85 0 1 0 1.7 0a0.85 0.85 0 1 0 -1.7 0M30.5 129.5a0.85 0.85 0 1 0 1.7 0a0.85 0.85 0 1 0 -1.7 0M33.1 133.7a0.85 0.85 0 1 0 1.7 0a0.85 0.85 0 1 0 -1.7 0M36 137.8a0.85 0.85 0 1 0 1.7 0a0.85 0.85 0 1 0 -1.7 0M39.2 141.6a0.85 0.85 0 1 0 1.7 0a0.85 0.85 0 1 0 -1.7 0M42.7 145.2a0.85 0.85 0 1 0 1.7 0a0.85 0.85 0 1 0 -1.7 0M46.4 148.6a0.85 0.85 0 1 0 1.7 0a0.85 0.85 0 1 0 -1.7 0M50.4 151.6a0.85 0.85 0 1 0 1.7 0a0.85 0.85 0 1 0 -1.7 0M54.5 154.4a0.85 0.85 0 1 0 1.7 0a0.85 0.85 0 1 0 -1.7 0M58.9 156.8a0.85 0.85 0 1 0 1.7 0a0.85 0.85 0 1 0 -1.7 0M63.4 159a0.85 0.85 0 1 0 1.7 0a0.85 0.85 0 1 0 -1.7 0M77.7 163.3a0.85 0.85 0 1 0 1.7 0a0.85 0.85 0 1 0 -1.7 0M82.7 164a0.85 0.85 0 1 0 1.7 0a0.85 0.85 0 1 0 -1.7 0M87.7 164.4a0.85 0.85 0 1 0 1.7 0a0.85 0.85 0 1 0 -1.7 0M92.6 164.4a0.85 0.85 0 1 0 1.7 0a0.85 0.85 0 1 0 -1.7 0M97.6 164a0.85 0.85 0 1 0 1.7 0a0.85 0.85 0 1 0 -1.7 0M102.6 163.3a0.85 0.85 0 1 0 1.7 0a0.85 0.85 0 1 0 -1.7 0M107.5 162.2a0.85 0.85 0 1 0 1.7 0a0.85 0.85 0 1 0 -1.7 0M112.2 160.7a0.85 0.85 0 1 0 1.7 0a0.85 0.85 0 1 0 -1.7 0M116.9 159a0.85 0.85 0 1 0 1.7 0a0.85 0.85 0 1 0 -1.7 0M125.8 154.4a0.85 0.85 0 1 0 1.7 0a0.85 0.85 0 1 0 -1.7 0M129.9 151.6a0.85 0.85 0 1 0 1.7 0a0.85 0.85 0 1 0 -1.7 0M137.6 145.2a0.85 0.85 0 1 0 1.7 0a0.85 0.85 0 1 0 -1.7 0M144.3 137.8a0.85 0.85 0 1 0 1.7 0a0.85 0.85 0 1 0 -1.7 0M147.2 133.7a0.85 0.85 0 1 0 1.7 0a0.85 0.85 0 1 0 -1.7 0M149.8 129.5a0.85 0.85 0 1 0 1.7 0a0.85 0.85 0 1 0 -1.7 0M154 120.4a0.85 0.85 0 1 0 1.7 0a0.85 0.85 0 1 0 -1.7 0M158.4 101a0.85 0.85 0 1 0 1.7 0a0.85 0.85 0 1 0 -1.7 0" fill="#553626"/>
<path d="M157.8 86a0.85 0.85 0 1 0 1.7 0a0.85 0.85 0 1 0 -1.7 0" fill="#47603f"/>
<circle cx="159.4" cy="96" r="1.1" fill="#fbeedc" stroke="#333" stroke-width="0.5"/>
<circle cx="159.2" cy="91" r="1.1" fill="#fbeedc" stroke="#333" stroke-width="0.5"/>
<circle cx="157.8" cy="81.1" r="0.9" fill="#a8d5a0" stroke="#333" stroke-width="0.5"/>
<circle cx="156.5" cy="76.3" r="1.0" fill="#f3a6c6" stroke="#333" stroke-width="0.5"/>
<circle cx="154.9" cy="71.6" r="3.8" fill="#f3a6c6" stroke="#333" stroke-width="0.5"/>
<circle cx="152.9" cy="67" r="2.0" fill="#b27758" stroke="#333" stroke-width="0.5"/>
<circle cx="150.6" cy="62.5" r="2.2" fill="#b27758" stroke="#333" stroke-width="0.5"/>
<circle cx="148" cy="58.3" r="2.6" fill="#b27758" stroke="#333" stroke-width="0.5"/>
<circle cx="145.1" cy="54.2" r="2.2" fill="#b27758" stroke="#333" stroke-width="0.5"/>
<circle cx="141.9" cy="50.4" r="3.5" fill="#b27758" stroke="#333" stroke-width="0.5"/>
<circle cx="138.5" cy="46.8" r="2.4" fill="#b27758" stroke="#333" stroke-width="0.5"/>
<circle cx="134.8" cy="43.4" r="1.8" fill="#b27758" stroke="#333" stroke-width="0.5"/>
<circle cx="130.8" cy="40.4" r="3.1" fill="#b27758" stroke="#333" stroke-width="0.5"/>
<circle cx="126.6" cy="37.6" r="2.6" fill="#b27758" stroke="#333" stroke-width="0.5"/>
<circle cx="122.3" cy="35.2" r="3.5" fill="#b27758" stroke="#333" stroke-width="0.5"/>
<circle cx="117.8" cy="33" r="1.8" fill="#b27758" stroke="#333" stroke-width="0.5"/>
<circle cx="113.1" cy="31.3" r="3.5" fill="#b27758" stroke="#333" stroke-width="0.5"/>
<circle cx="108.3" cy="29.8" r="1.8" fill="#b27758" stroke="#333" stroke-width="0.5"/>
<circle cx="103.4" cy="28.7" r="2.5" fill="#b27758" stroke="#333" stroke-width="0.5"/>
<circle cx="98.5" cy="28" r="2.0" fill="#b27758" stroke="#333" stroke-width="0.5"/>
<circle cx="93.5" cy="27.6" r="3.5" fill="#b27758" stroke="#333" stroke-width="0.5"/>
<circle cx="88.5" cy="27.6" r="1.6" fill="#b27758" stroke="#333" stroke-width="0.5"/>
<circle cx="83.5" cy="28" r="2.9" fill="#b27758" stroke="#333" stroke-width="0.5"/>
<circle cx="78.6" cy="28.7" r="4.4" fill="#b27758" stroke="#333" stroke-width="0.5"/>
<circle cx="73.7" cy="29.8" r="1.5" fill="#b27758" stroke="#333" stroke-width="0.5"/>
<circle cx="68.9" cy="31.3" r="3.4" fill="#b27758" stroke="#333" stroke-width="0.5"/>
<circle cx="55.4" cy="37.6" r="3.5" fill="#b27758" stroke="#333" stroke-width="0.5"/>
<circle cx="47.2" cy="43.4" r="1.4" fill="#b27758" stroke="#333" stroke-width="0.5"/>
<circle cx="23.3" cy="86" r="1.8" fill="#b27758" stroke="#333" stroke-width="0.5"/>
<circle cx="22.8" cy="101" r="2.0" fill="#b27758" stroke="#333" stroke-width="0.5"/>
<circle cx="68.9" cy="160.7" r="1.3" fill="#b27758" stroke="#333" stroke-width="0.5"/>
<circle cx="73.7" cy="162.2" r="1.3" fill="#b27758" stroke="#333" stroke-width="0.5"/>
<circle cx="122.3" cy="156.8" r="3.3" fill="#b27758" stroke="#333" stroke-width="0.5"/>
<circle cx="134.8" cy="148.6" r="3.5" fill="#b27758" stroke="#333" stroke-width="0.5"/>
<circle cx="141.9" cy="141.6" r="2.0" fill="#b27758" stroke="#333" stroke-width="0.5"/>
<circle cx="152.9" cy="125" r="1.1" fill="#b27758" stroke="#333" stroke-width="0.5"/>
<circle cx="156.5" cy="115.7" r="1.2" fill="#b27758" stroke="#333" stroke-width="0.5"/>
<circle cx="157.8" cy="110.9" r="3.5" fill="#b27758" stroke="#333" stroke-width="0.5"/>
<circle cx="158.7" cy="106" r="1.8" fill="#b27758" stroke="#333" stroke-width="0.5"/>
<circle cx="318.2" cy="95" r="2.1" fill="#fbeedc" stroke="#333" stroke-width="0.5"/>
<circle cx="318" cy="90" r="2.1" fill="#fbeedc" stroke="#333" stroke-width="0.5"/>
<circle cx="317.5" cy="85" r="2.1" fill="#a8d5a0" stroke="#333" stroke-width="0.5"/>
<circle cx="316.6" cy="80.1" r="2.1" fill="#a8d5a0" stroke="#333" stroke-width="0.5"/>
<circle cx="315.3" cy="75.2" r="2.1" fill="#f3a6c6" stroke="#333" stroke-width="0.5"/>
<circle cx="313.7" cy="70.5" r="2.1" fill="#f3a6c6" stroke="#333" stroke-width="0.5"/>
<circle cx="311.7" cy="65.9" r="2.1" fill="#b27758" stroke="#333" stroke-width="0.5"/>
<circle cx="309.4" cy="61.4" r="2.1" fill="#b27758" stroke="#333" stroke-width="0.5"/>
<circle cx="306.8" cy="57.1" r="2.1" fill="#b27758" stroke="#333" stroke-width="0.5"/>
<circle cx="303.9" cy="53.1" r="2.1" fill="#b27758" stroke="#333" stroke-width="0.5"/>
<circle cx="300.7" cy="49.2" r="2.1" fill="#b27758" stroke="#333" stroke-width="0.5"/>
<circle cx="297.2" cy="45.6" r="2.1" fill="#b27758" stroke="#333" stroke-width="0.5"/>
<circle cx="293.5" cy="42.3" r="2.1" fill="#b27758" stroke="#333" stroke-width="0.5"/>
<circle cx="289.5" cy="39.2" r="2.1" fill="#b27758" stroke="#333" stroke-width="0.5"/>
<circle cx="285.3" cy="36.4" r="2.1" fill="#b27758" stroke="#333" stroke-width="0.5"/>
<circle cx="281" cy="34" r="2.1" fill="#b27758" stroke="#333" stroke-width="0.5"/>
<circle cx="276.4" cy="31.9" r="2.1" fill="#b27758" stroke="#333" stroke-width="0.5"/>
<circle cx="271.7" cy="30.1" r="2.1" fill="#b27758" stroke="#333" stroke-width="0.5"/>
<circle cx="267" cy="28.6" r="2.1" fill="#b27758" stroke="#333" stroke-width="0.5"/>
<circle cx="262.1" cy="27.5" r="2.1" fill="#b27758" stroke="#333" stroke-width="0.5"/>
<circle cx="257.1" cy="26.8" r="2.1" fill="#b27758" stroke="#333" stroke-width="0.5"/>
<circle cx="252.1" cy="26.4" r="2.1" fill="#b27758" stroke="#333" stroke-width="0.5"/>
<circle cx="247.1" cy="26.4" r="2.1" fill="#b27758" stroke="#333" stroke-width="0.5"/>
<circle cx="242.1" cy="26.8" r="2.1" fill="#b27758" stroke="#333" stroke-width="0.5"/>
<circle cx="237.1" cy="27.5" r="2.1" fill="#b27758" stroke="#333" stroke-width="0.5"/>
<circle cx="232.2" cy="28.6" r="2.1" fill="#b27758" stroke="#333" stroke-width="0.5"/>
<circle cx="227.5" cy="30.1" r="2.1" fill="#b27758" stroke="#333" stroke-width="0.5"/>
<circle cx="222.8" cy="31.9" r="2.1" fill="#b27758" stroke="#333" stroke-width="0.5"/>
<circle cx="218.2" cy="34" r="2.1" fill="#b27758" stroke="#333" stroke-width="0.5"/>
<circle cx="213.9" cy="36.4" r="2.1" fill="#b27758" stroke="#333" stroke-width="0.5"/>
<circle cx="209.7" cy="39.2" r="2.1" fill="#b27758" stroke="#333" stroke-width="0.5"/>
<circle cx="205.7" cy="42.3" r="2.1" fill="#b27758" stroke="#333" stroke-width="0.5"/>
<circle cx="202" cy="45.6" r="2.1" fill="#b27758" stroke="#333" stroke-width="0.5"/>
<circle cx="198.5" cy="49.2" r="2.1" fill="#b27758" stroke="#333" stroke-width="0.5"/>
<circle cx="195.3" cy="53.1" r="2.1" fill="#b27758" stroke="#333" stroke-width="0.5"/>
<circle cx="192.4" cy="57.1" r="2.1" fill="#b27758" stroke="#333" stroke-width="0.5"/>
<circle cx="189.8" cy="61.4" r="2.1" fill="#b27758" stroke="#333" stroke-width="0.5"/>
<circle cx="187.5" cy="65.9" r="2.1" fill="#b27758" stroke="#333" stroke-width="0.5"/>
<circle cx="185.5" cy="70.5" r="2.1" fill="#b27758" stroke="#333" stroke-width="0.5"/>
<circle cx="183.9" cy="75.2" r="2.1" fill="#b27758" stroke="#333" stroke-width="0.5"/>
<circle cx="182.6" cy="80.1" r="2.1" fill="#b27758" stroke="#333" stroke-width="0.5"/>
<circle cx="181.7" cy="85" r="2.1" fill="#b27758" stroke="#333" stroke-width="0.5"/>
<circle cx="181.2" cy="90" r="2.1" fill="#b27758" stroke="#333" stroke-width="0.5"/>
<circle cx="181" cy="95" r="2.1" fill="#b27758" stroke="#333" stroke-width="0.5"/>
<circle cx="181.2" cy="100" r="2.1" fill="#b27758" stroke="#333" stroke-width="0.5"/>
<circle cx="181.7" cy="105" r="2.1" fill="#b27758" stroke="#333" stroke-width="0.5"/>
<circle cx="182.6" cy="109.9" r="2.1" fill="#b27758" stroke="#333" stroke-width="0.5"/>
<circle cx="183.9" cy="114.8" r="2.1" fill="#b27758" stroke="#333" stroke-width="0.5"/>
<circle cx="185.5" cy="119.5" r="2.1" fill="#b27758" stroke="#333" stroke-width="0.5"/>
<circle cx="187.5" cy="124.1" r="2.1" fill="#b27758" stroke="#333" stroke-width="0.5"/>
<circle cx="189.8" cy="128.6" r="2.1" fill="#b27758" stroke="#333" stroke-width="0.5"/>
<circle cx="192.4" cy="132.9" r="2.1" fill="#b27758" stroke="#333" stroke-width="0.5"/>
<circle cx="195.3" cy="136.9" r="2.1" fill="#b27758" stroke="#333" stroke-width="0.5"/>
<circle cx="198.5" cy="140.8" r="2.1" fill="#b27758" stroke="#333" stroke-width="0.5"/>
<circle cx="202" cy="144.4" r="2.1" fill="#b27758" stroke="#333" stroke-width="0.5"/>
<circle cx="205.7" cy="147.7" r="2.1" fill="#b27758" stroke="#333" stroke-width="0.5"/>
<circle cx="209.7" cy="150.8" r="2.1" fill="#b27758" stroke="#333" stroke-width="0.5"/>
<circle cx="213.9" cy="153.6" r="2.1" fill="#b27758" stroke="#333" stroke-width="0.5"/>
<circle cx="218.2" cy="156" r="2.1" fill="#b27758" stroke="#333" stroke-width="0.5"/>
<circle cx="222.8" cy="158.1" r="2.1" fill="#b27758" stroke="#333" stroke-width="0.5"/>
<circle cx="227.5" cy="159.9" r="2.1" fill="#b27758" stroke="#333" stroke-width="0.5"/>
<circle cx="232.2" cy="161.4" r="2.1" fill="#b27758" stroke="#333" stroke-width="0.5"/>
<circle cx="237.1" cy="162.5" r="2.1" fill="#b27758" stroke="#333" stroke-width="0.5"/>
<circle cx="242.1" cy="163.2" r="2.1" fill="#b27758" stroke="#333" stroke-width="0.5"/>
<circle cx="247.1" cy="163.6" r="2.1" fill="#b27758" stroke="#333" stroke-width="0.5"/>
<circle cx="252.1" cy="163.6" r="2.1" fill="#b27758" stroke="#333" stroke-width="0.5"/>
<circle cx="257.1" cy="163.2" r="2.1" fill="#b27758" stroke="#333" stroke-width="0.5"/>
<circle cx="262.1" cy="162.5" r="2.1" fill="#b27758" stroke="#333" stroke-width="0.5"/>
<circle cx="267" cy="161.4" r="2.1" fill="#b27758" stroke="#333" stroke-width="0.5"/>
<circle cx="271.7" cy="159.9" r="2.1" fill="#b27758" stroke="#333" stroke-width="0.5"/>
<circle cx="276.4" cy="158.1" r="2.1" fill="#b27758" stroke="#333" stroke-width="0.5"/>
<circle cx="281" cy="156" r="2.1" fill="#b27758" stroke="#333" stroke-width="0.5"/>
<circle cx="285.3" cy="153.6" r="2.1" fill="#b27758" stroke="#333" stroke-width="0.5"/>
<circle cx="289.5" cy="150.8" r="2.1" fill="#b27758" stroke="#333" stroke-width="0.5"/>
<circle cx="293.5" cy="147.7" r="2.1" fill="#b27758" stroke="#333" stroke-width="0.5"/>
<circle cx="297.2" cy="144.4" r="2.1" fill="#b27758" stroke="#333" stroke-width="0.5"/>
<circle cx="300.7" cy="140.8" r="2.1" fill="#b27758" stroke="#333" stroke-width="0.5"/>
<circle cx="303.9" cy="136.9" r="2.1" fill="#b27758" stroke="#333" stroke-width="0.5"/>
<circle cx="306.8" cy="132.9" r="2.1" fill="#b27758" stroke="#333" stroke-width="0.5"/>
<circle cx="309.4" cy="128.6" r="2.1" fill="#b27758" stroke="#333" stroke-width="0.5"/>
<circle cx="311.7" cy="124.1" r="2.1" fill="#b27758" stroke="#333" stroke-width="0.5"/>
<circle cx="313.7" cy="119.5" r="2.1" fill="#b27758" stroke="#333" stroke-width="0.5"/>
<circle cx="315.3" cy="114.8" r="2.1" fill="#b27758" stroke="#333" stroke-width="0.5"/>
<circle cx="316.6" cy="109.9" r="2.1" fill="#b27758" stroke="#333" stroke-width="0.5"/>
<circle cx="317.5" cy="105" r="2.1" fill="#b27758" stroke="#333" stroke-width="0.5"/>
<circle cx="318" cy="100" r="2.1" fill="#b27758" stroke="#333" stroke-width="0.5"/>
<text x="249.5" y="91.0" font-size="10.9" text-anchor="middle" fill="#333" textLength="13.1" lengthAdjust="spacingAndGlyphs">No</text>
<text x="249.5" y="103.8" font-size="10.9" text-anchor="middle" fill="#333" textLength="49.2" lengthAdjust="spacingAndGlyphs">interaction</text>
<path d="M100.9 202.6Q72.4 227.8 34.5 231.8M78.1 203.2Q61.9 226.1 34.5 231.8M70.7 205.1Q57.3 224.8 34.5 231.8M63.6 207.8Q54.5 226.5 34.5 231.8M50.4 215.4Q45.4 226.5 34.5 231.8M44.5 220.3Q42 228.2 34.5 231.8M122.7 209.4Q82.3 242 30.5 238.3M115.7 206.3Q79.7 240.1 30.5 238.3M78.1 203.2Q61.7 230.9 30.5 238.3M70.7 205.1Q57.2 229.7 30.5 238.3M50.4 215.4Q45 230.9 30.5 238.3M129.3 213.2Q84.4 248.8 27.2 245.2M122.7 209.4Q80.8 243 27.2 245.2M115.7 206.3Q80.4 246.1 27.2 245.2M108.4 204.1Q76.9 242.6 27.2 245.2M100.9 202.6Q72.2 237.9 27.2 245.2M78.1 203.2Q59.8 232.9 27.2 245.2M63.6 207.8Q54.2 235.1 27.2 245.2M56.8 211.2Q48.8 234.2 27.2 245.2M50.4 215.4Q45.2 235.3 27.2 245.2M129.3 213.2Q83.6 250.3 24.7 252.4M122.7 209.4Q82 249.9 24.7 252.4M78.1 203.2Q62.5 239.9 24.7 252.4M56.8 211.2Q49.2 238.4 24.7 252.4M129.3 213.2Q86.7 260.5 23 259.8M115.7 206.3Q80.6 252.6 23 259.8M100.9 202.6Q74.9 248.8 23 259.8M70.7 205.1Q58 242.2 23 259.8M129.3 213.2Q88 264.6 22.2 267.4M100.9 202.6Q73.8 249.9 22.2 267.4M63.6 207.8Q56.7 247.2 22.2 267.4M56.8 211.2Q51 246.4 22.2 267.4M44.5 220.3Q44.5 249.1 22.2 267.4M129.3 213.2Q87.6 264.7 22.2 275.1M122.7 209.4Q88.1 266.2 22.2 275.1M115.7 206.3Q82.6 259.3 22.2 275.1M108.4 204.1Q79.6 256.9 22.2 275.1M78.1 203.2Q62.1 248.5 22.2 275.1M63.6 207.8Q54.1 248.3 22.2 275.1M56.8 211.2Q50.6 249.2 22.2 275.1M50.4 215.4Q49.5 251.5 22.2 275.1M44.5 220.3Q44.9 252.3 22.2 275.1M70.7 205.1Q62.3 253.4 23 282.7M56.8 211.2Q53.1 253.2 23 282.7M50.4 215.4Q50.8 254.7 23 282.7M44.5 220.3Q48.6 256.5 23 282.7M129.3 213.2Q94.7 275.8 24.7 290.1M115.7 206.3Q84.1 263.3 24.7 290.1M108.4 204.1Q83.2 263.3 24.7 290.1M100.9 202.6Q81.2 262.4 24.7 290.1M78.1 203.2Q72.2 259.4 24.7 290.1M63.6 207.8Q58 255.5 24.7 290.1M56.8 211.2Q58.6 257.9 24.7 290.1M50.4 215.4Q49.7 256.9 24.7 290.1M34.5 231.8Q35.3 252 22.2 267.4M34.5 231.8Q33.8 235.8 30.5 238.3M30.5 238.3Q30.1 246.3 24.7 252.4M30.5 238.3Q32.4 258 22.2 275.1M30.5 238.3Q34 261.7 23 282.7M34.5 231.8Q34 240.2 27.2 245.2M30.5 238.3Q29.9 242.2 27.2 245.2M27.2 245.2Q27.3 249.2 24.7 252.4M27.2 245.2Q33.9 264.9 23 282.7M27.2 245.2Q34.2 268.1 24.7 290.1M34.5 231.8Q33.3 243.8 24.7 252.4M24.7 252.4Q25.2 256.4 23 259.8M34.5 231.8Q34.3 248.1 23 259.8M30.5 238.3Q30.3 250.3 23 259.8M27.2 245.2Q28.6 253.5 23 259.8M23 259.8Q25.6 267.6 22.2 275.1M23 259.8Q28.4 271.2 23 282.7M23 259.8Q30.2 274.6 24.7 290.1M30.5 238.3Q31.9 254.4 22.2 267.4M27.2 245.2Q28.7 257.2 22.2 267.4M24.7 252.4Q26.8 260.5 22.2 267.4M22.2 267.4Q23.5 271.2 22.2 275.1M22.2 267.4Q28.3 278.2 24.7 290.1M34.5 231.8Q35.9 255.6 22.2 275.1M27.2 245.2Q31.7 261.3 22.2 275.1M22.2 275.1Q24.1 278.7 23 282.7M22.2 275.1Q26.1 282.1 24.7 290.1M34.5 231.8Q39.7 259.7 23 282.7M23 282.7Q25.1 286.1 24.7 290.1M30.5 238.3Q37.3 265.3 24.7 290.1M24.7 252.4Q33.3 271.2 24.7 290.1M129.3 213.2Q125.3 212.5 122.7 209.4M129.3 213.2Q121.1 212.5 115.7 206.3M129.3 213.2Q116.7 213.5 108.4 204.1M129.3 213.2Q101.9 217.7 78.1 203.2M129.3 213.2Q98.7 218.6 70.7 205.1M129.3 213.2Q90.3 231.3 50.4 215.4M129.3 213.2Q88.5 236.4 44.5 220.3M122.7 209.4Q92.8 219.7 63.6 207.8M122.7 209.4Q90.1 225 56.8 211.2M122.7 209.4Q87.7 226.3 50.4 215.4M122.7 209.4Q86.1 233.4 44.5 220.3M115.7 206.3Q107.6 207.1 100.9 202.6M115.7 206.3Q96.2 213.1 78.1 203.2M115.7 206.3Q87.3 221.4 56.8 211.2M115.7 206.3Q84.8 223.9 50.4 215.4M122.7 209.4Q114.6 209.2 108.4 204.1M108.4 204.1Q93.1 209.1 78.1 203.2M108.4 204.1Q86.8 215.6 63.6 207.8M108.4 204.1Q84.3 219.8 56.8 211.2M108.4 204.1Q79.4 223.8 44.5 220.3M129.3 213.2Q112.7 214.4 100.9 202.6M108.4 204.1Q104.4 204.9 100.9 202.6M100.9 202.6Q86.4 210.9 70.7 205.1M100.9 202.6Q80.4 214.8 56.8 211.2M100.9 202.6Q78.3 219.7 50.4 215.4M100.9 202.6Q76.7 224.3 44.5 220.3M122.7 209.4Q99 216.2 78.1 203.2M100.9 202.6Q89.6 207.7 78.1 203.2M78.1 203.2Q66.6 214.7 50.4 215.4M78.1 203.2Q64.4 217.8 44.5 220.3M115.7 206.3Q89.9 215.5 63.6 207.8M100.9 202.6Q83.1 211.7 63.6 207.8M70.7 205.1Q67.7 208.1 63.6 207.8M63.6 207.8Q56.2 217.4 44.5 220.3M108.4 204.1Q81.7 221.6 50.4 215.4M70.7 205.1Q62.8 214.7 50.4 215.4M63.6 207.8Q58.7 214.6 50.4 215.4M56.8 211.2Q54.4 214.7 50.4 215.4M50.4 215.4Q48.2 218.8 44.5 220.3M115.7 206.3Q83 228.1 44.5 220.3M115.7 206.3Q91.8 271.6 30.5 304.2M56.8 211.2Q65.8 264 30.5 304.2M129.3 213.2Q107.2 285 39.1 316.8M122.7 209.4Q102.4 279.8 39.1 316.8M115.7 206.3Q98.9 276.4 39.1 316.8M78.1 203.2Q80.3 267.4 39.1 316.8M122.7 209.4Q110.5 284.5 44.5 322.2M78.1 203.2Q88.1 270.3 44.5 322.2M50.4 215.4Q66.5 269.9 44.5 322.2M129.3 213.2Q109.4 283.7 50.4 327.1M122.7 209.4Q109.6 282.4 50.4 327.1M100.9 202.6Q102.3 275.7 50.4 327.1M78.1 203.2Q91 271.2 50.4 327.1M63.6 207.8Q77.1 269.7 50.4 327.1M56.8 211.2Q79.1 270.6 50.4 327.1M129.3 213.2Q125.1 284.9 78.1 339.3M122.7 209.4Q129.4 284.3 78.1 339.3M70.7 205.1Q98.3 270.9 78.1 339.3M63.6 207.8Q97.3 270.6 78.1 339.3M44.5 220.3Q87.7 272.3 78.1 339.3M30.5 238.3Q46.2 271.2 30.5 304.2M27.2 245.2Q40.9 274 30.5 304.2M24.7 252.4Q39.9 276.9 30.5 304.2M23 259.8Q36.2 280.5 30.5 304.2M22.2 275.1Q32.2 288 30.5 304.2M24.7 290.1Q30.3 296.1 30.5 304.2M34.5 231.8Q53.4 273.3 39.1 316.8M24.7 252.4Q43.7 281.9 39.1 316.8M23 259.8Q44.4 284.6 39.1 316.8M23 282.7Q38.1 296.4 39.1 316.8M24.7 290.1Q37.3 300.5 39.1 316.8M30.5 238.3Q55.4 277.3 44.5 322.2M24.7 252.4Q47.4 283.7 44.5 322.2M23 259.8Q48.4 286 44.5 322.2M22.2 267.4Q43.5 290.7 44.5 322.2M22.2 275.1Q42.5 294.3 44.5 322.2M34.5 231.8Q64 275.8 50.4 327.1M24.7 252.4Q50.1 285.4 50.4 327.1M22.2 275.1Q47.6 295 50.4 327.1M27.2 245.2Q71 282.3 78.1 339.3M23 259.8Q66.3 288.6 78.1 339.3M23 282.7Q62 299.9 78.1 339.3M24.7 290.1Q63.2 301.9 78.1 339.3M129.3 213.2Q155.4 267.7 135.5 324.7M108.4 204.1Q143.1 259.7 135.5 324.7M63.6 207.8Q124.9 250.7 135.5 324.7M56.8 211.2Q119.9 251.5 135.5 324.7M100.9 202.6Q143.3 250.2 146.1 313.8M70.7 205.1Q128.1 245.8 146.1 313.8M108.4 204.1Q147.4 248.5 150.4 307.5M100.9 202.6Q146.8 245.1 150.4 307.5M70.7 205.1Q129.8 241.3 150.4 307.5M44.5 220.3Q118 238.9 150.4 307.5M23 259.8Q90.5 272.8 135.5 324.7M22.2 267.4Q88.5 276.9 135.5 324.7M22.2 275.1Q87.1 281.1 135.5 324.7M23 282.7Q88.2 279.7 135.5 324.7M24.7 290.1Q87.3 284.3 135.5 324.7M30.5 238.3Q103.5 252.8 146.1 313.8M24.7 252.4Q96.7 260.7 146.1 313.8M22.2 275.1Q92.8 266.8 146.1 313.8M24.7 290.1Q90 278.6 146.1 313.8M30.5 238.3Q106.2 245.7 150.4 307.5M27.2 245.2Q99.7 254.9 150.4 307.5M22.2 267.4Q92.9 266.5 150.4 307.5M24.7 290.1Q91.1 273.4 150.4 307.5M44.5 322.2Q90.6 301.7 135.5 324.7M78.1 339.3Q107.4 313.9 146.1 313.8M159 256.1Q129.1 238.5 115.7 206.3M159 256.1Q109.5 243.6 78.1 203.2M159 256.1Q103.9 249.7 70.7 205.1M159 256.1Q100 251.6 56.8 211.2M159 256.1Q95 261.7 50.4 215.4M159 256.1Q94.2 262.4 44.5 220.3M159 256.1Q90.7 276 30.5 238.3M159 256.1Q91.1 283.8 24.7 252.4M159 256.1Q164.2 287.6 146.1 313.8" fill="none" stroke="#8a8a8a" stroke-opacity="1" stroke-width="0.42"/>
<path d="M153.2 300.8a0.85 0.85 0 1 0 1.7 0a0.85 0.85 0 1 0 -1.7 0M156.1 293.8a0.85 0.85 0 1 0 1.7 0a0.85 0.85 0 1 0 -1.7 0M158.2 286.4a0.85 0.85 0 1 0 1.7 0a0.85 0.85 0 1 0 -1.7 0M159.4 278.9a0.85 0.85 0 1 0 1.7 0a0.85 0.85 0 1 0 -1.7 0" fill="#553626"/>
<path d="M26.3 297.3a0.85 0.85 0 1 0 1.7 0a0.85 0.85 0 1 0 -1.7 0M33.6 310.7a0.85 0.85 0 1 0 1.7 0a0.85 0.85 0 1 0 -1.7 0M55.9 331.3a0.85 0.85 0 1 0 1.7 0a0.85 0.85 0 1 0 -1.7 0M62.7 334.7a0.85 0.85 0 1 0 1.7 0a0.85 0.85 0 1 0 -1.7 0M69.9 337.4a0.85 0.85 0 1 0 1.7 0a0.85 0.85 0 1 0 -1.7 0M84.8 340.3a0.85 0.85 0 1 0 1.7 0a0.85 0.85 0 1 0 -1.7 0M92.5 340.5a0.85 0.85 0 1 0 1.7 0a0.85 0.85 0 1 0 -1.7 0M100.1 339.9a0.85 0.85 0 1 0 1.7 0a0.85 0.85 0 1 0 -1.7 0M107.6 338.4a0.85 0.85 0 1 0 1.7 0a0.85 0.85 0 1 0 -1.7 0M114.8 336.2a0.85 0.85 0 1 0 1.7 0a0.85 0.85 0 1 0 -1.7 0M121.8 333.1a0.85 0.85 0 1 0 1.7 0a0.85 0.85 0 1 0 -1.7 0M128.5 329.3a0.85 0.85 0 1 0 1.7 0a0.85 0.85 0 1 0 -1.7 0M140.2 319.6a0.85 0.85 0 1 0 1.7 0a0.85 0.85 0 1 0 -1.7 0" fill="#6b4656"/>
<path d="M159.4 263.6a0.85 0.85 0 1 0 1.7 0a0.85 0.85 0 1 0 -1.7 0M156.1 248.7a0.85 0.85 0 1 0 1.7 0a0.85 0.85 0 1 0 -1.7 0M153.2 241.7a0.85 0.85 0 1 0 1.7 0a0.85 0.85 0 1 0 -1.7 0M149.6 235a0.85 0.85 0 1 0 1.7 0a0.85 0.85 0 1 0 -1.7 0M145.2 228.7a0.85 0.85 0 1 0 1.7 0a0.85 0.85 0 1 0 -1.7 0M140.2 222.9a0.85 0.85 0 1 0 1.7 0a0.85 0.85 0 1 0 -1.7 0M134.6 217.8a0.85 0.85 0 1 0 1.7 0a0.85 0.85 0 1 0 -1.7 0M92.5 202a0.85 0.85 0 1 0 1.7 0a0.85 0.85 0 1 0 -1.7 0M84.8 202.2a0.85 0.85 0 1 0 1.7 0a0.85 0.85 0 1 0 -1.7 0M38.3 225.7a0.85 0.85 0 1 0 1.7 0a0.85 0.85 0 1 0 -1.7 0" fill="#47603f"/>
<path d="M159.8 271.2a0.85 0.85 0 1 0 1.7 0a0.85 0.85 0 1 0 -1.7 0" fill="#7a7060"/>
<circle cx="159" cy="256.1" r="2.5" fill="#a8d5a0" stroke="#333" stroke-width="0.5"/>
<circle cx="129.3" cy="213.2" r="2.0" fill="#a8d5a0" stroke="#333" stroke-width="0.5"/>
<circle cx="122.7" cy="209.4" r="3.2" fill="#a8d5a0" stroke="#333" stroke-width="0.5"/>
<circle cx="115.7" cy="206.3" r="3.2" fill="#a8d5a0" stroke="#333" stroke-width="0.5"/>
<circle cx="108.4" cy="204.1" r="3.5" fill="#a8d5a0" stroke="#333" stroke-width="0.5"/>
<circle cx="100.9" cy="202.6" r="1.2" fill="#a8d5a0" stroke="#333" stroke-width="0.5"/>
<circle cx="78.1" cy="203.2" r="2.2" fill="#a8d5a0" stroke="#333" stroke-width="0.5"/>
<circle cx="70.7" cy="205.1" r="3.5" fill="#a8d5a0" stroke="#333" stroke-width="0.5"/>
<circle cx="63.6" cy="207.8" r="3.0" fill="#a8d5a0" stroke="#333" stroke-width="0.5"/>
<circle cx="56.8" cy="211.2" r="1.0" fill="#a8d5a0" stroke="#333" stroke-width="0.5"/>
<circle cx="50.4" cy="215.4" r="1.0" fill="#a8d5a0" stroke="#333" stroke-width="0.5"/>
<circle cx="44.5" cy="220.3" r="0.9" fill="#a8d5a0" stroke="#333" stroke-width="0.5"/>
<circle cx="34.5" cy="231.8" r="3.2" fill="#f3a6c6" stroke="#333" stroke-width="0.5"/>
<circle cx="30.5" cy="238.3" r="1.0" fill="#f3a6c6" stroke="#333" stroke-width="0.5"/>
<circle cx="27.2" cy="245.2" r="2.5" fill="#f3a6c6" stroke="#333" stroke-width="0.5"/>
<circle cx="24.7" cy="252.4" r="3.0" fill="#f3a6c6" stroke="#333" stroke-width="0.5"/>
<circle cx="23" cy="259.8" r="2.0" fill="#f3a6c6" stroke="#333" stroke-width="0.5"/>
<circle cx="22.2" cy="267.4" r="2.0" fill="#f3a6c6" stroke="#333" stroke-width="0.5"/>
<circle cx="22.2" cy="275.1" r="2.0" fill="#f3a6c6" stroke="#333" stroke-width="0.5"/>
<circle cx="23" cy="282.7" r="2.2" fill="#f3a6c6" stroke="#333" stroke-width="0.5"/>
<circle cx="24.7" cy="290.1" r="1.0" fill="#f3a6c6" stroke="#333" stroke-width="0.5"/>
<circle cx="30.5" cy="304.2" r="1.0" fill="#f3a6c6" stroke="#333" stroke-width="0.5"/>
<circle cx="39.1" cy="316.8" r="1.5" fill="#f3a6c6" stroke="#333" stroke-width="0.5"/>
<circle cx="44.5" cy="322.2" r="1.5" fill="#f3a6c6" stroke="#333" stroke-width="0.5"/>
<circle cx="50.4" cy="327.1" r="2.0" fill="#f3a6c6" stroke="#333" stroke-width="0.5"/>
<circle cx="78.1" cy="339.3" r="1.5" fill="#f3a6c6" stroke="#333" stroke-width="0.5"/>
<circle cx="135.5" cy="324.7" r="1.3" fill="#f3a6c6" stroke="#333" stroke-width="0.5"/>
<circle cx="146.1" cy="313.8" r="2.6" fill="#b27758" stroke="#333" stroke-width="0.5"/>
<circle cx="150.4" cy="307.5" r="2.0" fill="#b27758" stroke="#333" stroke-width="0.5"/>
<circle cx="318.4" cy="271.1" r="2.1" fill="#fbeedc" stroke="#333" stroke-width="0.5"/>
<circle cx="317.9" cy="263.5" r="2.1" fill="#a8d5a0" stroke="#333" stroke-width="0.5"/>
<circle cx="316.7" cy="256" r="2.1" fill="#a8d5a0" stroke="#333" stroke-width="0.5"/>
<circle cx="314.6" cy="248.7" r="2.1" fill="#a8d5a0" stroke="#333" stroke-width="0.5"/>
<circle cx="311.8" cy="241.7" r="2.1" fill="#a8d5a0" stroke="#333" stroke-width="0.5"/>
<circle cx="308.2" cy="235.1" r="2.1" fill="#a8d5a0" stroke="#333" stroke-width="0.5"/>
<circle cx="303.9" cy="228.9" r="2.1" fill="#a8d5a0" stroke="#333" stroke-width="0.5"/>
<circle cx="298.9" cy="223.1" r="2.1" fill="#a8d5a0" stroke="#333" stroke-width="0.5"/>
<circle cx="293.3" cy="218" r="2.1" fill="#a8d5a0" stroke="#333" stroke-width="0.5"/>
<circle cx="287.2" cy="213.5" r="2.1" fill="#a8d5a0" stroke="#333" stroke-width="0.5"/>
<circle cx="280.7" cy="209.8" r="2.1" fill="#a8d5a0" stroke="#333" stroke-width="0.5"/>
<circle cx="273.7" cy="206.7" r="2.1" fill="#a8d5a0" stroke="#333" stroke-width="0.5"/>
<circle cx="266.5" cy="204.5" r="2.1" fill="#a8d5a0" stroke="#333" stroke-width="0.5"/>
<circle cx="259.1" cy="203" r="2.1" fill="#a8d5a0" stroke="#333" stroke-width="0.5"/>
<circle cx="251.5" cy="202.4" r="2.1" fill="#a8d5a0" stroke="#333" stroke-width="0.5"/>
<circle cx="244" cy="202.6" r="2.1" fill="#a8d5a0" stroke="#333" stroke-width="0.5"/>
<circle cx="236.5" cy="203.6" r="2.1" fill="#a8d5a0" stroke="#333" stroke-width="0.5"/>
<circle cx="229.1" cy="205.5" r="2.1" fill="#a8d5a0" stroke="#333" stroke-width="0.5"/>
<circle cx="222.1" cy="208.1" r="2.1" fill="#a8d5a0" stroke="#333" stroke-width="0.5"/>
<circle cx="215.3" cy="211.6" r="2.1" fill="#a8d5a0" stroke="#333" stroke-width="0.5"/>
<circle cx="209" cy="215.7" r="2.1" fill="#a8d5a0" stroke="#333" stroke-width="0.5"/>
<circle cx="203.1" cy="220.5" r="2.1" fill="#a8d5a0" stroke="#333" stroke-width="0.5"/>
<circle cx="197.8" cy="225.9" r="2.1" fill="#a8d5a0" stroke="#333" stroke-width="0.5"/>
<circle cx="193.2" cy="231.9" r="2.1" fill="#f3a6c6" stroke="#333" stroke-width="0.5"/>
<circle cx="189.2" cy="238.4" r="2.1" fill="#f3a6c6" stroke="#333" stroke-width="0.5"/>
<circle cx="186" cy="245.2" r="2.1" fill="#f3a6c6" stroke="#333" stroke-width="0.5"/>
<circle cx="183.5" cy="252.4" r="2.1" fill="#f3a6c6" stroke="#333" stroke-width="0.5"/>
<circle cx="181.9" cy="259.7" r="2.1" fill="#f3a6c6" stroke="#333" stroke-width="0.5"/>
<circle cx="181.1" cy="267.3" r="2.1" fill="#f3a6c6" stroke="#333" stroke-width="0.5"/>
<circle cx="181.1" cy="274.8" r="2.1" fill="#f3a6c6" stroke="#333" stroke-width="0.5"/>
<circle cx="181.9" cy="282.4" r="2.1" fill="#f3a6c6" stroke="#333" stroke-width="0.5"/>
<circle cx="183.5" cy="289.7" r="2.1" fill="#f3a6c6" stroke="#333" stroke-width="0.5"/>
<circle cx="186" cy="296.9" r="2.1" fill="#f3a6c6" stroke="#333" stroke-width="0.5"/>
<circle cx="189.2" cy="303.7" r="2.1" fill="#f3a6c6" stroke="#333" stroke-width="0.5"/>
<circle cx="193.2" cy="310.2" r="2.1" fill="#f3a6c6" stroke="#333" stroke-width="0.5"/>
<circle cx="197.8" cy="316.2" r="2.1" fill="#f3a6c6" stroke="#333" stroke-width="0.5"/>
<circle cx="203.1" cy="321.6" r="2.1" fill="#f3a6c6" stroke="#333" stroke-width="0.5"/>
<circle cx="209" cy="326.4" r="2.1" fill="#f3a6c6" stroke="#333" stroke-width="0.5"/>
<circle cx="215.3" cy="330.5" r="2.1" fill="#f3a6c6" stroke="#333" stroke-width="0.5"/>
<circle cx="222.1" cy="334" r="2.1" fill="#f3a6c6" stroke="#333" stroke-width="0.5"/>
<circle cx="229.1" cy="336.6" r="2.1" fill="#f3a6c6" stroke="#333" stroke-width="0.5"/>
<circle cx="236.5" cy="338.5" r="2.1" fill="#f3a6c6" stroke="#333" stroke-width="0.5"/>
<circle cx="244" cy="339.5" r="2.1" fill="#f3a6c6" stroke="#333" stroke-width="0.5"/>
<circle cx="251.5" cy="339.7" r="2.1" fill="#f3a6c6" stroke="#333" stroke-width="0.5"/>
<circle cx="259.1" cy="339.1" r="2.1" fill="#f3a6c6" stroke="#333" stroke-width="0.5"/>
<circle cx="266.5" cy="337.6" r="2.1" fill="#f3a6c6" stroke="#333" stroke-width="0.5"/>
<circle cx="273.7" cy="335.4" r="2.1" fill="#f3a6c6" stroke="#333" stroke-width="0.5"/>
<circle cx="280.7" cy="332.3" r="2.1" fill="#f3a6c6" stroke="#333" stroke-width="0.5"/>
<circle cx="287.2" cy="328.6" r="2.1" fill="#f3a6c6" stroke="#333" stroke-width="0.5"/>
<circle cx="293.3" cy="324.1" r="2.1" fill="#f3a6c6" stroke="#333" stroke-width="0.5"/>
<circle cx="298.9" cy="319" r="2.1" fill="#f3a6c6" stroke="#333" stroke-width="0.5"/>
<circle cx="303.9" cy="313.2" r="2.1" fill="#b27758" stroke="#333" stroke-width="0.5"/>
<circle cx="308.2" cy="307" r="2.1" fill="#b27758" stroke="#333" stroke-width="0.5"/>
<circle cx="311.8" cy="300.4" r="2.1" fill="#b27758" stroke="#333" stroke-width="0.5"/>
<circle cx="314.6" cy="293.4" r="2.1" fill="#b27758" stroke="#333" stroke-width="0.5"/>
<circle cx="316.7" cy="286.1" r="2.1" fill="#b27758" stroke="#333" stroke-width="0.5"/>
<circle cx="317.9" cy="278.6" r="2.1" fill="#b27758" stroke="#333" stroke-width="0.5"/>
<text x="249.5" y="267.3" font-size="10.9" text-anchor="middle" fill="#333" textLength="13.1" lengthAdjust="spacingAndGlyphs">No</text>
<text x="249.5" y="280.0" font-size="10.9" text-anchor="middle" fill="#333" textLength="49.2" lengthAdjust="spacingAndGlyphs">interaction</text>
<circle cx="159.5" cy="447.3" r="2.1" fill="#fbeedc" stroke="#333" stroke-width="0.5"/>
<circle cx="159.2" cy="441.4" r="2.1" fill="#fbeedc" stroke="#333" stroke-width="0.5"/>
<circle cx="158.5" cy="435.5" r="2.1" fill="#fbeedc" stroke="#333" stroke-width="0.5"/>
<circle cx="157.2" cy="429.8" r="2.1" fill="#fbeedc" stroke="#333" stroke-width="0.5"/>
<circle cx="155.5" cy="424.1" r="2.1" fill="#fbeedc" stroke="#333" stroke-width="0.5"/>
<circle cx="153.2" cy="418.7" r="2.1" fill="#fbeedc" stroke="#333" stroke-width="0.5"/>
<circle cx="150.6" cy="413.4" r="2.1" fill="#fbeedc" stroke="#333" stroke-width="0.5"/>
<circle cx="147.4" cy="408.4" r="2.1" fill="#fbeedc" stroke="#333" stroke-width="0.5"/>
<circle cx="143.9" cy="403.7" r="2.1" fill="#a8d5a0" stroke="#333" stroke-width="0.5"/>
<circle cx="139.9" cy="399.3" r="2.1" fill="#a8d5a0" stroke="#333" stroke-width="0.5"/>
<circle cx="135.6" cy="395.3" r="2.1" fill="#a8d5a0" stroke="#333" stroke-width="0.5"/>
<circle cx="131" cy="391.6" r="2.1" fill="#a8d5a0" stroke="#333" stroke-width="0.5"/>
<circle cx="126" cy="388.4" r="2.1" fill="#a8d5a0" stroke="#333" stroke-width="0.5"/>
<circle cx="120.9" cy="385.6" r="2.1" fill="#a8d5a0" stroke="#333" stroke-width="0.5"/>
<circle cx="115.4" cy="383.2" r="2.1" fill="#a8d5a0" stroke="#333" stroke-width="0.5"/>
<circle cx="109.8" cy="381.4" r="2.1" fill="#a8d5a0" stroke="#333" stroke-width="0.5"/>
<circle cx="104.1" cy="380" r="2.1" fill="#f3a6c6" stroke="#333" stroke-width="0.5"/>
<circle cx="98.3" cy="379.1" r="2.1" fill="#f3a6c6" stroke="#333" stroke-width="0.5"/>
<circle cx="92.4" cy="378.7" r="2.1" fill="#f3a6c6" stroke="#333" stroke-width="0.5"/>
<circle cx="86.5" cy="378.8" r="2.1" fill="#b27758" stroke="#333" stroke-width="0.5"/>
<circle cx="80.6" cy="379.5" r="2.1" fill="#b27758" stroke="#333" stroke-width="0.5"/>
<circle cx="74.8" cy="380.6" r="2.1" fill="#b27758" stroke="#333" stroke-width="0.5"/>
<circle cx="69.1" cy="382.2" r="2.1" fill="#b27758" stroke="#333" stroke-width="0.5"/>
<circle cx="63.6" cy="384.4" r="2.1" fill="#b27758" stroke="#333" stroke-width="0.5"/>
<circle cx="58.3" cy="386.9" r="2.1" fill="#b27758" stroke="#333" stroke-width="0.5"/>
<circle cx="53.2" cy="390" r="2.1" fill="#b27758" stroke="#333" stroke-width="0.5"/>
<circle cx="48.5" cy="393.4" r="2.1" fill="#b27758" stroke="#333" stroke-width="0.5"/>
<circle cx="44" cy="397.3" r="2.1" fill="#b27758" stroke="#333" stroke-width="0.5"/>
<circle cx="39.9" cy="401.5" r="2.1" fill="#b27758" stroke="#333" stroke-width="0.5"/>
<circle cx="36.1" cy="406" r="2.1" fill="#b27758" stroke="#333" stroke-width="0.5"/>
<circle cx="32.8" cy="410.9" r="2.1" fill="#b27758" stroke="#333" stroke-width="0.5"/>
<circle cx="29.8" cy="416" r="2.1" fill="#b27758" stroke="#333" stroke-width="0.5"/>
<circle cx="27.4" cy="421.4" r="2.1" fill="#b27758" stroke="#333" stroke-width="0.5"/>
<circle cx="25.4" cy="426.9" r="2.1" fill="#b27758" stroke="#333" stroke-width="0.5"/>
<circle cx="23.9" cy="432.7" r="2.1" fill="#b27758" stroke="#333" stroke-width="0.5"/>
<circle cx="22.9" cy="438.5" r="2.1" fill="#b27758" stroke="#333" stroke-width="0.5"/>
<circle cx="22.4" cy="444.3" r="2.1" fill="#b27758" stroke="#333" stroke-width="0.5"/>
<circle cx="22.4" cy="450.3" r="2.1" fill="#b27758" stroke="#333" stroke-width="0.5"/>
<circle cx="22.9" cy="456.1" r="2.1" fill="#b27758" stroke="#333" stroke-width="0.5"/>
<circle cx="23.9" cy="461.9" r="2.1" fill="#b27758" stroke="#333" stroke-width="0.5"/>
<circle cx="25.4" cy="467.7" r="2.1" fill="#b27758" stroke="#333" stroke-width="0.5"/>
<circle cx="27.4" cy="473.2" r="2.1" fill="#b27758" stroke="#333" stroke-width="0.5"/>
<circle cx="29.8" cy="478.6" r="2.1" fill="#b27758" stroke="#333" stroke-width="0.5"/>
<circle cx="32.8" cy="483.7" r="2.1" fill="#b27758" stroke="#333" stroke-width="0.5"/>
<circle cx="36.1" cy="488.6" r="2.1" fill="#b27758" stroke="#333" stroke-width="0.5"/>
<circle cx="39.9" cy="493.1" r="2.1" fill="#b27758" stroke="#333" stroke-width="0.5"/>
<circle cx="44" cy="497.3" r="2.1" fill="#b27758" stroke="#333" stroke-width="0.5"/>
<circle cx="48.5" cy="501.2" r="2.1" fill="#b27758" stroke="#333" stroke-width="0.5"/>
<circle cx="53.2" cy="504.6" r="2.1" fill="#b27758" stroke="#333" stroke-width="0.5"/>
<circle cx="58.3" cy="507.7" r="2.1" fill="#b27758" stroke="#333" stroke-width="0.5"/>
<circle cx="63.6" cy="510.2" r="2.1" fill="#b27758" stroke="#333" stroke-width="0.5"/>
<circle cx="69.1" cy="512.4" r="2.1" fill="#b27758" stroke="#333" stroke-width="0.5"/>
<circle cx="74.8" cy="514" r="2.1" fill="#b27758" stroke="#333" stroke-width="0.5"/>
<circle cx="80.6" cy="515.1" r="2.1" fill="#b27758" stroke="#333" stroke-width="0.5"/>
<circle cx="86.5" cy="515.8" r="2.1" fill="#b27758" stroke="#333" stroke-width="0.5"/>
<circle cx="92.4" cy="515.9" r="2.1" fill="#b27758" stroke="#333" stroke-width="0.5"/>
<circle cx="98.3" cy="515.5" r="2.1" fill="#b27758" stroke="#333" stroke-width="0.5"/>
<circle cx="104.1" cy="514.6" r="2.1" fill="#b27758" stroke="#333" stroke-width="0.5"/>
<circle cx="109.8" cy="513.2" r="2.1" fill="#b27758" stroke="#333" stroke-width="0.5"/>
<circle cx="115.4" cy="511.4" r="2.1" fill="#b27758" stroke="#333" stroke-width="0.5"/>
<circle cx="120.9" cy="509" r="2.1" fill="#b27758" stroke="#333" stroke-width="0.5"/>
<circle cx="126" cy="506.2" r="2.1" fill="#b27758" stroke="#333" stroke-width="0.5"/>
<circle cx="131" cy="503" r="2.1" fill="#b27758" stroke="#333" stroke-width="0.5"/>
<circle cx="135.6" cy="499.3" r="2.1" fill="#b27758" stroke="#333" stroke-width="0.5"/>
<circle cx="139.9" cy="495.3" r="2.1" fill="#b27758" stroke="#333" stroke-width="0.5"/>
<circle cx="143.9" cy="490.9" r="2.1" fill="#b27758" stroke="#333" stroke-width="0.5"/>
<circle cx="147.4" cy="486.2" r="2.1" fill="#b27758" stroke="#333" stroke-width="0.5"/>
<circle cx="150.6" cy="481.2" r="2.1" fill="#b27758" stroke="#333" stroke-width="0.5"/>
<circle cx="153.2" cy="475.9" r="2.1" fill="#b27758" stroke="#333" stroke-width="0.5"/>
<circle cx="155.5" cy="470.5" r="2.1" fill="#b27758" stroke="#333" stroke-width="0.5"/>
<circle cx="157.2" cy="464.8" r="2.1" fill="#b27758" stroke="#333" stroke-width="0.5"/>
<circle cx="158.5" cy="459.1" r="2.1" fill="#b27758" stroke="#333" stroke-width="0.5"/>
<circle cx="159.2" cy="453.2" r="2.1" fill="#b27758" stroke="#333" stroke-width="0.5"/>
<text x="90.7" y="443.8" font-size="10.9" text-anchor="middle" fill="#333" textLength="13.1" lengthAdjust="spacingAndGlyphs">No</text>
<text x="90.7" y="456.3" font-size="10.9" text-anchor="middle" fill="#333" textLength="49.2" lengthAdjust="spacingAndGlyphs">interaction</text>
<path d="M180.3 457Q234.9 468.6 263.2 516.6M280.3 385Q265 384.4 251.2 378M181.3 433Q187.2 453.3 184.9 474.4M211.3 389.4Q276.3 429.6 290.6 504.8M181.3 433Q255.4 428.1 315.6 471.6M285.6 508.1Q293.1 498.4 303.8 492.4M211.3 389.4Q207.6 394.5 201.8 396.9M285.6 387.8Q282.5 461.3 233.3 516M299.7 399Q276.4 392.9 257.2 378.4M206.4 393Q199.6 410.2 184.9 421.5M251.2 378Q241.3 444.9 206.4 502.9M216.5 386.3Q237.1 446.9 206.4 502.9M299.7 399Q282.9 466.8 233.3 516M221.9 383.7Q227 441.9 193.8 490.1M206.4 502.9Q248.9 485.3 290.6 504.8M299.7 399Q305.7 457.7 280.3 510.9M181.3 462.9Q237.5 473.1 280.3 510.9M257.2 378.4Q286.5 438.2 290.6 504.8M184.9 421.5Q255.9 438.5 299.7 496.9M299.7 399Q245.2 429.4 182.9 427.2M221.9 383.7Q220.3 438.8 190.4 485.1M227.5 381.6Q271.4 436.9 290.6 504.8M280.3 385Q236.9 409.8 187.4 416M216.5 386.3Q274 422.1 313.3 477.2M318.7 436Q272 482 211.3 506.5M206.4 393Q273.9 422.1 307.4 487.6M269 380.7Q232.7 412.9 184.9 421.5M290.6 504.8Q299.8 485.7 315.6 471.6M193.8 405.8Q195.5 436.1 181.3 462.9M280.3 385Q252.4 449.8 201.8 499M299.7 399Q274.8 468.6 211.3 506.5M290.6 391.1Q269.6 388.5 251.2 378M227.5 514.3Q258.1 503.2 290.6 504.8M290.6 504.8Q300.2 479.5 318.7 459.9M299.7 399Q293.8 396.7 290.6 391.1M303.8 403.5Q318.8 439 313.3 477.2M206.4 502.9Q236.2 504.1 263.2 516.6M180.3 457Q240.1 467.8 285.6 508.1M216.5 386.3Q209.6 429.5 181.3 462.9M193.8 405.8Q260.1 439.4 280.3 510.9M285.6 387.8Q292.7 451.7 274.7 513.3M290.6 391.1Q304.5 450.3 285.6 508.1M221.9 383.7Q236.8 447.4 216.5 509.6M257.2 378.4Q276.3 450.2 245.2 517.8M190.4 410.8Q259.2 419.5 319.4 454M233.3 379.9Q224.4 389.5 211.3 389.4M295.3 394.9Q289.3 466.1 239.2 517.2M184.9 474.4Q197.8 483.7 201.8 499M233.3 379.9Q230.8 440.2 190.4 485.1M187.4 479.9Q201.1 488 206.4 502.9M245.2 378.1Q223.1 429.6 182.9 468.7M197.6 494.7Q226.7 501 251.2 517.9M280.3 385Q307 443 290.6 504.8M251.2 378Q227.9 417.6 182.9 427.2M274.7 513.3Q281.5 506.8 290.6 504.8M285.6 387.8Q267 387.7 251.2 378M206.4 502.9Q212.1 505.2 216.5 509.6M206.4 393Q230.6 447.9 206.4 502.9M221.9 512.2Q259.3 487.6 303.8 492.4M290.6 391.1Q302 447.9 290.6 504.8M227.5 514.3Q245.6 511.9 263.2 516.6M206.4 502.9Q252.1 453.6 319.4 454M245.2 378.1Q231.9 434.5 181.3 462.9M285.6 508.1Q292.2 479.9 317.4 465.8M295.3 394.9Q316.3 427.3 317.4 465.8M251.2 378Q248.3 447.4 201.8 499M295.3 394.9Q262.7 463.1 190.4 485.1M303.8 492.4Q305.9 479.9 315.6 471.6M206.4 502.9Q253.2 480.2 303.8 492.4M251.2 378Q298.8 432.7 290.6 504.8M285.6 387.8Q302.4 447.9 285.6 508.1M193.8 405.8Q213.7 452.6 206.4 502.9M251.2 378Q230.7 398.3 201.8 396.9M190.4 485.1Q206.8 493.7 216.5 509.6M182.9 427.2Q256.7 431.9 310.6 482.5M310.6 413.4Q313.4 461.9 290.6 504.8M274.7 382.6Q250.9 390.6 227.5 381.6M181.3 433Q209.2 462.5 206.4 502.9M184.9 421.5Q192.4 445.5 182.9 468.7M315.6 471.6Q316 465.5 318.7 459.9M182.9 427.2Q250.7 446.6 290.6 504.8M216.5 386.3Q204 419.3 179.8 444.9M187.4 479.9Q207.9 492.6 221.9 512.2M303.8 492.4Q305.4 473.5 318.7 459.9M206.4 502.9Q250.7 493.1 295.3 501M187.4 479.9Q224.6 486.1 245.2 517.8M290.6 391.1Q257.7 395.2 227.5 381.6M285.6 387.8Q266.7 459.6 206.4 502.9M295.3 394.9Q260.5 458.5 197.6 494.7M211.3 506.5Q248.8 490.9 285.6 508.1M180.3 438.9Q248.1 450.3 285.6 508.1M201.8 396.9Q199.5 419.5 181.3 433M269 380.7Q252.7 449.3 211.3 506.5M285.6 387.8Q241.3 426 182.9 427.2M299.7 399Q316.6 456.6 285.6 508.1M285.6 387.8Q270.4 385.9 257.2 378.4M295.3 394.9Q246.5 443 182.9 468.7M216.5 386.3Q282.8 397.5 319.4 454M299.7 399Q288.6 393.9 280.3 385M184.9 474.4Q250.1 450.7 319.4 454M299.7 399Q272.8 470.5 201.8 499M295.3 394.9Q296.9 456.2 274.7 513.3M251.2 378Q271.1 446.1 263.2 516.6M187.4 479.9Q249.7 447.5 315.6 471.6M295.3 394.9Q247.1 407.8 197.6 401.2M239.2 378.7Q235.2 444.1 206.4 502.9M182.9 468.7Q202.2 480.7 206.4 502.9M206.4 502.9Q225.9 502.8 239.2 517.2M285.6 387.8Q240.4 415.7 187.4 416M182.9 427.2Q202.2 462.7 206.4 502.9M257.2 378.4Q297.6 426 307.4 487.6M257.2 378.4Q254.2 379 251.2 378M295.3 394.9Q287.5 463.4 245.2 517.8M319.7 447.9Q291.2 422 280.3 385M193.8 490.1Q242.9 482.5 285.6 508.1M299.7 399Q310 453.2 290.6 504.8M181.3 433Q255.6 435.8 303.8 492.4M197.6 401.2Q249.3 448.2 269 515.2M182.9 468.7Q245.7 468.5 303.8 492.4M187.4 416Q229.5 460.6 251.2 517.9M295.3 394.9Q286 392.6 280.3 385M295.3 394.9Q279.1 393.6 269 380.7M257.2 378.4Q234.5 436.5 184.9 474.4M221.9 512.2Q263.3 488.5 310.6 482.5M269 380.7Q307.1 438 290.6 504.8M285.6 387.8Q240.1 428.1 180.3 438.9M315.6 424.3Q267.4 418.3 239.2 378.7M280.3 385Q298.1 452.1 269 515.2M239.2 378.7Q236.5 442.6 193.8 490.1M239.2 378.7Q216.3 405.6 184.9 421.5M285.6 387.8Q242.3 438.5 182.9 468.7M290.6 391.1Q279.6 466.7 216.5 509.6M227.5 381.6Q233.9 445.2 206.4 502.9M190.4 410.8Q261.2 435.7 290.6 504.8M201.8 396.9Q263.9 439.1 274.7 513.3M299.7 399Q322.6 425.3 318.7 459.9M187.4 416Q247.4 449.7 263.2 516.6M290.6 391.1Q275.2 389 263.2 379.3M182.9 468.7Q244.7 463 290.6 504.8M201.8 499Q252.7 460.3 315.6 471.6M299.7 399Q304.6 467.6 257.2 517.5M257.2 378.4Q248.2 380.4 239.2 378.7M193.8 490.1Q245.4 476.1 290.6 504.8M239.2 517.2Q271 483.7 315.6 471.6M193.8 405.8Q192.2 427.4 179.8 444.9M181.3 433Q198.2 464 201.8 499M206.4 502.9Q254.8 461.2 318.7 459.9M285.6 387.8Q318.6 419.8 317.4 465.8M295.3 394.9Q270.9 392.6 251.2 378M184.9 421.5Q203.8 460.1 206.4 502.9M180.3 457Q208.8 478.7 221.9 512.2M269 380.7Q254.8 450.6 206.4 502.9M280.3 385Q268.1 384 257.2 378.4M299.7 399Q284.3 395.3 274.7 382.6M310.6 413.4Q265.9 405.8 227.5 381.6M257.2 378.4Q306.9 412.1 315.6 471.6M263.2 379.3Q256.9 381.2 251.2 378M179.8 444.9Q201.2 470.2 206.4 502.9M274.7 382.6Q309.5 440.2 290.6 504.8M180.3 457Q183.2 462.5 182.9 468.7M233.3 379.9Q287.6 432.5 285.6 508.1M299.7 399Q323.5 438.4 310.6 482.5M227.5 514.3Q262.6 467.6 319.4 454M257.2 378.4Q287.3 441.4 280.3 510.9M280.3 385Q261.2 389.3 245.2 378.1M285.6 387.8Q238 420.8 181.3 433M182.9 427.2Q234.7 462.6 269 515.2M251.2 378Q258.4 449.5 227.5 514.3M290.6 391.1Q314 431 313.3 477.2M303.8 492.4Q304.5 489.2 307.4 487.6M251.2 378Q303 404.1 318.7 459.9M245.2 378.1Q228.5 434.7 184.9 474.4M315.6 424.3Q319 472.8 285.6 508.1M251.2 378Q245.4 381 239.2 378.7M251.2 378Q242.7 444.4 193.8 490.1M182.9 468.7Q245.2 466.5 299.7 496.9M290.6 391.1Q250.6 407.7 211.3 389.4M197.6 494.7Q245.5 486.7 290.6 504.8M290.6 391.1Q255.2 397.1 221.9 383.7M263.2 379.3Q244 444.4 193.8 490.1M299.7 399Q285.7 472.7 221.9 512.2M182.9 427.2Q185.7 445.2 181.3 462.9M193.8 405.8Q206.3 446.1 190.4 485.1M251.2 378Q237.6 386.1 221.9 383.7M181.3 462.9Q224 480.6 251.2 517.9M184.9 421.5Q190.2 447.9 184.9 474.4M290.6 391.1Q257 454 201.8 499M187.4 479.9Q190 481.8 190.4 485.1M319.4 441.9Q251.6 477.2 179.8 451M239.2 378.7Q292.9 401.9 319.4 454M239.2 378.7Q227.6 390.2 211.3 389.4M180.3 438.9Q207.4 465.2 206.4 502.9M285.6 508.1Q295.5 485.6 315.6 471.6M303.8 403.5Q319.3 432.7 317.4 465.8M180.3 457Q250.4 436.7 317.4 465.8M280.3 510.9Q287.3 473.8 319.4 454M257.2 378.4Q233.3 390.7 206.4 393M206.4 393Q220.3 445.4 197.6 494.7M315.6 424.3Q256.6 423.9 206.4 393M211.3 506.5Q254.7 459.6 318.7 459.9M239.2 378.7Q221.5 408.8 187.4 416M295.3 394.9Q248.9 409 201.8 396.9M206.4 393Q197.9 418.6 180.3 438.9M257.2 378.4Q295.1 422.1 313.3 477.2M285.6 508.1Q287.4 505.3 290.6 504.8M184.9 474.4Q242 474.8 290.6 504.8M181.3 462.9Q217.9 481.9 239.2 517.2M184.9 474.4Q241.3 473.1 285.6 508.1M280.3 385Q237.9 406.9 190.4 410.8M274.7 382.6Q268.6 382.1 263.2 379.3M184.9 421.5Q194 452.8 190.4 485.1M239.2 378.7Q280.5 436.9 285.6 508.1M193.8 405.8Q214.6 451 201.8 499M299.7 399Q293.2 461.5 263.2 516.6M190.4 485.1Q246.4 470 295.3 501M290.6 391.1Q260.4 393.5 233.3 379.9M257.2 378.4Q256.1 450.9 201.8 499M280.3 385Q241.5 439.2 184.9 474.4M221.9 383.7Q278 431.9 290.6 504.8M315.6 424.3Q305.1 413.2 299.7 399M201.8 499Q204.8 500.2 206.4 502.9M233.3 379.9Q287.2 408 318.7 459.9M201.8 396.9Q227.4 448.9 206.4 502.9M184.9 421.5Q228.5 461.2 245.2 517.8M299.7 399Q247.7 417.2 193.8 405.8M251.2 378Q293.1 415.3 317.4 465.8M201.8 396.9Q244.5 450.6 263.2 516.6M251.2 378Q270.3 449.7 239.2 517.2M313.3 418.7Q278.2 404.6 251.2 378M182.9 468.7Q187.1 473.5 187.4 479.9M280.3 385Q284.3 455.5 251.2 517.9M211.3 506.5Q258.5 484.6 310.6 482.5M245.2 378.1Q292.5 421.2 310.6 482.5M251.2 378Q239.9 383.1 227.5 381.6M274.7 513.3Q277.1 511.1 280.3 510.9M187.4 479.9Q245.2 471 295.3 501M180.3 438.9Q205.2 468.4 211.3 506.5M211.3 389.4Q205.5 404.7 190.4 410.8M179.8 451Q216.1 478.1 239.2 517.2M303.8 403.5Q277 474.6 206.4 502.9M299.7 399Q271.8 467.8 206.4 502.9M206.4 393Q210.3 437.5 184.9 474.4M299.7 399Q255.9 457.4 184.9 474.4M201.8 499Q216.2 504.1 227.5 514.3M285.6 387.8Q260.3 454.6 211.3 506.5M245.2 378.1Q239.6 443.3 193.8 490.1M227.5 514.3Q250.9 505.3 274.7 513.3M227.5 514.3Q255.2 498.4 285.6 508.1M233.3 379.9Q234.9 445.4 211.3 506.5M181.3 462.9Q196.6 478.1 201.8 499M269 380.7Q232.5 419.1 181.3 433M313.3 418.7Q323.8 441.6 317.4 465.8M280.3 385Q244.8 402.3 206.4 393M179.8 444.9Q253.2 425.1 317.4 465.8M280.3 385Q302.8 436.4 303.8 492.4M290.6 391.1Q266.1 391 245.2 378.1M193.8 405.8Q249.9 447.8 285.6 508.1M295.3 394.9Q300.3 466.1 251.2 517.9M313.3 418.7Q250.4 436.9 190.4 410.8M206.4 502.9Q255.6 478.1 310.6 482.5M280.3 510.9Q284.6 506.4 290.6 504.8M179.8 444.9Q243.6 459.3 290.6 504.8M303.8 403.5Q300.8 402.1 299.7 399M182.9 468.7Q212.8 487.3 233.3 516M239.2 378.7Q267.2 447.2 245.2 517.8M245.2 378.1Q239.6 381.1 233.3 379.9M201.8 396.9Q273.8 422.2 303.8 492.4M201.8 499Q248.9 486.9 295.3 501M295.3 394.9Q321 441.8 303.8 492.4M295.3 394.9Q250.7 402.8 206.4 393M182.9 427.2Q190.5 450.5 184.9 474.4M295.3 394.9Q263.2 460 201.8 499M239.2 378.7Q221.4 400.5 193.8 405.8M280.3 385Q241.2 404.7 197.6 401.2M233.3 379.9Q226.1 435.9 184.9 474.4M280.3 385Q237.5 431 180.3 457M251.2 517.9Q275.1 483.2 315.6 471.6M245.2 378.1Q297.2 412.2 315.6 471.6M303.8 403.5Q264.3 404.4 233.3 379.9M184.9 474.4Q235.3 481.3 274.7 513.3M187.4 416Q188.5 434.6 179.8 451M290.6 391.1Q311.8 453.3 280.3 510.9M290.6 391.1Q273.1 465.6 206.4 502.9M201.8 499Q252.6 466.8 310.6 482.5M257.2 378.4Q228.3 403.9 190.4 410.8M290.6 391.1Q242.5 418 187.4 416M184.9 474.4Q203.9 485.7 211.3 506.5M184.9 474.4Q208.4 485 216.5 509.6M184.9 474.4Q227.6 481.6 251.2 517.9M295.3 394.9Q320.4 419.1 319.4 454M233.3 379.9Q270 444.4 257.2 517.5M257.2 378.4Q238.3 389.7 216.5 386.3M280.3 385Q250.9 390.2 221.9 383.7M221.9 383.7Q216.1 434.2 184.9 474.4M295.3 394.9Q277.1 391.6 263.2 379.3M201.8 499Q250.6 488.2 299.7 496.9M280.3 385Q247.9 445.7 181.3 462.9M299.7 399Q251.1 450.2 182.9 468.7M318.7 436Q249.8 447.5 184.9 421.5M299.7 399Q248.8 445.2 180.3 438.9M187.4 416Q229.1 456.4 227.5 514.3M285.6 387.8Q256.6 453.6 197.6 494.7M251.2 378Q279.3 446.7 257.2 517.5M295.3 394.9Q315.4 453.6 285.6 508.1M285.6 387.8Q254.3 453.3 184.9 474.4M295.3 394.9Q317.1 450.9 290.6 504.8M295.3 394.9Q268.9 462.4 211.3 506.5M251.2 378Q222.2 418.6 179.8 444.9M280.3 385Q282.3 461.3 227.5 514.3M285.6 387.8Q282.6 386.9 280.3 385M280.3 385Q246.6 444.4 182.9 468.7M310.6 413.4Q293.5 405.1 285.6 387.8M201.8 499Q252.3 457 317.4 465.8M285.6 508.1Q289.2 502.8 295.3 501M303.8 403.5Q273.8 473.7 201.8 499M315.6 424.3Q290.8 411 280.3 385M257.2 378.4Q289.6 439.2 285.6 508.1M290.6 391.1Q284.3 389.9 280.3 385M184.9 474.4Q193.3 483.3 197.6 494.7M299.7 496.9Q302.1 480.8 315.6 471.6M184.9 474.4Q240.6 471.7 280.3 510.9M251.2 378Q261.6 449.5 233.3 516M197.6 401.2Q224.4 450.1 206.4 502.9M227.5 514.3Q243.1 509.4 257.2 517.5M280.3 385Q255.1 451.3 206.4 502.9M251.2 378Q262.2 448.5 245.2 517.8M233.3 516Q242.6 513.7 251.2 517.9M180.3 438.9Q186.1 456.2 184.9 474.4M319.4 441.9Q256 479.9 182.9 468.7M280.3 385Q300.1 445.8 285.6 508.1M319.4 441.9Q273.9 492.8 206.4 502.9M239.2 378.7Q293.5 405 318.7 459.9M184.9 421.5Q184.7 433.7 179.8 444.9M184.9 474.4Q187.3 476.6 187.4 479.9M180.3 438.9Q196.2 462.1 193.8 490.1M206.4 502.9Q238.9 502.8 269 515.2M201.8 499Q246.8 493 290.6 504.8M221.9 383.7Q232.6 445 201.8 499M245.2 378.1Q285.6 435.1 290.6 504.8M190.4 410.8Q188.3 419.7 182.9 427.2M319.4 441.9Q314.4 481.1 285.6 508.1M313.3 418.7Q317.5 459.7 299.7 496.9M211.3 506.5Q223.2 509 233.3 516M182.9 427.2Q185.7 442.4 180.3 457M274.7 513.3Q279.6 509.6 285.6 508.1M315.6 424.3Q311.1 467 290.6 504.8M299.7 399Q245.5 426.3 184.9 421.5M180.3 438.9Q251.5 438.7 317.4 465.8M318.7 436Q279.1 413.7 251.2 378M187.4 416Q215 458.7 216.5 509.6M211.3 506.5Q253.4 482.2 299.7 496.9M299.7 399Q273.4 393.3 251.2 378M280.3 510.9Q294.3 484.7 317.4 465.8M285.6 508.1Q296.4 489.8 313.3 477.2M216.5 509.6Q252.7 493.8 290.6 504.8M245.2 517.8Q269.2 472.7 318.7 459.9M280.3 385Q239.1 404.1 193.8 405.8M251.2 378Q259.5 451 211.3 506.5M317.4 430.1Q277 413.3 251.2 378M184.9 474.4Q249.4 462.9 313.3 477.2M182.9 427.2Q255.1 433.9 313.3 477.2M269 515.2Q277.5 505.2 290.6 504.8M193.8 405.8Q264.4 429.3 303.8 492.4M245.2 378.1Q272.8 448.9 239.2 517.2M251.2 378Q228.6 427.3 179.8 451M290.6 391.1Q241.8 427.4 181.3 433M274.7 382.6Q250 448.3 184.9 474.4M206.4 502.9Q230.3 506 251.2 517.9M299.7 399Q262.3 404.1 233.3 379.9M299.7 399Q280.3 396.6 269 380.7M201.8 396.9Q268.2 424.5 310.6 482.5M206.4 393Q259.7 442.8 269 515.2M245.2 517.8Q248.2 516.8 251.2 517.9M257.2 378.4Q291.9 430.7 303.8 492.4M318.7 436Q257.2 473.9 184.9 474.4M211.3 506.5Q257 467 317.4 465.8M290.6 391.1Q277.9 389.8 269 380.7M269 380.7Q262.9 380.7 257.2 378.4M310.6 413.4Q251.4 432.1 197.6 401.2M190.4 410.8Q237 454.4 245.2 517.8M233.3 379.9Q282.9 429.1 299.7 496.9M216.5 386.3Q234.8 449.2 227.5 514.3M295.3 394.9Q261 401 233.3 379.9M181.3 433Q246 453.6 290.6 504.8M295.3 394.9Q306 462.8 263.2 516.6M184.9 421.5Q252.7 444.1 290.6 504.8M181.3 433Q247 451.8 285.6 508.1M180.3 438.9Q201.9 465.1 201.8 499M245.2 378.1Q236.8 382.3 227.5 381.6M290.6 391.1Q247.3 443.9 180.3 457M184.9 421.5Q201.1 458.6 201.8 499M313.3 418.7Q281.6 485.1 211.3 506.5M179.8 451Q249.2 449.4 303.8 492.4M251.2 378Q290.3 442.7 269 515.2M263.2 516.6Q268.6 513.8 274.7 513.3M290.6 504.8Q298.4 491.6 310.6 482.5M216.5 386.3Q273.1 425 310.6 482.5M299.7 399Q317.3 423.7 319.4 454M245.2 378.1Q297.1 409 317.4 465.8M299.7 399Q269.1 462.6 216.5 509.6M310.6 482.5Q308.7 466.3 319.4 454M221.9 383.7Q209.4 420.2 179.8 444.9M180.3 457Q185.7 464.8 184.9 474.4M257.2 378.4Q236.5 438.9 187.4 479.9M257.2 378.4Q268.2 448.7 251.2 517.9M257.2 378.4Q231.3 422.4 181.3 433M263.2 516.6Q265.8 514.6 269 515.2M251.2 378Q297 435.5 285.6 508.1M201.8 499Q252.8 463.6 313.3 477.2M206.4 393Q243.3 449.9 245.2 517.8M274.7 382.6Q285.1 449.5 269 515.2M187.4 479.9Q251 456.8 318.7 459.9M257.2 378.4Q279.5 444.1 274.7 513.3M245.2 378.1Q290.5 427.1 303.8 492.4M245.2 378.1Q273.6 444.9 263.2 516.6M197.6 401.2Q247.1 449 245.2 517.8M187.4 416Q201 452.2 193.8 490.1M280.3 385Q317.1 423.8 313.3 477.2M257.2 378.4Q282.3 447.9 257.2 517.5M201.8 396.9Q237.3 451.8 239.2 517.2M263.2 379.3Q248.4 386.2 233.3 379.9M290.6 391.1Q246.3 416.6 197.6 401.2M290.6 391.1Q252.7 451.8 184.9 474.4M190.4 410.8Q246.9 450.2 274.7 513.3M280.3 385Q308.7 440.3 295.3 501M239.2 517.2Q268 490.1 307.4 487.6M269 380.7Q265.8 381 263.2 379.3M299.7 399Q269.7 469.3 197.6 494.7M257.2 378.4Q251.2 379.9 245.2 378.1M251.2 378Q239.3 440.8 184.9 474.4" fill="none" stroke="#3a3a3a" stroke-opacity="0.45" stroke-width="0.4"/>
<path d="M244.3 378.1a0.85 0.85 0 1 0 1.7 0a0.85 0.85 0 1 0 -1.7 0M238.3 378.7a0.85 0.85 0 1 0 1.7 0a0.85 0.85 0 1 0 -1.7 0M232.4 379.9a0.85 0.85 0 1 0 1.7 0a0.85 0.85 0 1 0 -1.7 0M226.6 381.6a0.85 0.85 0 1 0 1.7 0a0.85 0.85 0 1 0 -1.7 0M221 383.7a0.85 0.85 0 1 0 1.7 0a0.85 0.85 0 1 0 -1.7 0M215.6 386.3a0.85 0.85 0 1 0 1.7 0a0.85 0.85 0 1 0 -1.7 0M210.4 389.4a0.85 0.85 0 1 0 1.7 0a0.85 0.85 0 1 0 -1.7 0M205.5 393a0.85 0.85 0 1 0 1.7 0a0.85 0.85 0 1 0 -1.7 0M201 396.9a0.85 0.85 0 1 0 1.7 0a0.85 0.85 0 1 0 -1.7 0M196.8 401.2a0.85 0.85 0 1 0 1.7 0a0.85 0.85 0 1 0 -1.7 0M192.9 405.8a0.85 0.85 0 1 0 1.7 0a0.85 0.85 0 1 0 -1.7 0M189.5 410.8a0.85 0.85 0 1 0 1.7 0a0.85 0.85 0 1 0 -1.7 0M186.5 416a0.85 0.85 0 1 0 1.7 0a0.85 0.85 0 1 0 -1.7 0M184 421.5a0.85 0.85 0 1 0 1.7 0a0.85 0.85 0 1 0 -1.7 0M182 427.2a0.85 0.85 0 1 0 1.7 0a0.85 0.85 0 1 0 -1.7 0M180.5 433a0.85 0.85 0 1 0 1.7 0a0.85 0.85 0 1 0 -1.7 0M179.4 438.9a0.85 0.85 0 1 0 1.7 0a0.85 0.85 0 1 0 -1.7 0M178.9 444.9a0.85 0.85 0 1 0 1.7 0a0.85 0.85 0 1 0 -1.7 0M178.9 451a0.85 0.85 0 1 0 1.7 0a0.85 0.85 0 1 0 -1.7 0M179.4 457a0.85 0.85 0 1 0 1.7 0a0.85 0.85 0 1 0 -1.7 0M180.5 462.9a0.85 0.85 0 1 0 1.7 0a0.85 0.85 0 1 0 -1.7 0M182 468.7a0.85 0.85 0 1 0 1.7 0a0.85 0.85 0 1 0 -1.7 0M186.5 479.9a0.85 0.85 0 1 0 1.7 0a0.85 0.85 0 1 0 -1.7 0M189.5 485.1a0.85 0.85 0 1 0 1.7 0a0.85 0.85 0 1 0 -1.7 0M192.9 490.1a0.85 0.85 0 1 0 1.7 0a0.85 0.85 0 1 0 -1.7 0M196.8 494.7a0.85 0.85 0 1 0 1.7 0a0.85 0.85 0 1 0 -1.7 0M201 499a0.85 0.85 0 1 0 1.7 0a0.85 0.85 0 1 0 -1.7 0M210.4 506.5a0.85 0.85 0 1 0 1.7 0a0.85 0.85 0 1 0 -1.7 0M215.6 509.6a0.85 0.85 0 1 0 1.7 0a0.85 0.85 0 1 0 -1.7 0M221 512.2a0.85 0.85 0 1 0 1.7 0a0.85 0.85 0 1 0 -1.7 0M226.6 514.3a0.85 0.85 0 1 0 1.7 0a0.85 0.85 0 1 0 -1.7 0M232.4 516a0.85 0.85 0 1 0 1.7 0a0.85 0.85 0 1 0 -1.7 0M238.3 517.2a0.85 0.85 0 1 0 1.7 0a0.85 0.85 0 1 0 -1.7 0M244.3 517.8a0.85 0.85 0 1 0 1.7 0a0.85 0.85 0 1 0 -1.7 0M250.4 517.9a0.85 0.85 0 1 0 1.7 0a0.85 0.85 0 1 0 -1.7 0M256.4 517.5a0.85 0.85 0 1 0 1.7 0a0.85 0.85 0 1 0 -1.7 0M262.3 516.6a0.85 0.85 0 1 0 1.7 0a0.85 0.85 0 1 0 -1.7 0M268.2 515.2a0.85 0.85 0 1 0 1.7 0a0.85 0.85 0 1 0 -1.7 0M273.9 513.3a0.85 0.85 0 1 0 1.7 0a0.85 0.85 0 1 0 -1.7 0M279.4 510.9a0.85 0.85 0 1 0 1.7 0a0.85 0.85 0 1 0 -1.7 0M284.7 508.1a0.85 0.85 0 1 0 1.7 0a0.85 0.85 0 1 0 -1.7 0M294.5 501a0.85 0.85 0 1 0 1.7 0a0.85 0.85 0 1 0 -1.7 0M298.9 496.9a0.85 0.85 0 1 0 1.7 0a0.85 0.85 0 1 0 -1.7 0M302.9 492.4a0.85 0.85 0 1 0 1.7 0a0.85 0.85 0 1 0 -1.7 0M306.5 487.6a0.85 0.85 0 1 0 1.7 0a0.85 0.85 0 1 0 -1.7 0M309.7 482.5a0.85 0.85 0 1 0 1.7 0a0.85 0.85 0 1 0 -1.7 0M312.5 477.2a0.85 0.85 0 1 0 1.7 0a0.85 0.85 0 1 0 -1.7 0M314.7 471.6a0.85 0.85 0 1 0 1.7 0a0.85 0.85 0 1 0 -1.7 0M316.5 465.8a0.85 0.85 0 1 0 1.7 0a0.85 0.85 0 1 0 -1.7 0M317.8 459.9a0.85 0.85 0 1 0 1.7 0a0.85 0.85 0 1 0 -1.7 0M318.6 454a0.85 0.85 0 1 0 1.7 0a0.85 0.85 0 1 0 -1.7 0" fill="#553626"/>
<path d="M262.3 379.3a0.85 0.85 0 1 0 1.7 0a0.85 0.85 0 1 0 -1.7 0" fill="#6b4656"/>
<path d="M302.9 403.5a0.85 0.85 0 1 0 1.7 0a0.85 0.85 0 1 0 -1.7 0M273.9 382.6a0.85 0.85 0 1 0 1.7 0a0.85 0.85 0 1 0 -1.7 0M268.2 380.7a0.85 0.85 0 1 0 1.7 0a0.85 0.85 0 1 0 -1.7 0" fill="#47603f"/>
<path d="M318.8 447.9a0.85 0.85 0 1 0 1.7 0a0.85 0.85 0 1 0 -1.7 0M318.6 441.9a0.85 0.85 0 1 0 1.7 0a0.85 0.85 0 1 0 -1.7 0M317.8 436a0.85 0.85 0 1 0 1.7 0a0.85 0.85 0 1 0 -1.7 0M316.5 430.1a0.85 0.85 0 1 0 1.7 0a0.85 0.85 0 1 0 -1.7 0M314.7 424.3a0.85 0.85 0 1 0 1.7 0a0.85 0.85 0 1 0 -1.7 0M312.5 418.7a0.85 0.85 0 1 0 1.7 0a0.85 0.85 0 1 0 -1.7 0M309.7 413.4a0.85 0.85 0 1 0 1.7 0a0.85 0.85 0 1 0 -1.7 0M306.5 408.3a0.85 0.85 0 1 0 1.7 0a0.85 0.85 0 1 0 -1.7 0" fill="#7a7060"/>
<circle cx="299.7" cy="399" r="1.4" fill="#a8d5a0" stroke="#333" stroke-width="0.5"/>
<circle cx="295.3" cy="394.9" r="0.9" fill="#a8d5a0" stroke="#333" stroke-width="0.5"/>
<circle cx="290.6" cy="391.1" r="1.0" fill="#a8d5a0" stroke="#333" stroke-width="0.5"/>
<circle cx="285.6" cy="387.8" r="0.9" fill="#a8d5a0" stroke="#333" stroke-width="0.5"/>
<circle cx="280.3" cy="385" r="2.3" fill="#a8d5a0" stroke="#333" stroke-width="0.5"/>
<circle cx="257.2" cy="378.4" r="0.9" fill="#f3a6c6" stroke="#333" stroke-width="0.5"/>
<circle cx="251.2" cy="378" r="1.9" fill="#f3a6c6" stroke="#333" stroke-width="0.5"/>
<circle cx="184.9" cy="474.4" r="1.0" fill="#b27758" stroke="#333" stroke-width="0.5"/>
<circle cx="206.4" cy="502.9" r="1.9" fill="#b27758" stroke="#333" stroke-width="0.5"/>
<circle cx="290.6" cy="504.8" r="1.9" fill="#b27758" stroke="#333" stroke-width="0.5"/>
</svg>
</body></html>
